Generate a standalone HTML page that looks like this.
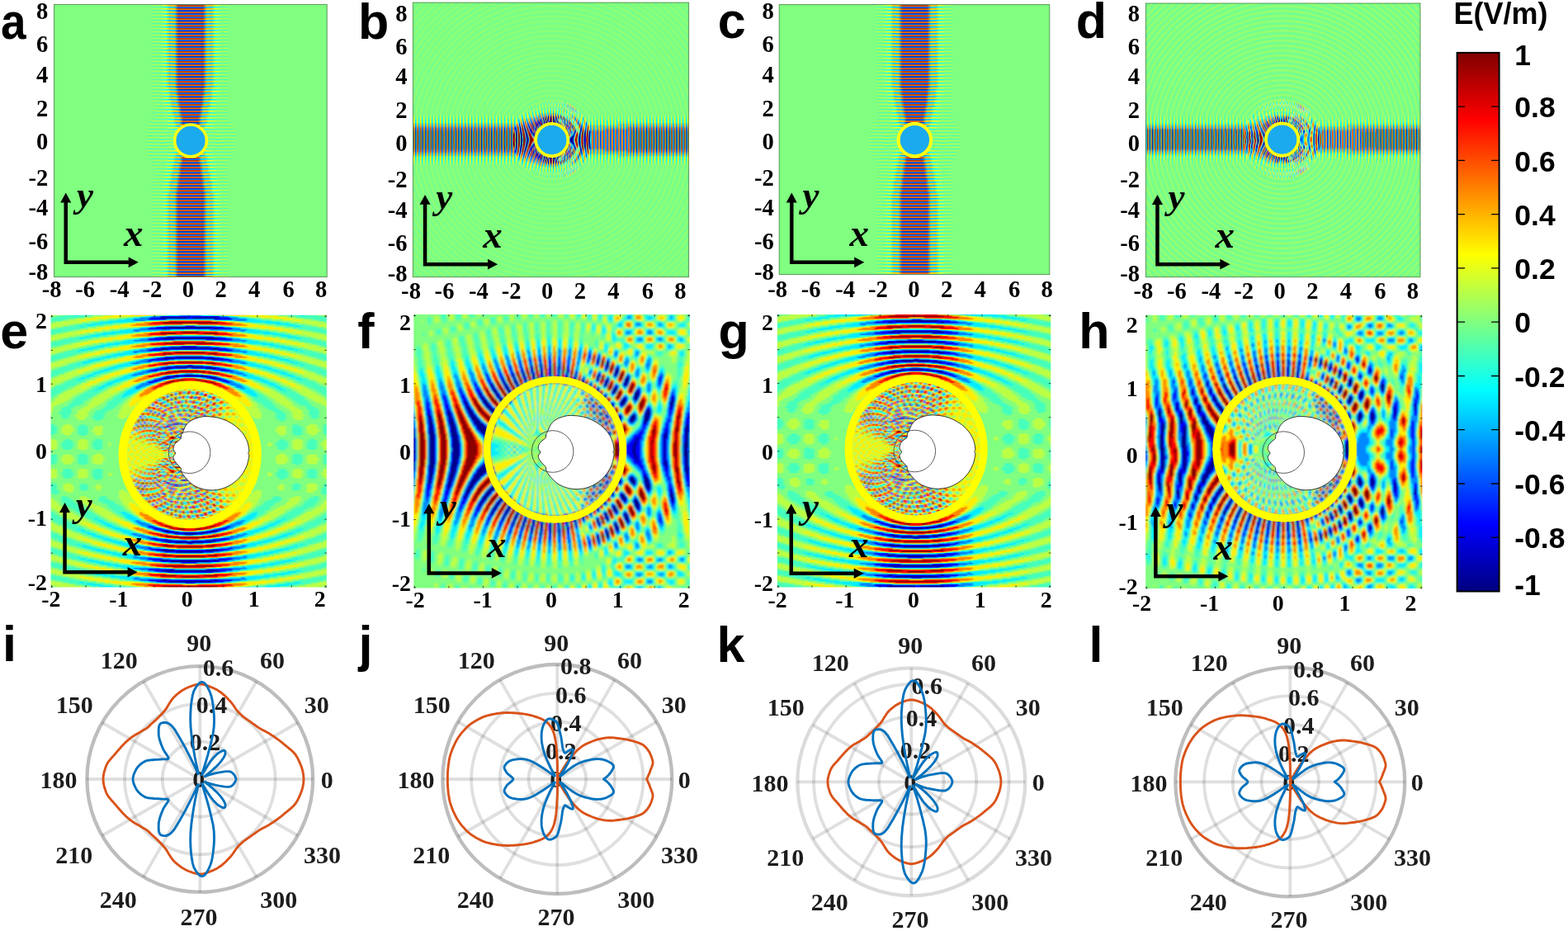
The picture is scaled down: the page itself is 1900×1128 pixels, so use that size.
<!DOCTYPE html>
<html lang="en"><head><meta charset="utf-8"><title>Figure</title>
<style>html,body{margin:0;padding:0;background:#fff}svg{display:block}text{white-space:pre}</style></head><body>
<svg width="1900" height="1128" viewBox="0 0 1900 1128">
<defs><path id="S344x86" d="M-2 0h90v1h-90v1h90v1h-90v1h90v1h-90v1h90v1h-90v1h90v1h-90v1h90v1h-90v1h90v1h-90v1h90v1h-90v1h90v1h-90v1h90v1h-90v1h90v1h-90v1h90v1h-90v1h90v1h-90v1h90v1h-90v1h90v1h-90v1h90v1h-90v1h90v1h-90v1h90v1h-90v1h90v1h-90v1h90v1h-90v1h90v1h-90v1h90v1h-90v1h90v1h-90v1h90v1h-90v1h90v1h-90v1h90v1h-90v1h90v1h-90v1h90v1h-90v1h90v1h-90v1h90v1h-90v1h90v1h-90v1h90v1h-90v1h90v1h-90v1h90v1h-90v1h90v1h-90v1h90v1h-90v1h90v1h-90v1h90v1h-90v1h90v1h-90v1h90v1h-90v1h90v1h-90v1h90v1h-90v1h90v1h-90v1h90v1h-90v1h90v1h-90v1h90v1h-90v1h90v1h-90v1h90v1h-90v1h90v1h-90v1h90v1h-90v1h90v1h-90v1h90v1h-90v1h90v1h-90v1h90v1h-90v1h90v1h-90v1h90v1h-90v1h90v1h-90v1h90v1h-90v1h90v1h-90v1h90v1h-90v1h90v1h-90v1h90v1h-90v1h90v1h-90v1h90v1h-90v1h90v1h-90v1h90v1h-90v1h90v1h-90v1h90v1h-90v1h90v1h-90v1h90v1h-90v1h90v1h-90v1h90v1h-90v1h90v1h-90v1h90v1h-90v1h90v1h-90v1h90v1h-90v1h90v1h-90v1h90v1h-90v1h90v1h-90v1h90v1h-90v1h90v1h-90v1h90v1h-90v1h90v1h-90v1h90v1h-90v1h90v1h-90v1h90v1h-90v1h90v1h-90v1h90v1h-90v1h90v1h-90v1h90v1h-90v1h90v1h-90v1h90v1h-90v1h90v1h-90v1h90v1h-90v1h90v1h-90v1h90v1h-90v1h90v1h-90v1h90v1h-90v1h90v1h-90v1h90v1h-90v1h90v1h-90v1h90v1h-90v1h90v1h-90v1h90v1h-90v1h90v1h-90v1h90v1h-90v1h90v1h-90v1h90v1h-90v1h90v1h-90v1h90v1h-90v1h90v1h-90v1h90v1h-90v1h90v1h-90v1h90v1h-90v1h90v1h-90v1h90v1h-90v1h90v1h-90v1h90v1h-90v1h90v1h-90v1h90v1h-90v1h90v1h-90v1h90v1h-90v1h90v1h-90v1h90v1h-90v1h90v1h-90v1h90v1h-90v1h90v1h-90v1h90v1h-90v1h90v1h-90v1h90v1h-90v1h90v1h-90v1h90v1h-90v1h90v1h-90v1h90v1h-90v1h90v1h-90v1h90v1h-90v1h90v1h-90v1h90v1h-90v1h90v1h-90v1h90v1h-90v1h90v1h-90v1h90v1h-90v1h90v1h-90v1h90v1h-90v1h90v1h-90v1h90v1h-90v1h90v1h-90v1h90v1h-90v1h90v1h-90v1h90v1h-90v1h90v1h-90v1h90v1h-90v1h90v1h-90v1h90v1h-90v1h90v1h-90v1h90v1h-90v1h90v1h-90v1h90v1h-90v1h90v1h-90v1h90v1h-90v1h90v1h-90v1h90v1h-90v1h90v1h-90v1h90v1h-90v1h90v1h-90v1h90v1h-90v1h90v1h-90v1h90v1h-90v1h90v1h-90v1h90v1h-90v1h90v1h-90v1h90v1h-90"/><path id="S344x64" d="M-2 0h68v1h-68v1h68v1h-68v1h68v1h-68v1h68v1h-68v1h68v1h-68v1h68v1h-68v1h68v1h-68v1h68v1h-68v1h68v1h-68v1h68v1h-68v1h68v1h-68v1h68v1h-68v1h68v1h-68v1h68v1h-68v1h68v1h-68v1h68v1h-68v1h68v1h-68v1h68v1h-68v1h68v1h-68v1h68v1h-68v1h68v1h-68v1h68v1h-68v1h68v1h-68v1h68v1h-68v1h68v1h-68v1h68v1h-68v1h68v1h-68v1h68v1h-68v1h68v1h-68v1h68v1h-68v1h68v1h-68v1h68v1h-68v1h68v1h-68v1h68v1h-68v1h68v1h-68v1h68v1h-68v1h68v1h-68v1h68v1h-68v1h68v1h-68v1h68v1h-68v1h68v1h-68v1h68v1h-68v1h68v1h-68v1h68v1h-68v1h68v1h-68v1h68v1h-68v1h68v1h-68v1h68v1h-68v1h68v1h-68v1h68v1h-68v1h68v1h-68v1h68v1h-68v1h68v1h-68v1h68v1h-68v1h68v1h-68v1h68v1h-68v1h68v1h-68v1h68v1h-68v1h68v1h-68v1h68v1h-68v1h68v1h-68v1h68v1h-68v1h68v1h-68v1h68v1h-68v1h68v1h-68v1h68v1h-68v1h68v1h-68v1h68v1h-68v1h68v1h-68v1h68v1h-68v1h68v1h-68v1h68v1h-68v1h68v1h-68v1h68v1h-68v1h68v1h-68v1h68v1h-68v1h68v1h-68v1h68v1h-68v1h68v1h-68v1h68v1h-68v1h68v1h-68v1h68v1h-68v1h68v1h-68v1h68v1h-68v1h68v1h-68v1h68v1h-68v1h68v1h-68v1h68v1h-68v1h68v1h-68v1h68v1h-68v1h68v1h-68v1h68v1h-68v1h68v1h-68v1h68v1h-68v1h68v1h-68v1h68v1h-68v1h68v1h-68v1h68v1h-68v1h68v1h-68v1h68v1h-68v1h68v1h-68v1h68v1h-68v1h68v1h-68v1h68v1h-68v1h68v1h-68v1h68v1h-68v1h68v1h-68v1h68v1h-68v1h68v1h-68v1h68v1h-68v1h68v1h-68v1h68v1h-68v1h68v1h-68v1h68v1h-68v1h68v1h-68v1h68v1h-68v1h68v1h-68v1h68v1h-68v1h68v1h-68v1h68v1h-68v1h68v1h-68v1h68v1h-68v1h68v1h-68v1h68v1h-68v1h68v1h-68v1h68v1h-68v1h68v1h-68v1h68v1h-68v1h68v1h-68v1h68v1h-68v1h68v1h-68v1h68v1h-68v1h68v1h-68v1h68v1h-68v1h68v1h-68v1h68v1h-68v1h68v1h-68v1h68v1h-68v1h68v1h-68v1h68v1h-68v1h68v1h-68v1h68v1h-68v1h68v1h-68v1h68v1h-68v1h68v1h-68v1h68v1h-68v1h68v1h-68v1h68v1h-68v1h68v1h-68v1h68v1h-68v1h68v1h-68v1h68v1h-68v1h68v1h-68v1h68v1h-68v1h68v1h-68v1h68v1h-68v1h68v1h-68v1h68v1h-68v1h68v1h-68v1h68v1h-68v1h68v1h-68v1h68v1h-68v1h68v1h-68v1h68v1h-68v1h68v1h-68v1h68v1h-68v1h68v1h-68v1h68v1h-68v1h68v1h-68v1h68v1h-68v1h68v1h-68v1h68v1h-68"/><path id="S250x137" d="M-2 0h141v1h-141v1h141v1h-141v1h141v1h-141v1h141v1h-141v1h141v1h-141v1h141v1h-141v1h141v1h-141v1h141v1h-141v1h141v1h-141v1h141v1h-141v1h141v1h-141v1h141v1h-141v1h141v1h-141v1h141v1h-141v1h141v1h-141v1h141v1h-141v1h141v1h-141v1h141v1h-141v1h141v1h-141v1h141v1h-141v1h141v1h-141v1h141v1h-141v1h141v1h-141v1h141v1h-141v1h141v1h-141v1h141v1h-141v1h141v1h-141v1h141v1h-141v1h141v1h-141v1h141v1h-141v1h141v1h-141v1h141v1h-141v1h141v1h-141v1h141v1h-141v1h141v1h-141v1h141v1h-141v1h141v1h-141v1h141v1h-141v1h141v1h-141v1h141v1h-141v1h141v1h-141v1h141v1h-141v1h141v1h-141v1h141v1h-141v1h141v1h-141v1h141v1h-141v1h141v1h-141v1h141v1h-141v1h141v1h-141v1h141v1h-141v1h141v1h-141v1h141v1h-141v1h141v1h-141v1h141v1h-141v1h141v1h-141v1h141v1h-141v1h141v1h-141v1h141v1h-141v1h141v1h-141v1h141v1h-141v1h141v1h-141v1h141v1h-141v1h141v1h-141v1h141v1h-141v1h141v1h-141v1h141v1h-141v1h141v1h-141v1h141v1h-141v1h141v1h-141v1h141v1h-141v1h141v1h-141v1h141v1h-141v1h141v1h-141v1h141v1h-141v1h141v1h-141v1h141v1h-141v1h141v1h-141v1h141v1h-141v1h141v1h-141v1h141v1h-141v1h141v1h-141v1h141v1h-141v1h141v1h-141v1h141v1h-141v1h141v1h-141v1h141v1h-141v1h141v1h-141v1h141v1h-141v1h141v1h-141v1h141v1h-141v1h141v1h-141v1h141v1h-141v1h141v1h-141v1h141v1h-141v1h141v1h-141v1h141v1h-141v1h141v1h-141v1h141v1h-141v1h141v1h-141v1h141v1h-141v1h141v1h-141v1h141v1h-141v1h141v1h-141v1h141v1h-141v1h141v1h-141v1h141v1h-141v1h141v1h-141v1h141v1h-141v1h141v1h-141v1h141v1h-141v1h141v1h-141v1h141v1h-141v1h141v1h-141v1h141v1h-141v1h141v1h-141v1h141v1h-141v1h141v1h-141v1h141v1h-141v1h141v1h-141v1h141v1h-141v1h141v1h-141v1h141v1h-141v1h141v1h-141v1h141v1h-141v1h141v1h-141"/><path id="S168x172" d="M-2 0h176v1h-176v1h176v1h-176v1h176v1h-176v1h176v1h-176v1h176v1h-176v1h176v1h-176v1h176v1h-176v1h176v1h-176v1h176v1h-176v1h176v1h-176v1h176v1h-176v1h176v1h-176v1h176v1h-176v1h176v1h-176v1h176v1h-176v1h176v1h-176v1h176v1h-176v1h176v1h-176v1h176v1h-176v1h176v1h-176v1h176v1h-176v1h176v1h-176v1h176v1h-176v1h176v1h-176v1h176v1h-176v1h176v1h-176v1h176v1h-176v1h176v1h-176v1h176v1h-176v1h176v1h-176v1h176v1h-176v1h176v1h-176v1h176v1h-176v1h176v1h-176v1h176v1h-176v1h176v1h-176v1h176v1h-176v1h176v1h-176v1h176v1h-176v1h176v1h-176v1h176v1h-176v1h176v1h-176v1h176v1h-176v1h176v1h-176v1h176v1h-176v1h176v1h-176v1h176v1h-176v1h176v1h-176v1h176v1h-176v1h176v1h-176v1h176v1h-176v1h176v1h-176v1h176v1h-176v1h176v1h-176v1h176v1h-176v1h176v1h-176v1h176v1h-176v1h176v1h-176v1h176v1h-176v1h176v1h-176v1h176v1h-176v1h176v1h-176v1h176v1h-176v1h176v1h-176v1h176v1h-176v1h176v1h-176v1h176v1h-176v1h176v1h-176v1h176v1h-176v1h176v1h-176v1h176v1h-176v1h176v1h-176v1h176v1h-176v1h176v1h-176v1h176v1h-176v1h176v1h-176v1h176v1h-176v1h176v1h-176v1h176v1h-176v1h176v1h-176v1h176v1h-176v1h176v1h-176v1h176v1h-176v1h176v1h-176"/><filter id="bl" x="-2%" y="-2%" width="104%" height="104%"><feGaussianBlur stdDeviation="0.9 0.5"/></filter><filter id="blf" x="-2%" y="-2%" width="104%" height="104%"><feGaussianBlur stdDeviation="1.0"/></filter><filter id="bla" x="-2%" y="-2%" width="104%" height="104%"><feGaussianBlur stdDeviation="1.6 0.7"/></filter><filter id="blb" x="-2%" y="-2%" width="104%" height="104%"><feGaussianBlur stdDeviation="0.55 0.8"/></filter><g id="Fa"><g transform="matrix(2 0 0 1 -86 -171.5)" stroke-width="1.1" fill="none"><use href="#S344x86" stroke="#af5" stroke-dasharray="0 22 46 51 34 233 46 51 34 233 46 51 34 233 46 51 34 233 46 51 34 233 46 51 34 233 46 51 34 233 46 51 34 233 46 51 34 233 46 51 34 233 46 51 34 233 46 51 34 233 46 51 34 233 46 51 34 233 46 51 34 233 46 51 34 233 46 51 34 233 46 51 34 233 46 51 34 233 46 51 34 233 46 51 34 233 46 51 34 233 46 51 34 233 46 51 34 233 46 51 34 233 46 51 34 233 46 51 34 233 46 51 34 233 46 51 34 233 46 51 34 233 46 52 32 234 46 52 32 235 44 53 32 235 44 54 30 236 44 54 30 237 42 55 30 236 44 55 28 236 46 54 28 234 50 52 28 233 52 51 28 232 54 55 18 237 54 45 4 30 4 227 20 14 20 45 4 30 4 227 20 14 20 45 4 30 4 227 20 14 20 45 4 30 4 227 54 57 14 239 54 51 26 234 52 51 28 235 48 53 28 236 46 54 28 237 44 54 30 236 44 54 30 236 44 54 30 236 44 53 32 235 44 53 32 234 46 52 32 234 46 51 34 233 46 51 34 233 46 51 34 233 46 51 34 233 46 51 34 233 46 51 34 233 46 51 34 233 46 51 34 233 46 51 34 233 46 51 34 233 46 51 34 233 46 51 34 233 46 51 34 233 46 51 34 233 46 51 34 233 46 51 34 233 46 51 34 233 46 51 34 233 46 51 34 233 46 51 34 233 46 51 34 233 46 51 34 233 46 51 34 233 46 51 34 233 46 51 34 233 46 51 34 233 46 51 34 233 46 51 34 233 46 51 34 233 46 51 34 999999"/><use href="#S344x86" stroke="#ef2" stroke-dasharray="0 28 34 62 24 244 34 62 24 244 34 62 24 244 34 62 24 244 34 62 24 244 34 62 24 244 34 62 24 244 34 62 24 244 34 62 24 244 34 62 24 244 34 62 24 244 34 62 24 244 34 62 24 244 34 62 24 244 34 62 24 244 34 62 24 244 34 62 24 244 34 62 24 244 34 62 24 244 34 62 24 244 34 62 24 244 34 62 24 244 34 62 24 244 34 62 24 244 34 62 24 244 34 62 24 244 34 62 24 244 34 62 24 244 34 63 22 246 32 64 22 246 32 64 22 246 32 65 20 248 30 66 20 248 30 66 20 249 28 68 18 250 28 68 18 250 28 68 18 250 28 69 16 252 26 70 16 252 26 72 12 258 18 1806 10 348 22 74 12 254 26 71 14 253 26 70 16 251 28 69 16 251 28 68 18 250 28 68 18 249 30 66 20 248 30 66 20 248 30 66 20 247 32 64 22 246 32 64 22 246 32 64 22 245 34 62 24 244 34 62 24 244 34 62 24 244 34 62 24 244 34 62 24 244 34 62 24 244 34 62 24 244 34 62 24 244 34 62 24 244 34 62 24 244 34 62 24 244 34 62 24 244 34 62 24 244 34 62 24 244 34 62 24 244 34 62 24 244 34 62 24 244 34 62 24 244 34 62 24 244 34 62 24 244 34 62 24 244 34 62 24 244 34 62 24 244 34 62 24 244 34 62 24 244 34 62 24 244 34 62 24 244 34 62 24 999999"/><use href="#S344x86" stroke="#f90" stroke-dasharray="0 31 28 68 18 250 28 68 18 250 28 68 18 250 28 68 18 250 28 68 18 250 28 68 18 250 28 68 18 250 28 68 18 250 28 68 18 250 28 68 18 250 28 68 18 250 28 68 18 250 28 68 18 250 28 68 18 250 28 68 18 250 28 68 18 250 28 68 18 250 28 68 18 250 28 68 18 250 28 68 18 250 28 68 18 250 28 68 18 250 28 68 18 250 28 68 18 250 28 68 18 250 28 68 18 250 28 68 18 250 28 69 16 252 26 70 16 252 26 70 16 252 26 70 16 253 24 71 16 253 24 72 14 255 22 73 14 255 22 73 14 255 22 74 12 257 20 75 12 257 20 75 12 258 18 77 10 260 16 350 12 2171 14 348 18 77 10 258 20 75 12 257 20 75 12 257 20 75 12 256 22 73 14 255 22 73 14 254 24 72 14 254 24 72 14 254 24 71 16 252 26 70 16 252 26 70 16 252 26 70 16 251 28 68 18 250 28 68 18 250 28 68 18 250 28 68 18 250 28 68 18 250 28 68 18 250 28 68 18 250 28 68 18 250 28 68 18 250 28 68 18 250 28 68 18 250 28 68 18 250 28 68 18 250 28 68 18 250 28 68 18 250 28 68 18 250 28 68 18 250 28 68 18 250 28 68 18 250 28 68 18 250 28 68 18 250 28 68 18 250 28 68 18 250 28 68 18 250 28 68 18 250 28 68 18 250 28 68 18 999999"/><use href="#S344x86" stroke="#a10" stroke-dasharray="0 36 18 346 18 346 18 346 18 346 18 346 18 346 18 346 18 346 18 346 18 346 18 346 18 346 18 346 18 346 18 346 18 346 18 346 18 346 18 346 18 346 18 346 18 346 18 346 18 346 18 346 18 346 18 346 18 346 18 346 18 347 16 348 16 348 16 349 14 350 14 350 14 351 12 352 12 352 12 354 8 2903 10 353 12 352 12 351 14 350 14 350 14 350 14 349 16 348 16 348 16 347 18 346 18 346 18 346 18 346 18 346 18 346 18 346 18 346 18 346 18 346 18 346 18 346 18 346 18 346 18 346 18 346 18 346 18 346 18 346 18 346 18 346 18 346 18 346 18 346 18 346 18 346 18 346 18 346 18 999999"/><use href="#S344x86" stroke="#5fa" stroke-dasharray="0 204 46 51 34 233 46 51 34 233 46 51 34 233 46 51 34 233 46 51 34 233 46 51 34 233 46 51 34 233 46 51 34 233 46 51 34 233 46 51 34 233 46 51 34 233 46 51 34 233 46 51 34 233 46 51 34 233 46 51 34 233 46 51 34 233 46 51 34 233 46 51 34 233 46 51 34 233 46 51 34 233 46 51 34 233 46 51 34 233 46 51 34 233 46 51 34 233 46 51 34 233 46 51 34 233 46 51 34 233 46 51 34 233 46 51 34 233 46 51 34 233 46 52 32 235 44 53 32 235 44 54 30 236 44 54 30 236 44 54 30 236 44 55 28 236 46 54 28 235 48 53 28 234 50 52 28 233 52 52 26 233 54 58 12 240 21 12 21 45 4 30 4 227 20 14 20 45 4 30 4 227 20 14 20 45 4 30 4 227 54 46 3 30 3 228 54 53 22 236 52 51 28 234 50 52 28 235 48 53 28 236 46 54 28 237 44 54 30 236 44 54 30 236 44 54 30 236 44 53 32 235 44 53 32 234 46 52 32 234 46 51 34 233 46 51 34 233 46 51 34 233 46 51 34 233 46 51 34 233 46 51 34 233 46 51 34 233 46 51 34 233 46 51 34 233 46 51 34 233 46 51 34 233 46 51 34 233 46 51 34 233 46 51 34 233 46 51 34 233 46 51 34 233 46 51 34 233 46 51 34 233 46 51 34 233 46 51 34 233 46 51 34 233 46 51 34 233 46 51 34 233 46 51 34 233 46 51 34 233 46 51 34 233 46 51 34 233 46 51 34 233 46 51 34 233 46 51 34 999999"/><use href="#S344x86" stroke="#2fe" stroke-dasharray="0 210 34 62 24 244 34 62 24 244 34 62 24 244 34 62 24 244 34 62 24 244 34 62 24 244 34 62 24 244 34 62 24 244 34 62 24 244 34 62 24 244 34 62 24 244 34 62 24 244 34 62 24 244 34 62 24 244 34 62 24 244 34 62 24 244 34 62 24 244 34 62 24 244 34 62 24 244 34 62 24 244 34 62 24 244 34 62 24 244 34 62 24 244 34 62 24 244 34 62 24 244 34 62 24 244 34 62 24 244 34 62 24 245 32 64 22 246 32 64 22 246 32 64 22 247 30 66 20 248 30 66 20 248 30 67 18 250 28 68 18 250 28 68 18 250 28 69 16 252 26 70 16 252 26 71 14 255 22 75 10 261 14 1805 16 344 24 72 14 253 26 70 16 252 26 70 16 251 28 68 18 250 28 68 18 250 28 68 18 249 30 66 20 248 30 66 20 248 30 65 22 246 32 64 22 246 32 64 22 246 32 64 22 245 34 62 24 244 34 62 24 244 34 62 24 244 34 62 24 244 34 62 24 244 34 62 24 244 34 62 24 244 34 62 24 244 34 62 24 244 34 62 24 244 34 62 24 244 34 62 24 244 34 62 24 244 34 62 24 244 34 62 24 244 34 62 24 244 34 62 24 244 34 62 24 244 34 62 24 244 34 62 24 244 34 62 24 244 34 62 24 244 34 62 24 244 34 62 24 244 34 62 24 244 34 62 24 244 34 62 24 244 34 62 24 999999"/><use href="#S344x86" stroke="#09f" stroke-dasharray="0 213 28 68 18 250 28 68 18 250 28 68 18 250 28 68 18 250 28 68 18 250 28 68 18 250 28 68 18 250 28 68 18 250 28 68 18 250 28 68 18 250 28 68 18 250 28 68 18 250 28 68 18 250 28 68 18 250 28 68 18 250 28 68 18 250 28 68 18 250 28 68 18 250 28 68 18 250 28 68 18 250 28 68 18 250 28 68 18 250 28 68 18 250 28 68 18 250 28 68 18 250 28 68 18 250 28 68 18 251 26 70 16 252 26 70 16 252 26 70 16 252 26 70 16 253 24 72 14 254 24 72 14 255 22 73 14 255 22 74 12 257 20 75 12 257 20 75 12 257 20 75 12 258 18 77 10 261 14 2172 10 351 16 347 18 77 10 258 20 75 12 257 20 75 12 256 22 74 12 256 22 73 14 255 22 73 14 254 24 72 14 254 24 71 16 252 26 70 16 252 26 70 16 252 26 70 16 252 26 69 18 250 28 68 18 250 28 68 18 250 28 68 18 250 28 68 18 250 28 68 18 250 28 68 18 250 28 68 18 250 28 68 18 250 28 68 18 250 28 68 18 250 28 68 18 250 28 68 18 250 28 68 18 250 28 68 18 250 28 68 18 250 28 68 18 250 28 68 18 250 28 68 18 250 28 68 18 250 28 68 18 250 28 68 18 250 28 68 18 250 28 68 18 250 28 68 18 250 28 68 18 250 28 68 18 250 28 68 18 999999"/><use href="#S344x86" stroke="#01a" stroke-dasharray="0 218 18 346 18 346 18 346 18 346 18 346 18 346 18 346 18 346 18 346 18 346 18 346 18 346 18 346 18 346 18 346 18 346 18 346 18 346 18 346 18 346 18 346 18 346 18 346 18 346 18 346 18 346 18 346 18 346 18 347 16 348 16 348 16 348 16 349 14 350 14 350 14 351 12 352 12 353 10 3265 12 352 12 352 12 351 14 350 14 350 14 349 16 348 16 348 16 348 16 347 18 346 18 346 18 346 18 346 18 346 18 346 18 346 18 346 18 346 18 346 18 346 18 346 18 346 18 346 18 346 18 346 18 346 18 346 18 346 18 346 18 346 18 346 18 346 18 346 18 346 18 346 18 346 18 346 18 999999"/></g></g><g id="Fb"><g transform="matrix(0 2 1 0 -171.5 -64)" stroke-width="1.1" fill="none"><use href="#S344x64" stroke="#bf4" stroke-dasharray="0 19 30 41 26 179 30 41 26 179 30 41 26 179 30 41 26 179 30 41 26 179 30 41 26 179 30 41 26 179 30 41 26 179 30 41 26 179 30 41 26 179 30 41 26 179 30 41 26 179 30 41 26 179 30 41 26 179 30 41 26 179 30 41 26 179 30 41 26 179 30 41 26 179 30 41 26 179 30 41 26 179 30 41 26 179 30 41 26 179 30 41 26 179 30 41 26 179 30 41 26 179 30 41 26 179 30 41 26 179 30 41 26 179 30 41 26 179 30 41 26 179 30 41 26 179 30 41 26 50 12 60 6 51 6 18 6 41 6 14 6 45 9 4 9 49 18 45 2 7 12 7 2 40 3 10 2 10 3 41 6 16 6 44 5 12 5 49 6 6 6 44 3 6 14 6 3 37 5 6 10 6 4 41 4 6 6 6 4 45 4 14 4 40 3 5 4 12 4 5 2 35 4 5 4 8 4 5 4 33 1 4 3 4 4 6 4 4 3 42 4 3 12 3 4 38 2 5 3 3 10 3 3 5 1 35 3 4 3 3 8 3 3 4 4 31 1 4 3 3 3 3 6 3 3 3 3 3 1 36 3 3 3 3 4 3 3 3 3 37 2 4 3 2 2 3 4 3 2 2 3 4 2 1 2 30 4 3 3 2 2 3 2 3 2 2 3 3 4 31 1 3 4 2 2 2 2 8 2 2 2 2 4 32 1 6 3 2 2 2 10 2 2 2 3 36 2 5 2 2 2 12 2 2 2 4 2 2 1 30 4 3 2 2 14 2 2 3 4 31 1 3 4 2 2 16 2 2 4 31 2 6 3 2 1 16 1 2 3 7 1 28 3 4 2 2 16 2 2 4 3 1 1 25 1 4 4 3 2 18 2 3 3 37 3 2 20 2 3 32 2 7 2 22 2 5 1 2 2 27 4 4 2 18 2 4 4 27 1 6 4 2 20 2 4 4 1 34 3 22 3 33 2 1 3 5 22 5 4 1 2 27 6 26 6 27 1 8 28 6 1 25 1 11 22 10 1 25 1 2 7 24 8 1 2 22 1 2 1 5 30 7 2 21 1 43 1 2 1 22 2 1 39 2 1 25 1 2 18 2 18 3 1 22 1 2 1 42 2 28 34 6 1 22 2 1 7 9 2 4 2 9 6 2 1 36 7 2 4 2 7 37 1 5 4 7 3 2 3 7 4 4 1 2 1 27 6 5 1 3 3 2 3 3 1 5 6 27 2 2 1 6 4 2 3 2 2 2 3 2 4 6 1 1 2 24 1 2 1 4 4 3 2 3 2 2 2 3 2 3 4 5 1 27 1 2 5 1 4 3 10 3 4 1 5 4 1 24 2 1 2 9 3 10 3 9 2 2 2 31 3 1 4 3 8 3 4 1 3 4 1 26 1 2 1 1 2 1 1 2 1 1 1 2 3 8 3 2 1 1 1 2 1 1 2 2 1 26 1 2 2 7 3 5 4 5 3 7 2 1 2 31 1 1 2 1 1 1 1 2 4 4 4 2 1 1 1 1 2 1 1 5 1 26 2 2 1 2 1 26 1 2 1 2 1 28 1 2 2 1 1 2 1 1 5 3 4 3 5 1 1 2 1 1 3 1 1 26 1 6 1 1 2 1 1 18 1 1 2 1 1 5 1 26 1 1 1 3 1 7 1 1 12 1 1 7 1 3 1 1 1 27 1 1 3 1 1 2 1 1 2 14 2 1 1 2 1 1 3 1 1 28 1 2 1 3 1 1 2 1 1 2 1 1 8 1 1 2 1 1 2 1 1 3 1 30 1 1 1 6 1 2 1 1 2 1 2 4 2 1 2 1 1 2 1 6 1 1 1 27 1 1 1 1 3 2 1 1 2 1 2 2 1 4 1 2 2 1 2 1 1 2 1 1 1 1 1 1 1 29 1 1 3 1 5 1 1 12 1 1 5 1 3 1 1 30 1 1 1 7 1 18 1 7 1 1 1 29 1 1 1 1 1 1 2 5 2 10 2 5 2 3 1 1 1 31 1 1 4 1 2 1 3 10 3 1 2 1 4 1 1 32 1 1 1 1 1 3 1 2 2 4 4 4 2 2 1 3 1 1 1 1 1 31 1 1 1 5 1 7 6 7 1 5 1 1 1 33 1 3 3 1 2 2 10 2 2 1 3 3 1 34 1 3 3 3 1 2 10 2 1 3 3 37 1 1 1 10 3 4 3 10 1 1 1 35 1 6 4 10 4 6 1 42 5 12 5 45 5 16 5 41 4 7 8 7 4 39 2 7 12 7 2 45 18 49 7 8 7 45 6 14 6 42 4 20 4 51 8 57 16 52 18 46 8 12 8 44 5 12 5 182 28 44 22 182 28 44 22 181 30 42 24 180 30 42 24 180 30 42 24 180 30 42 24 180 30 42 24 180 30 42 24 180 30 42 24 180 30 42 24 180 30 42 24 180 30 42 24 180 30 42 24 180 30 42 24 180 30 42 24 180 30 41 26 179 30 41 26 179 30 41 26 179 30 41 26 179 30 41 26 179 30 41 26 179 30 41 26 179 30 41 26 179 30 41 26 179 30 41 26 179 30 41 26 179 30 41 26 179 30 41 26 179 30 41 26 179 30 41 26 179 30 41 26 999999"/><use href="#S344x64" stroke="#fe0" stroke-dasharray="0 21 26 47 18 185 26 47 18 185 26 47 18 185 26 47 18 185 26 47 18 185 26 47 18 185 26 47 18 185 26 47 18 185 26 47 18 185 26 47 18 185 26 47 18 185 26 47 18 185 26 47 18 185 26 47 18 185 26 47 18 185 26 47 18 185 26 47 18 185 26 47 18 185 26 47 18 185 26 47 18 185 26 47 18 185 26 47 18 185 26 47 18 185 26 47 18 185 26 47 18 185 26 47 18 185 26 47 18 185 26 47 18 185 26 47 18 185 26 47 18 185 26 47 18 185 26 47 18 54 12 61 4 54 4 18 4 46 3 14 3 48 8 6 8 50 16 56 10 50 3 22 3 42 5 16 5 45 5 12 5 49 6 6 6 44 1 8 14 7 2 39 3 6 10 6 3 42 4 6 6 6 4 45 4 14 4 41 1 6 4 12 4 43 3 5 4 8 4 5 2 40 3 4 4 6 4 4 3 43 3 3 5 2 5 3 3 39 1 6 3 3 10 3 3 41 3 4 3 3 8 3 3 4 2 38 3 3 3 3 6 3 3 3 3 41 2 3 3 3 4 3 3 3 2 38 1 5 3 2 2 4 2 4 2 2 3 40 3 3 2 3 2 3 2 3 2 3 2 3 2 38 2 3 2 2 2 8 2 2 2 3 2 40 3 2 2 2 10 2 2 2 3 43 2 2 2 12 2 2 2 40 3 3 2 2 14 2 2 3 3 37 2 3 2 16 2 3 2 40 3 2 1 16 1 2 3 7 1 28 1 6 2 2 16 2 2 5 1 34 3 3 2 18 2 3 3 37 3 2 20 2 3 41 2 22 2 37 1 1 2 4 1 20 1 4 3 35 3 3 20 3 3 40 2 22 2 45 22 7 1 33 4 26 4 38 28 44 22 39 7 24 7 36 28 107 36 2 1 31 4 24 4 106 32 34 5 10 2 4 2 10 5 2 1 36 7 2 4 2 7 43 4 7 2 4 2 7 4 36 5 10 2 2 2 10 4 1 1 38 4 2 2 3 2 3 2 2 4 9 1 33 2 4 2 3 2 2 2 3 2 4 2 39 2 4 2 3 10 3 2 4 2 31 1 13 3 10 3 10 1 2 1 33 2 1 1 1 2 3 8 3 2 1 1 1 2 32 1 7 1 2 1 1 1 2 3 8 3 2 1 1 1 2 1 32 1 2 2 7 3 5 4 5 3 7 1 37 2 1 1 1 1 3 2 6 2 3 1 1 1 1 2 38 1 32 1 31 1 2 2 1 1 2 1 1 5 3 4 3 5 1 1 2 1 1 3 28 1 8 2 1 1 18 1 1 2 34 1 1 1 11 1 1 12 1 1 11 1 29 1 1 1 1 1 1 1 2 1 1 2 14 2 1 1 2 1 1 1 1 1 1 1 35 1 1 2 1 1 2 1 1 8 1 1 2 1 1 2 1 1 34 1 1 1 11 2 1 2 4 2 1 2 11 1 1 1 27 1 1 1 1 1 1 1 4 2 1 2 10 2 1 2 4 1 1 1 1 1 1 1 35 2 1 2 1 1 12 1 1 2 1 2 36 1 1 1 7 1 18 1 7 1 1 1 29 1 1 1 3 2 5 2 10 2 5 2 3 1 1 1 31 1 2 3 1 2 1 3 10 3 1 2 1 3 35 1 10 1 6 2 6 1 10 1 31 1 1 1 13 6 13 1 1 1 37 3 2 1 2 10 2 1 2 3 43 2 3 1 2 10 2 1 3 2 38 1 1 1 10 2 6 2 10 1 1 1 35 1 6 2 14 2 49 4 14 4 47 2 18 2 44 2 9 6 9 3 39 1 8 12 55 16 51 6 8 6 46 5 16 5 44 1 22 1 53 8 57 16 52 18 49 5 12 5 51 1 12 1 189 22 51 14 189 22 51 14 188 24 50 14 188 24 49 16 187 24 49 16 187 24 49 16 187 24 49 16 187 24 49 16 187 24 49 16 187 24 49 16 187 24 49 16 187 24 48 18 186 24 48 18 186 24 48 18 186 24 48 18 186 24 48 18 185 26 47 18 185 26 47 18 185 26 47 18 185 26 47 18 185 26 47 18 185 26 47 18 185 26 47 18 185 26 47 18 185 26 47 18 185 26 47 18 185 26 47 18 185 26 47 18 185 26 47 18 185 26 47 18 185 26 47 18 999999"/><use href="#S344x64" stroke="#f80" stroke-dasharray="0 24 20 256 20 256 20 256 20 256 20 256 20 256 20 256 20 256 20 256 20 256 20 256 20 256 20 256 20 256 20 256 20 256 20 256 20 256 20 256 20 256 20 256 20 256 20 256 20 256 20 256 20 256 20 256 20 256 20 256 20 256 20 256 20 55 8 59 12 62 2 58 1 18 1 49 2 16 2 49 6 8 6 51 16 56 10 121 3 18 3 47 4 12 4 50 6 6 6 53 14 49 1 7 10 7 1 44 3 6 6 6 3 46 3 16 3 49 3 12 3 52 3 10 3 48 2 4 4 6 4 4 2 44 2 4 5 2 5 4 2 46 3 3 10 3 3 48 3 3 8 3 3 45 2 3 3 3 6 3 3 3 2 42 2 3 2 4 4 4 2 3 2 44 2 3 2 4 2 4 2 3 2 47 1 3 2 8 2 3 1 44 2 4 1 2 2 8 2 2 1 4 2 41 2 2 2 2 10 2 2 2 2 44 2 2 1 14 1 2 2 46 2 2 14 2 2 43 2 3 2 16 2 3 2 41 2 2 1 16 1 2 2 44 2 2 16 2 2 41 2 3 2 18 2 3 2 39 2 2 20 2 2 42 2 22 2 45 1 20 1 43 2 3 20 3 2 41 2 22 2 45 22 42 3 26 3 39 4 20 4 44 22 41 4 26 4 38 28 108 32 176 11 1 6 1 11 38 1 11 1 6 1 11 1 42 6 4 2 4 6 44 3 8 1 4 1 8 3 39 2 11 2 2 2 11 2 42 3 2 2 3 2 3 2 2 3 44 2 4 2 4 1 2 1 4 2 4 2 40 1 4 2 3 3 1 2 1 3 3 2 4 1 46 3 10 3 47 2 1 1 1 1 4 8 4 1 1 1 1 2 43 1 4 3 8 3 4 1 49 1 5 4 5 1 47 2 1 1 1 1 3 2 6 2 3 1 1 1 1 2 112 1 1 1 1 2 5 2 5 2 1 1 1 1 44 2 1 1 18 1 1 2 48 1 1 12 1 1 11 1 35 1 2 1 1 2 14 2 1 1 2 1 43 2 1 1 4 8 4 1 1 2 51 1 1 2 4 2 1 1 14 1 29 1 3 1 4 2 1 2 10 2 1 2 4 1 3 1 1 1 35 1 2 2 16 2 2 1 36 1 68 1 12 2 10 2 10 1 1 1 35 1 2 1 2 2 12 2 2 1 2 1 47 1 6 2 6 1 42 1 15 6 15 1 38 2 6 8 6 2 44 2 6 10 6 2 51 2 6 2 55 2 14 2 50 3 14 3 48 2 18 2 55 6 60 12 55 16 52 4 10 4 48 3 18 3 123 6 59 14 53 18 51 2 14 2 258 18 258 18 258 18 258 18 258 18 258 18 258 18 258 18 257 20 256 20 256 20 256 20 256 20 256 20 256 20 256 20 256 20 256 20 256 20 256 20 256 20 256 20 256 20 256 20 256 20 256 20 256 20 256 20 256 20 256 20 256 20 999999"/><use href="#S344x64" stroke="#f00" stroke-dasharray="0 26 16 260 16 260 16 260 16 260 16 260 16 260 16 260 16 260 16 260 16 260 16 260 16 260 16 260 16 260 16 260 16 260 16 260 16 260 16 260 16 260 16 260 16 260 16 260 16 260 16 260 16 260 16 260 16 260 16 260 16 260 16 260 16 57 8 59 12 261 4 10 4 53 14 58 8 193 3 14 3 51 4 8 4 55 12 59 8 54 1 8 4 8 1 48 2 16 2 50 3 12 3 52 3 10 3 55 3 6 3 52 1 5 3 4 3 5 1 48 1 5 8 5 1 50 2 4 6 4 2 52 1 5 4 5 1 49 1 4 1 4 4 4 1 4 1 46 1 3 2 4 2 4 2 3 1 48 1 3 1 10 1 3 1 50 1 3 1 8 1 3 1 47 1 3 2 2 10 2 2 3 1 44 2 2 1 14 1 2 2 46 2 2 14 2 2 44 1 3 1 18 1 3 1 42 1 3 1 16 1 3 1 44 2 2 16 2 2 46 2 18 2 44 2 2 20 2 2 43 1 22 1 46 1 20 1 43 2 3 20 3 2 41 2 22 2 45 22 43 1 28 1 41 2 22 2 110 1 28 1 41 26 111 28 179 10 2 4 2 10 51 1 6 1 54 6 4 2 4 6 44 3 22 3 113 2 3 2 3 2 3 2 3 2 44 1 5 2 4 1 2 1 4 2 5 1 45 2 3 3 1 2 1 3 3 2 52 2 10 2 48 1 4 1 4 8 4 1 4 1 49 2 8 2 55 1 5 4 5 1 47 2 1 1 20 1 1 2 112 1 1 1 1 1 14 1 1 1 1 1 44 1 2 1 18 1 2 1 48 1 1 12 1 1 50 1 1 2 14 2 1 1 46 2 6 8 6 2 51 1 1 2 4 2 1 1 54 1 1 2 10 2 1 1 50 1 18 1 121 1 12 1 48 1 5 2 12 2 5 1 122 4 55 1 7 8 7 1 45 1 6 4 2 4 6 1 185 3 14 3 126 4 62 10 57 6 2 6 267 4 61 12 54 7 4 7 330 12 264 12 264 12 264 12 263 14 262 14 262 14 262 14 262 14 262 14 262 14 261 16 260 16 260 16 260 16 260 16 260 16 260 16 260 16 260 16 260 16 260 16 260 16 260 16 260 16 260 16 260 16 260 16 260 16 260 16 260 16 999999"/><use href="#S344x64" stroke="#800" stroke-dasharray="0 28 12 264 12 264 12 264 12 264 12 264 12 264 12 264 12 264 12 264 12 264 12 264 12 264 12 264 12 264 12 264 12 264 12 264 12 264 12 264 12 264 12 264 12 264 12 264 12 264 12 264 12 264 12 264 12 264 12 264 12 264 12 264 12 59 3 2 3 60 10 263 2 12 2 55 12 59 8 264 3 10 3 55 12 59 8 64 2 129 1 14 1 54 2 10 2 56 2 8 2 58 3 4 3 54 1 5 8 5 1 50 1 5 6 5 1 52 1 5 4 5 1 54 1 5 2 5 1 51 1 3 2 10 2 3 1 48 1 3 1 10 1 3 1 50 1 3 1 8 1 3 1 52 1 2 10 2 1 53 1 14 1 50 2 2 14 2 2 48 1 18 1 46 1 3 1 16 1 3 1 44 2 2 16 2 2 47 1 18 1 50 18 48 1 22 1 46 1 20 1 48 20 46 2 22 2 45 22 114 2 22 2 182 24 320 9 2 4 2 9 114 2 2 2 4 2 4 2 2 2 45 2 22 2 114 2 4 1 3 2 3 1 4 2 50 2 12 2 51 2 3 2 2 2 2 2 3 2 52 1 12 1 48 1 4 1 5 6 5 1 4 1 49 1 10 1 119 1 1 1 20 1 1 1 115 1 18 1 46 1 24 1 50 12 52 1 1 1 16 1 1 1 54 8 59 1 10 1 54 1 1 1 12 1 1 1 50 1 18 1 121 1 12 1 54 2 12 2 129 2 65 6 62 2 4 2 193 2 16 2 192 10 58 3 6 3 334 10 56 4 8 4 3643 12 264 12 264 12 264 12 264 12 264 12 264 12 264 12 264 12 264 12 264 12 264 12 264 12 264 12 264 12 264 12 264 12 264 12 264 12 999999"/><use href="#S344x64" stroke="#4fb" stroke-dasharray="0 157 30 41 26 179 30 41 26 179 30 41 26 179 30 41 26 179 30 41 26 179 30 41 26 179 30 41 26 179 30 41 26 179 30 41 26 179 30 41 26 179 30 41 26 179 30 41 26 179 30 41 26 179 30 41 26 179 30 41 26 179 30 41 26 179 30 41 26 179 30 41 26 179 30 41 26 179 30 41 26 179 30 41 26 179 30 41 26 179 30 41 26 179 30 41 26 179 30 41 26 179 30 41 26 179 30 41 26 179 30 41 26 179 30 41 26 179 30 41 26 179 30 41 26 179 9 12 9 41 9 8 9 47 18 53 14 47 4 9 4 9 4 41 4 18 4 43 7 12 7 46 8 4 8 44 1 6 16 6 1 39 3 7 10 7 3 39 5 8 4 8 5 42 4 16 4 47 4 12 4 42 3 5 6 6 6 5 3 36 4 5 14 5 4 39 4 4 12 4 4 43 4 4 8 4 4 39 3 4 4 5 4 5 4 4 2 35 4 4 3 12 3 4 4 37 4 3 3 10 3 3 4 34 1 6 3 3 3 8 3 3 3 38 2 4 3 3 3 6 3 3 3 4 2 1 1 32 3 4 2 3 3 4 3 3 2 4 4 31 1 4 3 3 2 2 3 4 3 2 2 3 4 2 1 29 1 6 3 3 2 2 3 2 3 2 2 3 3 6 1 29 2 5 2 2 2 2 8 2 2 2 2 4 2 2 1 30 4 3 2 2 2 10 2 2 2 3 4 31 1 3 4 2 2 2 12 2 2 2 4 32 1 6 3 2 2 14 2 2 3 7 1 28 3 4 2 2 16 2 2 4 2 2 1 30 4 3 2 1 16 1 2 3 4 36 3 2 2 16 2 2 3 32 2 7 2 2 18 2 2 8 1 28 4 3 2 20 2 3 4 1 1 25 1 5 4 2 22 2 4 3 1 34 3 2 18 2 3 33 2 1 2 5 2 20 2 6 1 2 2 27 5 3 22 3 5 27 1 7 3 24 3 5 1 36 24 35 1 2 5 28 6 1 2 29 6 22 6 28 2 10 24 8 1 2 1 22 2 1 4 32 3 2 1 25 1 2 39 1 2 22 1 2 1 42 2 65 1 2 1 22 2 1 39 2 1 92 1 2 1 7 9 2 4 2 9 6 1 2 2 26 7 8 2 4 2 8 7 27 2 1 4 5 7 3 2 3 7 5 3 2 1 34 5 1 3 3 2 3 3 1 5 35 1 4 4 4 2 3 2 2 2 3 2 4 4 3 1 2 1 24 2 1 4 4 3 2 3 2 2 2 3 2 3 4 4 2 1 24 2 8 1 4 3 10 3 4 1 8 1 24 1 2 1 3 5 1 2 3 10 3 2 1 5 4 1 29 3 9 3 8 3 9 3 28 2 4 1 2 1 1 1 1 2 4 6 4 2 1 1 1 1 2 1 5 2 25 2 4 2 1 2 4 3 6 3 4 2 1 2 4 1 2 1 28 2 6 1 1 2 4 4 4 2 1 1 6 3 28 1 5 2 1 4 18 4 1 2 4 2 25 1 1 1 5 2 1 1 6 2 4 2 6 1 1 2 5 1 31 3 4 1 1 1 1 14 1 1 1 1 4 3 30 1 3 1 1 7 16 7 1 1 1 1 1 1 27 1 1 1 5 2 4 1 1 10 1 1 4 2 5 1 1 1 29 1 2 1 5 1 1 2 1 1 8 1 1 2 1 1 5 1 3 1 29 1 1 1 1 1 1 2 1 2 1 1 5 4 5 1 1 2 1 2 1 1 1 1 1 1 29 1 1 1 6 1 5 1 2 4 2 1 5 1 6 1 1 1 29 1 1 1 3 1 5 1 1 12 1 1 5 1 3 1 1 1 30 1 1 1 1 2 1 2 1 2 1 2 1 6 1 2 1 2 1 2 1 2 1 1 1 1 31 1 1 1 1 1 2 1 1 3 3 8 3 3 1 1 2 1 1 1 1 1 31 1 1 1 11 10 11 1 1 1 32 1 1 1 2 2 1 1 3 4 4 4 3 1 1 2 4 1 33 1 1 1 1 3 1 2 1 3 8 3 1 2 1 3 1 1 1 1 33 1 1 1 1 1 7 1 10 1 7 1 1 1 1 1 34 1 6 1 18 1 6 1 35 1 4 4 1 2 3 4 3 2 1 4 4 1 35 1 3 3 6 8 6 3 40 4 6 12 6 4 37 2 6 16 7 1 43 6 8 6 47 5 14 5 43 5 18 5 41 2 8 8 8 2 48 14 52 20 48 6 10 6 44 6 16 6 44 2 18 2 53 10 58 12 49 28 44 22 182 28 44 22 181 30 42 24 180 30 42 24 180 30 42 24 180 30 42 24 180 30 42 24 180 30 42 24 180 30 42 24 180 30 42 24 180 30 42 24 180 30 42 24 180 30 42 24 180 30 42 24 180 30 42 24 180 30 42 24 180 30 41 26 179 30 41 26 179 30 41 26 179 30 41 26 179 30 41 26 179 30 41 26 179 30 41 26 179 30 41 26 179 30 41 26 179 30 41 26 179 30 41 26 179 30 41 26 179 30 41 26 179 30 41 26 179 30 41 26 179 30 41 26 999999"/><use href="#S344x64" stroke="#0ef" stroke-dasharray="0 159 26 47 18 185 26 47 18 185 26 47 18 185 26 47 18 185 26 47 18 185 26 47 18 185 26 47 18 185 26 47 18 185 26 47 18 185 26 47 18 185 26 47 18 185 26 47 18 185 26 47 18 185 26 47 18 185 26 47 18 185 26 47 18 185 26 47 18 185 26 47 18 185 26 47 18 185 26 47 18 185 26 47 18 185 26 47 18 185 26 47 18 185 26 47 18 185 26 47 18 185 26 47 18 185 26 47 18 185 26 47 18 185 26 47 18 185 26 47 18 185 26 47 18 185 7 12 7 47 5 8 5 51 18 54 12 50 2 22 2 44 2 20 2 45 6 12 6 47 7 6 7 51 16 46 2 8 10 8 2 40 4 8 4 8 4 43 4 16 4 47 4 12 4 42 1 8 4 8 4 7 1 38 3 5 14 5 3 41 3 5 10 5 3 44 3 5 8 5 3 40 1 6 3 5 4 5 3 43 2 5 3 12 3 5 1 40 2 4 3 10 3 4 2 42 3 3 3 8 3 3 3 38 1 5 3 3 3 6 3 3 3 40 3 4 2 3 3 4 3 3 2 4 2 38 3 3 2 2 3 4 3 2 2 3 3 40 3 3 2 2 3 2 3 2 2 3 3 37 1 5 2 2 2 2 8 2 2 2 2 40 2 4 2 2 2 10 2 2 2 4 1 38 2 3 2 2 12 2 2 3 2 40 3 2 2 14 2 2 3 36 1 6 2 2 1 14 1 2 2 5 1 34 3 3 2 1 16 1 2 3 3 37 3 2 2 16 2 2 3 41 2 2 18 2 2 37 1 1 1 4 2 20 2 4 2 35 3 3 20 3 3 39 3 2 18 2 3 43 2 20 2 40 3 3 22 3 4 36 3 24 3 42 24 35 1 2 4 30 4 34 5 22 5 41 24 107 36 171 38 2 1 103 9 2 4 2 9 39 5 8 2 4 2 8 5 33 1 7 3 1 2 4 2 4 2 1 3 7 1 2 1 34 4 3 2 3 2 3 2 3 4 40 4 4 2 3 2 2 2 3 2 4 4 34 3 5 3 2 3 2 2 2 3 2 3 5 1 1 1 37 1 4 2 12 2 4 1 41 2 1 1 1 2 3 10 3 2 1 1 1 2 5 1 29 2 10 3 8 3 10 1 29 1 8 1 1 1 1 2 4 6 4 2 1 1 1 1 8 1 33 1 1 2 4 3 6 3 4 2 1 1 5 1 31 2 8 2 4 4 4 2 9 2 28 1 6 1 1 4 18 4 1 1 6 1 27 1 5 2 1 1 6 1 6 1 6 1 1 2 5 1 32 1 7 1 1 3 1 6 1 3 1 1 7 2 30 1 5 2 1 4 16 4 1 2 3 1 1 1 27 1 1 1 6 1 4 1 1 10 1 1 4 1 6 1 1 1 32 1 5 1 1 2 1 1 8 1 1 2 1 1 5 1 33 1 1 1 1 1 1 2 1 2 1 1 5 4 5 1 1 2 1 2 1 1 1 1 1 1 29 1 1 1 6 1 5 1 2 4 2 1 5 1 6 1 1 1 41 1 1 2 1 6 1 2 1 1 42 1 3 2 1 1 2 2 1 2 1 6 1 2 1 2 2 1 1 2 3 1 31 1 1 1 1 1 2 1 2 1 4 8 4 1 2 1 2 1 1 1 1 1 45 10 51 2 5 4 4 4 5 2 4 1 33 1 3 2 2 2 1 3 8 3 1 2 2 2 3 1 33 1 11 1 10 1 11 1 41 1 18 1 47 4 7 2 7 4 4 1 40 2 6 8 6 2 51 12 47 1 7 16 7 1 43 6 8 6 48 4 14 4 44 4 20 4 41 2 9 6 9 2 49 12 54 18 49 6 10 6 47 2 18 2 122 10 58 12 52 22 51 14 189 22 51 14 188 24 50 14 188 24 50 14 188 24 49 16 187 24 49 16 187 24 49 16 187 24 49 16 187 24 49 16 187 24 49 16 187 24 49 16 187 24 49 16 187 24 48 18 186 24 48 18 186 24 48 18 186 24 48 18 185 26 47 18 185 26 47 18 185 26 47 18 185 26 47 18 185 26 47 18 185 26 47 18 185 26 47 18 185 26 47 18 185 26 47 18 185 26 47 18 185 26 47 18 185 26 47 18 185 26 47 18 185 26 47 18 185 26 47 18 185 26 47 18 999999"/><use href="#S344x64" stroke="#08f" stroke-dasharray="0 162 20 256 20 256 20 256 20 256 20 256 20 256 20 256 20 256 20 256 20 256 20 256 20 256 20 256 20 256 20 256 20 256 20 256 20 256 20 256 20 256 20 256 20 256 20 256 20 256 20 256 20 256 20 256 20 256 20 256 20 256 20 256 4 12 4 51 3 10 3 52 18 54 12 120 1 22 1 46 4 14 4 49 6 6 6 53 14 57 10 51 2 10 2 10 2 45 3 16 3 48 4 12 4 51 4 8 4 54 6 2 6 49 2 6 10 6 2 45 2 5 8 5 2 48 3 5 4 5 3 50 3 12 3 46 2 4 3 10 3 4 2 42 3 3 3 8 3 3 3 45 2 3 3 6 3 3 2 48 2 3 2 6 2 3 2 45 1 4 2 2 3 4 3 2 2 4 1 42 2 3 2 2 2 4 2 2 2 3 2 44 2 3 1 2 8 2 1 3 2 46 2 2 2 10 2 2 2 43 2 3 2 2 12 2 2 3 2 41 2 2 1 16 1 2 2 44 2 2 1 14 1 2 2 41 1 4 2 1 16 1 2 4 1 38 2 3 1 18 1 3 2 41 2 2 18 2 2 44 2 20 2 41 2 4 20 4 2 39 2 24 2 43 2 20 2 41 1 4 22 4 1 38 3 24 3 42 24 111 4 22 4 42 24 110 32 174 16 2 16 109 8 2 4 2 8 41 4 8 2 4 2 8 4 43 1 3 1 10 1 3 1 46 4 3 1 4 2 4 1 3 4 41 2 5 1 4 2 2 2 4 1 5 2 43 3 2 3 2 2 2 3 2 3 50 2 12 2 46 2 3 2 3 10 3 2 3 2 47 2 10 2 49 1 1 1 1 2 4 6 4 2 1 1 1 1 42 1 2 1 4 3 6 3 4 1 2 1 37 1 9 1 6 2 6 1 39 1 8 4 18 4 116 1 1 3 2 4 2 3 1 1 39 1 8 4 16 4 50 1 1 10 1 1 13 1 38 1 1 2 1 1 8 1 1 2 1 1 46 1 1 2 1 1 6 2 6 1 1 2 1 1 36 1 8 1 5 1 2 4 2 1 5 1 50 1 2 1 2 4 2 1 2 1 46 2 4 2 2 1 1 6 1 1 2 2 4 2 35 1 9 1 5 6 5 1 9 1 45 4 2 4 51 1 6 3 6 3 6 1 38 1 3 2 5 3 8 3 5 2 182 2 18 2 46 2 7 6 7 2 52 10 56 7 2 7 52 4 10 4 50 3 14 3 46 1 24 1 53 6 60 12 55 16 50 5 12 5 192 8 59 12 54 7 4 7 258 18 258 18 258 18 258 18 258 18 258 18 258 18 258 18 257 20 256 20 256 20 256 20 256 20 256 20 256 20 256 20 256 20 256 20 256 20 256 20 256 20 256 20 256 20 256 20 256 20 256 20 256 20 256 20 256 20 256 20 256 20 999999"/><use href="#S344x64" stroke="#00f" stroke-dasharray="0 164 16 260 16 260 16 260 16 260 16 260 16 260 16 260 16 260 16 260 16 260 16 260 16 260 16 260 16 260 16 260 16 260 16 260 16 260 16 260 16 260 16 260 16 260 16 260 16 260 16 260 16 260 16 260 16 260 16 260 16 260 16 260 2 12 2 53 2 12 2 53 16 56 10 192 2 16 2 50 5 8 5 53 14 58 8 123 2 18 2 49 3 12 3 52 4 8 4 55 4 4 4 58 10 53 2 6 6 6 2 48 2 7 2 7 2 50 3 12 3 53 2 10 2 50 1 4 3 8 3 4 1 46 2 3 2 8 2 3 2 48 2 3 2 6 2 3 2 50 2 3 2 4 2 3 2 47 1 4 1 3 2 4 2 3 1 4 1 44 2 3 1 2 8 2 1 3 2 46 2 2 1 12 1 2 2 48 2 2 12 2 2 46 1 3 1 16 1 3 1 44 2 2 1 14 1 2 2 46 2 2 14 2 2 44 1 3 1 18 1 3 1 42 2 2 18 2 2 45 1 20 1 48 20 45 2 24 2 43 2 20 2 47 20 45 2 24 2 43 24 111 4 22 4 43 22 112 30 177 14 2 14 111 7 3 4 3 7 42 3 8 2 4 2 8 3 111 2 20 2 42 2 10 2 2 2 10 2 43 3 3 2 2 2 2 2 3 3 50 2 12 2 46 2 3 2 4 8 4 2 3 2 47 2 10 2 49 1 3 2 4 6 4 2 3 1 42 1 7 2 8 2 7 1 111 1 2 1 18 1 2 1 116 1 1 2 3 4 3 2 1 1 48 1 2 1 16 1 2 1 52 10 56 2 12 2 50 2 1 1 6 2 6 1 1 2 47 1 5 1 2 4 2 1 5 1 53 1 2 4 2 1 55 2 4 6 4 2 51 1 5 6 5 1 56 2 4 2 59 3 6 3 50 1 6 2 8 2 6 1 183 2 18 2 55 6 62 8 58 4 6 4 53 4 10 4 197 2 63 10 57 14 52 2 16 2 194 6 60 12 57 2 8 2 264 12 264 12 264 12 264 12 263 14 262 14 262 14 262 14 262 14 262 14 262 14 261 16 260 16 260 16 260 16 260 16 260 16 260 16 260 16 260 16 260 16 260 16 260 16 260 16 260 16 260 16 260 16 260 16 260 16 260 16 260 16 999999"/><use href="#S344x64" stroke="#008" stroke-dasharray="0 166 12 264 12 264 12 264 12 264 12 264 12 264 12 264 12 264 12 264 12 264 12 264 12 264 12 264 12 264 12 264 12 264 12 264 12 264 12 264 12 264 12 264 12 264 12 264 12 264 12 264 12 264 12 264 12 264 12 264 12 264 12 401 14 58 8 264 3 10 3 55 12 59 8 194 2 14 2 53 2 10 2 56 3 6 3 58 10 61 6 57 1 16 1 52 1 14 1 54 1 12 1 56 1 10 1 57 2 8 2 53 2 3 2 6 2 3 2 50 1 4 1 6 1 4 1 52 1 3 2 4 2 3 1 50 1 3 1 3 6 3 1 3 1 48 1 2 1 12 1 2 1 50 1 2 12 2 1 51 1 16 1 48 1 3 1 14 1 3 1 46 1 20 1 48 1 18 1 47 1 2 18 2 1 46 1 20 1 48 1 18 1 46 1 24 1 44 2 20 2 47 20 45 2 24 2 43 24 112 2 24 2 44 22 113 28 179 3 9 1 2 1 9 3 112 7 3 4 3 7 43 1 9 1 6 1 9 1 112 1 22 1 43 1 11 1 2 1 11 1 45 1 4 2 2 2 2 2 4 1 52 1 12 1 48 1 3 2 4 8 4 2 3 1 48 2 10 2 53 1 6 4 6 1 46 1 26 1 111 1 2 1 18 1 2 1 116 1 1 1 12 1 1 1 48 1 22 1 52 10 122 2 1 1 14 1 1 2 57 2 63 1 2 4 2 1 55 2 5 4 5 2 51 1 5 2 2 2 5 1 57 1 4 1 60 2 8 2 57 1 10 1 190 1 20 1 56 4 63 8 59 2 8 2 55 2 12 2 263 10 58 3 6 3 268 4 61 12 3645 12 264 12 264 12 264 12 264 12 264 12 264 12 264 12 264 12 264 12 264 12 264 12 264 12 264 12 264 12 264 12 264 12 264 12 264 12 999999"/></g></g><g id="Fd"><g transform="matrix(0 2 1 0 -171.5 -64)" stroke-width="1.1" fill="none"><use href="#S344x64" stroke="#bf4" stroke-dasharray="0 20 28 44 22 182 28 44 22 182 28 44 22 182 28 44 22 182 28 44 22 182 28 44 22 182 28 44 22 182 28 44 22 182 28 44 22 182 28 44 22 182 28 44 22 182 28 44 22 182 28 44 22 182 28 44 22 182 28 44 22 182 28 44 22 182 28 44 22 182 28 44 22 182 28 44 22 182 28 44 22 182 28 44 22 182 28 44 22 182 28 44 22 182 28 44 22 182 28 44 22 182 28 44 22 182 28 44 22 182 28 44 22 182 28 44 22 182 28 44 22 182 28 44 22 182 28 44 9 2 11 52 12 56 2 1 10 49 5 18 5 44 2 19 1 47 5 10 2 1 4 48 21 44 1 6 15 5 1 52 8 50 3 21 4 41 6 15 6 45 6 8 8 49 19 42 2 9 13 9 1 37 5 7 8 6 6 39 4 9 2 7 5 43 5 13 5 48 5 9 5 8 1 33 2 1 1 6 5 6 5 5 4 33 1 3 4 5 13 4 4 41 4 4 10 4 4 5 1 38 4 4 8 4 4 38 2 7 3 4 6 4 3 6 2 31 1 2 4 4 3 5 2 5 3 4 3 3 1 28 2 4 4 3 3 10 3 3 4 3 2 28 1 7 3 3 3 8 3 3 3 37 2 6 3 2 3 6 3 2 3 5 2 2 1 30 4 4 3 2 10 2 3 4 2 4 1 27 1 5 3 3 2 14 2 3 3 4 1 27 1 8 3 2 16 2 3 34 1 2 1 6 3 2 14 2 3 5 2 2 1 29 4 4 2 16 2 4 3 1 1 29 1 4 4 3 18 3 4 3 1 27 1 8 3 20 3 9 1 23 1 2 2 6 3 18 3 5 2 2 1 28 5 4 20 4 3 1 1 29 1 5 3 24 3 4 2 35 3 20 3 33 1 2 2 1 1 5 22 5 3 2 2 27 1 1 5 24 5 30 2 6 28 6 1 37 22 35 1 2 2 1 3 28 3 1 1 2 2 29 34 30 2 9 22 9 1 2 1 91 1 2 39 2 2 93 2 18 1 2 1 18 1 2 1 29 14 4 14 30 1 2 2 1 5 10 4 10 7 2 2 93 2 6 9 2 6 2 9 6 1 29 1 1 5 7 2 6 2 7 5 29 1 2 2 1 1 6 1 2 2 3 4 3 2 2 1 6 1 1 1 2 2 33 1 1 2 3 1 4 2 4 1 3 2 1 1 7 1 26 2 4 4 4 2 2 3 2 3 2 2 4 4 3 2 26 1 2 4 3 1 1 2 2 3 2 2 2 3 2 2 1 1 3 2 1 2 2 1 23 1 2 1 4 1 6 3 10 3 6 1 6 1 26 2 5 2 1 1 1 2 2 10 2 2 1 1 1 2 6 1 29 1 1 2 4 1 1 1 16 1 1 1 4 2 1 1 28 1 2 1 3 2 1 1 5 3 6 3 5 1 1 2 3 2 28 1 2 1 4 2 1 1 1 2 4 4 4 2 1 1 1 2 6 2 27 1 1 1 2 2 9 3 4 3 9 2 4 1 26 1 2 1 4 2 1 1 1 5 2 4 2 5 1 1 1 2 3 2 2 1 25 1 1 1 1 1 5 2 1 1 1 1 12 1 1 1 1 2 5 1 1 1 1 1 27 1 1 1 1 3 26 3 1 1 1 1 29 1 1 1 2 4 1 2 1 14 1 2 1 4 2 1 1 1 28 1 1 1 1 1 4 1 1 2 1 2 1 2 4 2 1 2 1 2 1 1 4 1 1 1 1 1 27 1 1 1 1 1 6 1 18 1 6 1 1 1 1 1 34 2 2 1 2 1 2 1 6 1 2 1 2 1 2 2 4 1 30 1 1 1 3 2 1 2 1 4 8 4 1 2 1 2 3 1 1 1 29 1 1 1 1 1 7 2 12 2 7 1 1 1 1 1 31 1 3 1 2 1 7 1 4 1 7 1 2 1 3 1 32 1 6 3 1 2 2 8 2 2 1 3 6 1 31 1 1 1 1 1 2 2 2 2 2 8 2 2 2 2 2 1 1 1 1 1 33 1 1 1 10 2 4 2 10 1 1 1 36 1 3 1 2 4 2 1 4 1 2 4 2 1 5 1 33 1 1 1 5 5 10 5 5 1 1 1 38 2 2 1 16 1 2 2 2 1 39 3 9 4 9 3 50 10 58 12 52 8 1 4 1 8 45 6 14 5 43 5 18 5 111 1 6 12 6 1 46 20 49 8 4 8 50 1 16 1 47 5 16 5 46 4 4 4 4 4 55 8 121 26 46 20 184 26 46 20 184 26 46 20 184 26 46 20 184 26 45 22 183 26 45 22 183 26 45 22 183 26 45 22 183 26 45 22 183 26 45 22 182 28 44 22 182 28 44 22 182 28 44 22 182 28 44 22 182 28 44 22 182 28 44 22 182 28 44 22 182 28 44 22 182 28 44 22 182 28 44 22 182 28 44 22 182 28 44 22 182 28 44 22 182 28 44 22 182 28 44 22 182 28 44 22 182 28 44 22 182 28 44 22 182 28 44 22 182 28 44 22 182 28 44 22 999999"/><use href="#S344x64" stroke="#fe0" stroke-dasharray="0 23 22 50 16 188 22 50 16 188 22 50 16 188 22 50 16 188 22 50 16 188 22 50 16 188 22 50 16 188 22 50 16 188 22 50 16 188 22 50 16 188 22 50 16 188 22 50 16 188 22 50 16 188 22 50 16 188 22 50 16 188 22 50 16 188 22 50 16 188 22 50 16 188 22 50 16 188 22 50 16 188 22 50 16 188 22 50 16 188 22 50 16 188 22 50 16 188 22 50 16 188 22 50 16 188 22 50 16 188 22 50 16 188 22 50 16 188 22 50 16 188 22 50 16 188 22 50 5 3 3 1 4 55 12 59 9 53 2 18 2 116 5 10 1 3 3 49 20 52 14 58 4 1 3 51 1 69 4 15 5 46 6 9 6 50 7 1 10 54 13 9 1 49 8 7 1 44 2 11 1 7 4 45 4 14 4 48 5 10 4 42 1 9 5 7 4 8 1 38 2 6 12 6 2 42 4 4 10 5 3 45 3 4 8 4 3 40 1 7 3 5 4 5 3 51 2 5 2 5 2 47 3 4 2 10 2 4 3 43 2 3 3 8 3 3 2 38 1 7 2 3 2 8 2 3 2 42 2 4 2 3 10 3 2 4 2 32 1 5 3 3 2 14 2 3 3 4 1 36 3 2 16 2 3 37 1 6 3 2 14 2 3 9 1 31 1 5 2 16 2 5 1 32 1 5 3 3 18 3 3 41 2 22 2 33 1 10 3 18 3 9 1 31 2 4 20 4 2 32 1 5 3 24 3 41 3 20 3 33 1 11 22 10 1 31 3 26 3 39 4 20 4 44 22 35 1 2 1 40 1 32 30 43 22 9 1 2 1 91 1 2 1 2 34 1 1 2 1 114 1 2 1 18 1 2 1 30 13 4 13 31 1 2 1 3 3 11 1 2 1 11 3 2 1 2 1 95 1 7 8 2 6 2 8 7 1 32 4 7 2 6 2 7 4 30 1 2 1 9 1 2 2 3 4 3 2 2 1 8 1 2 1 36 2 3 1 4 2 4 1 3 2 37 1 6 2 4 2 2 3 2 3 2 2 4 2 6 1 29 1 1 1 4 1 1 2 2 3 2 2 2 3 2 2 1 1 4 1 2 1 26 1 7 1 6 3 10 3 6 1 6 1 27 1 5 2 1 1 1 2 2 10 2 2 1 1 1 2 6 1 31 2 6 1 16 1 6 2 30 1 7 1 1 1 5 3 6 3 5 1 1 1 34 1 7 2 1 1 1 2 4 4 4 2 1 1 1 2 40 2 9 3 4 3 9 2 4 1 29 1 4 2 1 1 1 5 2 4 2 5 1 1 1 2 33 1 9 2 1 1 16 1 1 2 7 1 1 1 27 1 4 2 26 2 4 1 34 2 1 1 1 2 1 2 1 8 1 2 1 2 1 1 1 2 33 1 1 1 6 1 1 2 1 2 1 1 6 1 1 2 1 2 1 1 6 1 1 1 27 1 1 1 1 1 6 1 18 1 6 1 1 1 1 1 34 2 5 1 12 1 5 2 4 1 30 1 1 1 3 2 1 2 1 3 10 3 1 2 1 2 3 1 1 1 29 1 1 1 9 2 12 2 9 1 1 1 31 1 6 1 20 1 6 1 32 1 6 3 1 2 2 8 2 2 1 3 6 1 31 1 1 1 4 1 3 2 2 8 2 2 3 1 4 1 1 1 33 1 1 1 10 2 4 2 10 1 1 1 43 3 12 3 8 1 33 1 7 4 12 4 7 1 38 1 3 1 16 1 3 1 42 3 10 2 10 3 50 10 58 12 53 7 1 1 2 1 1 7 48 4 14 4 190 12 54 18 50 8 4 8 118 2 16 2 57 4 63 8 124 20 52 14 190 20 52 14 190 20 52 14 190 20 52 14 189 22 51 14 189 22 51 14 189 22 51 14 189 22 51 14 189 22 51 14 189 22 51 14 189 22 50 16 188 22 50 16 188 22 50 16 188 22 50 16 188 22 50 16 188 22 50 16 188 22 50 16 188 22 50 16 188 22 50 16 188 22 50 16 188 22 50 16 188 22 50 16 188 22 50 16 188 22 50 16 188 22 50 16 188 22 50 16 188 22 50 16 188 22 50 16 188 22 50 16 188 22 50 16 188 22 50 16 999999"/><use href="#S344x64" stroke="#f80" stroke-dasharray="0 25 18 258 18 258 18 258 18 258 18 258 18 258 18 258 18 258 18 258 18 258 18 258 18 258 18 258 18 258 18 258 18 258 18 258 18 258 18 258 18 258 18 258 18 258 18 258 18 258 18 258 18 258 18 258 18 258 18 258 18 258 18 258 18 56 1 4 2 60 12 60 4 1 3 193 3 14 2 50 7 1 11 53 13 59 4 2 1 122 1 1 1 68 4 10 2 1 2 52 6 2 7 56 12 60 7 53 1 20 1 1 1 47 2 15 4 49 3 12 3 52 5 7 3 56 5 2 5 51 2 5 10 5 2 46 3 5 6 5 3 49 2 5 4 5 2 52 2 12 2 49 1 4 2 10 2 4 1 45 2 4 2 8 2 4 2 46 2 3 2 8 2 3 2 48 2 3 10 3 2 45 1 4 2 14 2 4 1 42 2 3 16 3 2 45 2 2 14 2 2 48 2 16 2 45 1 4 18 4 1 42 2 22 2 45 2 18 2 48 20 45 2 24 2 43 2 20 2 46 22 43 2 26 2 40 4 20 4 44 22 113 28 178 30 121 1 2 1 53 12 4 12 53 1 2 1 123 4 1 2 3 6 3 2 1 4 41 3 7 2 6 2 7 3 44 1 2 2 3 4 3 2 2 1 48 1 20 1 44 2 4 2 2 3 2 3 2 2 4 2 45 2 2 3 2 2 2 3 2 2 51 2 12 2 48 1 1 1 1 1 4 8 4 1 1 1 1 1 111 1 1 1 5 2 8 2 5 1 1 1 42 2 1 1 1 2 4 4 4 2 1 1 1 2 40 1 10 3 4 3 10 1 4 1 34 2 1 1 1 5 2 4 2 5 1 1 1 2 33 1 10 1 1 1 16 1 1 1 38 1 38 1 37 1 2 1 1 2 1 8 1 2 1 1 2 1 38 1 6 1 1 2 1 1 12 1 1 2 1 1 8 1 27 1 1 1 36 1 1 1 35 1 5 1 12 1 5 1 36 1 9 1 1 2 12 2 1 1 9 1 29 1 1 1 10 1 12 1 10 1 1 1 106 2 2 1 4 2 2 2 4 1 2 2 38 1 11 1 2 2 4 2 2 1 11 1 46 2 4 2 56 2 14 2 51 3 12 3 194 1 1 4 1 1 60 2 1 4 1 2 54 2 3 1 8 1 3 2 48 4 14 4 192 8 58 14 54 3 10 3 264 8 126 16 260 16 260 16 260 16 260 16 260 16 260 16 260 16 259 18 258 18 258 18 258 18 258 18 258 18 258 18 258 18 258 18 258 18 258 18 258 18 258 18 258 18 258 18 258 18 258 18 258 18 258 18 258 18 258 18 258 18 258 18 999999"/><use href="#S344x64" stroke="#f00" stroke-dasharray="0 27 14 262 14 262 14 262 14 262 14 262 14 262 14 262 14 262 14 262 14 262 14 262 14 262 14 262 14 262 14 262 14 262 14 262 14 262 14 262 14 262 14 262 14 262 14 262 14 262 14 262 14 262 14 262 14 262 14 262 14 262 14 262 14 58 1 66 12 60 3 3 2 263 6 2 4 2 2 55 12 60 3 199 1 14 1 54 4 3 3 2 2 57 10 61 4 128 1 16 1 51 3 12 3 53 3 8 2 57 5 3 4 59 9 54 1 6 6 6 1 50 1 6 4 6 1 52 2 12 2 54 2 10 2 51 1 4 1 10 1 4 1 48 1 4 1 8 1 4 1 50 1 3 10 3 1 52 1 14 1 53 2 12 2 50 1 20 1 48 1 18 1 50 18 48 1 22 1 46 1 20 1 48 20 116 2 20 2 47 20 115 2 22 2 45 22 114 26 181 26 181 11 4 11 54 1 2 1 124 3 2 1 3 6 3 1 2 3 43 1 8 2 6 2 8 1 45 1 3 1 10 1 3 1 114 1 5 1 4 1 4 1 4 1 5 1 45 2 2 2 3 2 3 2 2 2 52 1 12 1 49 1 1 1 1 1 4 2 4 2 4 1 1 1 1 1 113 1 5 2 8 2 5 1 45 1 1 1 1 2 4 4 4 2 1 1 1 1 53 1 6 1 54 1 4 1 3 4 3 1 4 1 47 1 1 1 16 1 1 1 115 1 4 2 1 8 1 2 4 1 47 2 1 1 12 1 1 2 115 1 24 1 46 1 1 2 12 2 1 1 186 1 7 1 4 1 7 1 55 1 4 1 63 1 4 1 58 1 14 1 52 2 14 2 196 4 62 2 1 1 2 1 1 2 124 1 16 1 194 8 58 14 334 8 128 12 264 12 264 12 264 12 264 12 264 12 264 12 264 12 264 12 263 14 262 14 262 14 262 14 262 14 262 14 262 14 262 14 262 14 262 14 262 14 262 14 262 14 262 14 262 14 262 14 262 14 262 14 262 14 262 14 262 14 262 14 999999"/><use href="#S344x64" stroke="#800" stroke-dasharray="0 28 12 264 12 264 12 264 12 264 12 264 12 264 12 264 12 264 12 264 12 264 12 264 12 264 12 264 12 264 12 264 12 264 12 264 12 264 12 264 12 264 12 264 12 264 12 264 12 264 12 264 12 264 12 264 12 264 12 264 12 264 12 264 12 129 6 64 1 272 2 4 2 61 2 2 3 65 2 199 1 69 2 6 1 3 1 58 5 2 2 63 3 199 1 69 2 9 1 59 2 4 2 61 8 62 6 57 1 16 1 52 1 14 1 54 1 12 1 56 1 10 1 53 1 4 1 8 1 4 1 50 1 3 10 3 1 52 1 14 1 189 1 18 1 50 18 118 1 20 1 48 20 116 1 22 1 47 20 115 2 22 2 181 2 22 2 181 26 182 7 1 1 6 1 1 7 183 3 2 1 3 6 3 1 2 3 52 2 6 2 194 1 4 1 4 1 4 1 51 2 3 1 3 2 3 1 3 2 52 1 12 1 49 1 1 1 20 1 1 1 184 1 1 2 4 4 4 2 1 1 55 1 6 1 54 1 4 1 10 1 4 1 47 1 1 1 16 1 1 1 120 1 2 8 2 1 52 1 2 1 12 1 2 1 115 1 24 1 49 1 12 1 189 1 20 1 257 1 14 1 263 1 8 1 337 1 4 1 60 1 10 1 335 8 3441 10 266 10 266 10 266 10 266 10 265 12 264 12 264 12 264 12 264 12 264 12 264 12 264 12 264 12 264 12 264 12 264 12 264 12 264 12 999999"/><use href="#S344x64" stroke="#4fb" stroke-dasharray="0 158 28 44 22 182 28 44 22 182 28 44 22 182 28 44 22 182 28 44 22 182 28 44 22 182 28 44 22 182 28 44 22 182 28 44 22 182 28 44 22 182 28 44 22 182 28 44 22 182 28 44 22 182 28 44 22 182 28 44 22 182 28 44 22 182 28 44 22 182 28 44 22 182 28 44 22 182 28 44 22 182 28 44 22 182 28 44 22 182 28 44 22 182 28 44 22 182 28 44 22 182 28 44 22 182 28 44 22 182 28 44 22 182 28 44 22 182 28 44 22 182 28 44 22 125 1 56 8 12 8 44 3 14 5 49 18 51 19 45 3 6 8 8 3 111 3 1 1 16 5 43 10 8 7 46 20 52 14 47 4 7 8 10 1 1 1 39 5 19 6 41 6 14 5 46 6 9 6 41 1 8 8 2 6 8 2 33 2 1 2 6 13 6 5 37 5 5 9 6 4 42 5 5 5 6 4 46 4 14 4 6 1 33 1 1 2 5 4 10 4 6 3 32 1 3 3 4 4 8 4 4 3 4 1 29 1 5 4 3 4 6 4 3 4 4 2 37 3 3 4 4 4 3 3 38 2 6 3 3 10 3 3 5 2 2 1 30 5 4 2 3 8 3 2 4 3 4 1 27 2 4 4 3 2 3 6 3 2 3 4 4 1 36 3 3 2 10 2 3 3 34 1 2 1 6 3 2 14 2 3 5 1 2 2 29 4 4 2 16 2 4 2 2 1 29 1 5 3 3 2 14 2 3 3 4 1 27 1 8 3 2 16 2 3 37 1 6 3 18 3 5 2 2 1 28 5 4 2 16 2 4 3 1 1 29 1 5 3 3 18 3 3 4 2 35 3 20 3 9 1 23 1 2 2 7 22 6 2 2 1 28 6 3 20 3 4 1 1 28 2 5 4 22 4 4 2 36 24 34 1 2 2 1 2 30 2 1 1 2 2 27 1 1 6 22 6 30 2 7 26 7 1 94 1 2 9 22 8 2 2 30 32 31 2 40 1 2 1 31 28 32 1 2 18 4 17 2 2 44 4 45 2 8 10 4 10 8 1 2 1 28 8 2 1 3 1 4 1 3 1 2 8 29 1 2 2 1 3 9 2 6 2 9 3 1 1 2 2 34 4 1 2 2 6 2 2 1 4 10 1 24 2 5 4 3 1 2 3 4 3 2 1 3 4 4 2 29 6 5 1 3 2 4 2 3 1 5 4 1 2 26 1 2 2 7 3 2 2 3 2 3 2 2 3 7 1 2 2 25 2 5 2 4 2 3 2 2 2 3 2 4 2 6 1 27 1 3 2 1 1 1 4 3 10 3 4 1 1 1 2 2 2 26 1 2 3 1 1 7 2 10 2 7 1 1 1 1 2 2 1 23 1 4 1 2 1 1 2 1 1 18 1 1 2 1 1 6 1 27 1 3 1 2 1 1 1 1 3 3 6 3 3 1 1 1 1 2 1 4 1 26 1 1 2 2 1 1 1 4 1 2 4 4 4 2 1 4 1 1 1 1 1 3 1 25 1 3 1 3 1 1 7 3 4 3 7 1 1 3 1 1 1 1 1 26 1 3 1 1 1 2 1 1 1 5 1 6 1 5 1 1 1 2 1 4 1 28 1 1 1 2 2 1 1 2 1 3 2 2 4 2 2 3 1 2 1 1 2 2 1 1 1 27 1 1 1 5 1 1 2 1 16 1 2 1 1 3 1 1 1 1 1 27 1 3 1 5 1 2 1 14 1 2 1 5 1 32 1 1 1 1 3 8 1 2 4 2 1 8 3 3 1 29 1 1 1 2 2 1 2 1 2 1 12 1 2 1 2 1 2 2 1 1 1 31 1 6 1 1 2 1 2 1 6 1 2 1 2 1 1 6 1 32 1 1 1 1 1 2 1 7 8 7 1 2 1 1 1 1 1 31 1 1 1 3 3 1 1 2 12 2 1 1 3 3 1 1 1 31 1 1 1 3 2 1 7 6 7 1 2 3 1 1 1 32 1 1 1 9 2 8 2 9 1 1 1 33 1 1 1 2 1 2 2 16 2 2 1 2 1 1 1 33 1 6 3 1 3 8 3 1 3 6 1 37 1 2 2 4 1 2 4 2 1 4 2 2 1 38 1 1 3 7 10 7 3 1 1 35 1 6 1 2 14 2 1 6 1 44 6 4 6 49 3 2 2 10 2 2 3 3 1 37 1 2 4 18 4 2 1 41 1 22 1 51 12 54 18 49 8 1 4 1 8 46 5 14 5 113 3 20 3 46 1 2 14 2 1 51 16 55 2 8 2 50 9 8 9 46 20 184 26 46 20 184 26 46 20 184 26 46 20 184 26 46 20 184 26 45 22 183 26 45 22 183 26 45 22 183 26 45 22 183 26 45 22 182 28 44 22 182 28 44 22 182 28 44 22 182 28 44 22 182 28 44 22 182 28 44 22 182 28 44 22 182 28 44 22 182 28 44 22 182 28 44 22 182 28 44 22 182 28 44 22 182 28 44 22 182 28 44 22 182 28 44 22 182 28 44 22 182 28 44 22 182 28 44 22 182 28 44 22 182 28 44 22 182 28 44 22 182 28 44 22 999999"/><use href="#S344x64" stroke="#0ef" stroke-dasharray="0 161 22 50 16 188 22 50 16 188 22 50 16 188 22 50 16 188 22 50 16 188 22 50 16 188 22 50 16 188 22 50 16 188 22 50 16 188 22 50 16 188 22 50 16 188 22 50 16 188 22 50 16 188 22 50 16 188 22 50 16 188 22 50 16 188 22 50 16 188 22 50 16 188 22 50 16 188 22 50 16 188 22 50 16 188 22 50 16 188 22 50 16 188 22 50 16 188 22 50 16 188 22 50 16 188 22 50 16 188 22 50 16 188 22 50 16 188 22 50 16 188 22 50 16 188 5 12 5 65 1 52 10 1 7 52 15 57 3 1 4 123 2 19 3 45 8 10 6 47 19 53 13 58 3 1 4 53 4 20 2 44 5 15 4 48 5 9 6 50 8 2 6 54 13 7 1 42 2 6 9 6 3 44 3 7 4 7 3 46 4 14 3 41 1 8 4 11 3 45 2 5 4 8 4 5 2 40 4 4 3 6 3 4 4 43 3 4 3 4 3 4 3 47 2 3 10 3 2 44 1 5 2 3 8 3 2 5 1 40 2 4 2 12 2 4 2 5 1 36 3 3 2 10 2 3 3 37 1 7 2 2 14 2 2 48 2 16 2 38 1 5 3 3 2 14 2 3 3 4 1 36 2 3 16 3 2 44 3 18 3 9 1 31 2 4 2 16 2 4 2 32 1 5 3 3 18 3 3 41 3 20 3 33 1 11 22 10 1 30 4 3 20 3 4 31 1 5 4 22 4 42 24 34 1 2 1 40 1 31 4 24 4 40 26 7 1 94 1 2 1 3 4 24 4 2 1 2 1 33 28 75 1 2 1 33 24 34 1 2 1 2 15 4 15 1 1 2 1 45 4 46 1 8 7 1 2 4 2 1 7 8 1 2 1 29 5 22 5 30 1 2 1 14 1 8 1 13 1 2 1 36 2 2 2 2 6 2 2 2 2 37 1 6 3 3 1 2 2 6 2 2 1 3 3 6 1 31 4 5 1 3 2 4 2 3 1 5 4 29 1 2 1 9 2 2 2 3 2 3 2 2 2 11 1 33 2 4 2 3 2 2 2 3 2 4 2 6 1 27 1 3 1 2 1 2 3 3 10 3 3 2 1 2 1 30 1 14 2 10 2 11 2 2 1 23 1 9 2 1 1 18 1 1 2 36 1 3 1 2 1 1 1 1 3 3 6 3 3 1 1 1 1 2 1 4 1 32 1 1 1 7 4 4 4 7 1 1 1 31 1 7 1 1 7 3 4 3 7 1 1 7 1 26 1 5 1 2 1 1 1 5 1 6 1 5 1 1 1 2 1 4 1 28 1 1 1 3 1 1 1 2 1 18 1 2 1 1 1 3 1 1 1 29 1 5 1 1 2 1 16 1 2 1 1 5 1 1 1 37 1 2 1 14 1 2 1 38 1 5 1 8 1 2 4 2 1 8 1 5 1 29 1 1 1 3 1 1 2 1 2 1 2 1 6 1 2 1 2 1 2 1 1 3 1 1 1 31 1 8 2 1 2 1 6 1 2 1 2 8 1 32 1 15 6 15 1 31 1 1 1 3 2 2 1 2 12 2 1 2 2 5 1 31 1 5 1 3 1 1 4 6 4 1 1 3 1 5 1 32 1 12 1 8 1 46 1 7 2 16 2 7 1 40 3 2 2 8 2 2 3 6 1 49 4 11 1 38 1 2 1 8 10 8 1 2 1 35 1 9 14 9 1 44 6 4 6 49 2 3 1 12 1 3 2 44 4 18 4 120 10 56 16 51 7 6 7 48 4 14 4 189 14 54 16 55 1 10 1 53 6 8 6 52 14 190 20 52 14 190 20 52 14 190 20 52 14 190 20 52 14 189 22 51 14 189 22 51 14 189 22 51 14 189 22 51 14 189 22 51 14 189 22 50 16 188 22 50 16 188 22 50 16 188 22 50 16 188 22 50 16 188 22 50 16 188 22 50 16 188 22 50 16 188 22 50 16 188 22 50 16 188 22 50 16 188 22 50 16 188 22 50 16 188 22 50 16 188 22 50 16 188 22 50 16 188 22 50 16 188 22 50 16 188 22 50 16 188 22 50 16 188 22 50 16 188 22 50 16 999999"/><use href="#S344x64" stroke="#08f" stroke-dasharray="0 163 18 258 18 258 18 258 18 258 18 258 18 258 18 258 18 258 18 258 18 258 18 258 18 258 18 258 18 258 18 258 18 258 18 258 18 258 18 258 18 258 18 258 18 258 18 258 18 258 18 258 18 258 18 258 18 258 18 258 18 258 18 258 3 12 3 120 4 2 3 3 6 52 14 58 2 2 4 194 3 13 4 50 9 2 7 53 13 59 1 3 3 125 1 1 1 16 1 50 4 10 4 53 6 4 5 55 12 59 8 53 3 7 3 8 3 47 3 14 3 51 2 12 2 54 2 10 2 50 1 5 3 6 3 5 1 46 2 4 3 4 3 4 2 48 2 4 3 2 3 4 2 50 2 3 8 3 2 47 1 4 2 12 2 4 1 44 2 3 2 10 2 3 2 46 2 3 12 3 2 48 2 16 2 45 2 3 2 14 2 3 2 42 2 3 16 3 2 45 1 20 1 48 1 18 1 45 2 3 18 3 2 42 2 22 2 45 22 43 1 4 20 4 1 40 3 22 3 43 24 111 3 24 3 41 26 181 26 179 13 4 13 52 4 55 7 1 2 4 2 1 7 42 4 22 4 49 1 8 1 53 2 2 2 2 6 2 2 2 2 44 2 7 2 6 2 7 2 101 1 12 1 3 2 3 2 3 2 3 1 46 1 4 2 3 1 4 1 3 2 4 1 45 1 1 1 3 2 1 4 1 2 3 1 1 1 51 2 10 2 49 2 1 1 18 1 1 2 45 1 1 2 5 4 5 2 1 1 44 1 8 2 6 2 8 1 33 1 7 1 1 4 1 2 3 4 3 2 1 4 1 1 109 1 1 1 24 1 1 1 5 1 29 1 5 1 1 2 1 1 1 12 1 1 1 2 1 1 7 1 37 1 2 1 14 1 2 1 38 1 5 1 8 1 3 2 3 1 8 1 5 1 29 1 5 1 1 2 1 2 1 2 2 4 2 2 1 2 1 2 1 1 5 1 40 2 4 6 4 2 57 6 47 1 5 2 2 1 2 3 1 1 2 1 1 3 2 1 2 2 5 1 41 1 2 3 6 3 2 1 119 1 18 1 7 1 40 3 2 1 10 1 2 3 56 4 63 8 58 14 54 4 8 4 118 2 20 2 122 8 57 16 52 5 8 5 261 12 55 16 122 4 8 4 260 16 260 16 260 16 260 16 260 16 260 16 260 16 259 18 258 18 258 18 258 18 258 18 258 18 258 18 258 18 258 18 258 18 258 18 258 18 258 18 258 18 258 18 258 18 258 18 258 18 258 18 258 18 258 18 258 18 258 18 258 18 999999"/><use href="#S344x64" stroke="#00f" stroke-dasharray="0 165 14 262 14 262 14 262 14 262 14 262 14 262 14 262 14 262 14 262 14 262 14 262 14 262 14 262 14 262 14 262 14 262 14 262 14 262 14 262 14 262 14 262 14 262 14 262 14 262 14 262 14 262 14 262 14 262 14 262 14 262 14 262 1 12 1 124 2 3 2 4 3 57 10 64 2 211 2 55 2 1 2 4 3 1 1 57 9 64 2 145 1 50 1 14 3 53 3 7 5 55 12 59 7 56 1 8 1 60 1 16 1 52 2 12 2 54 2 10 2 56 2 8 2 53 1 4 2 6 2 4 1 49 2 4 3 2 3 4 2 50 2 4 6 4 2 52 2 12 2 49 1 4 1 12 1 4 1 46 2 3 12 3 2 48 2 16 2 50 1 16 1 48 1 3 16 3 1 46 1 20 1 48 1 18 1 50 18 48 1 22 1 46 2 18 2 113 2 24 2 43 24 112 2 24 2 43 24 183 24 182 10 6 10 54 4 56 5 2 2 4 2 2 5 44 3 22 3 50 1 8 1 53 2 2 2 2 6 2 2 2 2 44 2 8 1 6 1 8 2 114 1 3 2 3 2 3 2 3 1 46 1 4 2 3 1 4 1 3 2 4 1 45 1 1 1 3 2 2 2 2 2 3 1 1 1 51 1 12 1 49 2 1 1 18 1 1 2 45 1 2 1 5 4 5 1 2 1 53 2 6 2 52 1 2 1 1 2 3 4 3 2 1 1 2 1 182 1 1 2 1 1 2 10 2 1 1 2 1 1 111 1 26 1 44 1 1 2 1 2 3 2 3 2 1 2 1 1 49 1 16 1 117 1 6 1 8 1 6 1 48 1 2 2 8 2 2 1 188 2 16 2 191 2 8 2 56 2 10 2 331 1 2 8 2 1 53 4 10 4 264 6 60 12 127 1 8 1 265 12 264 12 264 12 264 12 264 12 264 12 264 12 264 12 264 12 263 14 262 14 262 14 262 14 262 14 262 14 262 14 262 14 262 14 262 14 262 14 262 14 262 14 262 14 262 14 262 14 262 14 262 14 262 14 262 14 262 14 262 14 999999"/><use href="#S344x64" stroke="#008" stroke-dasharray="0 166 12 264 12 264 12 264 12 264 12 264 12 264 12 264 12 264 12 264 12 264 12 264 12 264 12 264 12 264 12 264 12 264 12 264 12 264 12 264 12 264 12 264 12 264 12 264 12 264 12 264 12 264 12 264 12 264 12 264 12 264 12 401 1 71 9 334 1 8 3 60 7 344 2 1 1 59 1 1 4 1 1 60 7 126 1 16 1 52 1 14 1 55 1 10 2 57 1 8 1 59 2 6 2 55 1 4 2 4 2 4 1 52 1 4 2 2 2 4 1 53 1 14 1 54 1 12 1 51 1 4 12 4 1 48 1 18 1 50 1 16 1 48 1 3 16 3 1 46 1 20 1 48 1 18 1 50 18 48 1 22 1 46 1 20 1 185 22 184 24 183 24 262 4 60 1 12 1 49 1 24 1 51 1 8 1 53 2 2 1 4 4 4 1 2 2 186 1 3 1 4 2 4 1 3 1 51 2 12 2 52 1 3 2 2 2 2 2 3 1 116 1 24 1 48 1 14 1 56 2 6 2 52 1 2 1 1 1 4 4 4 1 1 1 2 1 185 1 1 1 2 2 6 2 2 1 1 1 189 1 2 1 8 1 2 1 187 1 22 1 51 2 8 2 191 1 18 1 607 8 339 4 62 3 4 3 3716 10 266 10 266 10 266 10 265 12 264 12 264 12 264 12 264 12 264 12 264 12 264 12 264 12 264 12 264 12 264 12 264 12 264 12 264 12 999999"/></g></g><g id="Fe"><g transform="matrix(2.5 0 0 1.4 -171 -174.3)" stroke-width="1.1" fill="none"><use href="#S250x137" stroke="#bf4" stroke-dasharray="0 22 23 51 23 40 19 69 19 31 17 81 17 24 15 92 15 16 14 32 37 32 14 10 13 28 53 28 14 5 10 26 65 26 10 5 6 25 76 24 6 5 2 24 25 35 25 23 3 26 21 54 20 43 17 69 17 36 15 79 16 28 14 35 18 36 14 22 13 28 41 28 13 15 13 25 55 25 12 10 11 24 65 24 11 6 9 22 31 13 31 22 9 5 6 21 22 39 22 21 6 5 3 20 18 55 18 20 3 24 16 68 15 40 14 77 14 34 13 29 27 29 13 28 12 25 43 25 12 22 12 22 55 23 11 16 11 21 64 22 11 11 10 21 23 25 24 20 10 7 9 20 18 43 18 20 9 5 7 18 16 55 16 19 6 5 4 18 14 65 14 18 4 5 1 18 13 31 12 31 12 18 1 21 12 24 33 24 12 34 12 21 45 22 11 29 10 20 55 19 11 24 11 18 26 11 26 19 10 19 10 18 18 33 18 18 10 15 9 18 15 45 15 18 9 10 10 16 14 55 13 17 9 7 9 16 12 63 12 17 8 5 6 16 11 23 25 23 11 16 6 5 4 16 10 20 37 20 11 15 4 5 2 15 10 18 47 17 11 15 2 20 10 17 53 17 10 33 9 16 18 25 17 17 9 29 9 16 14 37 14 16 9 25 9 15 13 45 13 15 9 21 9 15 11 53 12 15 8 17 8 15 11 19 21 19 11 14 9 13 9 14 10 17 31 17 10 15 8 9 8 14 10 16 39 16 9 14 9 6 8 14 9 15 22 1 23 14 10 13 8 5 6 14 8 14 15 23 14 14 9 14 6 5 4 14 9 13 13 31 13 14 8 14 4 5 2 14 8 14 11 39 11 13 9 13 3 5 1 13 9 13 10 20 5 20 10 14 8 13 1 17 9 13 9 15 21 14 10 13 8 29 8 13 9 13 29 13 9 13 8 25 8 13 9 12 35 12 9 13 8 22 8 12 9 12 13 13 13 12 9 12 8 19 8 12 9 11 11 23 10 12 8 13 7 17 8 12 8 12 9 29 10 11 8 13 7 13 8 12 8 11 10 33 9 12 7 13 7 11 8 12 8 11 9 11 15 11 9 11 8 12 8 8 7 12 8 11 9 10 21 10 9 11 7 13 7 6 7 12 8 11 8 10 25 10 8 11 8 12 7 5 6 12 7 11 8 10 29 10 7 12 7 12 6 5 4 13 7 11 8 9 33 9 8 11 8 12 4 5 3 12 8 11 7 10 35 10 7 11 8 12 3 5 2 12 8 11 7 9 39 9 7 12 7 12 2 5 1 12 7 11 8 9 41 9 7 12 7 12 1 17 7 11 8 9 21 2 20 10 7 11 7 28 7 11 7 10 17 2 2 2 3 2 17 10 7 11 7 26 7 11 7 10 15 1 3 1 8 1 2 1 15 10 7 11 8 22 8 11 7 10 15 1 5 2 2 2 5 2 15 10 7 11 7 22 7 11 7 10 19 2 2 2 2 2 2 2 18 10 7 12 7 18 7 12 7 10 13 1 5 1 3 1 3 1 3 2 5 2 13 10 7 11 7 18 7 11 7 10 14 2 1 2 2 2 5 1 5 1 2 2 1 1 14 10 7 12 7 15 6 12 7 10 17 2 4 1 2 2 2 2 5 2 17 11 7 11 7 14 7 11 7 11 12 1 5 2 1 2 2 2 2 2 2 2 2 1 1 1 17 11 7 11 7 12 7 11 7 11 12 1 1 2 4 1 2 2 6 2 2 2 5 2 1 2 12 11 6 12 7 11 6 12 6 12 12 2 1 2 2 1 2 2 5 1 2 2 4 1 2 1 1 2 1 1 13 11 6 12 6 10 6 12 7 11 15 1 1 2 4 1 2 2 2 1 2 2 5 2 1 1 17 11 7 12 6 9 5 13 6 11 21 2 1 1 2 2 2 2 2 1 2 1 4 2 18 11 6 13 6 7 4 14 6 12 11 1 1 1 4 1 1 2 2 1 9 1 3 1 2 1 5 2 2 1 11 12 6 14 4 6 4 15 5 12 12 1 2 2 1 2 5 2 4 1 2 2 1 2 3 2 4 1 1 3 12 12 5 15 4 5 3 15 5 13 11 1 2 1 1 1 1 1 2 1 1 1 2 1 2 2 2 1 2 1 1 2 2 1 2 2 1 2 15 13 5 15 3 5 2 15 5 14 19 1 1 2 5 1 2 2 2 1 2 1 2 1 4 1 1 1 17 13 5 15 2 5 2 14 5 14 12 1 6 1 1 1 2 1 4 1 2 1 3 2 2 1 1 2 23 14 5 14 2 5 2 13 5 15 13 1 2 2 5 1 1 2 2 1 1 2 1 2 1 2 1 1 4 1 1 1 4 1 1 1 1 1 10 15 5 13 2 5 2 12 6 14 11 3 1 1 1 1 4 1 1 1 1 2 1 1 2 1 2 2 3 2 5 2 1 2 1 2 2 1 10 15 6 12 2 5 2 12 5 15 14 1 3 1 1 3 1 1 2 1 1 2 2 1 2 1 2 1 1 2 1 1 4 1 1 1 1 1 1 1 2 1 10 15 5 13 1 5 1 13 5 15 17 1 1 1 4 1 3 1 1 2 1 1 4 1 4 2 2 1 21 15 5 12 2 5 1 13 5 15 5 2 17 2 1 1 2 1 1 1 2 1 2 1 1 1 2 2 2 1 1 1 13 1 5 15 6 12 1 18 6 14 5 3 3 1 1 1 1 2 5 1 3 1 2 1 1 1 2 1 2 1 3 2 8 1 2 1 8 2 5 15 6 32 5 15 4 4 3 1 3 1 2 2 1 2 4 4 1 2 1 1 7 1 1 1 1 1 3 6 1 1 2 4 4 16 5 32 4 16 3 6 1 1 1 1 1 1 1 3 3 2 1 2 2 1 1 1 3 1 2 1 4 2 1 2 1 2 9 6 3 16 4 33 4 24 14 1 1 2 1 1 2 1 4 1 1 1 1 2 1 1 2 1 2 3 7 1 1 26 3 61 12 1 3 1 1 1 1 1 2 1 1 1 2 1 3 2 1 1 17 88 9 1 2 1 2 1 5 1 1 1 1 2 1 1 3 1 2 1 1 1 1 1 1 1 3 1 1 1 1 1 1 1 3 87 1 1 1 1 1 1 1 1 1 1 1 1 1 1 1 1 1 2 1 1 1 1 1 1 3 1 2 1 1 1 2 1 1 2 1 2 2 1 9 55 1 31 15 2 1 2 3 2 3 1 1 1 1 1 1 1 1 1 2 1 3 1 1 1 1 1 1 1 1 1 1 1 1 31 1 21 4 32 1 1 7 1 1 1 2 1 1 1 1 1 1 1 1 1 1 1 1 2 3 1 1 1 19 30 4 19 5 10 4 14 22 2 3 1 1 1 2 1 1 1 2 1 1 1 2 1 5 1 1 1 3 1 1 15 4 11 4 18 6 10 4 15 3 1 1 1 1 1 1 1 1 1 1 2 1 1 2 1 1 1 2 1 3 1 1 1 1 1 4 2 1 2 2 1 11 14 4 10 5 18 6 10 5 13 15 1 1 2 1 2 3 1 3 1 1 1 1 1 2 1 1 1 2 1 2 1 1 1 1 1 1 1 1 1 1 1 2 14 4 10 6 17 6 9 5 13 3 1 1 1 7 1 5 1 1 1 4 1 1 1 1 1 3 1 1 1 21 13 5 10 6 17 6 10 5 12 24 2 3 1 5 1 3 1 3 1 1 1 9 1 1 1 1 13 5 9 6 17 5 11 4 13 1 1 6 4 4 1 3 1 2 1 2 1 2 1 1 1 1 1 4 1 2 1 17 13 4 10 5 19 4 11 4 13 17 1 2 1 1 2 3 1 4 1 1 2 2 1 3 1 2 4 1 3 4 1 1 13 4 11 4 20 2 13 2 14 4 1 1 1 1 1 4 1 2 2 2 1 6 1 1 1 3 1 1 1 23 14 2 13 2 52 26 1 8 2 4 1 1 1 4 1 5 1 4 83 2 1 1 1 3 1 1 1 1 1 2 2 6 2 2 2 1 1 3 1 1 2 21 82 23 1 1 2 3 1 3 2 5 1 1 1 2 2 1 1 1 1 1 1 3 1 3 43 3 12 3 20 7 1 7 2 1 1 3 3 2 1 1 1 2 1 1 1 26 20 3 12 3 5 4 10 5 19 24 1 4 2 1 1 1 1 3 3 2 2 3 1 5 1 4 1 1 19 5 10 4 5 4 10 5 19 1 1 8 1 1 1 1 2 3 3 7 1 3 1 1 1 25 19 5 10 4 5 5 9 5 10 2 7 28 2 4 3 2 2 4 1 6 1 3 1 4 8 1 10 5 10 4 5 4 10 5 10 1 8 14 1 2 1 4 1 4 1 2 1 30 7 2 10 5 9 5 5 5 9 5 10 2 7 27 1 1 1 4 1 2 1 2 3 1 2 1 1 1 1 8 1 2 8 1 10 5 10 4 5 4 10 5 18 3 1 14 1 2 1 3 2 1 1 2 1 30 19 5 10 4 5 4 10 5 19 29 1 3 1 3 1 3 1 3 2 8 1 6 18 5 10 4 5 3 12 3 19 9 1 8 1 4 1 5 1 32 20 3 11 4 42 32 1 2 1 1 1 1 1 1 1 16 1 2 1 1 79 7 1 2 1 12 1 1 1 1 1 35 79 32 1 2 1 5 1 1 1 5 1 13 65 2 12 19 1 2 1 4 1 35 12 2 35 4 11 4 11 35 1 4 1 2 1 19 11 4 11 4 19 4 10 5 11 13 1 5 1 1 1 5 1 2 1 32 10 5 10 5 19 5 9 6 10 35 1 1 1 1 1 12 1 2 1 7 10 6 9 6 17 6 9 6 10 1 1 2 1 16 1 1 1 1 1 1 1 2 1 32 10 6 9 6 17 6 9 6 11 32 1 5 1 4 1 8 1 9 10 6 9 6 17 6 9 5 11 6 1 8 2 3 1 3 1 3 1 3 1 29 11 6 9 5 19 5 10 5 11 30 1 2 1 1 2 3 1 2 1 14 1 3 11 5 10 4 19 4 11 4 12 2 1 8 1 1 1 1 2 1 3 2 1 2 1 4 1 1 1 27 12 4 11 4 50 30 1 2 1 4 1 4 1 2 1 14 81 4 1 3 1 6 1 4 2 2 3 4 2 28 81 25 1 1 1 3 1 7 3 3 2 1 1 1 1 8 1 1 81 1 1 4 1 5 1 3 2 2 3 3 1 1 1 1 2 4 1 24 43 4 11 3 20 26 1 1 1 2 1 1 1 2 3 3 1 1 2 7 1 7 20 3 11 4 5 4 10 5 19 3 1 3 1 1 1 1 1 1 2 2 1 1 1 5 2 3 1 3 2 1 1 23 19 5 10 4 5 4 10 5 20 21 2 1 1 3 1 1 2 2 2 6 2 2 1 1 1 1 1 3 1 1 1 2 20 5 10 4 5 4 10 5 10 1 9 4 1 5 1 4 1 1 1 4 2 8 1 26 8 2 10 5 9 5 5 5 9 5 10 2 8 23 1 1 1 3 1 1 1 6 1 2 2 2 1 4 1 1 1 1 1 4 8 2 10 5 10 4 5 4 10 5 10 1 9 1 1 4 3 1 4 2 1 3 1 2 2 1 1 4 1 3 2 1 1 2 1 17 8 2 10 5 10 4 5 4 10 5 20 17 1 2 1 4 1 1 1 1 1 2 1 2 1 2 1 3 1 4 4 6 1 1 20 5 10 4 5 4 10 4 21 1 1 1 1 9 1 1 1 3 1 3 1 5 1 3 2 24 21 3 11 4 45 21 1 1 1 3 1 1 1 1 1 4 1 1 1 5 1 7 1 1 1 3 84 2 1 1 1 1 1 1 1 1 1 1 1 2 1 2 1 1 1 2 1 1 1 1 1 3 1 3 2 1 2 1 1 15 85 11 1 2 2 1 2 4 1 1 1 1 1 3 1 2 1 1 1 2 1 1 2 1 1 1 1 1 1 1 1 1 1 3 87 1 1 3 1 1 1 5 1 2 1 1 1 2 1 1 1 2 1 1 1 3 2 22 53 3 30 19 1 1 1 3 2 1 1 1 1 1 1 1 1 1 1 1 1 2 1 1 1 7 1 1 32 3 20 4 12 2 16 1 1 1 1 1 1 1 1 1 1 1 1 3 1 2 1 1 1 1 1 1 1 1 1 3 2 3 2 1 2 15 16 2 11 5 19 5 11 3 15 9 1 2 2 1 2 1 1 2 1 1 1 2 1 3 1 1 1 1 1 1 2 1 1 1 1 1 1 1 1 1 1 1 1 1 1 1 1 1 16 2 11 5 19 5 10 4 15 3 1 1 1 1 1 1 1 3 1 1 1 1 1 1 1 2 1 3 1 1 2 1 1 1 1 5 1 2 1 2 1 9 15 3 11 5 19 5 11 3 16 17 1 1 2 3 1 2 1 1 1 2 1 1 1 1 1 3 1 12 17 2 11 5 19 5 11 2 18 1 1 7 3 2 1 2 1 1 2 1 1 1 1 4 1 2 1 1 2 1 1 14 17 2 11 5 20 4 22 3 6 9 2 1 2 1 2 4 1 2 1 3 1 1 1 2 2 1 2 3 3 1 1 1 1 1 1 1 6 3 22 4 22 2 23 4 4 2 1 1 6 3 1 1 1 1 1 7 1 1 2 1 4 4 2 1 2 2 1 3 1 3 4 4 22 3 48 5 2 8 1 2 1 8 2 3 1 2 1 2 1 1 1 2 1 3 1 5 2 1 1 1 1 3 3 4 73 5 1 13 1 1 1 2 2 2 1 1 1 2 1 2 1 1 1 2 1 1 2 17 2 5 73 21 1 2 2 4 1 4 1 1 2 1 1 3 1 4 1 1 1 17 54 3 16 10 1 2 1 1 1 1 1 1 1 4 1 1 2 1 1 2 1 2 1 2 2 1 1 2 1 1 3 1 1 3 1 14 16 3 20 1 14 5 15 10 1 2 2 1 2 1 2 5 2 3 2 2 1 2 1 1 2 1 1 1 1 4 1 1 1 1 3 11 15 4 14 1 5 2 13 5 15 10 1 1 1 1 1 4 1 1 1 4 1 1 2 1 2 1 2 1 1 2 2 1 1 5 2 2 1 13 15 5 13 2 5 3 12 6 14 23 2 1 1 2 2 3 1 2 1 4 1 2 1 1 1 6 1 12 15 5 12 3 5 4 11 6 14 17 1 1 1 4 1 2 1 2 1 2 2 2 1 5 2 1 1 19 15 5 12 4 5 4 12 6 14 15 2 1 2 2 1 2 2 1 1 2 1 2 2 2 1 2 1 1 1 2 1 1 1 1 1 2 1 11 15 5 12 4 5 5 12 5 14 12 3 1 1 4 2 3 2 1 2 2 1 4 2 5 2 1 2 2 1 12 14 5 12 5 5 5 13 5 14 11 1 2 2 5 1 2 1 3 1 9 1 2 2 1 1 4 1 1 1 11 14 5 13 5 5 6 13 6 12 18 2 4 1 2 1 2 2 2 2 2 1 1 2 21 12 6 13 6 6 6 13 6 12 17 1 1 2 5 2 2 1 2 2 2 1 4 2 1 1 15 12 6 13 6 8 6 13 6 11 13 1 1 2 1 1 2 1 4 2 2 1 5 2 2 1 2 2 1 2 12 12 6 13 6 10 6 13 6 11 12 2 1 2 5 2 2 2 6 2 2 1 4 2 1 1 12 11 6 13 6 12 6 12 7 11 17 1 1 1 2 2 2 2 2 2 2 2 1 2 5 1 12 11 6 13 6 14 7 11 7 11 17 2 5 2 2 2 2 1 4 2 17 10 7 12 6 15 7 12 7 10 14 1 1 2 2 1 5 1 5 2 2 2 1 2 14 10 7 11 7 18 7 11 7 10 13 2 5 2 3 1 3 1 3 1 5 1 13 10 7 12 7 18 7 12 7 10 18 2 2 2 2 2 2 2 19 10 7 11 7 22 7 11 7 10 15 2 5 2 2 2 5 1 15 10 7 12 7 22 8 11 7 10 15 1 2 1 8 1 3 1 15 10 7 11 7 26 7 11 7 10 17 2 3 2 2 2 17 10 7 11 7 28 7 11 7 10 20 2 21 9 8 11 7 17 1 12 7 12 7 9 41 9 8 11 7 12 1 5 2 12 7 12 7 9 39 9 7 11 8 12 2 5 3 12 8 11 7 10 35 10 7 11 8 12 3 5 4 12 8 11 8 9 33 9 8 11 7 13 4 5 6 12 7 12 7 10 29 10 8 11 7 12 6 5 7 12 8 11 8 10 25 10 8 11 8 12 7 6 7 13 7 11 9 10 21 10 9 11 8 12 7 8 8 12 8 11 9 11 15 11 9 11 8 12 8 11 7 13 7 12 9 33 10 11 8 12 8 13 7 13 8 11 10 29 9 12 8 12 8 17 7 13 8 12 10 23 11 11 9 12 8 19 8 12 9 12 13 13 13 12 9 12 8 22 8 13 9 12 35 12 9 13 8 25 8 13 9 13 29 13 9 13 8 29 8 13 10 14 21 15 9 13 9 17 1 13 8 14 10 20 5 20 10 13 9 13 1 5 3 13 9 13 11 39 11 14 8 14 2 5 4 14 8 14 13 31 13 13 9 14 4 5 6 14 9 14 14 23 15 14 8 14 6 5 8 13 10 14 23 1 22 15 9 14 8 6 9 14 9 16 39 16 10 14 8 9 8 15 10 17 31 17 10 14 9 13 9 14 11 19 21 19 11 15 8 17 8 15 12 53 11 15 9 21 9 15 13 45 13 15 9 25 9 16 14 37 14 16 9 29 9 17 17 25 18 16 9 33 10 17 53 17 10 20 2 15 11 17 47 18 10 15 2 5 4 15 11 20 37 20 10 16 4 5 6 16 11 23 25 23 11 16 6 5 8 17 12 63 12 16 9 7 9 17 13 55 14 16 10 10 9 18 15 45 15 18 9 15 10 18 18 33 18 18 10 19 10 19 26 11 26 18 11 24 11 19 55 20 10 29 11 22 45 21 12 34 12 24 33 24 12 21 1 18 12 31 12 31 13 18 1 5 4 18 14 65 14 18 4 5 6 19 16 55 16 18 7 5 9 20 18 43 18 20 9 7 10 20 24 25 23 21 10 11 11 22 64 21 11 16 11 23 55 22 12 22 12 25 43 25 12 28 13 29 27 29 13 34 14 77 14 40 15 68 16 24 3 20 18 55 18 20 3 5 6 21 22 39 22 21 6 5 9 22 31 13 31 22 9 6 11 24 65 24 11 10 12 25 55 25 13 15 13 28 41 28 13 22 14 36 18 35 14 28 16 79 15 36 17 69 17 43 20 54 21 26 3 23 25 35 25 24 2 5 6 24 76 25 6 5 10 26 65 26 10 5 14 28 53 28 13 10 14 32 37 32 14 16 15 92 15 24 17 81 17 31 19 69 19 40 23 51 23 999999"/><use href="#S250x137" stroke="#fe0" stroke-dasharray="0 27 9 69 9 51 6 83 6 43 4 94 5 36 2 105 2 71 33 101 49 88 59 79 67 71 17 41 17 62 8 69 8 53 6 81 6 46 4 91 5 38 3 46 8 47 3 70 37 98 50 88 59 79 23 21 22 73 14 45 15 63 7 68 7 57 6 78 5 49 5 87 4 44 3 36 23 36 4 37 2 31 40 32 2 63 51 87 59 80 18 29 18 74 12 47 12 67 8 63 8 60 5 75 5 54 4 83 4 48 4 29 31 29 4 42 3 27 43 27 3 37 2 26 51 26 2 33 1 25 21 17 21 25 1 54 15 35 14 76 10 49 10 70 8 59 8 64 5 71 5 58 5 27 23 27 4 54 4 24 35 24 4 49 3 22 44 23 3 45 2 22 22 7 22 22 3 39 3 21 15 27 15 21 2 37 1 22 11 39 12 21 2 54 9 49 8 74 7 57 7 69 5 23 18 24 5 65 4 21 30 20 5 59 4 19 38 20 3 57 3 18 18 9 18 18 4 51 4 18 12 24 13 18 3 49 3 17 11 33 11 18 2 45 2 18 9 41 9 17 3 41 3 17 8 47 8 18 2 38 1 19 6 17 19 17 6 18 2 35 2 18 6 15 27 15 6 18 2 51 5 15 33 15 5 18 1 49 3 15 12 15 12 15 4 64 3 15 10 23 10 15 3 61 4 14 9 29 9 15 3 58 3 14 8 35 8 14 3 56 2 15 7 13 13 13 7 15 3 52 3 14 7 11 20 12 7 14 3 50 2 15 6 11 25 11 6 15 2 47 3 15 5 11 29 10 6 15 2 45 2 16 5 11 32 10 5 16 2 42 2 16 4 11 35 11 4 16 2 40 2 16 4 11 37 11 4 17 1 38 1 17 3 11 40 12 3 17 1 36 1 17 2 13 20 2 20 12 2 70 2 12 17 2 2 2 3 2 16 13 2 68 1 14 14 1 2 2 1 2 2 4 2 1 15 13 1 66 1 13 15 2 1 1 2 2 2 2 2 2 1 2 14 14 1 79 15 1 2 2 2 2 2 2 2 2 17 92 12 2 1 1 2 2 2 2 2 2 2 2 2 1 2 2 12 90 13 5 2 2 1 2 2 2 2 1 1 1 2 2 1 2 12 89 15 2 3 2 2 2 2 2 5 2 2 1 13 88 11 1 2 1 2 2 1 2 2 2 2 2 2 2 1 2 1 1 2 1 1 1 11 86 11 4 4 2 1 2 2 2 2 2 2 2 5 2 1 2 10 86 5 1 5 2 1 3 1 1 2 2 4 2 2 2 4 1 2 1 1 2 1 1 5 1 5 85 4 3 6 4 2 3 2 2 1 2 2 2 1 1 3 5 7 3 4 84 4 4 4 1 3 1 2 2 1 1 2 2 2 2 1 2 2 2 1 1 1 2 1 1 2 1 3 4 4 83 3 7 1 1 4 1 1 2 1 2 3 2 4 2 2 4 5 10 4 83 3 11 1 2 5 2 4 1 2 2 1 2 1 1 1 2 4 1 1 9 3 83 1 8 2 1 1 3 2 3 2 2 1 2 1 2 2 4 2 5 1 2 2 1 1 6 2 91 7 2 1 2 5 1 2 2 1 2 2 1 2 1 4 1 1 1 6 97 1 1 6 3 2 1 3 2 1 2 1 1 1 2 2 4 2 1 6 1 2 97 1 3 1 2 2 1 2 1 1 2 2 1 1 2 1 2 1 2 1 3 2 1 1 1 4 1 1 103 1 1 4 1 1 1 1 2 1 2 1 2 1 2 1 1 1 2 2 1 2 5 1 101 2 2 1 2 1 5 2 1 1 2 2 1 2 1 2 1 1 2 1 3 2 3 1 1 1 2 1 95 4 1 1 1 1 1 3 2 1 1 1 1 1 2 1 3 2 1 2 1 1 5 2 1 6 1 1 93 8 1 5 4 2 3 2 1 2 1 1 1 2 3 1 1 1 1 9 92 1 1 1 4 3 1 1 1 3 1 1 2 1 1 2 1 1 2 3 2 5 1 2 1 2 2 1 2 2 91 2 2 1 6 1 2 1 1 2 4 1 2 1 2 3 2 1 1 1 3 3 8 1 93 1 1 1 6 2 2 1 2 2 1 1 1 1 3 2 1 4 2 1 2 1 2 2 1 2 2 1 93 2 1 9 1 1 2 1 1 2 3 1 2 1 1 1 2 1 1 1 3 1 3 7 1 1 91 3 1 5 1 1 1 3 1 1 1 1 1 2 1 1 1 2 1 1 1 1 2 1 1 5 1 10 89 5 2 1 2 1 3 1 1 5 1 1 1 1 2 1 1 3 1 2 1 1 1 1 1 1 1 3 1 1 1 1 1 1 1 3 87 1 1 1 1 1 5 1 1 1 1 1 1 1 2 1 1 1 1 1 1 2 2 2 1 1 1 2 1 1 2 1 6 1 2 2 1 2 87 1 3 1 2 2 1 2 2 1 2 1 2 1 1 1 2 3 1 1 1 1 1 1 1 1 1 2 1 3 1 1 1 1 1 1 1 1 3 1 89 1 1 5 1 1 3 2 1 1 1 1 1 1 1 1 1 1 1 1 3 2 1 1 2 1 1 9 1 2 3 1 88 1 2 6 1 2 1 2 1 2 1 1 2 3 1 1 1 2 1 1 1 1 2 1 1 2 1 1 1 1 1 1 1 1 1 3 1 1 87 3 1 1 5 1 1 1 2 1 2 1 1 1 2 1 1 1 1 1 1 1 3 2 1 1 2 1 2 1 3 1 2 6 87 3 2 1 3 1 2 1 2 1 2 1 2 3 1 3 1 1 1 1 1 2 1 1 1 2 1 2 3 1 1 1 3 1 1 2 84 3 3 5 1 1 2 1 2 1 1 1 1 2 1 1 1 1 1 1 2 2 1 1 2 1 1 2 1 2 1 2 6 4 84 2 2 1 2 15 1 1 2 2 2 1 3 1 1 2 2 2 2 1 1 9 1 1 1 1 83 1 1 1 1 3 5 1 1 1 2 1 1 1 1 2 1 2 1 1 2 1 3 2 1 1 2 1 2 1 2 2 1 3 1 2 2 2 83 2 2 6 2 1 3 1 2 1 4 1 1 1 1 4 1 1 2 2 1 3 1 2 8 4 1 1 83 1 1 2 3 1 1 4 2 1 2 2 1 1 2 3 1 1 2 2 3 1 1 6 1 2 2 1 2 3 1 2 85 6 2 2 1 6 1 2 1 4 1 3 3 2 2 4 3 4 1 1 1 1 1 1 2 3 83 2 3 1 1 1 1 1 1 1 1 2 2 1 1 4 2 2 2 1 1 1 1 1 1 1 2 1 2 1 2 6 2 1 2 3 83 5 2 6 2 1 2 2 1 2 1 1 2 3 2 2 2 5 1 1 1 2 2 1 5 3 1 3 81 1 3 1 4 6 2 1 1 3 3 2 1 1 2 1 1 1 1 11 2 1 2 3 2 2 1 2 81 2 2 6 2 6 1 2 2 1 1 4 2 1 1 1 1 3 3 2 2 2 2 1 1 3 2 3 1 1 81 1 1 2 3 1 1 1 1 1 4 3 3 5 1 1 1 3 1 1 2 1 2 1 2 2 1 3 1 2 2 3 2 2 81 7 2 6 2 2 1 8 3 3 3 2 2 3 3 3 3 3 1 2 1 1 81 2 3 1 3 5 1 2 1 4 1 1 1 2 1 2 1 3 1 2 1 6 1 2 2 3 2 6 83 3 2 6 2 6 2 1 5 1 1 1 2 1 1 2 1 2 3 1 4 1 1 1 1 1 2 3 1 2 81 2 1 2 1 1 1 1 3 4 2 2 1 3 7 11 1 7 2 3 2 4 81 9 2 4 1 10 1 1 2 3 1 1 1 1 1 3 2 2 2 1 1 1 3 2 1 2 1 1 1 1 79 1 2 1 1 1 1 2 1 3 3 1 3 2 2 5 1 1 1 2 1 2 2 6 2 12 2 1 80 2 2 4 1 4 1 7 2 6 2 1 1 2 1 1 1 1 1 1 1 4 1 3 2 3 1 2 1 2 1 1 79 1 1 2 1 2 1 2 1 3 2 3 1 3 3 1 1 7 2 6 2 3 2 4 1 4 1 3 79 19 1 4 2 5 3 1 1 3 1 1 6 2 1 2 1 2 1 3 1 2 81 1 2 1 2 1 2 1 2 1 2 3 1 2 1 1 5 11 2 4 1 4 2 3 2 4 81 4 2 3 2 4 1 4 2 11 5 1 1 2 1 3 2 1 2 1 2 1 2 1 2 1 81 2 1 3 1 2 1 2 1 2 6 1 1 3 1 1 3 5 2 4 1 19 79 3 1 4 1 4 2 3 2 6 2 7 1 1 3 3 1 3 2 3 1 2 1 2 1 2 1 1 79 1 1 2 1 2 1 3 2 3 1 4 1 1 1 1 1 1 1 2 1 1 2 6 2 7 1 4 1 4 2 2 80 1 2 12 2 6 2 2 1 2 1 1 1 5 2 2 3 1 3 3 1 2 1 1 1 1 2 1 79 1 1 1 1 2 1 2 3 1 1 1 2 2 2 3 1 1 1 1 1 3 2 1 1 10 1 4 2 9 81 4 2 3 2 7 1 11 7 3 1 2 2 4 3 1 1 1 1 2 1 2 81 2 1 3 2 1 1 1 1 1 4 1 3 2 1 2 1 1 2 1 1 1 5 1 2 6 2 6 2 3 83 6 2 3 2 2 1 6 1 2 1 3 1 2 1 2 1 1 1 4 1 2 1 5 3 1 3 2 81 1 1 2 1 3 3 3 3 3 2 2 3 3 3 8 1 2 2 6 2 7 81 2 2 3 2 2 1 3 1 2 2 1 2 1 2 1 1 3 1 1 1 5 3 3 4 1 1 1 1 1 3 2 1 1 81 1 1 3 2 3 1 1 2 2 2 2 3 3 1 1 1 1 2 4 1 1 2 2 1 6 2 6 2 2 81 2 1 2 2 3 2 1 2 11 1 1 1 1 2 1 1 2 3 3 1 1 2 6 4 1 3 1 81 3 1 3 5 1 2 2 1 1 1 5 2 2 2 3 2 1 1 2 1 2 2 1 2 6 2 5 83 3 2 1 2 6 2 1 2 1 2 1 1 1 1 1 1 1 2 2 2 4 1 1 2 2 1 1 1 1 1 1 1 1 3 2 83 3 2 1 1 1 1 1 1 4 3 4 2 2 3 3 1 4 1 2 1 6 1 2 2 6 85 2 1 3 2 1 2 2 1 6 1 1 3 2 2 1 1 3 2 1 1 2 2 1 2 4 1 1 3 2 1 1 83 1 1 4 8 2 1 3 1 2 2 1 1 4 1 1 1 1 4 1 2 1 3 1 2 6 2 2 83 2 2 2 1 3 1 2 2 1 2 1 2 1 1 2 3 1 2 1 1 2 1 2 1 1 1 1 2 1 1 1 5 3 1 1 1 1 83 1 1 1 1 9 1 1 2 2 2 2 1 1 3 1 2 2 2 1 1 15 2 1 2 2 84 4 6 2 1 2 1 2 1 1 2 1 1 2 2 1 1 1 1 1 1 2 1 1 1 1 2 1 2 1 1 5 3 3 84 2 1 1 3 1 1 1 3 2 1 2 1 1 1 2 1 1 1 1 1 3 1 3 2 1 2 1 2 1 2 1 3 1 2 3 87 6 2 1 3 1 2 1 2 1 1 2 3 1 1 1 1 1 1 1 2 1 1 1 2 1 2 1 1 1 5 1 1 3 87 1 1 3 1 1 1 1 1 1 1 1 1 2 1 1 2 1 1 1 1 2 1 1 1 3 2 1 1 2 1 2 1 2 1 6 2 1 88 1 3 2 1 9 1 1 2 1 1 2 3 1 1 1 1 1 1 1 1 1 1 1 1 2 3 1 1 5 1 1 89 1 3 1 1 1 1 1 1 1 1 3 1 2 1 1 1 1 1 1 1 1 1 3 2 1 1 1 2 1 2 1 2 2 1 2 2 1 3 1 87 2 1 2 2 1 6 1 2 1 1 2 1 1 1 2 2 2 1 1 1 1 1 1 2 1 1 1 1 1 1 1 5 1 1 1 1 1 87 3 1 1 1 1 1 1 1 3 1 1 1 1 1 1 1 2 1 3 1 1 2 1 1 1 1 5 1 1 3 1 2 1 2 5 89 10 1 5 1 1 2 1 1 1 1 2 1 1 1 2 1 1 1 1 1 3 1 1 1 5 1 3 91 1 1 7 3 1 3 1 1 1 2 1 1 1 2 1 3 2 1 1 2 1 1 9 1 2 93 1 2 2 1 2 2 1 2 1 2 4 1 2 3 1 1 1 1 2 2 1 2 2 6 1 1 1 93 1 8 3 3 1 1 1 2 3 2 1 2 1 4 2 1 1 2 1 6 1 2 2 91 2 2 1 2 2 1 2 1 5 2 3 2 1 1 2 1 1 2 1 1 3 1 1 1 3 4 1 1 1 92 9 1 1 1 1 3 2 1 1 1 2 1 2 3 2 4 5 1 8 93 1 1 6 1 2 5 1 1 2 1 2 3 1 2 1 1 1 1 1 2 3 1 1 1 1 1 4 95 1 2 1 1 1 3 2 3 1 2 1 1 2 1 2 1 2 2 1 1 2 5 1 2 1 2 2 101 1 5 2 1 2 2 1 1 1 2 1 2 1 2 1 2 1 1 1 1 4 1 1 103 1 1 4 1 1 1 2 3 1 2 1 2 1 2 1 1 2 2 1 1 2 1 2 2 1 3 1 97 2 1 6 1 2 4 2 2 1 1 1 2 1 2 3 1 2 3 6 1 1 97 6 1 1 1 4 1 2 1 2 2 1 2 2 1 5 2 1 2 7 91 2 6 1 1 2 2 1 5 2 4 2 2 1 2 1 2 2 3 2 3 1 1 2 8 1 83 3 9 1 1 4 2 1 1 1 2 1 2 2 1 4 2 5 2 1 11 3 83 4 10 5 4 2 2 4 2 3 2 1 2 1 1 4 1 1 7 3 83 4 4 3 1 2 1 1 2 1 1 1 2 2 2 1 2 2 2 2 1 1 2 2 1 3 1 4 4 4 84 4 3 7 5 3 1 1 2 2 2 1 2 2 3 2 4 6 3 4 85 5 1 5 1 1 2 1 1 2 1 4 2 2 2 4 2 2 1 1 3 1 2 5 1 5 86 10 2 1 2 5 2 2 2 2 2 2 2 1 2 4 4 11 86 11 1 1 1 2 1 1 2 1 2 2 2 2 2 2 2 1 2 2 1 2 1 11 88 13 1 2 2 5 2 2 2 2 2 3 2 15 89 12 2 1 2 2 1 1 1 2 2 2 2 1 2 2 5 13 90 12 2 2 1 2 2 2 2 2 2 2 2 2 1 1 2 12 92 17 2 2 2 2 2 2 2 2 1 15 79 1 14 14 2 1 2 2 2 2 2 2 1 1 2 15 13 1 66 1 13 15 1 2 4 2 2 1 2 2 1 14 14 1 68 2 13 16 2 3 2 2 2 17 12 2 70 2 12 20 2 20 13 2 17 1 36 1 17 3 12 40 11 3 17 1 38 1 17 4 11 37 11 4 16 2 40 2 16 4 11 35 11 4 16 2 42 2 16 5 10 32 11 5 16 2 45 2 15 6 10 29 11 5 15 3 47 2 15 6 11 25 11 6 15 2 50 3 14 7 12 20 11 7 14 3 52 3 15 7 13 13 13 7 15 2 56 3 14 8 35 8 14 3 58 3 15 9 29 9 14 4 61 3 15 10 23 10 15 3 64 4 15 12 15 12 15 3 49 1 18 5 15 33 15 5 51 2 18 6 15 27 15 6 18 2 35 2 18 6 17 19 17 6 19 1 38 2 18 8 47 8 17 3 41 3 17 9 41 9 18 2 45 2 18 11 33 11 17 3 49 3 18 13 24 12 18 4 51 4 18 18 9 18 18 3 57 3 20 38 19 4 59 5 20 30 21 4 65 5 24 18 23 5 69 7 57 7 74 8 49 9 54 2 21 12 39 11 22 1 37 2 21 15 27 15 21 3 39 3 22 22 7 22 22 2 45 3 23 44 22 3 49 4 24 35 24 4 54 4 27 23 27 5 58 5 71 5 64 8 59 8 70 10 49 10 76 14 35 15 54 1 25 21 17 21 25 1 33 2 26 51 26 2 37 3 27 43 27 3 42 4 29 31 29 4 48 4 83 4 54 5 75 5 60 8 63 8 67 12 47 12 74 18 29 18 80 59 87 51 63 2 32 40 31 2 37 4 36 23 36 3 44 4 87 5 49 5 78 6 57 7 68 7 63 15 45 14 73 22 21 23 79 59 88 50 98 37 70 3 47 8 46 3 38 5 91 4 46 6 81 6 53 8 69 8 62 17 41 17 71 67 79 59 88 49 101 33 71 2 105 2 36 5 94 4 43 6 83 6 51 9 69 9 999999"/><use href="#S250x137" stroke="#f80" stroke-dasharray="0 626 25 109 42 95 51 89 18 19 19 808 31 104 44 95 52 87 14 29 13 675 15 117 35 102 45 93 23 7 23 88 9 37 10 668 26 111 38 99 47 92 15 23 15 87 7 42 7 532 17 118 31 106 41 98 16 15 16 92 10 32 10 89 6 44 5 392 13 122 27 111 35 104 13 15 13 98 10 27 10 93 7 37 7 89 5 44 5 88 2 51 3 105 16 122 25 114 31 108 10 17 10 103 8 25 8 99 7 31 7 96 5 37 5 93 5 15 11 15 5 90 4 13 19 13 4 88 3 13 23 13 3 101 27 113 31 110 33 108 36 104 39 102 5 1 13 3 13 1 5 100 5 2 9 2 2 3 1 3 9 2 5 99 4 4 5 1 2 5 1 5 2 1 5 4 5 97 4 5 3 5 2 2 2 2 2 5 4 5 4 96 4 7 3 5 2 2 2 2 2 5 2 7 4 94 4 11 1 3 1 3 1 3 2 2 2 2 1 9 3 94 3 7 1 5 2 5 1 3 1 5 1 13 2 93 1 8 1 1 1 3 1 1 1 2 2 2 2 2 2 1 1 3 2 1 2 8 1 102 1 2 2 5 2 2 2 2 2 2 1 4 2 1 1 113 1 1 1 3 1 10 2 2 1 2 2 120 2 5 1 3 1 2 1 4 2 4 1 1 1 105 3 4 1 4 2 2 1 2 2 5 1 6 2 1 1 104 2 1 3 1 1 3 1 1 2 2 2 2 1 2 2 2 1 4 1 1 2 1 1 105 1 1 2 4 1 2 1 10 1 5 2 2 1 114 2 1 2 2 1 5 1 2 1 2 1 1 1 2 1 1 1 107 1 6 2 4 1 2 1 2 1 2 2 4 2 113 2 2 1 6 1 1 1 2 2 2 1 2 1 2 2 1 1 1 1 4 4 1 1 97 1 1 1 1 2 1 1 3 2 6 1 4 1 2 2 5 1 1 2 2 1 3 1 104 1 2 2 4 2 4 1 2 1 2 1 3 2 3 2 1 1 1 1 106 3 3 1 2 1 2 1 2 1 2 1 4 2 1 2 120 2 4 1 2 1 5 1 2 1 3 2 5 1 98 4 1 1 5 1 2 1 3 1 2 1 3 2 2 1 1 1 5 2 2 1 2 1 99 1 2 1 2 2 1 2 4 2 3 2 1 1 2 1 2 1 3 1 3 1 1 1 1 2 1 1 93 1 1 1 4 1 1 1 1 1 1 1 1 1 1 1 2 1 1 2 1 1 2 1 1 1 2 1 2 2 1 1 116 1 1 2 4 1 2 1 7 1 1 1 3 1 1 1 102 1 1 1 6 2 2 1 2 1 2 1 1 1 3 2 2 1 1 1 116 1 2 1 7 2 3 1 2 1 1 1 2 1 1 1 3 1 5 1 1 1 1 1 1 1 91 1 1 1 1 1 1 3 3 1 1 1 1 1 1 1 4 1 1 1 2 1 1 1 4 2 1 2 2 1 113 2 1 1 4 1 2 1 8 1 1 1 3 1 1 1 5 1 1 1 1 1 87 1 1 1 9 1 3 1 2 1 1 1 1 1 5 2 1 1 1 2 126 1 1 1 3 1 2 1 1 1 1 1 1 1 1 1 2 1 1 1 3 1 1 1 1 1 93 1 1 1 1 1 1 1 1 1 3 1 2 1 1 1 1 1 1 1 1 1 1 1 3 2 4 1 1 2 2 1 113 1 1 2 1 1 4 1 1 1 4 1 1 1 2 1 1 1 2 1 1 1 1 1 1 1 1 1 1 1 89 1 1 1 7 1 1 1 2 1 2 1 1 1 2 1 1 1 3 1 3 2 1 1 126 1 1 1 3 1 1 1 1 1 2 1 1 1 2 1 1 2 9 1 1 1 85 1 1 1 3 1 1 3 1 1 2 1 2 1 1 1 4 1 1 1 1 1 3 1 6 1 119 1 1 2 1 1 3 1 2 1 3 1 1 2 3 1 4 1 1 5 1 1 3 1 83 1 3 2 6 1 1 1 2 1 1 1 1 2 2 1 1 1 2 1 3 2 1 1 128 1 1 1 1 1 4 1 2 1 2 3 1 2 9 1 1 1 87 1 4 1 1 1 1 2 5 1 7 1 1 1 2 2 3 1 2 1 124 2 3 1 5 1 3 2 1 1 3 1 1 2 1 1 1 1 1 1 88 1 4 1 1 1 6 1 2 1 1 4 2 2 2 1 3 1 134 3 2 2 2 5 7 1 5 1 1 1 89 1 4 4 1 1 2 1 1 2 7 1 2 1 3 1 2 1 128 4 2 1 1 1 2 1 4 2 3 1 2 1 1 1 97 1 8 3 3 5 1 1 1 1 1 1 140 1 1 1 7 1 1 1 3 1 1 1 102 1 4 2 1 2 1 1 1 1 1 2 4 3 138 1 2 1 1 2 1 2 116 1 3 1 2 3 7 1 140 1 1 1 1 1 1 1 3 1 2 2 112 1 3 1 4 3 147 1 2 1 1 1 1 1 1 3 118 2 3 1 152 2 411 2 152 1 3 2 118 3 1 1 1 1 1 1 2 1 147 3 4 1 3 1 112 2 2 1 3 1 1 1 1 1 1 1 140 1 7 3 2 1 3 1 116 2 1 2 1 1 2 1 138 3 4 2 1 1 1 1 1 2 1 2 4 1 102 1 1 1 3 1 1 1 7 1 1 1 140 1 1 1 1 1 1 5 3 3 8 1 97 1 1 1 2 1 3 2 4 1 2 1 1 1 2 4 128 1 2 1 3 1 2 1 7 2 1 1 2 1 1 4 4 1 89 1 1 1 5 1 7 5 2 2 2 3 134 1 3 1 2 2 2 4 1 1 2 1 6 1 1 1 4 1 88 1 1 1 1 1 1 2 1 1 3 1 1 2 3 1 5 1 3 2 124 1 2 1 3 2 2 1 1 1 7 1 5 2 1 1 1 1 4 1 87 1 1 1 9 2 1 3 2 1 2 1 4 1 1 1 1 1 128 1 1 2 3 1 2 1 1 1 2 2 1 1 1 1 2 1 1 1 6 2 3 1 83 1 3 1 1 5 1 1 4 1 3 2 1 1 3 1 2 1 3 1 1 2 1 1 119 1 6 1 3 1 1 1 1 1 4 1 1 1 2 1 2 1 1 3 1 1 3 1 1 1 85 1 1 1 9 2 1 1 2 1 1 1 2 1 1 1 1 1 3 1 1 1 126 1 1 2 3 1 3 1 1 1 2 1 1 1 2 1 2 1 1 1 7 1 1 1 89 1 1 1 1 1 1 1 1 1 1 1 2 1 1 1 2 1 1 1 4 1 1 1 4 1 1 2 1 1 113 1 2 2 1 1 4 2 3 1 1 1 1 1 1 1 1 1 1 1 2 1 3 1 1 1 1 1 1 1 1 1 93 1 1 1 1 1 3 1 1 1 2 1 1 1 1 1 1 1 1 1 2 1 3 1 1 1 126 2 1 1 1 2 5 1 1 1 1 1 2 1 3 1 9 1 1 1 87 1 1 1 1 1 5 1 1 1 3 1 1 1 8 1 2 1 4 1 1 2 113 1 2 2 1 2 4 1 1 1 2 1 1 1 4 1 1 1 1 1 1 1 3 3 1 1 1 1 1 1 91 1 1 1 1 1 1 1 5 1 3 1 1 1 2 1 1 1 2 1 3 2 7 1 2 1 116 1 1 1 2 2 3 1 1 1 2 1 2 1 2 2 6 1 1 1 102 1 1 1 3 1 1 1 7 1 2 1 4 2 1 1 116 1 1 2 2 1 2 1 1 1 2 1 1 2 1 1 2 1 1 1 1 1 1 1 1 1 1 1 4 1 1 1 93 1 1 2 1 1 1 1 3 1 3 1 2 1 2 1 1 2 3 2 4 2 1 2 2 1 2 1 99 1 2 1 2 2 5 1 1 1 2 2 3 1 2 1 3 1 2 1 5 1 1 4 98 1 5 2 3 1 2 1 5 1 2 1 4 2 120 2 1 2 4 1 2 1 2 1 2 1 2 1 3 3 106 1 1 1 1 2 3 2 3 1 2 1 2 1 4 2 4 2 2 1 104 1 3 1 2 2 1 1 5 2 2 1 4 1 6 2 3 1 1 2 1 1 1 1 97 1 1 4 4 1 1 1 1 2 2 1 2 1 2 2 2 1 1 1 6 1 2 2 113 2 4 2 2 1 2 1 2 1 4 2 6 1 107 1 1 1 2 1 1 1 2 1 2 1 5 1 2 2 1 2 114 1 2 2 5 1 10 1 2 1 4 2 1 1 105 1 1 2 1 1 4 1 2 2 2 1 2 2 2 2 1 1 3 1 1 3 1 2 104 1 1 2 6 1 5 2 2 1 2 2 4 1 4 3 105 1 1 1 4 2 4 1 2 1 3 1 5 2 120 2 2 1 2 2 10 1 3 1 1 1 113 1 1 2 4 1 2 2 2 2 2 2 5 2 2 1 102 1 8 2 1 2 3 1 1 2 2 2 2 2 2 1 1 1 3 1 1 1 8 1 93 2 13 1 5 1 3 1 5 2 5 1 7 3 94 3 9 1 2 2 2 2 3 1 3 1 3 1 11 4 94 4 7 2 5 2 2 2 2 2 5 3 7 4 96 4 5 4 5 2 2 2 2 2 5 3 5 4 97 5 4 5 1 2 5 1 5 2 1 5 4 4 99 5 2 9 3 1 3 2 2 9 2 5 100 5 1 13 3 13 1 5 102 39 104 36 108 33 110 31 113 27 101 3 13 23 13 3 88 4 13 19 13 4 90 5 15 11 15 5 93 5 37 5 96 7 31 7 99 8 25 8 103 10 17 10 108 31 114 25 122 16 105 3 51 2 88 5 44 5 89 7 37 7 93 10 27 10 98 13 15 13 104 35 111 27 122 13 392 5 44 6 89 10 32 10 92 16 15 16 98 41 106 31 118 17 532 7 42 7 87 15 23 15 92 47 99 38 111 26 668 10 37 9 88 23 7 23 93 45 102 35 117 15 675 13 29 14 87 52 95 44 104 31 808 19 19 18 89 51 95 42 109 25 999999"/><use href="#S250x137" stroke="#f00" stroke-dasharray="0 764 33 105 41 963 21 113 36 104 17 7 17 959 28 110 38 102 9 23 9 823 16 119 32 106 17 5 17 961 27 111 35 104 9 23 9 820 23 115 31 108 8 21 8 103 4 33 4 542 10 127 22 116 9 11 9 111 6 21 6 107 4 29 4 103 3 35 3 260 8 129 16 124 6 10 5 119 4 16 5 115 4 21 4 112 3 24 4 110 3 27 3 108 2 31 2 106 2 14 1 3 1 14 2 125 1 3 1 128 2 12 1 129 1 3 2 3 1 126 2 5 2 3 1 3 1 5 1 121 1 3 1 7 1 3 2 125 2 15 1 117 1 11 1 3 1 13 1 114 2 5 2 2 2 2 1 3 1 5 1 115 1 5 1 10 1 6 1 122 1 9 1 8 1 114 1 4 1 5 1 2 1 3 1 5 1 6 1 111 1 2 1 6 1 2 2 2 1 2 2 2 1 4 1 1 2 1 1 108 1 4 1 13 1 5 2 118 1 1 1 3 1 5 1 2 1 4 1 2 1 1 1 115 1 4 1 2 1 2 1 2 2 4 2 117 1 6 1 5 1 2 1 5 1 12 1 1 1 97 1 1 1 1 2 1 1 4 1 14 2 5 1 2 1 114 2 5 1 4 1 2 1 2 1 8 1 113 1 3 1 2 1 2 1 2 1 2 1 5 1 124 1 4 1 11 1 3 1 105 1 2 1 1 1 5 1 2 1 3 1 2 1 7 1 121 1 7 2 6 1 2 1 6 1 3 1 1 1 1 1 2 1 93 1 8 1 7 1 2 1 4 1 2 1 7 1 122 1 4 1 2 1 7 1 1 1 3 1 113 1 3 1 5 1 6 1 4 1 128 1 6 1 1 1 2 1 1 1 3 1 5 1 1 1 1 1 93 1 1 1 1 1 1 1 1 1 7 1 1 1 4 1 1 1 4 1 5 1 120 1 1 1 4 1 2 1 8 1 1 1 3 1 1 1 7 1 1 1 87 1 11 1 3 1 2 1 1 1 1 1 5 1 4 1 129 1 6 1 1 1 1 1 1 1 1 1 2 1 7 1 97 1 1 1 1 1 1 1 3 1 2 1 1 1 5 1 1 1 139 1 1 1 9 1 1 1 4 1 1 1 1 1 1 1 1 1 89 1 1 1 9 1 2 1 2 1 1 1 8 1 4 1 128 1 1 1 5 1 1 1 4 1 5 1 11 1 93 1 1 1 9 1 6 1 1 1 3 1 129 1 12 1 11 1 1 1 3 1 103 1 2 1 4 1 2 1 1 1 2 1 3 1 131 1 1 1 6 1 2 1 6 2 106 1 1 1 6 1 9 1 153 1 3 1 2 1 1 1 1 1 95 1 8 1 5 2 4 1 2 1 3 1 145 3 113 1 1 1 5 1 7 1 2 1 141 1 9 1 4 1 113 1 4 4 3 1 1 1 152 1 3 1 109 2 1 2 3 1 2 1 4 1 140 1 2 1 5 1 124 2 7 1 146 1 3 1 2 1 117 1 5 2 150 1 1 1 1 1 2 1 120 1 157 1 411 1 157 1 120 1 2 1 1 1 1 1 150 2 5 1 117 1 2 1 3 1 146 1 7 2 124 1 5 1 2 1 140 1 4 1 2 1 3 2 1 2 109 1 3 1 152 1 1 1 3 4 4 1 113 1 4 1 9 1 141 1 2 1 7 1 5 1 1 1 113 3 145 1 3 1 2 1 4 2 5 1 8 1 95 1 1 1 1 1 2 1 3 1 153 1 9 1 6 1 1 1 106 2 6 1 2 1 6 1 1 1 131 1 3 1 2 1 1 1 2 1 4 1 2 1 103 1 3 1 1 1 11 1 12 1 129 1 3 1 1 1 6 1 9 1 1 1 93 1 11 1 5 1 4 1 1 1 5 1 1 1 128 1 4 1 8 1 1 1 2 1 2 1 9 1 1 1 89 1 1 1 1 1 1 1 1 1 4 1 1 1 9 1 1 1 139 1 1 1 5 1 1 1 2 1 3 1 1 1 1 1 1 1 97 1 7 1 2 1 1 1 1 1 1 1 1 1 6 1 129 1 4 1 5 1 1 1 1 1 2 1 3 1 11 1 87 1 1 1 7 1 1 1 3 1 1 1 8 1 2 1 4 1 1 1 120 1 5 1 4 1 1 1 4 1 1 1 7 1 1 1 1 1 1 1 1 1 93 1 1 1 1 1 5 1 3 1 1 1 2 1 1 1 6 1 128 1 4 1 6 1 5 1 3 1 113 1 3 1 1 1 7 1 2 1 4 1 122 1 7 1 2 1 4 1 2 1 7 1 8 1 93 1 2 1 1 1 1 1 3 1 6 1 2 1 6 2 7 1 121 1 7 1 2 1 3 1 2 1 5 1 1 1 2 1 105 1 3 1 11 1 4 1 124 1 5 1 2 1 2 1 2 1 2 1 3 1 113 1 8 1 2 1 2 1 4 1 5 2 114 1 2 1 5 2 14 1 4 1 1 2 1 1 1 1 97 1 1 1 12 1 5 1 2 1 5 1 6 1 117 2 4 2 2 1 2 1 2 1 4 1 115 1 1 1 2 1 4 1 2 1 5 1 3 1 1 1 118 2 5 1 13 1 4 1 108 1 1 2 1 1 4 1 2 2 2 1 2 2 2 1 6 1 2 1 111 1 6 1 5 1 3 1 2 1 5 1 4 1 114 1 8 1 9 1 122 1 6 1 10 1 5 1 115 1 5 1 3 1 2 2 2 2 5 2 114 1 13 1 3 1 11 1 117 1 15 2 125 2 3 1 7 1 3 1 121 1 5 1 3 1 3 2 5 2 126 1 3 2 3 1 129 1 12 2 128 1 3 1 125 2 14 1 3 1 14 2 106 2 31 2 108 3 27 3 110 4 24 3 112 4 21 4 115 5 16 4 119 5 10 6 124 16 129 8 260 3 35 3 103 4 29 4 107 6 21 6 111 9 11 9 116 22 127 10 542 4 33 4 103 8 21 8 108 31 115 23 820 9 23 9 104 35 111 27 961 17 5 17 106 32 119 16 823 9 23 9 102 38 110 28 959 17 7 17 104 36 113 21 963 41 105 33 999999"/><use href="#S250x137" stroke="#800" stroke-dasharray="0 770 21 118 2 23 2 1109 27 1118 9 124 7 13 8 1110 24 1116 15 121 5 17 5 974 13 122 6 15 5 974 16 121 4 17 4 116 1 26 1 689 4 5 3 128 2 14 2 121 2 19 2 118 1 23 1 553 1 3 1 554 1 7 1 3 1 3 1 5 1 121 1 143 1 15 1 117 1 11 1 3 1 13 1 115 1 17 1 5 1 115 1 5 1 140 1 18 1 119 1 8 1 3 1 5 1 261 1 4 1 13 1 6 1 133 1 125 1 7 1 2 1 140 1 21 1 1 1 261 1 2 1 2 1 129 1 2 1 2 1 133 1 4 1 11 1 279 1 6 1 5 1 4 1 102 1 15 1 133 1 4 1 12 1 268 1 6 1 18 1 1 1 93 1 1 1 13 1 147 1 27 1 101 1 8 1 142 1 6 1 1 1 1 1 1 1 110 1 1 1 1 1 8 1 9 1 158 1 5 1 1 1 101 1 2 1 13 1 141 1 1 1 4 1 132 1 158 1 109 1 7 1 7 1 137 1 6 1 126 1 9 1 269 1 5 2 7 1 3 1 263 1 158 1 133 3 159 1 117 1 573 1 1287 1 573 1 117 1 159 3 133 1 158 1 263 1 3 1 7 2 5 1 269 1 9 1 126 1 6 1 137 1 7 1 7 1 109 1 158 1 132 1 4 1 1 1 141 1 13 1 2 1 101 1 1 1 5 1 158 1 9 1 8 1 1 1 1 1 110 1 1 1 1 1 1 1 6 1 142 1 8 1 101 1 27 1 147 1 13 1 1 1 93 1 1 1 18 1 6 1 268 1 12 1 4 1 133 1 15 1 102 1 4 1 5 1 6 1 279 1 11 1 4 1 133 1 2 1 2 1 129 1 2 1 2 1 261 1 1 1 21 1 140 1 2 1 7 1 125 1 133 1 6 1 13 1 4 1 261 1 5 1 3 1 8 1 119 1 18 1 140 1 5 1 115 1 5 1 17 1 115 1 13 1 3 1 11 1 117 1 15 1 143 1 121 1 5 1 3 1 3 1 7 1 554 1 3 1 553 1 23 1 118 2 19 2 121 2 14 2 128 3 5 4 689 1 26 1 116 4 17 4 121 16 974 5 15 6 122 13 974 5 17 5 121 15 1116 24 1110 8 13 7 124 9 1118 27 1109 2 23 2 118 21 999999"/><use href="#S250x137" stroke="#4fb" stroke-dasharray="0 3 14 31 45 31 14 6 11 28 59 29 10 5 6 27 71 26 7 5 3 25 35 11 36 24 3 28 24 43 24 46 20 61 20 37 17 75 17 30 15 85 16 22 14 33 29 33 14 16 13 28 47 28 13 9 13 25 60 26 12 6 9 25 70 24 9 5 6 22 28 25 27 23 6 5 3 21 21 47 21 22 2 25 17 62 18 41 16 73 16 34 14 83 14 28 13 28 35 28 13 22 12 25 49 25 12 16 12 23 60 23 11 10 11 22 69 22 11 6 9 21 22 33 22 21 9 5 6 20 18 49 18 20 6 5 3 19 16 61 16 19 3 24 14 71 14 18 1 21 13 29 21 29 13 34 12 24 39 24 12 28 12 22 50 22 11 22 11 21 59 21 10 18 11 19 24 19 24 20 10 12 11 18 19 37 19 18 10 8 10 18 16 49 16 18 10 5 7 18 14 59 14 18 7 5 5 17 12 69 12 17 5 5 2 17 12 23 29 23 12 16 3 22 11 20 41 21 11 35 10 19 51 18 11 31 10 18 58 17 11 25 10 17 18 29 18 17 10 21 10 16 15 41 15 17 9 17 9 16 14 49 14 16 9 13 9 16 12 57 12 16 9 9 9 15 11 21 23 21 11 15 9 6 8 15 10 18 35 18 10 15 8 5 6 14 10 17 43 17 10 14 6 5 4 14 10 16 50 15 10 14 4 5 2 14 9 15 17 23 16 16 9 14 2 19 9 15 14 34 13 15 9 31 9 14 12 42 12 15 9 28 8 14 11 49 11 14 9 24 8 14 10 17 20 18 10 14 8 21 8 14 10 15 30 15 9 14 8 17 8 14 9 14 37 14 9 14 8 14 8 13 9 13 17 9 17 13 9 13 8 11 8 13 8 13 13 22 13 13 9 13 8 8 7 13 9 12 12 30 11 12 9 13 7 6 7 13 8 12 10 36 11 12 8 13 7 5 5 13 8 12 10 15 11 15 10 12 8 13 5 5 4 12 8 12 9 13 21 12 9 12 8 13 4 5 2 13 8 12 9 11 27 12 8 12 8 13 2 5 1 12 8 12 8 11 13 6 13 11 9 12 7 13 1 17 8 12 8 10 11 16 10 10 8 12 8 28 7 12 8 10 9 22 10 10 8 12 7 26 7 12 7 11 8 27 8 11 7 12 8 22 8 11 8 10 8 31 8 10 8 11 8 20 7 12 7 11 8 33 8 11 7 12 7 18 7 12 7 10 8 37 8 10 7 12 7 16 7 12 7 10 8 39 8 10 8 11 8 12 7 12 7 11 7 42 8 10 8 11 8 10 7 12 7 11 7 22 2 21 7 11 7 12 7 8 7 12 7 11 7 18 2 3 1 3 2 18 7 11 7 12 7 6 7 12 7 11 7 16 1 32 7 11 7 12 7 5 6 12 7 11 7 16 1 5 2 2 2 5 2 16 7 11 7 12 6 5 5 12 7 11 7 20 2 2 2 3 1 3 1 19 7 11 7 12 5 5 4 12 7 11 7 14 1 5 1 3 1 3 1 3 2 5 2 14 7 11 7 12 4 5 3 12 7 11 7 15 1 2 2 3 1 5 1 5 1 3 1 1 1 15 7 11 7 12 3 5 2 12 7 11 7 18 1 5 1 2 2 2 2 5 2 19 7 11 7 12 2 5 1 12 7 12 6 14 1 6 1 1 2 2 2 2 2 2 1 3 1 1 1 19 7 11 7 12 1 17 7 12 6 14 1 1 2 4 1 3 1 6 1 3 2 5 2 1 2 13 7 12 6 30 6 12 7 17 2 6 1 5 1 2 2 4 1 4 2 1 1 15 6 12 6 28 6 12 7 17 1 1 2 4 1 2 2 2 1 2 2 5 1 2 1 19 7 11 7 27 6 12 6 23 2 4 2 2 1 3 1 2 1 4 2 20 7 11 6 26 6 12 6 14 1 1 1 4 1 1 2 2 1 9 1 3 1 2 1 6 1 2 1 14 6 12 6 25 5 13 5 15 1 2 2 1 2 5 2 4 1 2 2 2 1 3 2 4 1 1 1 1 1 15 5 13 6 23 4 14 6 17 1 1 1 4 1 1 1 2 1 2 2 2 1 2 1 2 1 2 1 2 2 21 6 14 4 22 4 15 5 23 1 1 2 5 1 2 2 2 1 2 1 2 1 4 1 1 1 20 5 15 5 18 5 15 5 23 1 1 1 2 1 12 1 2 1 2 1 27 5 14 5 18 5 14 5 31 1 4 1 2 2 1 2 1 1 4 1 6 1 1 1 17 5 14 5 17 5 12 5 17 3 1 1 1 1 4 1 3 2 1 1 2 1 2 2 4 1 5 1 2 2 2 1 20 4 13 5 17 5 12 5 24 1 2 1 2 1 4 2 2 1 8 1 1 1 4 1 1 1 1 1 4 1 16 6 11 6 15 6 11 5 24 1 1 1 4 1 3 1 4 1 4 1 5 1 2 1 28 5 11 5 17 5 11 5 31 2 1 1 2 1 4 1 2 1 1 1 6 1 1 1 26 5 12 4 17 4 11 6 17 1 1 1 8 1 3 1 2 1 1 1 2 1 2 1 4 1 34 5 12 4 17 4 12 5 25 1 2 1 5 1 2 1 2 1 9 1 3 1 3 4 1 1 1 1 17 6 11 4 18 2 12 5 16 1 1 1 1 1 1 1 1 3 4 1 5 1 1 1 6 1 5 1 1 2 28 5 12 3 34 4 32 2 4 1 4 1 1 1 4 1 6 2 9 1 16 4 50 1 30 1 3 1 1 1 1 1 2 1 1 1 2 1 3 2 1 1 34 2 90 1 4 1 10 1 3 1 3 1 1 1 1 1 1 1 93 1 1 1 1 1 1 1 1 1 3 1 1 1 2 1 1 1 1 1 3 1 2 1 4 1 2 1 62 1 55 1 1 2 3 2 3 1 1 1 1 1 1 1 1 1 2 1 3 1 1 1 1 1 1 1 1 1 1 1 40 1 6 3 12 3 24 1 9 1 1 1 2 1 1 1 1 1 3 1 1 1 6 1 1 1 41 3 12 4 5 4 11 4 43 2 3 1 6 1 4 1 2 1 13 1 21 5 10 4 5 4 10 5 25 1 1 1 1 1 1 1 4 1 1 1 2 1 4 1 3 1 1 1 1 1 44 5 10 4 5 4 10 5 39 1 1 1 4 1 3 1 1 1 1 1 2 1 1 1 2 1 2 1 1 1 1 1 1 1 1 1 25 5 10 4 5 4 10 5 23 1 1 1 7 1 5 1 6 1 1 1 1 1 3 1 1 1 42 5 10 4 5 4 10 5 44 2 9 1 3 1 3 1 11 1 23 5 10 4 5 4 10 5 21 1 6 1 1 2 4 1 3 1 2 1 2 1 2 1 1 1 1 1 45 5 10 4 5 4 10 5 40 1 2 1 3 1 4 1 1 1 3 1 3 1 2 1 1 2 1 1 1 1 4 1 21 5 11 3 6 1 13 3 27 1 6 1 3 1 2 1 6 1 1 1 3 1 1 1 44 3 13 1 71 1 8 2 4 1 1 1 10 1 95 1 1 1 1 1 3 1 6 2 3 1 1 1 135 2 3 1 3 1 8 1 3 1 1 1 1 1 60 2 12 3 29 1 1 1 4 1 3 1 4 1 1 1 39 2 12 3 20 4 11 4 41 2 1 1 5 2 4 1 28 4 11 4 19 5 9 5 22 1 1 1 1 2 4 2 7 1 3 1 1 1 37 5 9 5 19 5 9 6 39 1 5 3 2 2 32 5 9 6 17 6 9 5 29 1 4 1 4 1 2 1 41 6 9 5 19 5 9 6 38 1 1 1 4 1 2 1 2 1 1 1 1 1 2 1 25 5 9 6 17 6 9 5 29 1 2 1 3 2 4 1 42 5 9 5 19 5 10 4 53 1 31 4 11 4 19 4 11 3 30 1 4 1 5 1 44 4 11 3 89 1 1 1 123 1 3 1 155 1 78 2 42 1 59 2 21 4 10 5 58 1 40 5 10 4 5 4 10 5 39 1 59 5 10 4 5 4 10 5 53 1 3 1 41 5 10 4 5 4 10 5 39 1 1 1 57 5 10 4 5 4 10 5 51 1 5 1 4 1 36 5 10 4 5 4 10 5 38 1 60 5 10 4 5 4 10 5 49 1 4 2 3 1 2 1 36 5 10 4 5 3 11 5 32 1 2 1 1 1 1 1 2 1 2 1 4 1 1 1 46 4 11 4 21 1 51 1 2 1 4 1 4 1 38 1 79 2 2 3 5 1 134 1 1 1 3 1 7 2 4 2 1 1 1 1 107 1 4 2 5 1 1 2 80 3 11 4 38 1 1 1 4 1 3 1 4 1 1 1 28 4 11 4 19 4 10 5 21 1 1 1 1 1 3 1 8 1 3 1 3 2 37 4 10 5 19 5 9 5 41 1 1 1 3 2 6 1 3 1 1 1 1 1 21 5 9 5 18 6 9 5 17 1 10 1 1 1 4 2 8 1 38 6 9 5 19 5 9 6 35 1 1 1 3 1 1 1 6 1 2 1 3 1 6 1 19 5 9 6 18 5 9 5 14 1 4 1 1 1 1 2 1 1 2 1 3 1 3 1 1 1 4 1 3 1 2 1 32 6 9 5 19 5 9 5 38 1 1 1 1 1 2 1 2 1 2 1 3 1 4 2 1 1 6 1 14 5 10 4 19 4 11 4 16 1 11 1 3 1 3 1 9 2 37 4 11 4 35 2 36 1 1 1 3 1 1 1 1 1 6 1 5 1 7 1 1 1 17 3 71 1 1 1 1 1 1 1 1 1 2 1 2 1 1 1 2 1 1 1 1 1 3 1 4 1 1 1 126 1 1 1 1 1 3 1 4 1 2 1 1 1 4 1 1 1 1 1 1 1 89 1 13 1 2 1 4 1 6 1 3 2 67 3 13 2 42 1 1 1 6 1 1 1 3 1 1 1 1 1 2 1 1 1 9 1 25 1 13 3 5 4 11 4 23 1 1 1 1 1 1 1 1 1 1 1 3 1 2 1 1 1 1 1 1 1 1 1 3 2 3 2 1 1 38 4 11 4 5 4 11 4 37 1 2 1 4 1 2 1 3 1 1 1 1 1 2 1 1 1 3 1 1 1 1 1 1 1 1 1 25 4 11 4 5 4 11 4 25 1 1 1 1 1 1 1 3 1 3 1 10 1 4 1 43 4 11 4 5 5 10 4 40 1 1 2 3 1 2 1 1 1 2 1 1 1 1 1 3 1 35 4 11 4 5 4 11 4 23 1 9 2 6 1 4 1 1 1 4 1 4 2 39 3 11 5 5 5 50 2 1 1 5 1 6 1 1 1 5 1 4 3 1 1 1 1 1 1 1 1 37 5 5 5 39 1 1 1 1 4 3 1 3 1 9 1 2 1 2 1 5 1 2 1 47 5 6 4 56 1 4 1 2 1 2 1 1 1 2 1 3 1 8 1 1 1 39 4 9 1 49 1 1 1 6 1 1 1 2 1 4 1 2 1 1 2 54 1 63 1 2 1 5 1 4 1 4 1 3 1 4 1 1 1 62 3 16 3 16 1 4 1 1 1 1 1 4 1 1 1 8 1 2 2 4 1 2 1 2 1 24 3 16 3 17 5 13 5 19 1 2 2 2 1 5 1 4 2 2 1 2 1 1 2 3 1 4 1 1 1 1 3 17 4 14 4 17 5 13 5 18 1 1 1 6 1 4 1 1 2 1 2 2 1 4 1 32 5 13 5 17 6 13 6 27 1 2 1 2 1 12 1 2 1 1 1 24 6 12 6 17 6 13 7 20 1 1 1 4 1 2 1 2 1 2 2 2 1 5 2 1 1 23 7 12 6 19 6 14 6 21 2 2 1 2 1 2 1 2 1 2 2 2 1 2 1 1 1 4 1 1 1 18 6 13 6 19 7 14 5 15 1 1 1 1 1 4 2 3 1 2 2 2 1 4 2 5 2 1 2 2 1 15 5 14 6 21 6 14 6 14 1 2 1 6 1 2 1 3 1 9 1 2 2 1 1 4 1 1 1 14 6 14 6 22 6 14 6 20 2 4 1 2 1 3 1 2 2 4 2 23 6 14 6 25 6 13 6 19 1 2 1 5 2 2 1 2 2 2 1 4 2 1 1 17 7 13 6 26 7 12 6 15 1 1 2 4 1 4 2 2 1 5 1 6 2 17 7 12 6 30 6 12 7 13 2 1 2 5 2 3 1 6 1 3 1 4 2 1 1 14 6 12 7 30 7 11 7 19 1 1 1 3 1 2 2 2 2 2 2 1 1 6 1 14 6 12 7 12 1 5 2 12 7 11 7 19 2 5 2 2 2 2 1 5 1 18 7 11 7 12 2 5 3 12 7 11 7 15 1 1 1 3 1 5 1 5 1 3 2 2 1 15 7 11 7 12 3 5 4 12 7 11 7 14 2 5 2 3 1 3 1 3 1 5 1 14 7 11 7 12 4 5 5 12 7 11 7 19 1 3 1 3 2 2 2 20 7 11 7 12 5 5 6 12 7 11 7 16 2 5 2 2 2 5 1 16 7 11 7 12 6 5 7 12 7 11 7 32 1 16 7 11 7 12 7 6 7 12 7 11 7 18 2 3 1 3 2 18 7 11 7 12 7 8 7 12 7 11 7 21 2 22 7 11 7 12 7 10 8 11 8 10 8 42 7 11 7 12 7 12 8 11 8 10 8 39 8 10 7 12 7 16 7 12 7 10 8 37 8 10 7 12 7 18 7 12 7 11 8 33 8 11 7 12 7 20 8 11 8 10 8 31 8 10 8 11 8 22 8 12 7 11 8 27 8 11 7 12 7 26 7 12 8 10 10 22 9 10 8 12 7 28 8 12 8 10 10 16 11 10 8 12 8 17 1 13 7 12 9 11 13 6 13 11 8 12 8 12 1 5 2 13 8 12 8 12 27 11 9 12 8 13 2 5 4 13 8 12 9 12 21 13 9 12 8 12 4 5 5 13 8 12 10 15 11 15 10 12 8 13 5 5 7 13 8 12 11 36 10 12 8 13 7 6 7 13 9 12 11 30 12 12 9 13 7 8 8 13 9 13 13 22 13 13 8 13 8 11 8 13 9 13 17 9 17 13 9 13 8 14 8 14 9 14 37 14 9 14 8 17 8 14 9 15 30 15 10 14 8 21 8 14 10 18 20 17 10 14 8 24 9 14 11 49 11 14 8 28 9 15 12 42 12 14 9 31 9 15 13 34 14 15 9 19 2 14 9 16 16 23 17 15 9 14 2 5 4 14 10 15 50 16 10 14 4 5 6 14 10 17 43 17 10 14 6 5 8 15 10 18 35 18 10 15 8 6 9 15 11 21 23 21 11 15 9 9 9 16 12 57 12 16 9 13 9 16 14 49 14 16 9 17 9 17 15 41 15 16 10 21 10 17 18 29 18 17 10 25 11 17 58 18 10 31 11 18 51 19 10 35 11 21 41 20 11 22 3 16 12 23 29 23 12 17 2 5 5 17 12 69 12 17 5 5 7 18 14 59 14 18 7 5 10 18 16 49 16 18 10 8 10 18 19 37 19 18 11 12 10 20 24 19 24 19 11 18 10 21 59 21 11 22 11 22 50 22 12 28 12 24 39 24 12 34 13 29 21 29 13 21 1 18 14 71 14 24 3 19 16 61 16 19 3 5 6 20 18 49 18 20 6 5 9 21 22 33 22 21 9 6 11 22 69 22 11 10 11 23 60 23 12 16 12 25 49 25 12 22 13 28 35 28 13 28 14 83 14 34 16 73 16 41 18 62 17 25 2 22 21 47 21 21 3 5 6 23 27 25 28 22 6 5 9 24 70 25 9 6 12 26 60 25 13 9 13 28 47 28 13 16 14 33 29 33 14 22 16 85 15 30 17 75 17 37 20 61 20 46 24 43 24 28 3 24 36 11 35 25 3 5 7 26 71 27 6 5 10 29 59 28 11 6 14 31 45 31 14 999999"/><use href="#S250x137" stroke="#0ef" stroke-dasharray="0 51 39 96 53 84 63 75 25 21 25 66 15 51 15 57 7 75 8 47 6 87 5 41 4 97 4 34 1 43 23 42 2 65 43 93 55 83 63 75 20 31 19 68 13 53 13 59 6 74 7 51 6 84 5 44 4 93 4 38 3 35 31 36 2 66 45 92 55 83 29 5 29 76 16 37 16 69 11 55 11 62 6 72 6 54 5 81 5 48 4 37 15 37 4 42 3 31 35 30 4 37 2 28 47 28 2 61 55 84 19 23 20 77 13 41 13 72 9 55 9 65 6 69 6 59 4 77 5 53 4 28 26 29 4 48 4 25 39 25 4 43 3 24 47 24 3 39 2 23 22 11 22 23 3 34 1 23 15 31 15 23 1 55 11 43 11 74 9 53 8 70 6 63 6 64 5 26 19 26 5 59 4 23 32 22 4 54 4 21 41 21 3 50 4 20 20 7 20 20 4 45 3 20 14 25 14 20 2 43 2 20 11 36 11 19 3 38 2 19 9 44 10 19 2 35 1 21 7 51 8 20 1 52 6 20 18 20 6 70 5 18 29 18 5 65 4 18 35 18 4 62 3 17 14 13 14 17 4 58 3 16 12 23 12 16 3 55 3 16 10 31 10 16 3 51 3 16 9 37 9 16 3 48 3 16 7 17 9 17 8 16 2 45 3 16 7 14 19 14 7 16 3 42 2 17 6 13 26 13 6 16 2 39 2 17 5 13 11 9 11 12 6 17 1 37 2 17 4 13 9 17 9 13 4 17 2 34 1 17 4 13 8 23 8 13 4 17 1 50 3 13 8 27 8 13 3 65 3 14 7 31 7 13 3 63 3 13 7 35 7 13 3 60 3 13 7 37 7 13 3 58 2 14 6 41 6 14 2 56 2 14 6 43 6 14 2 54 2 14 6 22 1 23 5 14 2 52 1 15 5 19 2 3 1 3 1 20 5 14 2 50 1 15 5 17 1 33 5 15 1 64 5 17 1 5 1 3 2 5 2 17 5 79 4 21 2 2 2 3 1 3 1 20 4 78 4 15 1 5 1 11 2 5 2 15 4 77 3 16 1 2 2 9 1 5 1 3 1 1 1 17 2 76 2 20 1 5 1 3 1 3 1 5 2 21 1 100 1 5 2 2 2 2 1 5 1 113 1 1 1 5 1 14 2 5 1 2 2 110 2 6 1 5 1 8 1 4 2 111 1 1 2 4 1 2 1 3 1 3 1 5 1 2 1 118 1 5 2 2 1 3 1 2 1 4 2 108 1 1 1 6 1 3 1 9 1 3 1 117 1 3 1 5 1 5 1 2 1 8 1 4 1 1 1 105 1 1 1 4 1 4 1 2 2 2 1 11 1 115 1 2 1 5 1 2 1 6 1 2 1 4 1 1 1 111 1 4 1 12 1 5 1 124 1 8 1 2 1 6 1 6 1 1 1 99 1 1 1 1 1 4 1 3 1 2 1 2 1 2 1 5 1 5 1 2 1 112 1 2 1 5 1 2 1 8 1 1 1 4 1 1 1 1 1 4 1 100 1 1 1 4 1 13 1 5 1 121 1 2 1 2 1 4 1 2 1 1 1 6 1 1 1 102 1 1 1 8 1 3 1 2 1 1 1 2 1 2 1 4 1 133 1 9 1 3 1 5 2 1 1 1 1 91 1 1 1 1 1 4 1 13 1 6 1 5 1 1 1 120 1 4 1 4 1 1 1 4 1 7 1 9 1 101 1 3 1 1 1 6 1 2 1 3 2 128 1 4 1 10 1 3 1 5 1 1 1 95 1 1 1 1 1 1 1 5 1 4 1 1 1 8 1 128 1 5 1 3 1 1 1 1 1 1 1 1 1 2 1 3 1 1 1 3 1 1 1 1 1 89 1 9 1 1 1 2 1 1 1 1 1 3 1 1 1 6 1 1 1 127 2 3 1 11 1 2 1 13 1 91 1 1 1 1 1 4 1 1 1 2 1 10 1 130 1 4 1 3 1 1 1 1 1 2 1 1 1 2 1 2 1 1 1 1 1 1 1 1 1 91 1 1 1 7 1 5 1 8 1 1 1 3 1 1 1 129 1 10 1 19 1 87 1 9 1 4 1 3 1 2 1 2 1 2 1 1 1 133 1 3 1 4 1 1 1 3 1 3 1 2 1 2 1 1 1 1 1 95 1 6 1 3 1 9 1 1 1 3 1 1 1 132 1 8 1 7 1 106 1 1 1 1 1 3 1 6 2 3 1 1 1 135 1 8 1 8 1 3 1 3 1 106 1 10 1 4 1 138 1 2 1 5 2 112 1 1 1 2 1 4 2 7 1 3 1 136 1 5 3 122 1 4 1 4 1 143 1 7 1 2 1 1 1 1 1 121 2 4 1 152 1 117 1 4 1 5 1 153 1 123 1 159 1 122 1 159 1 122 1 159 1 123 1 153 1 5 1 4 1 117 1 152 1 4 2 121 1 1 1 1 1 2 1 7 1 143 1 4 1 4 1 122 3 5 1 136 1 3 1 7 2 4 1 2 1 1 1 112 2 5 1 2 1 138 1 4 1 10 1 106 1 3 1 3 1 8 1 8 1 135 1 1 1 3 2 6 1 3 1 1 1 1 1 106 1 7 1 8 1 132 1 1 1 3 1 1 1 9 1 3 1 6 1 95 1 1 1 1 1 2 1 2 1 3 1 3 1 1 1 4 1 3 1 133 1 1 1 2 1 2 1 2 1 3 1 4 1 9 1 87 1 19 1 10 1 129 1 1 1 3 1 1 1 8 1 5 1 7 1 1 1 91 1 1 1 1 1 1 1 1 1 2 1 2 1 1 1 2 1 1 1 1 1 3 1 4 1 130 1 10 1 2 1 1 1 4 1 1 1 1 1 91 1 13 1 2 1 11 1 3 2 127 1 1 1 6 1 1 1 3 1 1 1 1 1 2 1 1 1 9 1 89 1 1 1 1 1 3 1 1 1 3 1 2 1 1 1 1 1 1 1 1 1 3 1 5 1 128 1 8 1 1 1 4 1 5 1 1 1 1 1 1 1 95 1 1 1 5 1 3 1 10 1 4 1 128 2 3 1 2 1 6 1 1 1 3 1 101 1 9 1 7 1 4 1 1 1 4 1 4 1 120 1 1 1 5 1 6 1 13 1 4 1 1 1 1 1 91 1 1 1 1 2 5 1 3 1 9 1 133 1 4 1 2 1 2 1 1 1 2 1 3 1 8 1 1 1 102 1 1 1 6 1 1 1 2 1 4 1 2 1 2 1 121 1 5 1 13 1 4 1 1 1 100 1 4 1 1 1 1 1 4 1 1 1 8 1 2 1 5 1 2 1 112 1 2 1 5 1 5 1 2 1 2 1 2 1 3 1 4 1 1 1 1 1 99 1 1 1 6 1 6 1 2 1 8 1 124 1 5 1 12 1 4 1 111 1 1 1 4 1 2 1 6 1 2 1 5 1 2 1 115 1 11 1 2 2 2 1 4 1 4 1 1 1 105 1 1 1 4 1 8 1 2 1 5 1 5 1 3 1 117 1 3 1 9 1 3 1 6 1 1 1 108 2 4 1 2 1 3 1 2 2 5 1 118 1 2 1 5 1 3 1 3 1 2 1 4 2 1 1 111 2 4 1 8 1 5 1 6 2 110 2 2 1 5 2 14 1 5 1 1 1 113 1 5 1 2 2 2 2 5 1 100 1 21 2 5 1 3 1 3 1 5 1 20 2 76 2 17 1 1 1 3 1 5 1 9 2 2 1 16 3 77 4 15 2 5 2 11 1 5 1 15 4 78 4 20 1 3 1 3 2 2 2 21 4 79 5 17 2 5 2 3 1 5 1 17 5 64 1 15 5 33 1 17 5 15 1 50 1 15 5 20 1 3 1 3 2 19 5 15 1 52 2 14 5 23 1 22 6 14 2 54 2 14 6 43 6 14 2 56 2 14 6 41 6 14 2 58 3 13 7 37 7 13 3 60 3 13 7 35 7 13 3 63 3 13 7 31 7 14 3 65 3 13 8 27 8 13 3 50 1 17 4 13 8 23 8 13 4 17 1 34 2 17 4 13 9 17 9 13 4 17 2 37 1 17 6 12 11 9 11 13 5 17 2 39 2 16 6 13 26 13 6 17 2 42 3 16 7 14 19 14 7 16 3 45 2 16 8 17 9 17 7 16 3 48 3 16 9 37 9 16 3 51 3 16 10 31 10 16 3 55 3 16 12 23 12 16 3 58 4 17 14 13 14 17 3 62 4 18 35 18 4 65 5 18 29 18 5 70 6 20 18 20 6 52 1 20 8 51 7 21 1 35 2 19 10 44 9 19 2 38 3 19 11 36 11 20 2 43 2 20 14 25 14 20 3 45 4 20 20 7 20 20 4 50 3 21 41 21 4 54 4 22 32 23 4 59 5 26 19 26 5 64 6 63 6 70 8 53 9 74 11 43 11 55 1 23 15 31 15 23 1 34 3 23 22 11 22 23 2 39 3 24 47 24 3 43 4 25 39 25 4 48 4 29 26 28 4 53 5 77 4 59 6 69 6 65 9 55 9 72 13 41 13 77 20 23 19 84 55 61 2 28 47 28 2 37 4 30 35 31 3 42 4 37 15 37 4 48 5 81 5 54 6 72 6 62 11 55 11 69 16 37 16 76 29 5 29 83 55 92 45 66 2 36 31 35 3 38 4 93 4 44 5 84 6 51 7 74 6 59 13 53 13 68 19 31 20 75 63 83 55 93 43 65 2 42 23 43 1 34 4 97 4 41 5 87 6 47 8 75 7 57 15 51 15 66 25 21 25 75 63 84 53 96 39 999999"/><use href="#S250x137" stroke="#08f" stroke-dasharray="0 54 33 102 47 91 54 88 11 33 11 677 11 118 37 99 48 91 55 87 6 43 6 670 25 110 39 98 49 90 18 19 18 88 2 49 3 667 31 106 41 97 49 90 13 29 13 140 1 531 21 114 35 103 43 96 15 19 15 90 9 36 10 87 2 51 2 391 14 121 29 109 37 102 14 15 15 95 10 29 10 91 7 39 7 87 4 49 3 249 14 123 26 112 33 106 12 16 11 101 8 26 9 97 7 33 7 93 5 40 6 90 4 21 4 20 5 86 3 17 17 17 2 102 25 115 9 11 9 111 7 19 8 106 6 24 7 103 6 29 6 100 5 33 5 98 4 37 5 94 5 39 5 92 4 43 4 90 3 46 3 90 2 24 1 24 2 110 1 8 1 270 1 5 1 138 1 4 1 3 1 3 1 121 1 5 1 11 2 6 1 139 1 119 1 5 1 3 1 3 1 5 2 128 2 6 1 119 1 7 1 14 1 122 1 6 1 14 1 5 1 119 1 2 1 3 1 9 1 121 1 6 1 6 1 2 1 5 1 110 1 24 1 127 1 17 1 6 1 107 1 9 1 6 1 11 1 118 1 5 1 9 1 2 1 4 1 113 1 4 1 12 1 5 1 124 1 18 1 8 1 99 1 1 1 6 1 6 1 2 1 2 1 5 1 121 1 11 1 17 1 1 1 107 1 18 1 5 1 124 1 7 1 2 1 1 1 6 1 1 1 113 1 3 1 4 1 2 1 2 1 4 1 143 1 12 1 1 1 91 1 1 1 20 1 6 1 128 1 11 1 4 1 119 1 3 1 1 1 6 1 136 1 15 1 3 1 7 1 95 1 1 1 1 1 1 1 10 1 1 1 8 1 140 1 1 1 1 1 1 1 6 1 7 1 1 1 89 1 9 1 4 1 1 1 7 1 6 1 134 1 11 1 2 1 105 1 1 1 1 1 4 1 4 1 10 1 135 1 3 1 1 1 4 1 1 1 5 1 1 1 3 1 1 1 91 1 9 1 5 1 157 1 122 1 3 1 2 1 2 1 142 1 10 1 3 1 2 1 109 1 13 1 140 1 8 1 116 1 5 1 7 1 5 1 144 1 12 1 110 1 10 1 4 1 141 1 6 1 117 1 4 2 7 1 3 1 136 1 5 2 133 1 143 1 7 1 4 1 123 2 157 1 122 1 1293 1 122 1 157 2 123 1 4 1 7 1 143 1 133 2 5 1 136 1 3 1 7 2 4 1 117 1 6 1 141 1 4 1 10 1 110 1 12 1 144 1 5 1 7 1 5 1 116 1 8 1 140 1 13 1 109 1 2 1 3 1 10 1 142 1 2 1 2 1 3 1 122 1 157 1 5 1 9 1 91 1 1 1 3 1 1 1 5 1 1 1 4 1 1 1 3 1 135 1 10 1 4 1 4 1 1 1 1 1 105 1 2 1 11 1 134 1 6 1 7 1 1 1 4 1 9 1 89 1 1 1 7 1 6 1 1 1 1 1 1 1 140 1 8 1 1 1 10 1 1 1 1 1 1 1 95 1 7 1 3 1 15 1 136 1 6 1 1 1 3 1 119 1 4 1 11 1 128 1 6 1 20 1 1 1 91 1 1 1 12 1 143 1 4 1 2 1 2 1 4 1 3 1 113 1 1 1 6 1 1 1 2 1 7 1 124 1 5 1 18 1 107 1 1 1 17 1 11 1 121 1 5 1 2 1 2 1 6 1 6 1 1 1 99 1 8 1 18 1 124 1 5 1 12 1 4 1 113 1 4 1 2 1 9 1 5 1 118 1 11 1 6 1 9 1 107 1 6 1 17 1 127 1 24 1 110 1 5 1 2 1 6 1 6 1 121 1 9 1 3 1 2 1 119 1 5 1 14 1 6 1 122 1 14 1 7 1 119 1 6 2 128 2 5 1 3 1 3 1 5 1 119 1 139 1 6 2 11 1 5 1 121 1 3 1 3 1 4 1 138 1 5 1 270 1 8 1 110 2 24 1 24 2 90 3 46 3 90 4 43 4 92 5 39 5 94 5 37 4 98 5 33 5 100 6 29 6 103 7 24 6 106 8 19 7 111 9 11 9 115 25 102 2 17 17 17 3 86 5 20 4 21 4 90 6 40 5 93 7 33 7 97 9 26 8 101 11 16 12 106 33 112 26 123 14 249 3 49 4 87 7 39 7 91 10 29 10 95 15 15 14 102 37 109 29 121 14 391 2 51 2 87 10 36 9 90 15 19 15 96 43 103 35 114 21 531 1 140 13 29 13 90 49 97 41 106 31 667 3 49 2 88 18 19 18 90 49 98 39 110 25 670 6 43 6 87 55 91 48 99 37 118 11 677 11 33 11 88 54 91 47 102 33 999999"/><use href="#S250x137" stroke="#00f" stroke-dasharray="0 59 23 112 37 103 41 959 29 108 39 102 9 23 9 829 5 123 33 105 41 962 23 113 35 104 13 15 13 827 8 124 29 109 37 103 7 27 7 820 24 113 33 106 9 21 9 102 2 37 2 546 3 130 22 116 13 2 14 110 7 21 7 105 4 30 5 102 1 39 1 398 14 125 22 117 6 15 6 113 5 21 5 109 4 27 4 106 3 31 3 103 3 35 2 690 1 696 1 5 1 279 1 277 1 7 1 292 1 443 1 107 1 153 1 12 1 267 1 18 1 110 1 177 1 109 1 18 1 266 1 19 1 158 1 121 1 541 1 170 1 8 1 266 1 11 1 275 1 573 1 411 1 4127 1 411 1 573 1 275 1 11 1 266 1 8 1 170 1 541 1 121 1 158 1 19 1 266 1 18 1 109 1 177 1 110 1 18 1 267 1 12 1 153 1 107 1 443 1 292 1 7 1 277 1 279 1 5 1 696 1 690 2 35 3 103 3 31 3 106 4 27 4 109 5 21 5 113 6 15 6 117 22 125 14 398 1 39 1 102 5 30 4 105 7 21 7 110 14 2 13 116 22 130 3 546 2 37 2 102 9 21 9 106 33 113 24 820 7 27 7 103 37 109 29 124 8 827 13 15 13 104 35 113 23 962 41 105 33 123 5 829 9 23 9 102 39 108 29 959 41 103 37 112 23 999999"/><use href="#S250x137" stroke="#008" stroke-dasharray="0 199 27 1250 13 3 12 1112 21 118 2 23 2 1109 27 1113 19 118 4 21 3 974 13 122 6 15 6 974 14 122 4 16 5 836 7 130 4 10 3 121 3 19 3 116 1 25 1 18007 1 25 1 116 3 19 3 121 3 10 4 130 7 836 5 16 4 122 14 974 6 15 6 122 13 974 3 21 4 118 19 1113 27 1109 2 23 2 118 21 1112 12 3 13 1250 27 999999"/></g></g><g id="Ff"><g transform="matrix(2 0 0 2 -174 -165)" stroke-width="1.1" fill="none"><use href="#S168x172" stroke="#bf4" stroke-dasharray="0 33 2 6 3 5 3 5 3 5 2 42 2 5 2 3 4 5 6 8 5 8 5 8 2 10 1 8 5 8 5 8 6 6 3 21 1 6 2 5 2 25 1 6 3 5 3 5 3 59 2 6 3 5 3 6 2 18 1 6 2 5 2 5 3 4 3 5 2 4 2 16 3 12 4 7 2 28 4 7 4 10 5 7 5 5 1 5 2 4 3 4 3 4 3 5 2 5 2 5 3 5 2 18 2 6 3 6 3 41 2 7 3 5 3 19 1 6 2 5 3 5 2 5 2 5 3 4 3 4 3 4 2 4 2 5 5 7 6 8 5 7 5 17 5 7 5 8 6 7 5 5 2 4 2 4 3 4 2 28 1 6 2 5 3 19 1 6 3 6 3 33 3 6 2 19 3 5 3 5 2 48 2 4 2 5 3 10 5 8 5 7 4 12 2 24 3 9 4 5 2 4 3 21 2 5 2 6 1 24 2 6 3 6 1 20 3 7 1 47 3 6 2 25 2 5 2 5 2 5 2 5 2 5 1 9 2 10 5 8 5 7 6 8 4 5 4 8 5 7 6 8 5 8 3 3 2 4 3 4 2 5 2 5 2 5 2 5 3 5 2 18 1 6 3 6 2 61 3 6 2 18 2 5 3 5 2 5 2 5 2 5 2 4 3 4 3 3 3 3 3 8 5 8 6 7 5 8 4 19 2 16 1 7 1 10 2 4 3 4 2 4 2 5 2 5 2 5 2 5 2 5 3 5 2 6 1 19 3 6 2 44 3 7 2 18 3 5 3 5 2 5 2 5 2 5 2 5 2 5 2 4 2 4 3 4 2 3 4 8 5 7 5 9 5 15 6 7 6 7 6 7 4 3 2 4 3 4 2 5 1 5 2 5 2 5 2 5 2 5 2 5 3 5 3 5 2 20 2 7 2 27 2 7 2 20 2 6 2 5 3 5 2 5 2 5 2 5 2 5 2 4 2 11 2 4 3 3 4 7 6 7 6 8 5 15 4 10 4 9 4 8 3 4 3 4 1 12 2 4 3 4 2 5 2 5 2 5 2 5 2 6 2 6 2 6 2 21 2 49 3 6 3 5 2 6 2 5 2 5 2 5 2 5 2 4 3 4 2 17 3 5 1 4 4 7 5 8 5 8 1 8 5 7 6 7 5 7 5 9 3 17 2 4 3 4 3 4 2 4 3 4 3 5 2 5 3 5 3 6 2 6 3 47 1 7 3 6 3 5 3 6 2 5 3 4 3 4 3 4 3 3 3 4 3 4 2 17 3 9 5 7 5 8 5 7 5 5 4 8 4 9 5 7 4 14 3 13 2 4 3 4 3 3 3 4 3 4 3 4 3 5 2 6 2 6 3 6 3 6 3 29 1 7 3 6 3 6 3 6 2 6 3 4 3 4 3 4 3 4 3 3 3 4 3 3 3 4 2 7 2 8 3 6 2 4 1 9 4 7 3 20 6 6 6 7 6 8 4 1 1 5 2 7 2 4 3 3 3 4 3 3 3 4 3 3 3 5 3 4 3 5 3 6 2 7 2 7 3 6 3 19 3 7 3 6 3 6 2 6 3 5 3 5 3 4 3 4 2 4 3 3 3 4 3 3 3 4 2 7 2 4 3 1 3 9 5 7 6 6 6 19 4 7 5 7 3 4 2 5 1 3 3 4 2 2 1 4 3 3 3 4 2 4 3 3 3 3 3 4 3 4 3 5 3 5 3 5 3 6 3 6 3 7 3 12 1 7 2 7 3 6 3 6 3 6 3 5 3 4 3 4 3 4 3 3 3 3 3 4 2 4 3 3 3 3 3 6 3 9 3 5 3 16 3 7 2 8 4 6 5 9 7 6 4 1 2 5 3 6 3 3 3 3 3 4 2 4 3 3 3 3 3 4 3 4 3 4 3 5 3 5 4 6 2 7 3 6 3 7 1 5 1 7 3 7 2 7 3 6 3 5 3 5 3 4 4 3 3 4 3 3 3 3 3 3 3 4 3 3 3 3 3 3 1 2 3 4 8 5 4 2 2 9 5 6 4 7 4 6 5 13 4 5 2 3 3 4 2 2 2 4 2 4 2 4 3 3 3 3 3 3 3 3 3 3 3 4 3 4 4 4 4 5 3 6 3 7 2 7 3 7 1 5 1 7 3 7 3 6 3 6 3 5 4 5 3 4 3 4 3 3 3 3 3 3 3 3 3 3 3 3 3 3 3 3 3 7 4 9 4 16 2 7 3 10 2 7 2 9 2 5 4 9 4 7 3 3 3 3 3 3 3 3 3 3 3 3 2 4 3 3 3 4 3 4 3 5 3 5 4 5 4 6 3 7 3 7 1 5 2 7 3 6 4 5 4 5 4 5 4 4 4 3 4 3 3 4 2 4 2 3 3 3 3 3 3 3 3 3 3 3 3 3 2 2 3 5 2 3 4 5 3 8 2 6 3 11 3 6 2 8 4 5 3 2 3 5 2 2 3 3 3 4 2 3 3 3 3 3 3 3 3 3 2 3 3 3 3 4 3 4 4 4 4 4 4 6 3 6 4 6 3 7 2 5 2 7 3 6 4 6 4 5 4 5 3 5 3 4 3 4 3 3 3 3 3 2 3 3 3 3 3 3 2 4 2 3 3 4 3 8 4 2 3 5 4 16 3 11 3 16 4 5 2 3 4 8 4 3 3 3 2 4 2 4 2 3 3 3 3 2 3 3 3 3 3 3 4 3 4 4 4 5 4 5 4 6 4 6 3 7 2 5 3 6 4 6 4 5 4 6 4 4 4 4 4 4 3 3 3 3 3 3 3 3 2 3 3 2 3 3 2 2 1 7 3 3 3 9 4 10 4 15 4 11 4 15 5 9 4 2 3 4 3 4 2 1 2 4 2 1 2 3 3 3 2 3 2 3 3 3 2 3 3 4 3 4 3 4 4 5 4 5 4 6 4 6 4 6 3 5 3 6 4 6 4 6 4 5 4 5 4 4 4 3 4 3 3 3 2 3 3 3 2 3 2 3 3 3 2 1 2 3 3 6 4 4 3 2 3 10 4 16 4 11 4 9 1 6 4 4 1 5 3 2 4 4 3 2 1 3 3 3 2 1 2 3 3 3 2 3 2 3 3 2 3 3 3 3 3 4 3 5 4 4 4 6 4 5 5 6 4 6 3 5 4 6 4 6 4 5 5 5 4 5 4 4 3 4 3 3 3 3 3 3 2 3 2 3 2 3 2 3 3 6 2 3 3 1 3 4 4 10 2 2 5 6 2 8 4 11 4 7 4 5 5 1 4 9 5 4 1 2 3 3 3 5 3 3 2 3 2 3 2 3 2 3 3 2 3 3 3 4 4 4 4 4 5 5 4 6 4 6 4 6 4 5 4 6 4 6 4 6 4 6 4 5 4 4 3 4 3 3 3 3 2 3 2 3 2 3 2 2 3 3 2 3 1 2 3 3 3 7 4 5 1 4 4 2 3 6 4 6 5 12 4 6 4 6 3 2 5 2 2 5 4 3 1 4 3 3 2 1 2 3 3 2 3 2 2 3 2 3 2 3 2 3 3 3 3 3 4 4 4 5 4 5 5 5 5 6 4 6 4 5 4 6 5 5 5 6 4 6 4 5 4 4 3 4 3 3 2 3 2 3 2 3 2 3 2 2 3 2 3 2 3 6 3 3 3 1 4 5 3 2 5 3 2 5 5 6 4 13 4 6 5 11 4 1 4 5 3 2 3 3 3 6 3 2 3 2 3 2 2 3 2 3 2 3 2 3 2 3 3 3 4 4 4 5 4 5 5 6 4 6 5 5 5 5 5 6 4 6 5 5 5 5 5 5 4 4 3 4 2 3 2 3 2 3 3 2 2 2 3 2 3 2 3 2 2 3 2 1 3 4 3 3 1 5 5 2 3 11 4 7 4 13 4 7 5 11 1 4 4 9 4 4 1 2 2 3 2 2 3 2 1 1 3 2 2 2 2 2 2 2 1 1 1 3 2 3 2 3 4 4 4 4 5 5 5 6 5 6 4 6 5 5 5 6 5 5 5 6 5 5 5 5 4 4 3 3 2 3 2 1 1 2 2 2 2 2 2 2 2 2 2 2 6 2 2 2 3 7 3 4 2 3 5 16 5 6 4 15 4 6 5 4 1 11 5 3 2 5 3 2 1 3 3 2 2 2 1 3 2 2 2 3 1 2 2 2 2 2 2 2 1 6 2 3 2 4 5 4 5 6 5 5 5 6 5 6 4 7 4 6 5 6 5 6 5 5 5 5 4 4 2 3 2 1 2 3 1 2 2 2 2 2 1 2 2 2 2 2 2 3 2 2 2 2 3 2 3 1 3 4 4 1 5 11 3 3 5 6 4 15 5 6 5 2 3 4 2 5 5 1 4 5 1 2 3 2 3 7 2 2 2 2 2 2 2 2 2 1 2 2 2 1 2 2 2 3 1 3 2 3 4 5 5 6 5 6 5 6 5 5 5 7 5 6 5 6 5 6 5 6 5 5 4 2 2 3 2 2 2 2 2 1 2 2 1 2 2 2 1 2 2 2 2 3 2 3 2 2 3 2 2 8 5 2 3 6 2 3 4 2 5 6 5 16 4 6 5 1 5 2 4 6 1 4 5 2 2 3 2 2 3 1 9 2 2 2 2 2 2 1 2 2 1 2 2 1 2 2 2 2 2 3 2 2 4 5 5 5 6 6 5 6 5 6 5 7 5 6 5 6 6 6 5 6 5 5 3 2 2 3 2 2 2 2 2 1 2 2 1 2 1 2 2 1 2 2 2 2 2 2 2 2 2 2 2 2 2 3 3 1 4 12 4 2 5 1 5 6 4 17 5 6 3 3 4 2 5 11 4 1 4 2 2 10 2 2 3 2 2 1 2 2 1 2 1 2 2 1 2 1 2 2 2 2 2 2 3 2 3 4 5 6 6 6 5 7 5 6 5 8 5 5 6 6 5 7 5 7 5 3 3 3 2 3 2 2 1 2 2 1 2 1 2 1 2 1 2 1 2 2 2 2 2 3 2 3 2 2 2 1 2 2 3 3 2 6 1 5 5 2 4 3 3 6 5 17 5 6 3 3 3 3 6 3 3 11 2 2 10 1 5 2 2 2 2 1 2 2 1 2 1 1 2 1 2 1 2 1 2 2 2 2 3 3 3 2 6 6 6 6 6 6 5 6 5 9 5 6 5 6 6 7 6 6 5 2 3 4 2 2 2 2 2 1 2 1 2 1 1 2 1 2 1 2 1 2 1 2 2 2 3 2 1 2 2 2 2 2 1 2 2 10 5 2 6 3 3 4 1 7 5 17 6 6 1 5 1 5 6 1 6 4 1 4 2 13 1 3 2 2 2 2 2 1 2 1 2 1 1 2 1 1 2 1 2 1 2 2 1 3 2 3 4 2 4 6 7 6 6 6 6 6 5 9 5 6 6 6 6 7 6 7 3 2 5 3 2 2 2 2 1 2 1 1 1 2 1 1 2 1 1 2 1 2 1 2 2 2 2 4 2 2 2 2 1 5 2 3 3 3 6 1 6 18 6 11 1 6 5 19 4 3 6 1 4 3 2 1 2 1 3 1 3 1 5 2 2 2 2 1 2 1 2 1 1 2 1 1 1 2 1 1 1 2 1 2 2 2 2 3 3 4 3 6 6 7 7 6 6 6 5 9 6 6 5 7 6 7 7 5 3 5 3 3 2 2 1 2 1 2 1 1 1 2 1 1 1 1 1 2 1 1 2 2 1 2 2 3 2 5 1 3 2 1 3 1 1 3 3 2 6 3 4 19 5 6 1 5 1 6 5 20 3 4 5 3 2 3 1 1 2 7 1 6 2 3 2 2 1 2 1 1 2 1 1 1 1 2 1 1 1 1 1 2 1 1 2 2 2 2 3 4 1 1 3 4 7 8 6 6 6 6 6 10 5 6 6 6 7 8 8 2 6 4 2 3 2 1 2 1 2 1 1 1 1 1 1 1 1 2 1 1 1 1 2 1 2 1 2 3 2 3 6 2 1 6 1 3 2 4 3 6 2 7 2 10 6 6 1 5 1 6 6 7 5 8 1 7 2 4 2 2 1 3 1 2 3 1 2 2 3 3 2 3 1 2 2 1 1 1 2 1 1 1 1 1 1 1 1 1 1 1 1 2 1 2 2 2 3 3 7 2 8 8 6 7 6 6 5 11 5 6 6 7 7 8 7 2 2 1 5 3 3 2 2 1 1 2 1 1 1 1 1 1 1 1 1 1 1 1 1 1 1 2 1 2 1 2 3 3 2 8 2 1 3 5 2 21 6 7 6 6 1 5 1 6 6 7 6 21 2 2 2 1 2 6 2 5 3 3 2 2 1 2 1 1 1 5 1 1 1 1 1 1 1 1 1 1 1 2 2 2 2 3 5 3 1 2 6 8 8 6 6 7 5 11 5 7 6 7 7 9 5 2 1 4 5 3 2 2 1 2 1 1 1 1 1 1 1 1 2 1 1 1 1 1 1 1 2 1 1 2 2 3 3 4 4 1 2 6 3 1 2 3 2 15 7 7 5 6 2 5 2 6 5 7 7 14 4 2 6 2 2 1 3 1 5 5 2 3 2 2 1 1 1 2 1 2 1 1 1 2 1 1 1 1 1 1 1 1 2 1 2 4 4 8 3 10 8 7 6 6 6 11 6 6 6 7 8 10 3 10 3 3 2 2 1 2 1 2 1 1 1 2 1 2 1 1 1 1 1 1 2 1 2 2 3 4 4 5 1 1 3 6 2 2 4 14 6 7 6 6 2 5 2 6 6 7 7 11 6 2 2 3 2 1 2 9 5 4 2 2 2 1 2 1 1 1 1 2 1 2 2 1 2 1 1 1 1 2 2 3 3 7 2 2 3 9 8 8 6 6 6 11 6 6 7 7 8 9 3 1 5 6 3 3 2 1 1 1 1 1 1 2 2 2 2 1 2 2 1 1 2 2 2 3 5 6 3 5 3 2 2 2 7 10 7 7 6 6 2 5 2 6 6 7 7 10 7 2 7 2 6 9 4 3 2 2 1 1 1 1 1 1 1 3 3 2 1 2 1 2 1 3 3 6 6 1 3 8 9 7 7 6 6 11 6 7 6 8 9 7 3 1 8 6 2 2 2 1 1 1 2 3 4 2 1 1 1 1 1 2 2 3 3 7 6 1 3 5 4 2 6 10 8 7 6 6 2 5 2 6 6 8 7 11 5 3 2 3 2 2 1 2 9 6 3 3 2 1 1 1 1 1 2 8 2 1 2 2 2 5 14 7 9 8 6 7 5 13 5 7 6 8 10 6 16 4 2 2 1 1 1 7 1 3 1 1 1 1 2 2 3 5 14 3 2 3 3 2 4 12 7 8 6 6 2 5 2 7 6 7 7 13 3 2 1 2 2 2 1 3 2 3 11 5 3 2 1 1 1 1 2 2 2 2 2 2 1 2 2 4 12 2 3 5 10 9 6 7 5 13 5 7 7 8 11 4 3 6 10 4 1 3 3 2 1 1 3 2 2 1 3 4 9 16 5 2 3 12 8 7 6 7 2 5 2 7 6 7 8 12 3 2 3 22 8 4 1 2 1 2 1 3 1 4 1 1 1 3 7 2 1 8 3 4 11 8 7 7 5 13 6 6 7 8 12 3 2 15 6 2 1 1 2 1 1 2 1 3 1 1 1 3 7 26 4 1 3 12 8 7 6 7 2 5 2 7 6 7 8 12 3 1 4 30 6 2 1 1 2 3 2 2 1 2 2 1 2 2 1 2 2 10 2 2 13 8 7 6 6 13 6 6 7 8 13 2 2 20 4 3 1 2 2 1 1 2 3 35 4 1 3 12 8 7 6 7 2 5 2 7 6 7 9 11 3 1 4 39 2 1 1 5 3 3 1 2 2 2 1 2 1 9 2 2 12 9 7 6 6 13 6 6 7 9 12 2 2 10 2 2 1 2 1 56 4 1 3 11 9 7 6 7 2 5 2 7 6 7 9 11 3 1 4 56 1 2 1 2 2 10 2 2 12 9 7 6 6 13 6 6 7 9 12 2 2 9 1 2 1 2 2 2 1 3 3 5 1 1 2 39 4 1 3 11 9 7 6 7 2 5 2 7 6 7 8 12 3 1 4 35 3 2 1 1 2 2 1 3 4 20 2 2 13 8 7 6 6 13 6 6 7 8 13 2 2 10 2 2 1 2 2 1 2 2 1 2 2 3 2 1 1 2 6 30 4 1 3 12 8 7 6 7 2 5 2 7 6 7 8 12 3 1 4 26 7 3 1 1 1 3 1 2 1 1 2 1 1 2 6 15 2 3 12 8 7 6 6 13 5 7 7 8 11 4 3 8 1 2 7 3 1 1 1 4 1 3 1 2 1 2 1 4 8 22 3 2 3 12 8 7 6 7 2 5 2 7 6 7 8 12 3 2 5 16 9 4 3 1 2 2 3 1 1 2 3 3 1 4 10 6 3 4 11 8 7 7 5 13 5 7 6 9 10 5 3 2 12 4 2 2 1 2 2 2 2 2 2 1 1 1 1 2 3 5 11 3 2 3 1 2 2 2 1 2 3 13 7 7 6 7 2 5 2 6 6 8 7 12 4 2 3 3 2 3 14 5 3 2 2 1 1 1 1 3 1 7 1 1 1 2 2 4 16 6 10 8 6 7 5 13 5 7 6 8 9 7 14 5 2 2 2 1 2 8 2 1 1 1 1 1 2 3 3 6 9 2 1 2 2 3 2 3 5 11 7 8 6 6 2 5 2 6 6 7 8 10 6 2 4 5 3 1 6 7 3 3 2 2 1 1 1 1 1 2 4 3 2 1 1 1 2 2 2 6 8 1 3 7 9 8 6 7 6 11 6 6 7 7 9 8 3 1 6 6 3 3 1 2 1 2 1 2 3 3 1 1 1 1 1 1 1 2 2 3 4 9 6 2 7 2 7 10 7 7 6 6 2 5 2 6 6 7 7 10 7 2 2 2 3 5 3 6 5 3 2 2 2 1 1 2 2 1 2 2 2 2 1 1 1 1 1 1 2 3 3 6 5 1 3 9 8 7 7 6 6 11 6 6 6 8 8 9 3 2 2 7 3 3 2 2 1 1 1 1 2 1 2 2 1 2 1 1 1 1 2 1 2 2 2 4 5 9 2 1 2 3 2 2 6 11 7 7 6 6 2 5 2 6 6 7 6 14 4 2 2 6 3 1 1 5 4 4 3 2 2 1 2 1 1 1 1 1 1 2 1 2 1 1 1 2 1 2 1 2 2 3 3 10 3 10 8 7 6 6 6 11 6 6 6 7 8 10 3 8 4 4 2 1 2 1 1 1 1 1 1 1 1 2 1 1 1 2 1 2 1 1 1 2 2 3 2 5 5 1 3 1 2 2 6 2 4 14 7 7 5 6 2 5 2 6 5 7 7 15 2 3 2 1 3 6 2 1 4 4 3 3 2 2 1 1 2 1 1 1 1 1 1 1 2 1 1 1 1 1 1 1 1 2 1 2 2 3 5 4 1 2 5 9 7 7 6 7 5 11 5 7 6 6 8 8 6 2 1 3 5 3 2 2 2 2 1 1 1 1 1 1 1 1 1 1 1 5 1 1 1 2 1 2 2 3 3 5 2 6 2 1 2 2 2 21 6 7 6 6 1 5 1 6 6 7 6 21 2 5 3 1 2 8 2 3 3 2 1 2 1 2 1 1 1 1 1 1 1 1 1 1 1 1 1 1 1 2 1 1 2 2 3 3 5 1 2 2 7 8 7 7 6 6 5 11 5 6 6 7 6 8 8 2 7 3 3 2 2 2 1 2 1 1 1 1 1 1 1 1 1 1 1 1 2 1 1 1 2 2 1 3 2 3 3 2 2 1 3 2 1 3 1 2 2 4 2 7 1 8 5 7 6 6 1 5 1 6 6 10 2 7 2 6 3 4 2 3 1 6 1 2 6 3 2 3 2 1 2 1 2 1 1 1 1 2 1 1 1 1 1 1 1 1 2 1 2 1 2 3 2 4 6 2 8 8 7 6 6 6 5 10 6 6 6 6 6 8 7 4 3 1 1 4 3 2 2 2 2 1 1 2 1 1 1 1 1 2 1 1 1 1 2 1 1 2 1 2 2 3 2 6 1 7 2 1 1 3 2 3 5 4 3 20 5 6 1 5 1 6 5 19 4 3 6 2 3 3 1 1 3 1 2 3 1 5 2 3 2 2 1 2 2 1 1 2 1 1 1 1 1 2 1 1 1 2 1 2 1 2 2 3 3 5 3 5 7 7 6 7 5 6 6 9 5 6 6 6 7 7 6 6 3 4 3 3 2 2 2 2 1 2 1 1 1 2 1 1 1 2 1 1 2 1 2 1 2 2 2 2 5 1 3 1 3 1 2 1 2 3 4 1 6 3 4 19 5 6 1 11 6 18 6 1 6 3 3 3 2 5 1 2 2 2 2 4 2 2 2 2 1 2 1 2 1 1 2 1 1 2 1 1 1 2 1 2 2 2 2 3 5 2 3 7 6 7 6 6 6 6 5 9 5 6 6 6 6 6 7 6 4 2 4 3 2 3 1 2 2 1 2 1 2 1 1 2 1 1 2 1 2 1 2 2 2 2 2 3 1 13 2 4 1 4 6 1 6 5 1 5 1 6 6 17 5 7 1 4 3 3 6 2 5 10 2 2 1 2 2 2 2 2 1 2 3 2 2 2 1 2 1 2 1 2 1 2 1 1 2 1 2 1 2 2 2 2 2 4 3 2 5 6 6 7 6 6 5 6 5 9 5 6 5 6 6 6 6 6 6 2 3 3 3 2 2 2 2 1 2 1 2 1 2 1 1 2 1 2 2 1 2 2 2 2 5 1 10 2 2 11 3 3 6 3 3 3 3 6 5 17 5 6 3 3 4 2 5 5 1 6 2 3 3 2 2 1 2 2 2 3 2 3 2 2 2 2 2 1 2 1 2 1 2 1 2 1 2 2 1 2 2 3 2 3 3 3 5 7 5 7 5 6 6 5 5 8 5 6 5 7 5 6 6 6 5 4 3 2 3 2 2 2 2 2 2 1 2 1 2 2 1 2 1 2 2 1 2 2 3 2 2 10 2 2 4 1 4 11 5 2 4 3 3 6 5 17 4 6 5 1 5 2 4 12 4 1 3 3 2 2 2 2 2 2 2 2 2 2 2 2 2 1 2 2 1 2 1 2 2 1 2 2 2 2 2 3 2 2 3 5 5 6 5 6 6 6 5 6 5 7 5 6 5 6 5 6 6 5 5 5 4 2 2 3 2 2 2 2 2 1 2 2 1 2 2 1 2 2 2 2 2 2 9 1 3 2 2 3 2 2 5 4 1 6 4 2 5 1 5 6 4 16 5 6 5 2 4 3 2 6 3 2 5 8 2 2 3 2 2 3 2 3 2 2 2 2 1 2 2 2 1 2 2 1 2 2 2 2 2 3 2 2 4 5 5 6 5 6 5 6 5 6 5 7 5 5 5 6 5 6 5 6 5 5 4 3 2 3 1 3 2 2 2 1 2 2 2 1 2 2 2 2 2 2 2 2 2 7 3 2 3 2 1 5 4 1 5 5 2 4 3 2 5 6 5 15 4 6 5 3 3 11 5 1 4 4 3 1 3 2 3 2 2 2 2 3 2 2 2 2 2 2 1 2 2 2 2 2 1 3 2 1 2 3 2 4 4 5 5 5 5 6 5 6 5 6 4 7 4 6 5 6 5 5 5 6 5 4 5 4 2 3 2 6 1 2 2 2 2 2 2 2 1 3 2 2 2 3 1 2 2 2 3 3 1 2 3 5 2 3 5 11 1 4 5 6 4 15 4 6 5 16 5 3 2 4 3 7 3 2 2 2 6 2 2 2 2 2 2 2 2 2 2 2 1 1 2 3 2 3 3 4 4 5 5 5 5 6 5 5 5 6 5 5 5 6 4 6 5 6 5 5 5 4 4 4 4 3 2 3 2 3 1 1 1 2 2 2 2 2 2 2 3 1 1 2 3 2 2 3 2 2 1 4 4 9 4 4 1 11 5 7 4 13 4 7 4 11 3 2 5 5 1 3 3 4 3 1 2 3 2 2 3 2 3 2 3 2 2 2 3 3 2 3 2 3 2 4 3 4 4 5 5 5 5 5 5 6 4 6 5 5 5 5 5 6 4 6 5 5 4 5 4 4 4 3 3 3 2 3 2 3 2 3 2 3 2 2 3 2 3 2 3 6 3 3 3 2 3 5 4 1 4 11 5 6 4 13 4 6 5 5 2 3 5 2 3 5 4 1 3 3 3 6 3 2 3 2 3 2 2 3 2 3 2 3 2 3 2 3 3 4 3 4 4 5 4 6 4 6 5 5 5 6 4 5 4 6 4 6 5 5 5 5 4 5 4 4 4 3 3 3 3 3 2 3 2 3 2 3 2 2 3 2 3 3 2 1 2 3 3 4 1 3 4 5 2 2 5 2 3 6 4 6 4 12 5 6 4 6 3 2 4 4 1 5 4 7 3 3 3 2 1 3 2 3 3 2 2 3 2 3 2 3 2 3 3 3 3 4 3 4 4 5 4 6 4 6 4 6 4 6 4 5 4 6 4 6 4 6 4 5 5 4 4 4 4 4 3 3 3 2 3 3 2 3 2 3 2 3 2 3 3 5 3 3 3 2 1 4 5 9 4 1 5 5 4 7 4 11 4 8 2 6 5 2 2 10 4 4 3 1 3 3 2 6 3 3 2 3 2 3 2 3 2 3 3 3 3 3 3 4 3 4 4 5 4 5 5 5 4 6 4 6 4 5 3 6 4 6 5 5 4 6 4 4 4 5 3 4 3 3 3 3 3 2 3 3 2 3 2 3 3 3 2 1 2 3 3 3 1 2 3 4 4 2 3 5 1 4 4 6 1 9 4 11 4 16 4 10 3 2 3 4 4 6 3 3 2 1 2 3 3 3 2 3 2 3 3 3 2 3 3 3 4 3 4 4 4 5 4 5 4 6 4 6 4 6 3 5 3 6 4 6 4 6 4 5 4 5 4 4 3 4 3 4 3 3 2 3 3 3 2 3 2 3 3 3 2 1 2 4 2 1 2 4 3 4 3 2 4 9 5 15 4 11 4 15 4 10 4 9 3 3 3 7 1 2 2 3 3 2 3 3 2 3 3 3 3 3 3 3 3 4 4 4 4 4 4 6 4 5 4 6 4 6 3 5 2 7 3 6 4 6 4 5 4 5 4 4 4 3 4 3 3 3 3 3 3 2 3 3 3 3 2 4 2 4 2 3 3 3 4 8 4 3 2 5 4 16 3 10 4 16 4 5 3 2 4 8 3 4 3 3 2 4 2 3 3 3 3 3 3 2 3 3 3 3 3 4 3 4 3 5 3 5 4 5 4 6 4 6 3 7 2 5 2 7 3 6 4 6 3 6 4 4 4 4 4 4 3 4 3 3 3 3 2 3 3 3 3 3 3 3 3 3 2 4 3 3 3 2 2 5 3 2 3 5 4 8 2 6 3 11 3 6 2 8 3 5 4 3 2 5 3 2 2 3 3 3 3 3 3 3 3 3 3 3 3 3 2 4 2 4 3 3 4 3 4 4 4 5 4 5 4 5 4 6 3 7 2 5 1 8 2 7 3 6 4 5 4 5 3 5 3 4 3 4 3 3 3 4 2 3 3 3 3 3 3 3 3 3 3 3 3 7 4 9 4 5 2 9 2 7 2 20 2 16 4 9 4 7 3 3 3 3 3 3 3 3 3 3 3 3 3 3 3 3 3 4 3 4 3 5 4 5 3 6 3 6 3 7 2 32 2 7 3 6 3 5 4 4 4 4 3 4 3 3 3 3 3 3 3 3 3 3 3 4 2 4 2 4 2 2 2 4 3 3 2 5 4 13 4 8 3 6 4 8 5 8 2 2 4 5 8 4 3 2 1 3 3 3 3 3 3 4 3 3 3 3 3 3 3 4 3 3 4 4 3 5 3 5 4 5 3 7 2 50 2 6 4 5 3 5 3 4 3 4 3 4 3 3 3 3 3 4 2 4 3 3 3 3 3 6 3 5 2 1 4 6 7 9 4 8 3 18 1 17 3 5 3 9 3 6 3 3 3 3 3 4 2 4 3 3 3 3 3 4 3 4 3 4 3 5 3 6 3 6 2 40 2 17 1 7 3 5 3 5 3 5 3 4 3 4 3 3 3 3 3 4 2 4 3 3 3 4 1 2 2 4 3 3 1 5 2 4 3 8 4 8 5 17 6 6 6 7 5 9 3 1 3 4 2 7 2 4 3 3 3 4 3 3 3 4 2 4 3 4 3 5 3 5 3 6 2 25 3 19 3 7 2 16 2 6 3 5 3 4 3 5 3 3 3 4 3 3 3 4 3 3 3 4 2 7 2 5 1 1 4 8 6 7 6 6 6 20 3 7 4 9 2 4 1 6 3 8 2 7 2 4 3 3 3 4 3 3 3 4 3 4 3 4 3 4 3 6 2 24 3 6 3 19 3 6 3 7 1 16 2 6 2 5 3 4 3 4 3 4 3 3 3 4 3 4 2 13 2 15 4 7 5 9 5 7 4 5 5 6 6 8 5 7 5 9 3 17 2 4 3 4 3 3 3 4 3 4 3 4 3 5 2 23 3 6 3 7 2 19 2 7 3 6 3 6 2 15 1 6 2 5 3 4 3 4 2 4 3 4 3 4 2 17 3 8 6 7 5 8 6 6 5 5 4 8 4 9 5 8 4 9 3 17 2 4 3 4 2 5 2 4 3 5 2 5 2 22 2 6 4 6 2 37 2 6 3 6 3 6 2 21 2 5 2 5 2 5 2 4 3 4 2 17 2 5 3 8 4 9 5 7 4 17 6 7 6 7 6 7 4 4 1 5 1 12 1 5 2 5 2 5 2 5 2 5 1 22 2 6 3 6 3 54 1 7 3 5 3 6 2 27 2 5 2 5 1 18 2 5 1 4 4 7 6 7 6 7 6 15 5 8 6 7 6 7 4 3 2 4 3 53 1 6 3 5 3 6 2 21 1 27 2 7 1 13 1 6 3 5 3 5 2 6 1 40 2 4 3 4 2 5 2 28 3 6 2 11 4 7 5 7 6 7 6 7 4 3 3 3 3 5 1 27 1 6 2 5 2 5 3 6 2 19 3 6 3 26 1 7 3 6 2 19 2 5 3 5 2 6 2 5 2 5 1 6 2 5 2 4 3 3 3 3 4 7 6 7 6 7 5 7 5 5 4 8 5 7 6 8 5 7 3 4 2 4 3 4 2 5 2 5 2 5 2 5 3 5 2 5 3 5 2 11 1 7 3 5 3 43 2 6 3 6 3 18 2 5 2 5 3 4 3 4 3 5 2 5 2 4 3 4 2 15 4 22 3 25 4 8 5 7 5 9 4 8 2 4 3 4 2 5 2 5 3 4 3 4 3 5 2 18 2 5 3 6 3 60 2 6 3 5 3 6 1 17 2 5 3 5 2 5 2 5 2 5 1 9 1 5 4 9 5 7 6 7 5 17 5 7 6 7 6 8 4 5 2 4 2 16 1 6 1 32 2 5 3 6 2 55 2 7 1 20 2 6 2 6 2 6 1 35 2 4 3 3 3 4 4 9 5 8 5 7 4 28 2 7 4 9 4 5 1 5 3 3 3 4 3 4 3 5 2 5 2 5 2 5 3 5 3 5 2 6 2 19 3 6 2 33 1 7 3 6 2 19 2 5 3 5 3 4 3 5 2 5 3 4 3 4 3 4 3 3 4 9 6 7 5 7 5 31 5 7 5 7 6 9 3 4 3 4 2 5 3 4 3 5 2 5 3 5 2 5 2 19 2 6 2 6 3 49 2 6 3 6 3 6 1 18 2 5 3 5 2 5 3 4 3 5 2 5 1 7 3 6 6 9 4 7 4 45 1 6 3 6 2 5 3 4 2 15 2 6 2 5 2 25 1 6 3 5 3 6 3 999999"/><use href="#S168x172" stroke="#fe0" stroke-dasharray="0 122 2 7 5 8 5 9 3 32 2 9 4 10 4 7 2 269 2 64 3 24 1 6 1 6 1 206 1 5 2 11 4 9 4 9 5 8 3 19 4 7 5 9 4 9 4 5 1 5 1 233 1 5 3 11 3 11 2 9 2 52 2 266 4 8 5 8 4 11 1 6 3 10 4 8 5 8 5 21 1 219 1 5 1 5 1 10 4 9 4 8 4 70 1 5 1 5 1 225 1 5 1 5 2 9 4 9 3 11 2 18 4 9 5 7 5 8 4 10 1 243 3 8 5 8 4 9 4 56 2 5 1 243 1 12 2 9 3 10 2 20 3 8 5 8 5 8 4 10 1 25 1 6 1 5 1 158 1 6 1 5 1 6 1 36 4 8 5 8 5 8 4 18 2 11 3 9 3 31 1 5 2 4 2 5 2 5 1 6 1 130 1 6 2 5 2 4 2 5 2 4 2 5 2 14 1 9 1 58 4 8 4 9 3 10 3 8 1 14 2 5 2 4 2 5 2 4 2 5 2 5 2 116 1 6 2 5 2 5 2 4 2 5 2 4 2 5 2 4 2 7 2 9 2 10 3 9 4 8 4 32 2 10 1 17 2 13 2 4 3 4 2 4 2 4 3 4 2 5 2 5 2 5 2 102 1 6 2 6 2 4 3 4 2 4 3 4 2 4 2 4 3 3 3 4 1 8 2 10 2 45 1 9 2 24 3 9 2 8 2 3 3 4 2 4 2 4 2 4 3 3 3 4 2 5 2 6 2 6 1 95 2 6 2 5 2 5 2 4 3 3 3 4 2 4 2 4 2 4 2 4 2 8 2 5 2 3 1 7 2 15 3 9 1 37 3 10 3 8 2 4 2 4 2 4 2 4 2 4 2 4 2 4 3 4 2 4 3 5 2 6 2 7 1 79 2 6 2 6 3 4 3 4 3 4 2 4 2 4 2 3 3 4 2 4 2 3 3 3 3 8 3 10 3 65 4 10 3 7 3 3 3 3 3 3 3 3 3 3 2 4 2 4 2 4 3 4 3 4 3 5 3 6 2 70 2 7 3 6 2 5 3 5 3 4 2 4 2 4 2 4 2 3 3 3 3 3 3 3 3 3 3 4 1 2 3 10 3 59 2 6 3 3 2 5 2 2 3 4 2 4 2 4 2 3 3 3 3 3 2 4 2 3 3 4 2 4 3 4 3 5 3 6 3 6 2 54 1 8 2 7 2 6 3 5 3 4 3 4 3 3 3 3 2 4 2 3 3 3 2 4 2 4 2 3 3 4 3 9 3 3 2 6 2 18 1 13 1 18 3 10 4 9 3 3 3 10 1 4 2 3 3 3 2 4 2 3 3 3 3 4 2 5 3 5 3 5 3 7 2 8 1 35 1 9 2 7 3 6 3 6 3 5 3 4 3 3 3 3 3 3 3 3 2 3 2 4 2 15 3 3 3 9 3 11 3 17 2 13 2 17 3 11 3 3 2 4 3 4 1 3 1 4 1 7 3 3 2 3 2 3 3 3 2 4 2 4 3 4 3 5 3 5 4 6 3 7 2 8 2 16 1 8 2 8 3 6 4 6 3 5 4 4 4 4 2 4 3 3 2 3 3 3 2 3 2 3 3 3 1 3 1 3 3 7 3 4 3 2 3 10 4 17 2 13 2 17 4 11 1 3 4 4 3 6 3 7 1 4 2 3 2 3 2 3 3 2 3 3 3 3 3 4 3 5 3 6 3 6 3 7 3 7 3 8 1 7 2 7 3 7 3 7 3 6 4 5 4 4 3 4 3 4 2 3 3 3 2 3 2 3 2 3 2 3 2 7 2 4 2 2 2 4 4 10 2 3 4 16 3 13 3 9 1 7 3 3 3 10 3 8 3 3 3 6 2 3 2 3 2 3 2 3 2 3 2 4 2 3 3 4 3 5 3 6 3 6 4 6 4 7 3 7 2 7 2 8 3 6 4 6 4 6 4 5 4 4 3 4 3 3 3 3 2 3 2 3 2 3 2 3 2 3 2 6 3 3 3 7 4 10 3 3 3 6 3 8 3 13 3 8 3 6 2 4 3 4 1 5 4 3 1 4 3 3 2 1 2 3 2 3 2 3 2 3 2 3 2 3 2 3 2 4 3 3 4 4 4 5 4 5 4 7 3 7 3 8 2 7 3 7 3 7 4 6 4 6 4 5 4 4 3 4 3 3 2 3 2 3 2 3 2 3 2 3 2 2 3 3 2 6 3 4 2 2 3 5 3 3 3 12 3 8 3 14 2 8 4 11 3 3 3 6 2 2 3 4 2 6 3 2 3 2 2 3 2 3 2 3 2 3 2 3 2 3 3 3 4 4 4 5 4 6 4 6 4 7 3 7 3 7 3 7 4 6 4 7 4 6 4 5 4 4 3 4 2 3 2 3 2 3 2 3 1 3 1 1 1 3 2 2 3 2 2 3 2 2 2 4 3 9 4 3 3 11 4 8 2 15 2 8 4 12 1 4 4 10 3 7 2 3 2 2 3 2 1 2 1 3 1 3 1 3 1 3 1 1 1 3 2 3 2 3 3 5 4 5 4 6 4 6 4 7 4 7 3 7 4 6 4 7 4 6 5 6 4 5 4 4 3 3 2 3 2 1 1 3 1 3 1 2 2 2 2 2 2 3 1 1 3 2 2 3 2 7 3 9 5 16 5 8 1 26 5 17 4 3 2 5 3 2 1 3 2 3 2 2 1 3 2 3 1 3 1 3 1 2 2 2 1 3 1 6 2 3 2 5 3 6 4 6 4 7 4 6 4 7 4 7 4 7 4 6 5 6 5 6 4 5 4 4 2 3 2 2 1 3 1 3 1 2 2 2 1 3 1 2 2 3 1 3 2 2 2 3 2 2 3 1 3 4 4 2 4 12 1 4 4 37 4 4 2 12 3 2 4 8 3 2 2 8 1 3 2 3 1 3 1 2 1 3 1 2 1 3 1 3 1 3 1 3 2 3 4 5 5 6 4 7 4 7 4 7 4 7 4 7 4 7 5 6 5 6 4 6 3 3 2 3 1 3 2 2 1 3 1 2 1 2 2 2 1 2 2 2 2 3 2 3 2 3 2 2 2 8 4 3 3 6 2 4 3 3 4 7 2 19 3 6 4 3 3 3 4 11 5 7 2 2 3 1 3 4 2 3 1 3 1 2 1 3 1 2 1 2 1 3 1 2 2 2 2 3 2 3 3 5 4 7 5 6 5 6 5 6 4 9 4 6 5 7 4 7 5 6 5 5 2 3 2 3 2 3 1 2 1 3 1 2 1 2 1 2 1 3 1 2 2 2 2 2 2 2 1 3 1 3 2 3 2 2 4 12 4 2 4 3 3 7 3 19 3 7 3 3 4 2 5 12 3 2 3 2 2 10 1 4 1 3 1 3 1 2 1 2 1 2 1 2 1 3 1 2 1 3 1 4 2 3 2 4 5 6 6 6 5 7 4 7 4 9 4 7 4 7 5 7 5 7 5 3 2 4 2 3 1 3 1 2 1 3 1 2 1 1 1 2 2 2 1 2 1 3 1 5 1 3 2 2 1 2 2 2 3 3 1 7 1 5 5 3 3 3 3 6 4 19 4 7 1 5 2 3 6 3 3 11 2 2 2 1 3 1 3 1 4 3 2 2 1 3 1 2 1 2 1 2 1 2 1 1 2 2 1 2 2 3 2 4 2 2 5 7 6 6 6 6 5 7 4 9 5 6 5 7 5 7 6 6 5 2 2 5 2 3 1 2 1 3 1 1 1 2 1 2 1 2 1 2 1 2 1 3 1 3 2 2 1 3 1 2 2 2 1 2 2 10 4 3 5 5 1 13 4 19 4 19 5 2 5 5 1 4 2 17 2 3 1 2 2 2 1 2 1 1 1 2 1 2 1 1 1 2 1 3 1 3 2 3 4 2 4 7 5 8 5 7 5 6 5 9 5 7 5 6 6 7 6 7 3 2 1 1 2 4 2 2 2 2 1 2 1 1 1 2 1 4 1 2 1 2 1 2 1 3 1 5 2 2 2 2 1 5 2 3 3 3 6 2 5 18 5 19 5 19 4 3 6 2 3 3 2 1 1 2 3 1 3 1 5 2 2 2 2 2 1 2 1 1 1 2 1 1 1 2 1 1 1 2 1 2 1 3 1 4 2 5 3 6 6 8 5 7 5 7 5 10 4 7 5 7 6 7 7 5 3 5 3 3 2 2 1 2 1 2 1 1 1 2 1 1 1 1 1 2 1 2 1 2 1 2 2 3 2 5 1 3 2 1 3 1 1 3 3 2 6 3 4 19 5 12 1 6 5 20 2 5 5 3 2 3 1 1 2 14 2 3 1 3 1 2 1 2 1 1 1 1 1 4 1 1 1 2 1 2 1 2 1 4 2 6 3 4 7 8 6 7 5 7 4 11 5 6 6 7 6 8 7 3 5 5 2 3 1 3 1 4 1 1 1 1 1 4 1 1 1 4 1 3 1 3 2 3 3 1 2 2 1 10 2 4 3 6 1 21 5 6 1 5 1 6 6 10 2 16 1 5 2 2 1 3 1 2 3 1 2 2 2 4 2 3 1 2 1 2 1 4 1 1 1 1 1 1 1 1 1 1 1 2 1 2 1 3 2 5 6 2 7 9 6 7 6 6 5 11 5 7 5 7 7 9 6 2 2 1 4 5 1 3 1 2 1 2 1 1 1 1 1 1 1 1 1 1 1 1 1 1 1 2 1 2 1 3 1 4 2 8 2 1 3 5 2 22 4 8 5 7 1 5 1 7 5 8 5 21 2 2 2 1 2 7 1 5 2 4 1 3 1 2 1 1 1 7 1 1 1 1 1 1 1 1 1 2 1 3 2 4 3 4 1 2 5 10 6 8 5 7 5 11 5 7 6 7 7 10 4 2 1 5 3 4 2 2 1 2 1 1 1 1 1 1 1 4 1 1 1 1 1 1 1 2 1 3 1 3 2 6 3 1 2 6 3 1 2 21 5 8 5 7 1 5 1 7 5 8 6 15 3 2 2 1 3 3 1 2 2 2 4 5 2 3 2 2 1 1 1 5 1 1 1 2 1 1 1 3 1 1 1 3 1 4 3 9 3 11 7 7 6 7 5 11 5 7 6 8 7 10 3 10 3 4 1 2 1 7 1 2 1 2 1 1 1 1 1 1 1 2 2 3 1 5 3 9 2 6 2 2 4 14 6 8 5 7 1 5 2 6 6 7 6 13 5 2 2 3 2 1 2 10 4 4 2 3 1 4 1 1 1 2 1 3 1 2 1 1 1 1 1 2 2 3 3 11 3 10 7 8 6 6 6 12 5 7 5 8 8 9 3 1 3 9 2 3 1 2 1 1 1 1 1 2 2 3 1 7 1 3 1 5 3 8 1 6 3 3 1 2 6 11 7 7 6 6 2 5 2 6 6 7 7 11 6 2 3 1 2 3 6 9 3 4 2 2 1 1 1 1 1 1 1 3 2 3 1 5 1 3 2 8 5 1 3 8 8 8 6 7 5 13 5 7 6 8 8 8 3 1 7 7 2 3 1 1 1 1 1 5 3 2 1 1 1 1 1 2 1 4 3 8 4 2 3 5 4 2 5 12 6 8 5 7 2 5 2 7 5 8 7 11 5 3 2 3 2 2 1 3 7 7 3 3 1 2 1 1 1 1 2 8 1 3 1 2 2 6 13 7 9 8 6 7 5 13 5 7 6 9 9 6 3 3 9 6 1 2 1 1 1 11 1 1 1 1 1 3 2 8 9 2 1 3 2 3 3 2 4 12 7 8 5 7 2 5 2 7 5 8 7 13 3 2 1 2 1 7 1 7 7 7 2 2 1 3 1 3 1 7 1 2 1 5 8 6 3 6 9 9 6 7 5 13 5 7 6 9 10 5 3 9 6 5 1 3 1 1 1 4 3 6 1 6 6 18 2 1 2 2 3 13 7 8 5 7 2 5 2 7 5 8 8 12 3 2 3 24 5 5 1 2 1 13 1 5 2 1 2 11 3 4 11 9 6 7 5 13 5 7 7 9 11 3 2 16 4 17 1 4 4 28 4 1 3 12 7 8 6 7 2 5 2 7 6 8 7 12 3 1 4 32 3 3 1 13 2 1 2 2 1 14 2 3 11 9 7 7 5 13 5 7 7 9 12 2 2 36 2 36 4 1 3 12 7 8 6 7 2 5 2 7 6 8 7 12 3 1 4 57 1 3 1 12 2 2 12 9 7 7 5 13 5 8 6 9 12 2 2 14 1 59 4 1 3 12 7 8 6 7 2 5 2 7 6 8 7 12 3 1 4 59 1 14 2 2 12 9 6 8 5 13 5 7 7 9 12 2 2 12 1 3 1 57 4 1 3 12 7 8 6 7 2 5 2 7 6 8 7 12 3 1 4 36 2 36 2 2 12 9 7 7 5 13 5 7 7 9 11 3 2 14 1 2 2 1 2 13 1 3 3 32 4 1 3 12 7 8 6 7 2 5 2 7 6 8 7 12 3 1 4 28 4 4 1 17 4 16 2 3 11 9 7 7 5 13 5 7 6 9 11 4 3 11 2 1 2 5 1 13 1 2 1 5 5 24 3 2 3 12 8 8 5 7 2 5 2 7 5 8 7 13 3 2 2 1 2 18 6 6 1 6 3 4 1 1 1 3 1 5 6 9 3 5 10 9 6 7 5 13 5 7 6 9 9 6 3 6 8 5 1 2 1 7 1 3 1 3 1 2 2 7 7 7 1 7 1 2 1 2 3 13 7 8 5 7 2 5 2 7 5 8 7 12 4 2 3 3 2 3 1 2 9 8 2 3 1 1 1 1 1 11 1 1 1 2 1 6 9 3 3 6 9 9 6 7 5 13 5 7 6 8 9 7 13 6 2 2 1 3 1 8 2 1 1 1 1 2 1 3 3 7 7 3 1 2 2 3 2 3 5 11 7 8 5 7 2 5 2 7 5 8 6 12 5 2 4 5 3 2 4 8 3 4 1 2 1 1 1 1 1 2 3 5 1 1 1 1 1 3 2 7 7 1 3 8 8 8 6 7 5 13 5 7 6 8 8 8 3 1 5 8 2 3 1 5 1 3 2 3 1 1 1 1 1 1 1 2 2 4 3 9 6 3 2 1 3 2 6 11 7 7 6 6 2 5 2 6 6 7 7 11 6 2 1 3 3 6 1 8 3 5 1 3 1 7 1 3 2 2 1 1 1 1 1 2 1 3 2 9 3 1 3 9 8 8 5 7 5 12 6 6 6 8 7 10 3 11 3 3 2 2 1 1 1 1 1 2 1 3 1 2 1 1 1 4 1 3 2 4 4 10 2 1 2 3 2 2 5 13 6 7 6 6 2 5 1 7 5 8 6 14 4 2 2 6 2 9 3 5 1 3 2 2 1 1 1 1 1 1 1 2 1 2 1 7 1 2 1 4 3 10 3 10 7 8 6 7 5 11 5 7 6 7 7 11 3 9 3 4 1 3 1 1 1 3 1 1 1 2 1 1 1 5 1 1 1 2 2 3 2 5 4 2 2 2 1 3 3 1 2 2 3 15 6 8 5 7 1 5 1 7 5 8 5 21 2 1 3 6 2 1 3 6 2 3 1 3 1 2 1 1 1 1 1 1 1 4 1 1 1 1 1 1 1 2 1 2 2 4 3 5 1 2 4 10 7 7 6 7 5 11 5 7 5 8 6 10 5 2 1 4 3 4 2 3 1 2 1 1 1 1 1 1 1 1 1 7 1 1 1 2 1 3 1 4 2 5 1 7 2 1 2 2 2 21 5 8 5 7 1 5 1 7 5 8 4 22 2 5 3 1 2 8 2 4 1 3 1 2 1 2 1 1 1 1 1 1 1 1 1 1 1 1 1 1 1 2 1 2 1 3 1 5 4 1 2 2 6 9 7 7 5 7 5 11 5 6 6 7 6 9 7 2 6 5 2 3 1 2 1 2 1 1 1 1 1 1 1 1 1 1 1 4 1 2 1 2 1 3 2 4 2 2 2 1 3 2 1 3 1 2 2 5 1 16 2 10 6 6 1 5 1 6 5 21 1 6 3 4 2 10 1 2 2 1 3 3 2 3 1 3 1 4 1 1 1 4 1 1 1 1 1 4 1 3 1 3 2 5 5 3 7 8 6 7 6 6 5 11 4 7 5 7 6 8 7 4 3 6 2 4 1 2 1 2 1 2 1 1 1 4 1 1 1 1 1 2 1 2 1 3 1 3 2 14 2 1 1 3 2 3 5 5 2 20 5 6 1 12 5 19 4 3 6 2 3 3 1 1 3 1 2 3 1 5 2 3 2 2 1 2 1 2 1 2 1 1 1 1 1 2 1 1 1 2 1 2 1 2 2 3 3 5 3 5 7 7 6 7 5 7 4 10 5 7 5 7 5 8 6 6 3 5 2 4 1 3 1 2 1 2 1 1 1 2 1 1 1 2 1 1 1 2 1 2 2 2 2 2 5 1 3 1 3 2 1 1 2 3 3 2 6 3 4 19 5 19 5 18 5 2 6 3 3 3 2 5 1 2 2 2 2 5 1 3 1 2 1 2 1 2 1 4 1 2 1 1 1 2 1 2 2 2 2 4 2 1 1 2 3 7 6 7 6 6 5 7 5 9 5 6 5 7 5 8 5 7 4 2 4 3 2 3 1 3 1 2 1 1 1 2 1 2 1 1 1 2 1 2 2 2 1 3 2 17 2 4 1 5 5 2 5 19 4 19 4 13 1 5 5 3 4 10 2 2 1 2 2 2 1 3 1 2 2 3 1 3 1 2 1 2 1 2 1 2 1 2 1 1 1 3 1 2 1 3 2 5 2 2 5 6 6 7 5 7 5 6 5 9 4 7 5 6 6 6 6 7 5 2 2 4 2 3 2 2 1 2 2 1 1 2 1 2 1 2 1 2 1 3 1 2 2 3 4 1 3 1 3 1 2 2 2 11 3 3 6 3 2 5 1 7 4 19 4 6 3 3 3 3 5 5 1 7 1 3 3 2 2 2 1 2 2 3 1 5 1 3 1 2 1 2 2 2 1 1 1 2 1 3 1 2 1 3 1 3 2 4 2 3 5 7 5 7 5 7 4 7 4 9 4 7 4 7 5 6 6 6 5 4 2 3 2 4 1 3 1 2 1 3 1 2 1 2 1 2 1 2 1 3 1 3 1 4 1 10 2 2 3 2 3 12 5 2 4 3 3 7 3 19 3 7 3 3 4 2 4 12 4 2 2 3 2 3 1 3 1 2 2 2 2 2 2 2 1 3 1 2 1 2 1 2 1 3 1 2 1 3 2 3 2 3 2 5 5 6 5 7 4 7 5 6 4 9 4 6 5 6 5 6 5 7 4 5 3 3 2 3 2 2 2 2 1 3 1 2 1 2 1 3 1 2 1 3 1 3 2 4 3 1 3 2 2 7 5 11 4 3 3 3 4 6 3 19 2 7 4 3 3 4 2 6 3 3 4 8 2 2 2 3 2 3 2 3 2 2 2 2 1 2 2 2 1 2 1 3 1 2 2 3 1 3 2 3 3 6 4 6 5 6 5 7 4 7 4 7 4 7 4 7 4 7 4 6 5 5 4 3 2 3 1 3 1 3 1 3 1 2 1 3 1 2 1 3 1 3 2 3 1 8 2 2 3 8 4 2 3 12 2 4 4 37 4 4 1 12 4 2 4 4 3 1 3 2 2 3 2 2 2 3 1 3 2 2 1 3 1 2 2 2 1 3 1 3 1 2 2 3 2 4 4 5 4 6 5 6 5 6 4 7 4 7 4 7 4 6 4 7 4 6 4 6 3 5 2 3 2 6 1 3 1 2 2 2 1 3 1 3 1 3 2 3 1 2 2 3 2 3 1 2 3 5 2 3 4 17 5 26 1 8 5 16 5 9 3 7 2 3 2 2 3 1 1 3 2 2 2 2 2 2 1 3 1 3 1 1 2 3 2 3 3 4 4 5 4 6 5 6 4 7 4 6 4 7 3 7 4 7 4 6 4 6 4 5 4 5 3 3 2 3 2 3 1 1 1 3 1 3 1 3 1 3 1 2 1 2 3 2 2 3 2 7 3 10 4 4 1 12 4 8 2 15 2 8 4 11 3 3 4 9 3 4 2 2 2 3 2 2 3 2 2 3 1 1 1 3 1 3 2 3 2 3 2 3 2 4 3 4 4 5 4 6 4 7 4 6 4 7 3 7 3 7 3 7 4 6 4 6 4 5 4 4 4 3 3 3 2 3 2 3 2 3 2 3 2 3 2 2 3 2 3 6 2 4 3 2 2 6 3 3 3 11 4 8 2 14 3 8 3 12 3 3 3 5 3 2 2 4 3 6 2 3 3 2 2 3 2 3 2 3 2 3 2 3 2 3 3 4 3 4 4 5 4 6 4 6 4 7 3 7 3 7 2 8 3 7 3 7 4 5 4 5 4 4 4 3 3 4 2 3 2 3 2 3 2 3 2 3 2 3 2 3 2 1 2 3 3 4 1 3 4 5 1 4 3 4 2 6 3 8 3 13 3 8 3 6 3 3 3 10 4 7 3 3 3 6 2 3 2 3 2 3 2 3 2 3 2 3 3 3 3 4 3 4 4 5 4 6 4 6 4 6 3 8 2 7 2 7 3 7 4 6 4 6 3 6 3 5 3 4 3 3 2 4 2 3 2 3 2 3 2 3 2 3 2 6 3 3 3 8 3 10 3 3 3 7 1 9 3 13 3 16 4 3 2 10 4 4 2 2 2 4 2 7 2 3 2 3 2 3 2 3 2 3 3 3 2 4 3 4 3 4 4 5 4 6 3 7 3 7 3 7 2 7 1 8 3 7 3 7 3 6 3 6 3 5 3 4 3 3 3 3 3 2 3 3 2 3 2 3 2 4 1 7 3 6 3 4 4 3 1 11 4 17 2 13 2 17 4 10 3 2 3 4 3 7 3 3 1 3 1 3 3 3 2 3 2 3 3 3 2 3 3 4 2 4 4 4 4 5 3 6 4 6 3 8 2 8 1 16 2 8 2 7 3 6 4 5 3 5 3 4 3 4 2 4 2 3 3 3 2 3 2 3 3 7 1 4 1 3 1 4 3 4 2 3 3 11 3 17 2 13 2 17 3 11 3 9 3 3 3 15 2 4 2 3 2 3 3 3 3 3 3 3 3 4 3 5 3 6 3 6 3 7 2 9 1 35 1 8 2 7 3 5 3 5 3 5 2 4 3 3 3 3 2 4 2 3 3 3 2 4 1 10 3 3 3 9 4 10 3 18 1 13 1 18 2 6 2 3 3 9 3 4 3 3 2 4 2 4 2 3 3 3 2 4 2 3 3 3 3 4 3 4 3 5 3 6 2 7 2 8 1 54 2 6 3 6 3 5 3 4 3 4 2 4 3 3 2 4 2 3 3 3 3 3 2 4 2 4 2 4 3 2 2 5 2 3 3 6 2 59 3 10 3 2 1 4 3 3 3 3 3 3 3 3 3 3 2 4 2 4 2 4 2 4 3 5 3 5 2 6 3 7 2 70 2 6 3 5 3 4 3 4 3 4 2 4 2 4 2 3 3 3 3 3 3 3 3 3 3 7 3 10 4 65 3 10 3 8 3 3 3 3 2 4 2 4 3 3 2 4 2 4 2 4 3 4 3 4 3 6 2 6 2 79 1 7 2 6 2 5 3 4 2 4 3 4 2 4 2 4 2 4 2 4 2 4 2 4 2 8 3 10 3 48 1 16 2 7 1 3 2 5 2 8 2 4 2 4 2 4 2 4 2 4 3 3 3 4 2 5 2 5 2 6 2 95 1 6 2 6 2 5 2 4 3 3 3 4 2 4 2 4 2 4 3 3 2 8 2 9 3 6 2 73 2 10 2 8 1 4 3 3 3 4 2 4 2 4 3 4 2 4 3 4 2 6 2 6 1 102 2 5 2 5 2 5 2 4 3 4 2 4 2 4 3 4 2 13 2 17 1 44 4 8 4 9 3 10 2 9 2 7 2 4 2 5 2 4 2 5 2 4 2 5 2 5 2 6 1 116 2 5 2 5 2 4 2 5 2 4 2 5 2 14 1 8 3 10 3 9 4 8 3 59 1 9 1 14 2 5 2 4 2 5 2 4 2 5 2 6 1 130 1 6 1 5 2 5 2 4 2 5 1 31 3 10 2 12 2 9 2 6 4 8 5 8 5 8 4 36 1 6 1 5 1 6 1 158 1 5 1 6 1 25 1 10 4 8 5 8 5 8 4 31 3 10 1 12 1 249 2 23 3 30 4 9 4 9 4 8 4 253 4 8 4 9 4 9 4 17 3 10 4 9 4 8 3 243 1 5 2 69 4 8 5 8 4 9 2 5 1 225 1 5 2 4 2 8 5 8 5 8 5 30 4 8 5 8 4 9 2 4 2 5 1 219 1 23 1 65 3 8 4 11 2 252 4 9 5 7 5 9 3 19 3 9 4 8 5 9 4 239 1 5 1 5 3 11 2 91 2 5 2 5 1 206 1 6 2 4 2 5 2 11 4 9 4 8 2 35 2 8 4 9 5 10 1 6 1 5 2 5 2 6 1 224 3 11 4 999999"/><use href="#S168x172" stroke="#f80" stroke-dasharray="0 132 2 11 3 57 2 639 3 58 1 12 3 10 2 613 3 11 1 46 2 10 3 10 3 266 2 359 1 58 3 9 3 10 2 255 2 10 3 10 2 392 3 10 3 9 3 267 3 9 3 10 3 392 2 235 1 5 1 63 2 91 1 5 1 5 1 6 1 5 1 152 1 6 1 5 1 5 1 5 2 5 1 5 1 122 1 8 1 5 2 4 2 4 2 4 2 5 1 5 1 6 1 133 1 5 2 5 1 5 2 4 2 4 2 4 2 4 2 4 2 109 1 15 2 4 2 4 2 4 2 4 2 4 2 4 2 5 2 5 1 120 1 6 1 5 2 5 2 4 2 4 2 4 2 4 2 4 2 4 2 4 2 8 2 11 2 67 2 11 2 8 3 3 3 3 2 4 2 4 2 4 2 4 2 4 2 4 2 5 2 6 1 113 2 5 2 5 2 4 2 4 2 4 2 4 2 3 2 5 1 4 2 4 2 9 2 11 2 68 1 16 2 4 2 4 2 4 1 5 2 3 3 3 2 4 2 4 2 4 2 5 2 5 2 6 1 99 1 6 3 5 2 4 2 4 2 4 2 4 2 3 2 4 2 10 2 4 2 4 2 10 2 65 2 12 2 10 2 4 3 15 2 4 2 3 2 4 2 3 2 4 3 4 2 5 2 6 2 7 1 83 1 7 2 6 2 5 3 4 2 4 2 3 2 4 2 3 2 4 2 15 2 4 3 10 2 11 3 51 3 11 2 10 3 21 2 4 2 3 2 3 3 3 2 4 2 4 3 4 3 5 2 7 2 83 2 7 2 6 2 5 2 4 2 4 2 4 2 3 2 3 2 3 2 13 1 8 2 5 2 4 1 12 3 52 2 16 3 5 2 8 2 7 1 4 2 3 2 3 2 3 2 4 2 3 3 3 3 4 3 5 3 6 2 8 1 67 1 8 2 7 2 5 3 4 3 4 2 3 3 3 2 3 2 3 2 3 2 4 1 7 2 4 1 3 1 5 3 17 2 53 2 5 1 11 3 8 3 3 2 7 2 3 2 3 2 3 2 3 2 3 2 4 2 4 2 4 3 5 3 6 3 7 2 58 1 8 2 7 3 6 3 5 3 4 3 3 3 3 2 3 2 3 2 3 2 3 2 3 2 7 1 4 2 8 4 11 2 4 1 46 1 13 3 11 3 8 2 4 1 3 1 3 2 3 2 3 2 3 2 3 2 3 2 3 2 4 2 5 2 5 3 6 3 7 3 8 1 39 1 9 2 8 2 7 3 6 3 5 3 4 3 3 2 3 2 3 2 3 2 3 2 3 2 3 1 4 2 6 3 4 2 2 3 6 1 4 3 12 2 37 2 13 2 3 3 6 1 3 3 4 2 7 2 3 1 3 2 3 2 3 2 3 2 3 2 3 2 3 2 5 2 5 3 6 3 7 3 8 2 9 1 29 2 8 3 7 3 7 3 6 3 5 3 4 2 3 2 3 2 3 1 10 1 3 2 3 1 3 2 4 1 2 2 4 3 9 4 17 3 37 3 17 4 10 3 7 2 3 2 3 1 3 1 20 1 3 2 3 2 3 3 5 3 6 3 7 3 8 3 8 2 9 1 9 2 8 2 8 3 8 3 7 4 5 4 4 3 3 2 3 2 28 1 3 2 3 2 7 3 9 5 17 3 37 3 18 4 3 2 5 2 8 1 3 2 37 2 3 2 5 3 6 4 6 4 7 3 8 3 8 2 9 2 8 3 8 3 8 3 7 4 6 3 4 2 3 2 37 2 3 1 3 2 3 1 5 3 3 4 17 4 37 4 18 3 3 3 9 2 3 1 43 1 3 2 3 4 6 3 7 4 7 4 8 2 8 3 9 3 8 3 7 4 7 4 7 4 6 3 3 2 43 1 3 1 3 2 8 4 4 1 14 1 4 4 38 3 4 2 4 2 12 4 8 2 3 1 2 3 42 2 3 2 6 4 7 4 8 3 8 3 8 3 9 3 8 3 8 4 7 5 7 4 5 2 3 2 51 2 3 2 2 4 12 3 4 2 4 3 30 1 8 2 5 2 3 4 13 2 3 3 2 2 15 1 36 1 3 2 4 5 7 4 8 4 7 4 8 3 9 4 7 4 8 4 7 5 7 4 4 2 49 1 3 1 2 2 2 3 17 5 4 1 5 1 8 2 21 2 20 4 5 1 12 2 2 2 1 2 2 2 2 2 45 2 3 4 8 4 8 4 8 4 7 4 10 3 8 4 7 5 7 5 8 3 3 2 42 1 11 1 2 1 2 2 11 3 3 5 19 4 19 4 19 5 3 4 10 2 60 2 3 2 8 5 8 5 7 4 8 3 11 4 7 4 8 4 9 5 8 1 3 1 47 1 3 1 3 1 5 2 3 2 4 5 3 4 20 4 19 4 20 4 3 5 3 3 3 2 1 1 2 3 1 2 2 2 51 1 7 6 8 5 8 4 7 4 11 4 7 5 7 5 9 6 6 1 48 1 10 2 1 3 1 1 3 3 3 4 5 2 20 4 21 4 21 1 6 3 4 2 3 1 1 2 63 1 5 6 9 5 8 5 7 4 11 4 8 4 8 5 9 7 4 1 52 1 2 2 2 1 10 2 4 3 28 4 21 4 35 2 2 1 3 1 2 2 2 2 2 1 52 1 3 7 9 6 8 4 8 4 11 5 7 5 8 5 10 6 3 1 59 2 1 3 5 2 22 2 11 4 7 1 5 1 7 4 10 3 22 2 2 2 1 2 67 5 10 6 8 5 7 5 12 4 7 5 8 6 11 4 59 2 2 1 6 2 2 2 21 4 9 5 7 1 5 1 7 5 9 4 16 2 3 2 2 1 4 1 2 2 62 2 12 6 9 5 7 4 13 4 8 5 8 6 12 2 66 2 6 2 3 3 14 5 9 5 7 1 5 1 8 4 9 5 14 3 3 2 3 2 1 2 66 2 11 6 9 5 8 4 13 4 8 5 9 7 10 2 62 1 6 2 4 1 3 4 13 5 9 4 8 1 5 1 8 4 9 5 13 4 3 1 1 1 2 1 4 1 2 1 62 2 10 7 9 5 8 4 13 5 7 5 9 8 9 2 65 2 6 3 3 3 13 6 8 5 8 1 5 2 7 5 8 6 13 3 4 2 3 2 6 1 61 2 9 7 9 6 7 5 13 5 7 6 9 8 8 2 68 2 9 1 15 5 9 5 7 2 5 2 7 5 9 6 14 1 14 1 64 2 7 9 9 6 7 5 13 5 8 5 10 8 7 2 75 1 3 1 14 6 9 5 7 2 5 2 7 5 9 6 14 1 3 2 74 2 6 9 10 5 8 5 13 5 8 5 10 10 5 1 75 3 2 1 14 6 9 5 7 2 5 2 7 5 9 6 14 1 2 3 75 1 5 10 10 5 8 5 13 5 8 5 10 11 4 1 75 3 2 1 14 6 9 5 7 2 5 2 7 5 9 6 14 1 2 3 75 1 4 11 10 5 8 5 13 5 8 5 10 11 4 1 75 3 2 1 14 6 9 5 7 2 5 2 7 5 9 6 14 1 2 3 75 1 4 11 10 5 8 5 13 5 8 5 10 11 4 1 75 3 2 1 14 6 9 5 7 2 5 2 7 5 9 6 14 1 2 3 75 1 4 11 10 5 8 5 13 5 8 5 10 10 5 1 75 3 2 1 14 6 9 5 7 2 5 2 7 5 9 6 14 1 2 3 75 1 5 10 10 5 8 5 13 5 8 5 10 9 6 2 74 2 3 1 14 6 9 5 7 2 5 2 7 5 9 6 14 1 3 1 75 2 7 8 10 5 8 5 13 5 7 6 9 9 7 2 64 1 14 1 14 6 9 5 7 2 5 2 7 5 9 5 15 1 9 2 68 2 8 8 9 6 7 5 13 5 7 6 9 7 9 2 61 1 6 2 3 2 4 3 13 6 8 5 7 2 5 1 8 5 8 6 13 3 3 3 6 2 65 2 9 8 9 5 7 5 13 4 8 5 9 7 10 2 62 1 2 1 4 1 2 1 1 1 3 4 13 5 9 4 8 1 5 1 8 4 9 5 13 4 3 1 4 2 6 1 62 2 10 7 9 5 8 4 13 4 8 5 9 6 11 2 66 2 1 2 3 2 3 3 14 5 9 4 8 1 5 1 7 5 9 5 14 3 3 2 6 2 66 2 12 6 8 5 8 4 13 4 7 5 9 6 12 2 62 2 2 1 4 1 2 2 3 2 16 4 9 5 7 1 5 1 7 5 9 4 21 2 2 2 6 1 2 2 59 4 11 6 8 5 7 4 12 5 7 5 8 6 10 5 67 2 1 2 2 2 22 3 10 4 7 1 5 1 7 4 11 2 22 2 5 3 1 2 59 1 3 6 10 5 8 5 7 5 11 4 8 4 8 6 9 7 3 1 52 1 2 2 2 2 2 1 3 1 2 2 35 4 21 4 28 3 4 2 10 1 2 2 2 1 52 1 4 7 9 5 8 4 8 4 11 4 7 5 8 5 9 6 5 1 63 2 1 1 3 2 4 3 6 1 21 4 21 4 20 2 5 4 3 3 3 1 1 3 1 2 10 1 48 1 6 6 9 5 7 5 7 4 11 4 7 4 8 5 8 6 7 1 51 2 2 2 1 3 2 1 1 2 3 3 3 5 3 4 20 4 19 4 20 4 3 5 4 2 3 2 5 1 3 1 3 1 47 1 3 1 8 5 9 4 8 4 7 4 11 3 8 4 7 5 8 5 8 2 3 2 60 2 10 4 3 5 19 4 19 4 19 5 3 3 11 2 2 1 2 1 11 1 42 2 3 3 8 5 7 5 7 4 8 3 10 4 7 4 8 4 8 4 8 4 3 2 45 2 2 2 2 2 1 2 2 2 12 1 5 4 20 2 21 2 8 1 5 1 4 5 17 3 2 2 2 1 3 1 49 2 4 4 7 5 7 4 8 4 7 4 9 3 8 4 7 4 8 4 7 5 4 2 3 1 36 1 15 2 2 3 3 2 13 4 3 2 5 2 8 1 30 3 4 2 4 3 12 4 2 2 3 2 51 2 3 2 5 4 7 5 7 4 8 3 8 3 9 3 8 3 8 3 8 4 7 4 6 2 3 2 42 3 2 1 3 2 8 4 12 2 4 2 4 3 38 4 4 1 14 1 4 4 8 2 3 1 3 1 43 2 3 3 6 4 7 4 7 4 7 3 8 3 9 3 8 2 8 4 7 4 7 3 6 4 3 2 3 1 43 1 3 2 9 3 3 3 18 4 37 4 17 4 3 3 5 1 3 2 3 1 3 2 37 2 3 2 4 3 6 4 7 3 8 3 8 3 8 2 9 2 8 3 8 3 7 4 6 4 6 3 5 2 3 2 37 2 3 1 8 2 5 2 3 4 18 3 37 3 17 5 9 3 7 2 3 2 3 1 28 2 3 2 3 3 4 4 5 4 7 3 8 3 8 2 8 2 9 1 9 2 8 3 8 3 7 3 6 3 5 3 3 2 3 2 3 1 20 1 3 1 3 2 3 2 7 3 10 4 17 3 37 3 17 4 9 3 4 2 2 1 4 2 3 1 3 2 3 1 10 1 3 2 3 2 3 2 4 3 5 3 6 3 7 3 7 3 8 2 29 1 9 2 8 3 7 3 6 3 5 2 5 2 3 2 3 2 3 2 3 2 3 2 3 2 3 1 3 2 7 2 4 3 3 1 6 3 3 2 13 2 37 2 12 3 4 1 6 3 2 2 4 3 6 2 4 1 3 2 3 2 3 2 3 2 3 2 3 2 3 3 4 3 5 3 6 3 7 2 8 2 9 1 39 1 8 3 7 3 6 3 5 2 5 2 4 2 3 2 3 2 3 2 3 2 3 2 3 2 3 1 3 1 4 2 8 3 11 3 13 1 46 1 4 2 11 4 8 2 4 1 7 2 3 2 3 2 3 2 3 2 3 2 3 3 3 3 4 3 5 3 6 3 7 2 8 1 58 2 7 3 6 3 5 3 4 2 4 2 4 2 3 2 3 2 3 2 3 2 3 2 7 2 3 3 8 3 11 1 5 2 53 2 17 3 5 1 3 1 4 2 7 1 4 2 3 2 3 2 3 2 3 3 3 2 4 3 4 3 5 2 7 2 8 1 67 1 8 2 6 3 5 3 4 3 3 3 3 2 4 2 3 2 3 2 3 2 4 1 7 2 8 2 5 3 16 2 52 3 12 1 4 2 5 2 8 1 13 2 3 2 3 2 3 2 4 2 4 2 4 2 5 2 6 2 7 2 83 2 7 2 5 3 4 3 4 2 4 2 3 3 3 2 3 2 4 2 21 3 10 2 11 3 51 3 11 2 10 3 4 2 15 2 4 2 3 2 4 2 3 2 4 2 4 3 5 2 6 2 7 1 83 1 7 2 6 2 5 2 4 3 4 2 3 2 4 2 3 2 4 2 15 3 4 2 10 2 12 2 65 2 10 2 4 2 4 2 10 2 4 2 3 2 4 2 4 2 4 2 4 2 5 3 6 1 99 1 6 2 5 2 5 2 4 2 4 2 4 2 3 3 3 2 5 1 4 2 4 2 4 2 16 1 68 2 11 2 9 2 4 2 4 1 5 2 3 2 4 2 4 2 4 2 4 2 5 2 5 2 113 1 6 2 5 2 4 2 4 2 4 2 4 2 4 2 4 2 3 3 3 3 8 2 11 2 67 2 11 2 8 2 4 2 4 2 4 2 4 2 4 2 4 2 4 2 5 2 5 1 6 1 120 1 5 2 5 2 4 2 4 2 4 2 4 2 4 2 4 2 15 1 109 2 4 2 4 2 4 2 4 2 4 2 5 1 5 2 5 1 133 1 6 1 5 1 5 2 4 2 4 2 4 2 5 1 8 1 122 1 5 1 5 2 5 1 5 1 5 1 6 1 152 1 5 1 6 1 5 1 5 1 156 1 5 1 629 2 11 3 10 2 267 2 10 3 11 2 391 3 11 2 10 1 256 2 9 4 9 4 392 1 292 3 10 3 10 3 32 2 23 2 614 2 11 3 10 2 46 1 10 3 11 2 614 1 12 2 57 3 11 2 999999"/><use href="#S168x172" stroke="#f00" stroke-dasharray="0 1635 1 3073 1 131 2 4 2 189 1 5 1 5 1 11 1 5 2 4 1 115 1 5 1 5 1 5 1 5 1 5 1 5 1 5 1 5 1 141 1 5 2 4 2 4 1 5 1 5 1 11 1 4 2 115 2 4 1 11 1 5 1 4 2 4 2 4 1 5 2 5 1 129 1 6 1 5 1 4 2 4 2 4 1 5 1 16 2 4 2 103 2 5 1 16 2 4 1 4 2 4 2 4 1 5 1 5 2 123 1 6 1 5 2 4 2 4 1 4 2 3 2 4 1 17 1 4 3 103 3 22 1 4 2 3 2 4 1 4 2 4 2 5 1 6 1 117 2 5 2 4 2 4 2 4 1 4 2 3 2 4 1 22 2 6 1 18 1 53 1 18 2 5 2 8 1 13 2 3 2 3 2 4 1 4 2 3 2 5 2 5 2 6 1 103 2 6 2 5 2 4 2 4 1 4 2 3 2 3 2 3 2 12 2 14 3 91 3 9 1 5 1 7 1 4 2 3 2 3 2 3 2 3 2 4 2 4 2 5 2 6 2 104 2 6 2 5 1 5 1 4 2 3 2 3 2 3 2 3 2 3 2 7 1 4 2 9 2 93 3 8 2 12 2 4 1 3 2 3 2 3 2 3 2 3 2 4 2 5 2 6 2 7 1 89 2 7 2 5 3 4 2 4 2 3 2 3 2 3 2 3 2 3 1 4 1 4 1 7 3 4 1 4 1 87 2 11 2 4 2 7 2 3 1 4 1 3 2 3 2 3 2 3 2 3 2 3 2 5 2 6 2 7 2 80 1 9 2 7 2 5 3 4 2 3 2 3 2 3 1 10 1 3 1 4 1 3 2 13 2 11 3 18 2 37 2 18 4 10 3 7 2 3 2 3 1 24 1 3 2 3 2 4 2 5 3 7 2 8 1 73 1 9 2 7 2 6 2 3 2 3 2 28 1 3 2 3 2 7 3 10 3 18 3 37 3 18 3 11 2 8 1 3 2 37 2 3 2 5 3 6 3 8 2 63 1 9 3 8 2 7 3 5 1 3 2 38 1 3 1 4 1 10 2 3 3 19 2 39 2 19 2 4 3 9 2 3 1 43 1 3 1 5 2 7 3 8 2 9 2 53 2 9 3 8 3 6 3 4 1 47 1 3 2 9 3 25 2 39 2 26 3 8 2 3 1 3 1 43 1 4 2 7 3 8 3 8 2 10 1 33 1 10 2 9 3 8 3 7 1 4 1 51 2 3 1 4 3 13 2 65 3 13 2 3 3 2 2 56 1 6 3 8 4 8 3 9 2 23 1 9 2 9 3 9 3 8 4 5 1 49 1 6 2 2 2 19 3 65 4 18 2 2 1 2 2 2 2 49 1 4 4 8 4 9 2 10 2 9 2 11 2 9 3 9 3 9 4 8 3 4 1 54 1 5 2 11 2 5 4 44 1 21 3 4 4 10 2 60 1 4 2 9 4 9 3 9 2 9 2 13 2 9 2 9 4 9 4 9 1 55 1 10 1 3 2 5 4 4 3 21 2 21 3 21 2 5 4 4 2 3 1 2 1 2 2 2 2 55 1 8 4 10 3 9 3 9 2 13 2 9 3 9 4 9 5 7 1 59 1 3 2 1 1 3 2 4 4 5 1 22 3 21 3 29 3 4 2 3 1 1 2 63 1 6 5 10 4 9 3 9 2 13 3 8 4 9 4 10 5 5 1 52 1 2 1 14 2 36 3 21 4 35 2 9 2 59 1 4 5 11 4 9 4 8 3 13 3 9 3 9 5 11 4 4 1 59 1 2 2 6 2 35 3 23 3 35 2 2 2 2 1 68 3 12 4 10 3 9 3 13 3 9 4 9 5 12 2 60 1 10 2 2 2 22 2 11 3 23 3 11 2 22 2 2 1 7 1 64 1 13 5 9 4 9 3 13 4 8 4 10 5 12 1 67 2 6 2 3 2 16 3 11 3 8 1 5 1 8 3 11 3 16 2 3 2 3 1 3 1 67 1 12 5 10 4 8 4 13 4 8 4 10 6 11 1 70 2 8 3 15 3 10 4 8 1 5 1 8 4 10 4 14 3 8 1 4 1 66 1 11 5 10 4 9 4 13 4 9 4 10 6 10 1 66 2 6 2 4 2 15 4 10 3 9 1 5 1 9 3 10 4 16 1 4 2 3 2 69 1 9 7 10 4 9 3 15 3 9 4 11 6 9 1 69 2 9 1 16 4 10 3 9 1 5 1 9 3 10 5 15 1 80 1 8 7 11 4 9 3 15 3 9 4 11 7 8 1 80 1 15 4 11 3 9 1 5 1 9 3 11 4 15 1 3 1 76 1 7 7 11 5 8 4 15 4 8 5 11 7 7 1 75 3 2 1 15 4 11 3 9 1 5 1 9 4 10 4 15 1 2 3 75 1 6 8 11 5 8 4 15 4 8 5 11 8 6 1 75 3 2 1 15 4 10 4 9 1 5 1 9 4 10 4 15 1 2 3 75 1 6 8 11 5 8 4 15 4 8 5 11 8 6 1 75 3 2 1 15 4 10 4 9 1 5 1 9 4 10 4 15 1 2 3 75 1 6 8 11 5 8 4 15 4 8 5 11 8 6 1 75 3 2 1 15 4 10 4 9 1 5 1 9 4 10 4 15 1 2 3 75 1 6 8 11 5 8 4 15 4 8 5 11 8 6 1 75 3 2 1 15 4 10 4 9 1 5 1 9 3 11 4 15 1 2 3 75 1 7 7 11 5 8 4 15 4 8 5 11 7 7 1 76 1 3 1 15 4 11 3 9 1 5 1 9 3 11 4 15 1 80 1 8 7 11 4 9 3 15 3 9 4 11 7 8 1 80 1 15 5 10 3 9 1 5 1 9 3 10 4 16 1 9 2 69 1 9 6 11 4 9 3 15 3 9 4 10 7 9 1 69 2 3 2 4 1 16 4 10 3 9 1 5 1 9 3 10 4 15 2 4 2 6 2 66 1 10 6 10 4 9 4 13 4 9 4 10 5 11 1 66 1 4 1 8 3 14 4 10 4 8 1 5 1 8 4 10 3 15 3 8 2 70 1 11 6 10 4 8 4 13 4 8 4 10 5 12 1 67 1 3 1 3 2 3 2 16 3 11 3 8 1 5 1 8 3 11 3 16 2 3 2 6 2 67 1 12 5 10 4 8 4 13 3 9 4 9 5 13 1 64 1 7 1 2 2 22 2 11 3 23 3 11 2 22 2 2 2 10 1 60 2 12 5 9 4 9 3 13 3 9 3 10 4 12 3 68 1 2 2 2 2 35 3 23 3 35 2 6 2 2 1 59 1 4 4 11 5 9 3 9 3 13 3 8 4 9 4 11 5 4 1 59 2 9 2 35 4 21 3 36 2 14 1 2 1 52 1 5 5 10 4 9 4 8 3 13 2 9 3 9 4 10 5 6 1 63 2 1 1 3 2 4 3 29 3 21 3 22 1 5 4 4 2 3 1 1 2 3 1 59 1 7 5 9 4 9 3 9 2 13 2 9 3 9 3 10 4 8 1 55 2 2 2 2 1 2 1 3 2 4 4 5 2 21 3 21 2 21 3 4 4 5 2 3 1 10 1 55 1 9 4 9 4 9 2 9 2 13 2 9 2 9 3 9 4 9 2 4 1 60 2 10 4 4 3 21 1 44 4 5 2 11 2 5 1 54 1 4 3 8 4 9 3 9 3 9 2 11 2 9 2 10 2 9 4 8 4 4 1 49 2 2 2 2 1 2 2 18 4 65 3 19 2 2 2 6 1 49 1 5 4 8 3 9 3 9 2 9 1 23 2 9 3 8 4 8 3 6 1 56 2 2 3 3 2 13 3 65 2 13 3 4 1 3 2 51 1 4 1 7 3 8 3 9 2 10 1 33 1 10 2 8 3 8 3 7 2 4 1 43 1 3 1 3 2 8 3 26 2 39 2 25 3 9 2 3 1 47 1 4 3 6 3 8 3 9 2 53 2 9 2 8 3 7 2 5 1 3 1 43 1 3 2 9 3 4 2 19 2 39 2 19 3 3 2 10 1 4 1 3 1 38 2 3 1 5 3 7 2 8 3 9 1 63 2 8 3 6 3 5 2 3 2 37 2 3 1 8 2 11 3 18 3 37 3 18 3 10 3 7 2 3 2 3 1 28 2 3 2 3 2 6 2 7 2 9 1 73 1 8 2 7 3 5 2 4 2 3 2 3 1 24 1 3 2 3 2 7 3 10 4 18 2 37 2 18 3 11 2 13 2 3 1 4 1 3 1 10 1 3 2 3 2 3 2 4 3 5 2 7 2 9 1 80 2 7 2 6 2 5 2 3 2 3 2 3 2 3 2 3 2 3 1 4 1 3 2 7 2 4 2 11 2 87 1 4 1 4 3 7 1 4 1 4 1 3 2 3 2 3 2 3 2 3 2 4 2 4 3 5 2 7 2 89 1 7 2 6 2 5 2 4 2 3 2 3 2 3 2 3 2 3 1 4 2 12 2 8 3 93 2 9 2 4 1 7 2 3 2 3 2 3 2 3 2 3 2 4 1 5 1 5 2 6 2 104 2 6 2 5 2 4 2 4 2 3 2 3 2 3 2 3 2 4 1 7 1 5 1 9 3 91 3 14 2 12 2 3 2 3 2 3 2 4 1 4 2 4 2 5 2 6 2 103 1 6 2 5 2 5 2 3 2 4 1 4 2 3 2 3 2 13 1 8 2 5 2 18 1 53 1 18 1 6 2 22 1 4 2 3 2 4 1 4 2 4 2 4 2 5 2 117 1 6 1 5 2 4 2 4 1 4 2 3 2 4 1 22 3 103 3 4 1 17 1 4 2 3 2 4 1 4 2 4 2 5 1 6 1 123 2 5 1 5 1 4 2 4 2 4 1 4 2 16 1 5 2 103 2 4 2 16 1 5 1 4 2 4 2 4 1 5 1 6 1 129 1 5 2 5 1 4 2 4 2 4 1 5 1 11 1 4 2 115 2 4 1 11 1 5 1 5 1 4 2 4 2 5 1 141 1 5 1 5 1 5 1 5 1 5 1 5 1 5 1 5 1 115 1 4 2 5 1 11 1 5 1 5 1 189 2 4 2 131 1 999999"/><use href="#S168x172" stroke="#800" stroke-dasharray="0 5068 1 121 1 5 1 225 1 5 1 115 2 195 1 10 1 5 1 22 2 109 2 5 1 22 1 5 1 4 1 5 1 155 1 5 1 4 1 5 1 28 2 104 2 22 1 4 1 5 1 4 1 5 1 4 1 145 1 5 1 4 1 4 1 4 2 4 1 22 2 98 2 29 1 4 2 4 1 4 1 4 1 5 1 5 1 133 1 5 2 4 1 4 1 4 1 4 1 5 1 29 2 91 3 9 1 5 1 13 1 4 1 4 1 4 1 4 1 4 1 5 2 5 1 121 1 6 1 5 1 4 2 3 1 4 1 4 1 4 1 18 2 9 2 93 2 9 2 13 1 4 1 4 1 4 1 4 1 3 2 4 1 4 2 5 2 114 1 7 1 6 1 5 1 3 2 3 1 4 1 4 1 4 1 4 1 13 1 111 1 5 1 8 1 4 1 4 1 4 1 4 1 4 1 3 2 3 1 5 1 5 2 6 1 109 2 6 1 5 2 4 1 3 2 3 1 14 1 4 1 3 2 13 2 11 2 79 2 11 2 13 2 3 1 24 1 3 1 4 1 5 2 6 1 102 1 8 2 6 2 4 1 4 1 28 1 3 2 3 1 8 2 11 3 59 1 20 2 11 2 8 1 3 1 38 1 4 1 6 2 8 1 95 2 7 2 6 1 4 1 38 1 3 1 15 1 5 2 87 3 9 2 3 1 47 1 5 2 8 1 97 2 8 2 4 1 47 1 3 2 9 2 95 3 8 2 3 1 47 1 4 2 7 2 89 1 9 3 7 1 4 1 51 2 8 2 82 1 20 1 3 2 56 1 6 3 9 2 80 2 9 3 5 1 56 1 4 1 19 3 66 3 18 1 6 2 2 2 49 1 5 2 10 2 70 1 11 2 10 2 4 1 61 1 18 3 67 3 5 2 11 1 61 1 4 1 10 3 11 1 59 2 11 3 9 1 66 1 10 3 5 2 69 1 6 3 5 2 3 1 6 1 3 1 55 1 9 3 11 1 49 1 11 2 11 3 8 1 63 1 2 1 3 2 5 2 54 1 31 1 6 1 6 1 63 1 7 3 12 2 11 1 37 2 10 3 12 3 6 1 70 1 38 1 23 2 37 1 10 1 59 1 4 4 13 2 11 2 10 1 15 1 10 2 11 3 13 3 4 1 63 1 6 1 37 2 24 1 37 1 6 1 68 2 14 3 10 3 10 1 15 2 10 2 11 3 14 1 71 2 2 1 37 1 25 1 37 1 75 1 14 3 11 2 10 2 15 2 10 2 12 3 13 1 67 1 45 1 25 2 12 1 17 2 80 1 13 3 11 3 10 2 15 2 10 3 11 4 12 1 71 1 8 2 17 1 12 2 25 2 12 2 16 2 80 1 11 4 12 3 10 2 15 2 10 3 12 4 11 1 66 1 7 1 5 1 17 2 12 2 26 1 12 2 17 1 5 1 74 1 10 5 12 3 9 3 15 3 10 3 12 4 10 1 69 2 9 1 17 1 13 1 16 1 10 1 13 1 17 1 80 1 9 5 12 3 10 3 15 3 10 3 12 5 9 1 80 1 17 1 13 1 10 1 5 1 10 1 13 1 17 1 80 1 8 6 12 3 10 3 15 3 10 3 13 5 8 1 80 1 16 2 12 2 10 1 5 1 10 2 13 1 16 1 2 3 75 1 8 5 13 3 10 3 15 3 10 3 13 6 7 1 75 3 2 1 16 1 13 2 10 1 5 1 10 2 13 1 16 1 2 3 75 1 7 6 13 3 10 3 15 3 10 3 13 6 7 1 75 3 2 1 16 1 13 2 10 1 5 1 10 2 13 1 16 1 2 3 75 1 7 6 13 3 10 3 15 3 10 3 13 6 7 1 75 3 2 1 16 1 13 2 10 1 5 1 10 2 13 1 16 1 2 3 75 1 7 6 13 3 10 3 15 3 10 3 13 5 8 1 75 3 2 1 16 1 13 2 10 1 5 1 10 2 12 2 16 1 80 1 8 5 13 3 10 3 15 3 10 3 12 6 8 1 80 1 17 1 13 1 10 1 5 1 10 1 13 1 17 1 80 1 9 5 12 3 10 3 15 3 10 3 12 5 9 1 80 1 17 1 13 1 10 1 16 1 13 1 17 1 9 2 69 1 10 4 12 3 10 3 15 3 9 3 12 5 10 1 74 1 5 1 17 2 12 1 26 2 12 2 17 1 5 1 7 1 66 1 11 4 12 3 10 2 15 2 10 3 12 4 11 1 80 2 16 2 12 2 25 2 12 1 17 2 8 1 71 1 12 4 11 3 10 2 15 2 10 3 11 3 13 1 80 2 17 1 12 2 25 1 45 1 67 1 13 3 12 2 10 2 15 2 10 2 11 3 14 1 75 1 37 1 25 1 37 1 2 2 71 1 14 3 11 2 10 2 15 1 10 3 10 3 14 2 68 1 6 1 37 1 24 2 37 1 6 1 63 1 4 3 13 3 11 2 10 1 15 1 10 2 11 2 13 4 4 1 59 1 10 1 37 2 23 1 38 1 70 1 6 3 12 3 10 2 37 1 11 2 12 3 7 1 63 1 6 1 6 1 31 1 54 2 5 2 3 1 2 1 63 1 8 3 11 2 11 1 49 1 11 3 9 1 55 1 3 1 6 1 3 2 5 3 6 1 69 2 5 3 10 1 66 1 9 3 11 2 59 1 11 3 10 1 4 1 61 1 11 2 5 3 67 3 18 1 61 1 4 2 10 2 11 1 70 2 10 2 5 1 49 2 2 2 6 1 18 3 66 3 19 1 4 1 56 1 5 3 9 2 80 2 9 3 6 1 56 2 3 1 20 1 82 2 8 2 51 1 4 1 7 3 9 1 89 2 7 2 4 1 47 1 3 2 8 3 95 2 9 2 3 1 47 1 4 2 8 2 97 1 8 2 5 1 47 1 3 2 9 3 87 2 5 1 15 1 3 1 38 1 4 1 6 2 7 2 95 1 8 2 6 1 4 1 38 1 3 1 8 2 11 2 20 1 59 3 11 2 8 1 3 2 3 1 28 1 4 1 4 2 6 2 8 1 102 1 6 2 5 1 4 1 3 1 24 1 3 2 13 2 11 2 79 2 11 2 13 2 3 1 4 1 14 1 3 2 3 1 4 2 5 1 6 2 109 1 6 2 5 1 5 1 3 2 3 1 4 1 4 1 4 1 4 1 4 1 8 1 5 1 111 1 13 1 4 1 4 1 4 1 4 1 3 2 3 1 5 1 6 1 7 1 114 2 5 2 4 1 4 2 3 1 4 1 4 1 4 1 4 1 13 2 9 2 93 2 9 2 18 1 4 1 4 1 4 1 3 2 4 1 5 1 6 1 121 1 5 2 5 1 4 1 4 1 4 1 4 1 4 1 13 1 5 1 9 3 91 2 29 1 5 1 4 1 4 1 4 1 4 2 5 1 133 1 5 1 5 1 4 1 4 1 4 2 4 1 29 2 98 2 22 1 4 2 4 1 4 1 4 1 5 1 145 1 4 1 5 1 4 1 5 1 4 1 22 2 104 2 28 1 5 1 4 1 5 1 155 1 5 1 4 1 5 1 22 1 5 2 109 2 22 1 5 1 10 1 195 2 115 1 5 1 225 1 5 1 121 1 999999"/><use href="#S168x172" stroke="#4fb" stroke-dasharray="0 37 3 5 3 5 3 5 3 42 2 4 3 4 2 4 5 7 6 7 6 7 5 17 5 8 5 6 6 9 4 28 2 5 2 6 1 25 3 5 3 5 3 6 2 59 3 5 3 5 3 25 2 5 3 4 3 5 2 5 3 4 2 5 1 8 4 11 4 6 4 37 4 11 4 7 4 8 3 3 3 4 2 4 3 5 2 5 3 4 3 5 2 5 2 19 1 6 3 5 3 6 3 41 3 6 3 6 2 18 2 6 2 5 2 5 3 5 2 5 2 5 3 4 2 4 3 3 3 7 6 6 7 7 5 7 4 7 4 7 5 7 7 6 7 6 3 4 2 4 2 5 2 27 1 6 2 5 3 5 3 18 3 6 3 6 2 25 2 7 2 7 1 12 1 6 3 5 2 49 2 4 2 4 3 5 8 7 5 8 5 7 2 12 3 13 4 9 4 6 3 4 3 4 1 16 1 6 2 5 2 24 1 6 3 5 3 19 2 7 2 25 2 20 3 5 3 6 2 17 2 5 2 5 2 5 2 5 3 4 2 5 1 14 4 6 6 7 6 8 5 15 6 7 6 7 6 6 5 7 1 4 3 4 2 4 3 5 2 5 2 5 2 5 2 6 1 18 2 6 3 61 2 6 3 19 1 6 2 5 2 5 2 5 2 5 2 5 3 4 2 4 3 4 2 5 5 7 6 8 5 7 6 28 2 16 1 11 2 4 3 3 3 4 2 5 2 5 2 5 2 5 2 5 2 5 2 6 2 18 2 6 3 44 3 6 3 19 2 5 3 5 2 5 2 5 2 5 2 5 2 5 2 5 2 4 3 3 3 4 2 5 6 7 5 7 6 8 4 5 4 7 7 7 5 7 6 6 2 3 3 4 2 4 2 5 2 5 2 5 2 5 1 6 2 5 2 5 3 5 3 19 2 6 3 27 1 7 3 20 2 6 2 6 2 5 2 6 2 5 2 4 2 5 2 5 2 5 1 5 2 4 3 3 3 5 6 7 5 7 7 7 4 5 4 7 5 9 5 9 4 5 3 4 2 11 1 5 2 5 2 4 3 4 3 4 2 5 3 5 2 6 2 6 2 30 1 41 3 6 2 6 2 6 2 6 2 5 2 4 3 4 3 4 2 5 2 5 1 11 2 4 4 11 5 7 5 8 4 18 5 7 6 7 6 6 8 17 2 4 3 4 2 4 3 4 3 4 2 5 2 6 2 5 3 5 3 6 3 55 2 6 3 6 3 6 2 5 3 5 2 5 2 5 2 4 3 4 2 4 3 4 2 8 1 9 7 6 6 7 6 7 5 17 4 8 6 7 5 6 3 3 2 9 2 7 2 4 3 4 2 4 3 4 2 4 3 4 3 5 3 5 2 6 2 7 2 6 3 38 2 7 3 6 3 6 2 6 3 5 2 5 3 4 3 4 2 4 3 4 2 4 3 4 2 7 2 4 3 8 3 12 4 7 4 19 4 9 5 7 5 9 5 8 3 4 2 7 2 4 3 4 2 4 3 3 3 4 3 4 3 4 3 5 3 6 2 6 3 6 3 6 3 20 2 7 3 6 3 7 2 6 3 5 3 5 3 4 3 4 3 4 3 3 3 4 2 4 3 3 3 4 2 2 1 4 3 8 5 9 5 7 5 9 4 5 2 11 5 7 5 5 1 5 3 9 2 7 3 3 3 3 3 4 3 3 3 3 3 4 3 4 3 4 3 5 3 5 3 6 2 7 2 7 3 7 2 11 3 6 3 7 2 7 3 5 4 5 3 4 4 4 3 3 3 4 3 3 3 3 3 4 3 3 3 3 3 6 3 4 3 9 4 15 2 7 3 17 4 9 5 9 4 9 3 4 2 2 2 3 3 3 3 4 2 4 3 3 3 3 3 3 3 4 3 4 3 5 3 5 3 6 3 6 3 7 2 7 3 11 3 7 2 7 3 6 3 6 3 5 3 5 3 4 3 4 3 3 3 3 3 3 3 4 2 4 3 3 3 3 2 7 4 9 4 9 5 9 4 17 4 10 3 4 2 5 4 9 3 7 2 4 2 4 2 4 3 3 3 3 3 3 3 3 3 4 3 4 3 4 4 4 4 5 4 6 3 6 3 7 3 12 2 7 3 6 4 5 4 5 4 5 3 4 4 3 4 3 3 3 3 3 3 3 3 3 3 3 3 3 3 3 3 4 1 2 3 4 3 2 4 5 3 16 3 19 3 16 4 5 2 2 4 4 2 2 3 3 3 3 3 3 3 3 3 3 3 3 3 3 2 4 3 3 3 4 3 5 3 5 3 6 3 6 3 7 3 7 2 13 3 6 4 6 3 6 4 5 4 4 4 4 3 4 3 4 2 4 2 4 2 3 3 3 3 3 3 3 3 3 3 3 3 8 4 3 1 5 4 16 3 19 4 15 4 10 4 7 3 4 2 4 2 3 3 3 3 3 3 3 2 3 3 3 3 4 3 3 4 4 4 4 4 5 4 5 4 6 4 6 3 13 3 7 3 6 4 5 4 5 4 5 3 4 4 4 3 3 3 3 3 3 2 3 3 3 3 3 2 4 2 3 3 3 3 4 2 2 4 9 5 15 4 6 1 5 1 6 4 8 2 6 4 3 1 5 4 1 3 4 3 3 3 4 1 4 2 4 2 3 3 3 2 3 3 3 3 3 3 4 3 4 4 4 4 5 4 6 4 6 3 7 3 13 4 6 4 6 4 5 4 5 4 4 4 4 4 3 3 3 3 3 3 3 2 3 3 3 2 3 3 6 2 2 1 4 3 3 4 2 2 5 3 2 4 6 2 8 3 6 2 5 2 6 3 7 4 5 4 2 3 9 4 3 3 7 2 6 3 3 2 3 3 3 2 3 3 3 2 4 3 3 3 4 4 5 4 5 4 5 4 6 4 6 4 13 4 6 4 6 4 6 4 5 4 4 4 4 3 4 3 3 3 3 2 3 2 3 3 2 3 3 3 5 3 3 2 1 3 4 3 9 5 1 4 5 4 7 3 6 2 5 2 6 3 7 4 6 2 3 4 3 1 5 4 3 1 2 3 3 3 6 2 3 3 2 3 3 2 3 2 3 3 3 3 3 4 4 3 5 4 5 4 5 5 5 5 6 4 13 5 6 4 5 5 5 5 4 5 4 4 4 3 3 3 3 3 3 2 3 3 2 3 2 3 3 2 3 1 2 2 3 3 7 4 4 3 2 4 10 5 7 3 6 2 5 3 6 2 7 5 10 4 1 4 5 3 2 2 3 3 3 2 1 2 3 3 2 3 3 2 2 3 2 3 3 2 3 3 4 3 4 4 4 4 5 4 6 4 6 4 6 4 15 4 6 4 6 5 5 4 5 4 5 4 4 3 3 3 3 3 2 3 2 3 2 2 3 2 3 3 2 3 2 1 3 3 3 3 1 3 4 5 1 3 11 4 8 2 6 3 5 3 7 1 8 5 10 2 3 4 5 1 2 4 3 3 5 3 3 2 3 2 3 2 2 3 2 3 2 3 3 2 4 3 4 4 4 4 5 5 5 5 5 5 6 4 15 5 5 5 6 4 6 4 5 4 5 4 3 4 3 3 2 3 2 3 2 3 2 2 3 2 3 2 3 2 3 2 1 3 3 3 8 5 10 2 3 5 6 3 7 3 5 3 7 4 5 5 2 3 11 4 3 1 4 3 4 1 2 2 3 2 3 2 3 2 3 2 2 3 2 3 2 3 2 3 3 3 4 4 4 4 5 5 5 5 6 4 6 5 15 5 6 4 6 5 5 5 5 5 4 4 3 4 2 3 2 3 2 3 3 1 3 1 4 2 3 2 3 2 2 3 6 3 4 3 1 5 5 1 4 4 2 4 6 4 7 3 5 4 6 4 6 4 2 4 3 2 6 4 1 3 4 3 2 1 3 3 2 2 3 2 1 1 3 1 3 1 3 1 3 1 4 3 2 3 2 3 4 3 5 4 5 5 6 5 5 5 6 4 17 4 6 5 6 5 5 5 5 5 4 4 4 2 2 3 2 1 2 1 3 1 2 2 2 2 2 2 2 2 6 2 2 2 3 3 1 2 4 4 2 3 5 4 2 4 2 4 5 5 6 4 5 4 6 5 6 2 3 5 1 4 6 1 3 4 4 1 2 3 3 2 2 2 2 2 2 2 3 1 3 1 2 2 2 1 3 1 3 1 1 3 2 2 4 3 5 4 5 5 6 5 6 5 5 5 17 5 6 5 5 6 5 5 5 5 4 4 3 2 2 1 3 1 3 1 2 2 2 1 3 1 2 2 2 2 3 1 7 2 3 2 7 4 10 5 2 4 3 2 6 5 6 4 5 4 6 5 6 1 5 3 2 5 11 3 2 2 3 2 3 2 2 2 3 2 3 1 3 1 2 2 2 1 2 2 2 1 3 1 3 1 2 2 3 3 4 5 5 5 6 5 6 5 6 5 11 1 5 5 6 5 6 5 6 5 6 4 5 2 3 2 2 1 3 2 2 1 2 2 2 1 2 1 3 1 2 2 3 1 3 3 3 1 3 2 2 3 1 4 5 2 3 5 4 2 11 5 7 4 5 5 6 5 17 5 2 4 5 2 2 3 2 2 3 1 9 2 3 1 2 2 2 1 2 1 3 1 2 1 2 2 2 2 3 1 3 2 4 4 6 5 6 5 6 6 6 5 5 1 5 1 6 5 6 5 6 5 6 6 5 5 3 2 3 2 2 2 2 2 2 1 2 1 2 1 3 1 2 1 2 2 2 2 3 1 3 1 2 2 2 2 2 2 9 5 1 6 17 5 6 5 5 5 6 5 18 5 1 5 9 2 2 2 1 3 1 3 2 2 3 1 3 1 2 2 2 1 2 1 2 1 2 1 2 1 3 1 3 2 3 2 3 4 5 6 6 6 6 5 6 5 6 1 5 1 6 5 6 6 6 5 7 5 6 3 3 2 4 1 3 1 3 1 2 1 2 1 2 1 2 1 2 1 2 2 2 1 3 3 2 2 3 2 2 1 2 2 3 2 3 5 3 4 12 1 4 6 6 5 5 5 6 6 3 3 4 2 6 3 3 6 1 4 2 2 16 2 2 2 2 1 2 1 2 1 2 1 2 1 2 1 2 1 2 2 2 2 3 3 3 2 6 6 6 6 6 6 6 5 6 1 5 1 6 6 6 5 7 5 7 6 5 2 4 2 3 2 2 2 2 1 2 1 2 1 2 1 1 1 2 1 2 1 3 1 3 1 3 1 2 2 2 2 3 1 1 2 2 4 1 5 5 1 7 3 3 3 3 5 6 5 7 5 6 5 3 3 3 4 13 3 3 3 2 5 1 3 1 3 1 3 3 1 3 1 2 1 2 1 2 1 2 1 1 1 2 1 2 1 2 1 3 1 3 2 5 2 4 6 7 6 7 5 6 6 5 2 5 2 6 5 6 6 6 7 7 6 3 2 5 2 3 2 2 1 2 1 2 1 2 1 1 1 2 1 1 1 2 1 2 2 2 2 2 3 3 1 3 1 2 3 1 1 2 3 3 2 14 4 3 3 3 5 6 5 7 5 6 6 2 4 1 6 5 1 12 3 2 1 2 1 7 1 5 2 2 2 2 1 2 1 2 1 2 1 1 1 4 1 2 1 2 1 2 1 3 2 4 4 3 5 8 6 7 6 6 5 6 2 5 2 6 5 7 5 7 7 8 4 3 4 4 2 3 1 3 1 4 1 4 1 1 1 2 1 1 1 2 1 2 2 3 1 3 2 1 2 2 2 2 1 3 1 1 3 11 3 4 6 1 4 2 6 6 5 7 6 6 5 2 3 2 6 4 4 5 2 3 3 4 3 1 3 1 2 1 3 3 1 3 1 2 2 1 1 2 1 1 1 4 1 1 1 1 1 2 1 2 1 3 2 4 3 1 1 3 3 8 7 7 6 6 6 6 2 5 2 6 6 6 6 7 7 9 2 6 3 4 1 3 1 2 1 2 1 1 1 1 1 1 1 4 1 1 1 2 1 2 1 3 1 4 2 6 2 1 3 1 2 1 3 2 3 4 5 3 6 8 5 6 6 7 6 6 6 7 6 2 6 3 4 2 2 1 3 2 1 6 1 5 2 3 1 3 1 2 1 1 1 2 1 1 1 1 1 1 1 1 1 1 1 2 1 1 2 2 2 3 3 7 2 8 7 7 7 6 6 6 2 5 2 6 6 7 6 7 8 7 2 8 3 3 2 2 1 2 1 1 1 1 1 1 1 1 1 1 1 1 1 1 1 2 1 1 1 3 1 3 2 5 6 2 1 3 2 1 2 2 4 2 7 1 7 7 6 6 5 9 5 6 6 8 6 1 8 1 4 2 2 6 2 1 2 2 4 4 2 3 1 2 1 2 1 7 1 1 1 1 1 1 1 1 1 2 1 2 1 3 3 6 2 1 2 6 8 8 6 7 5 6 3 5 3 6 5 7 7 7 9 5 2 1 3 6 2 3 2 2 1 1 1 1 1 1 1 1 1 2 1 1 1 1 1 1 1 2 1 2 1 3 1 4 3 8 3 1 2 3 1 2 3 3 6 2 6 7 6 7 5 9 5 7 6 7 7 2 5 4 2 6 2 2 1 3 1 6 3 4 2 2 1 2 1 7 1 2 1 1 1 1 1 1 1 1 1 2 1 3 2 5 8 4 9 8 7 6 6 6 3 5 3 6 6 6 7 9 9 3 2 2 5 5 2 3 1 7 1 2 1 2 1 1 1 1 1 1 1 2 1 2 2 3 3 7 3 1 1 3 2 1 2 3 2 5 4 2 6 8 6 6 6 9 6 6 6 8 7 10 2 2 3 5 3 1 4 7 2 3 2 2 1 2 1 1 1 2 1 2 1 2 1 2 1 1 1 2 1 2 2 5 5 3 2 3 9 8 7 7 6 6 3 5 3 6 6 7 7 9 8 3 1 6 4 5 2 2 1 1 1 1 1 2 1 3 1 2 1 5 1 2 1 3 3 5 6 3 2 1 2 3 2 2 2 9 8 7 7 6 6 9 6 6 7 8 8 8 2 7 2 9 5 5 2 3 1 2 1 3 1 2 1 4 2 5 1 2 1 4 4 8 1 3 8 9 7 7 6 6 3 5 3 6 6 7 7 10 7 3 1 9 4 4 1 2 1 1 1 2 2 5 2 1 1 1 1 1 2 2 2 5 5 7 1 3 2 1 2 4 2 7 9 8 6 7 6 9 6 7 6 8 10 6 2 3 3 6 1 10 4 5 1 3 1 1 1 1 1 3 7 5 1 4 3 15 6 10 8 7 6 6 3 5 3 7 6 7 7 11 5 16 4 3 1 1 1 1 2 1 3 3 2 1 1 1 1 2 2 4 3 15 3 2 3 3 2 5 10 9 6 7 6 10 5 7 7 8 11 4 2 5 1 2 3 2 1 14 4 3 2 1 1 1 1 6 1 4 1 1 1 3 3 18 5 11 7 7 6 7 3 5 3 7 6 7 7 12 4 20 2 19 1 3 3 14 5 1 1 2 3 5 2 3 12 8 7 7 5 11 5 7 7 8 12 3 2 3 5 2 12 12 2 3 1 1 1 8 2 3 2 15 4 3 3 12 8 7 6 6 4 5 4 6 6 7 8 13 2 2 8 13 2 11 1 1 1 2 2 9 24 4 1 3 11 9 7 7 5 11 5 7 7 9 11 3 1 4 29 7 1 2 1 10 1 6 2 1 2 2 2 1 7 2 2 13 8 7 6 6 4 5 4 6 6 7 8 13 2 2 9 1 2 2 1 2 1 16 1 6 33 4 1 3 11 9 7 7 5 11 6 6 7 9 11 3 1 4 38 14 1 2 2 2 1 2 2 2 8 2 2 13 8 7 6 6 4 5 4 6 6 7 8 13 2 2 7 1 2 2 1 2 2 2 2 1 1 12 39 4 1 3 11 9 7 6 6 11 6 6 7 9 11 3 1 4 39 12 1 1 2 2 2 2 1 2 2 1 7 2 2 13 8 7 6 6 4 5 4 6 6 7 8 13 2 2 8 2 2 2 1 2 2 2 1 14 38 4 1 3 11 9 7 6 6 11 5 7 7 9 11 3 1 4 33 6 1 16 1 2 1 2 2 1 9 2 2 13 8 7 6 6 4 5 4 6 6 7 8 13 2 2 7 1 2 2 2 1 2 6 1 10 1 2 1 7 29 4 1 3 11 9 7 7 5 11 5 7 7 9 11 3 1 4 24 9 2 2 1 1 1 11 2 13 8 2 2 13 8 7 6 6 4 5 4 6 6 7 8 12 3 3 4 15 2 3 2 8 1 1 1 3 2 12 12 2 5 3 2 3 12 8 7 7 5 11 5 7 7 8 12 3 2 5 3 2 1 1 5 14 3 3 1 19 2 20 4 12 7 7 6 7 3 5 3 7 6 7 7 11 5 18 3 3 1 1 1 4 1 6 1 1 1 1 2 3 4 14 1 2 3 2 1 5 2 4 11 8 7 7 5 10 6 7 6 9 10 5 2 3 3 2 3 15 3 4 2 2 1 1 1 1 2 3 3 1 2 1 1 1 1 3 4 16 5 11 7 7 6 7 3 5 3 6 6 7 8 10 6 15 3 4 1 5 7 3 1 1 1 1 1 3 1 5 4 10 1 6 3 3 2 6 10 8 6 7 6 9 6 7 6 8 9 7 2 4 2 1 2 3 1 7 5 5 2 2 2 1 1 1 1 1 2 5 2 2 1 1 1 2 1 4 4 9 1 3 7 10 7 7 6 6 3 5 3 6 6 7 7 9 8 3 1 8 4 4 1 2 1 5 2 4 1 2 1 3 1 2 1 3 2 5 5 9 2 7 2 8 8 8 7 6 6 9 6 6 7 7 8 9 2 2 2 3 2 1 2 3 6 5 3 3 1 2 1 5 1 2 1 3 1 2 1 1 1 1 1 2 2 5 4 6 1 3 8 9 7 7 6 6 3 5 3 6 6 7 7 8 9 3 2 3 5 5 2 2 1 2 1 1 1 2 1 2 1 2 1 2 1 1 1 2 1 2 2 3 2 7 4 1 3 5 3 2 2 10 7 8 6 6 6 9 6 6 6 8 6 2 4 5 2 3 2 1 2 3 1 1 3 7 3 3 2 2 1 2 1 1 1 1 1 1 1 2 1 2 1 7 1 3 2 5 5 2 2 3 9 9 7 6 6 6 3 5 3 6 6 6 7 8 9 4 8 5 2 3 1 2 1 1 1 1 1 1 1 1 1 2 1 7 1 2 1 2 2 4 3 6 1 3 1 2 2 6 2 4 5 2 7 7 6 7 5 9 5 7 6 7 6 2 6 3 3 2 1 3 2 1 3 8 3 4 1 3 1 2 1 2 1 1 1 1 1 1 1 2 1 1 1 1 1 1 1 1 1 2 2 3 2 6 3 1 2 5 9 7 7 7 5 6 3 5 3 6 5 7 6 8 8 6 2 1 2 6 3 3 1 2 1 2 1 1 1 1 1 1 1 1 1 7 1 2 1 2 1 3 2 4 4 2 2 1 2 6 2 2 4 1 8 1 6 8 6 6 5 9 5 6 6 7 7 1 7 2 4 2 2 1 2 3 1 2 6 5 2 3 1 3 1 1 1 2 1 1 1 1 1 1 1 1 1 1 1 1 1 1 1 2 1 2 2 3 3 8 2 7 8 7 6 7 6 6 2 5 2 6 6 6 7 7 7 8 2 7 3 3 2 2 2 1 1 2 1 1 1 1 1 1 1 1 1 1 1 2 1 1 1 2 1 3 1 3 2 5 1 6 1 2 3 1 2 2 4 3 6 2 6 7 6 6 6 7 6 6 5 8 6 3 5 4 3 2 3 1 2 1 3 1 2 6 2 4 1 3 1 2 1 2 1 1 1 4 1 1 1 1 1 1 1 2 1 2 1 3 1 4 3 6 2 9 7 7 6 6 6 6 2 5 2 6 6 6 6 7 7 8 3 3 1 1 3 4 2 3 1 2 1 2 1 1 1 1 1 4 1 1 1 2 1 1 2 2 1 3 1 3 3 1 2 1 3 1 3 4 3 3 2 5 4 4 6 2 3 2 5 6 6 7 5 6 6 2 4 1 6 4 3 11 3 1 1 3 1 2 2 2 2 1 2 3 1 3 2 2 1 2 1 1 1 2 1 1 1 4 1 4 1 3 1 3 2 4 4 3 4 8 7 7 5 7 5 6 2 5 2 6 5 6 6 7 6 8 5 3 4 4 2 3 1 2 1 2 1 2 1 4 1 1 1 2 1 2 1 2 1 2 2 2 2 5 1 7 1 2 1 2 3 12 1 5 6 1 4 2 6 6 5 7 5 6 5 3 3 3 4 14 2 3 3 2 1 1 3 2 1 3 1 3 3 2 2 2 2 2 1 2 1 1 1 2 1 1 1 2 1 2 1 2 1 2 2 3 2 5 2 3 6 7 7 6 6 6 5 6 2 5 2 5 6 6 5 7 6 7 6 4 2 5 2 3 1 3 1 2 1 2 1 2 1 1 1 2 1 2 1 2 1 2 1 3 1 3 3 1 3 1 3 1 5 2 3 3 3 13 4 3 3 3 5 6 5 7 5 6 5 3 3 3 3 7 1 5 5 1 4 2 2 1 1 3 2 2 2 2 1 3 1 3 1 3 1 2 1 2 1 1 1 2 1 2 1 2 1 2 2 2 2 3 2 4 2 5 6 7 5 7 5 6 6 6 1 5 1 6 5 6 6 6 6 6 6 6 2 3 3 3 2 2 2 2 1 2 1 2 1 2 1 2 1 2 1 2 1 2 2 2 2 16 2 2 4 1 6 3 3 6 2 4 3 3 6 6 5 5 5 6 6 4 1 12 4 3 5 3 2 3 2 2 1 2 2 3 2 2 3 3 1 2 2 2 1 2 1 2 1 2 1 2 1 2 1 3 1 3 1 4 2 3 3 6 5 7 5 6 6 6 5 6 1 5 1 6 5 6 5 6 6 6 6 5 4 3 2 3 2 3 1 3 1 2 1 2 1 2 1 2 1 2 2 2 1 3 1 3 2 2 3 1 3 1 2 2 2 9 5 1 5 18 5 6 5 5 5 6 5 17 6 1 5 9 2 2 2 2 2 2 1 3 1 3 2 2 2 2 1 2 1 3 1 2 1 2 1 2 2 2 2 2 2 3 2 3 5 5 6 6 5 6 5 6 5 6 1 5 1 5 5 6 6 6 5 6 5 6 4 4 2 3 1 3 2 2 2 2 1 2 1 3 1 2 1 2 2 2 1 3 2 9 1 3 2 2 3 2 2 5 4 2 5 17 5 6 5 5 4 7 5 11 2 4 5 3 2 5 4 1 3 2 2 3 1 3 3 3 1 3 2 2 1 3 1 2 1 2 2 2 1 2 2 3 1 2 2 3 2 5 4 6 5 6 5 6 5 6 5 5 1 11 5 6 5 6 5 6 5 5 5 4 3 3 2 2 1 3 1 3 1 2 2 2 1 2 2 2 1 3 1 3 2 3 2 2 2 3 2 3 2 2 3 11 5 2 3 5 1 6 5 6 4 5 4 6 5 6 2 3 4 2 5 10 4 7 2 3 2 7 1 3 2 2 2 2 1 3 1 2 2 2 1 3 1 3 1 2 2 3 4 4 5 5 5 5 6 5 5 6 5 17 5 5 5 6 5 6 5 5 4 5 3 4 2 2 3 1 1 3 1 3 1 2 2 2 1 3 1 3 2 2 2 2 2 2 2 3 3 2 1 4 4 3 1 6 4 1 5 3 2 6 5 6 4 5 4 6 5 5 4 2 4 2 4 5 3 2 4 4 2 1 3 3 2 2 2 6 2 2 2 2 2 2 2 2 1 3 1 2 1 2 3 2 2 4 4 4 5 5 5 5 5 6 5 6 4 17 4 6 5 5 5 6 5 5 4 5 3 4 3 2 3 2 3 4 1 3 1 3 1 3 1 3 1 1 2 3 2 2 3 3 1 2 3 4 3 1 4 6 2 3 4 2 4 6 4 6 4 5 3 7 4 6 4 2 4 4 1 5 5 1 3 4 3 6 3 2 2 3 2 3 2 4 1 3 1 3 3 2 3 2 3 2 4 3 4 4 5 5 5 5 5 6 4 6 5 15 5 6 4 6 5 5 5 5 4 4 4 4 3 3 3 2 3 2 3 2 3 2 2 3 2 3 2 3 2 3 2 2 1 4 3 4 1 3 4 11 3 2 5 5 4 7 3 5 3 7 3 6 5 3 2 10 5 8 3 3 3 1 2 3 2 3 2 3 2 3 2 2 3 2 3 2 3 2 3 3 4 3 4 5 4 5 4 6 4 6 5 5 5 15 4 6 5 5 5 5 5 5 4 4 4 4 3 4 2 3 3 2 3 2 3 2 2 3 2 3 2 3 3 5 3 3 4 2 1 5 4 3 2 10 5 8 1 7 3 5 3 6 2 8 4 11 3 1 5 4 3 1 3 3 3 3 1 2 3 2 3 3 2 3 2 2 3 2 3 2 3 3 3 3 3 4 4 5 4 5 4 5 5 6 4 6 4 15 4 6 4 6 4 6 4 5 4 4 4 4 3 4 3 3 2 3 3 2 3 2 2 3 3 2 3 3 2 1 2 3 3 3 2 2 3 5 4 1 4 10 5 7 2 6 3 5 2 6 3 7 5 10 4 2 3 4 4 7 3 3 2 2 1 3 2 3 3 2 3 2 3 3 2 3 3 3 3 3 3 4 4 4 5 4 5 5 5 5 4 6 5 13 4 6 5 5 5 5 4 5 4 5 3 4 4 3 3 3 3 3 2 3 2 3 3 2 3 3 2 6 3 3 3 2 1 3 4 5 1 3 4 3 2 6 4 7 3 6 2 5 2 6 3 7 4 5 4 1 5 9 3 4 3 1 2 3 3 5 3 3 3 2 3 3 2 3 2 3 3 3 3 4 3 4 4 4 4 5 4 6 4 6 4 6 4 13 4 6 4 6 4 5 4 5 4 5 4 4 3 3 3 4 2 3 3 3 2 3 3 3 2 3 3 6 2 7 3 3 4 9 3 2 4 5 4 7 3 6 2 5 2 6 3 8 2 6 4 2 3 5 2 2 4 3 3 4 1 2 2 6 3 3 2 3 3 3 2 3 3 3 3 3 3 3 4 4 4 4 4 5 4 5 4 6 4 6 4 13 4 6 3 6 4 6 4 5 4 4 4 4 3 4 3 3 3 3 3 3 2 3 3 3 2 4 2 4 1 4 3 3 3 4 3 1 4 5 1 3 4 6 2 8 4 6 1 5 1 6 4 15 5 9 4 2 2 4 3 3 3 3 2 4 2 3 3 3 3 3 2 3 3 3 3 3 3 4 4 4 3 5 4 5 4 5 4 6 3 7 3 13 3 6 4 6 4 5 4 5 4 4 4 4 4 3 3 4 3 3 3 3 2 3 3 3 3 3 3 3 2 4 2 4 3 7 4 10 4 15 4 19 4 15 4 5 1 3 4 8 3 3 3 3 3 3 3 3 3 3 3 3 2 4 2 4 2 4 3 4 3 4 4 4 4 5 4 6 3 6 4 6 3 13 2 7 3 7 3 6 3 6 3 5 3 5 3 4 3 3 3 4 2 3 3 3 3 3 3 3 3 3 3 3 3 3 3 2 2 4 4 2 2 5 4 16 3 19 3 16 3 5 4 2 3 4 3 2 1 4 3 3 3 3 3 3 3 3 3 3 3 3 3 3 3 3 4 3 4 4 3 5 4 5 4 5 4 6 3 8 1 22 2 7 3 6 4 5 4 4 4 4 3 4 3 4 3 3 3 3 3 3 3 3 3 4 2 4 2 4 2 7 3 9 4 5 2 4 3 10 4 17 4 9 5 9 4 9 4 7 2 3 3 3 3 4 2 4 3 3 3 3 3 3 3 4 3 4 3 5 3 5 3 6 3 6 3 49 2 7 3 6 3 5 3 5 3 4 3 4 3 3 3 3 3 3 3 4 2 4 3 3 3 3 2 2 2 4 3 9 4 9 5 9 4 44 4 9 3 4 3 6 3 3 3 3 3 4 3 3 3 3 3 4 3 3 3 4 4 4 3 5 4 5 3 26 1 12 2 26 2 6 3 5 3 5 3 4 3 4 3 4 3 3 3 3 3 4 3 3 3 3 3 7 2 9 3 5 1 5 4 9 4 10 3 5 4 8 6 7 5 9 5 8 3 4 1 2 2 4 3 3 3 4 2 4 3 3 3 4 3 4 3 4 3 5 3 5 3 7 1 17 2 7 2 10 3 7 2 25 2 6 3 5 3 4 3 4 3 4 3 3 3 4 2 4 3 4 2 7 2 4 3 8 5 9 5 7 5 9 4 19 4 9 3 11 3 8 3 4 2 7 2 4 3 4 2 4 3 4 2 4 3 4 3 5 2 5 3 6 2 16 2 7 2 7 3 9 3 6 3 7 2 24 2 5 3 5 3 4 3 4 2 4 3 4 2 4 3 4 2 7 2 9 2 3 3 6 5 7 6 8 5 15 6 7 6 7 6 6 7 9 1 8 2 4 3 4 2 4 3 4 2 5 2 5 2 5 3 5 2 15 2 7 3 6 3 7 1 19 3 6 3 6 3 22 2 6 2 5 2 4 3 4 3 4 2 4 3 4 2 18 7 6 6 7 6 7 6 16 4 9 5 7 5 11 4 17 1 5 2 5 2 4 3 4 3 4 2 5 2 6 1 15 2 6 3 6 3 7 1 37 3 6 3 6 2 22 1 6 2 4 3 4 3 4 2 5 2 5 1 11 2 4 3 5 5 10 4 7 4 10 2 6 4 8 6 6 6 7 6 6 2 3 3 17 2 5 2 5 2 4 2 6 1 21 2 6 3 5 3 7 2 54 2 6 3 5 3 6 1 21 1 6 1 5 2 24 3 3 2 6 6 7 6 6 6 8 4 5 4 8 5 7 6 8 5 5 2 4 3 4 1 55 2 5 3 5 3 6 2 21 1 19 1 7 2 20 2 6 3 5 2 6 2 46 3 3 3 4 3 35 3 21 4 7 6 7 6 8 5 4 3 3 3 4 2 33 2 5 2 6 2 5 3 19 2 7 2 35 2 6 3 19 2 6 2 5 3 5 2 5 2 5 2 5 2 5 2 5 2 4 3 4 2 4 6 7 6 7 6 7 5 17 5 7 5 8 6 7 5 5 2 4 3 3 3 4 3 5 2 5 2 5 2 5 2 5 3 5 2 19 2 6 3 6 2 43 3 6 3 6 1 18 3 5 2 5 2 5 2 5 3 4 3 4 3 4 2 4 2 8 3 6 4 12 3 8 1 17 1 8 6 7 5 7 7 6 3 7 2 4 3 4 3 4 3 5 2 5 2 5 2 6 1 18 3 6 3 6 1 61 2 6 3 5 2 18 1 6 2 5 2 5 3 4 3 5 1 14 3 6 7 7 5 7 6 7 4 8 3 7 5 8 5 7 7 6 3 3 3 22 1 6 1 25 2 5 3 5 3 7 1 56 1 20 2 6 3 5 2 6 2 35 1 5 2 4 3 3 3 6 6 8 5 9 4 7 2 28 4 7 5 7 3 3 3 4 3 4 2 4 3 5 2 5 2 6 2 5 2 5 3 5 3 5 2 19 2 7 2 41 2 7 2 7 1 19 2 5 3 5 2 5 3 4 3 5 3 4 3 4 3 3 3 5 7 7 6 7 5 11 2 17 4 9 5 6 7 7 5 7 3 3 3 4 3 4 3 5 3 4 3 5 2 5 3 6 1 18 3 6 3 6 2 49 3 6 3 5 3 25 2 5 3 4 3 5 3 4 3 4 2 14 4 9 6 6 5 53 3 5 3 6 2 5 2 15 1 6 2 5 2 6 1 25 3 5 3 5 3 6 2 999999"/><use href="#S168x172" stroke="#0ef" stroke-dasharray="0 125 4 9 5 8 4 43 4 8 4 10 4 319 1 23 3 29 1 213 2 5 1 5 2 8 4 8 5 9 3 30 4 9 5 8 5 7 3 4 1 239 2 21 2 11 3 62 1 257 3 7 5 9 4 11 1 18 4 9 4 9 5 7 3 14 1 225 1 5 1 8 3 7 5 9 4 10 2 67 1 5 1 225 1 5 2 12 4 8 4 11 1 19 4 8 5 8 5 8 5 11 2 237 1 5 1 6 5 8 5 8 5 9 3 46 1 7 1 249 2 13 3 10 2 10 1 21 4 8 5 7 5 12 2 25 1 5 1 6 1 164 1 6 1 5 2 5 1 25 2 12 5 7 5 8 5 18 2 23 4 39 1 5 2 5 1 5 2 5 1 138 1 6 1 5 2 5 1 5 2 5 1 5 1 26 2 59 4 8 5 10 3 10 2 13 2 5 2 4 2 4 2 5 2 5 1 6 1 6 1 117 1 6 2 5 2 4 2 5 2 4 2 4 2 5 2 13 2 10 3 10 4 9 4 11 1 20 3 10 1 14 1 10 2 8 1 4 2 5 2 4 2 4 2 5 2 4 2 5 2 5 2 7 1 101 2 6 2 5 2 5 2 4 3 4 2 4 2 4 2 4 3 3 3 7 2 4 2 10 3 46 2 25 3 9 3 13 3 3 3 4 2 4 2 4 2 4 3 4 2 4 3 5 2 6 1 7 1 87 1 7 2 5 3 4 3 4 3 3 3 4 2 4 2 4 2 4 2 4 2 4 2 8 2 10 3 12 1 11 3 19 2 25 3 10 3 7 2 4 2 4 2 4 2 4 2 4 2 4 3 3 3 4 2 5 3 5 2 6 2 79 1 7 2 6 3 5 2 5 2 4 3 4 2 4 2 4 2 3 3 4 2 4 2 3 3 8 2 5 2 3 2 6 2 58 3 11 3 8 3 3 3 3 3 3 3 3 3 3 3 3 2 4 2 4 2 4 3 4 3 5 3 5 3 7 1 62 1 8 2 6 3 6 2 5 3 4 3 4 2 4 2 4 2 3 3 3 3 3 3 3 3 3 3 3 3 8 3 10 4 57 4 10 3 8 3 4 2 4 2 4 2 3 3 3 3 3 2 4 2 3 3 4 3 4 3 4 3 6 2 7 2 7 2 53 2 7 3 6 3 5 3 5 3 4 2 4 3 3 3 3 2 3 3 3 2 4 2 4 2 4 2 3 3 9 3 10 3 18 1 22 1 17 3 11 2 2 3 4 3 3 3 9 2 4 2 3 3 3 2 3 3 3 3 3 3 4 3 4 4 5 3 6 3 7 2 8 1 35 2 7 3 7 3 5 4 5 3 4 3 4 3 4 2 3 3 3 2 3 3 3 2 4 2 15 3 4 3 3 1 6 1 4 3 51 2 6 3 3 3 9 4 4 2 7 2 6 3 3 2 3 3 3 2 3 2 4 2 4 2 4 3 5 3 5 3 6 3 7 3 7 2 8 1 16 2 8 2 8 3 6 3 6 3 5 4 4 3 4 3 3 3 3 2 3 2 3 3 3 2 3 2 7 2 4 1 2 2 4 3 10 3 3 2 6 3 18 1 5 1 18 3 11 4 9 3 8 2 3 3 6 2 3 3 2 3 3 2 3 2 3 3 3 3 4 3 4 3 5 4 5 4 6 3 7 3 8 2 15 3 7 3 7 3 7 3 6 3 5 4 4 3 4 2 4 2 3 2 3 2 3 2 3 3 3 2 6 2 4 2 7 4 4 2 3 4 11 3 17 2 5 2 17 4 11 3 2 3 5 3 2 1 4 3 3 2 2 1 3 3 3 2 3 2 3 2 3 2 3 2 3 3 4 3 4 3 5 4 5 4 6 4 7 3 7 3 16 2 8 3 6 4 6 4 6 3 5 4 4 3 3 3 3 2 3 3 2 2 3 2 3 2 3 3 3 2 6 3 3 2 2 3 4 4 3 2 11 4 17 2 5 2 17 4 16 4 5 1 3 2 4 2 6 3 3 2 3 2 3 2 3 2 2 3 2 3 3 2 4 3 4 3 5 4 6 3 7 3 7 3 7 3 17 3 7 3 7 4 6 4 5 4 5 3 5 3 3 3 2 3 2 3 2 2 3 2 3 2 3 2 3 2 6 3 3 3 8 5 15 5 16 3 5 3 17 4 3 2 11 4 8 3 4 1 2 2 3 2 3 2 3 2 3 2 3 2 2 3 2 3 2 3 3 3 4 3 5 4 6 4 6 4 6 4 7 3 17 3 7 4 7 4 6 4 5 4 5 4 4 2 4 2 2 3 2 3 3 1 3 1 4 2 3 2 3 2 2 3 6 3 4 2 3 4 11 3 2 4 17 3 5 3 8 3 6 4 2 4 4 1 6 3 2 3 4 3 6 3 2 2 3 2 1 1 3 1 3 1 3 1 3 1 4 3 2 2 3 3 4 3 5 4 6 4 6 4 7 4 6 4 17 4 7 4 6 4 7 4 5 5 4 4 4 2 3 2 2 1 2 1 3 1 3 1 11 1 6 2 2 2 3 3 1 2 4 4 2 3 5 3 3 4 3 3 6 3 8 3 5 3 8 3 7 2 3 4 2 4 6 1 4 3 8 2 3 2 2 2 2 1 4 1 3 1 3 1 6 1 3 1 3 1 1 2 3 2 4 3 5 4 6 4 6 5 6 4 7 4 17 4 7 4 7 4 6 5 6 4 5 3 3 2 6 1 3 1 3 1 2 1 3 1 7 1 3 1 7 2 3 2 7 4 10 5 2 3 12 4 7 4 5 4 7 4 12 2 3 5 11 3 3 1 3 2 3 2 2 2 3 1 4 1 3 1 6 1 6 1 3 1 3 1 2 2 3 3 4 5 5 5 6 5 6 5 6 4 19 4 6 5 6 5 7 4 6 4 5 2 3 2 2 1 3 1 3 1 6 1 2 1 3 1 7 1 4 2 3 1 3 2 2 3 2 3 5 1 4 5 18 4 7 4 5 4 7 5 17 5 3 3 5 2 2 3 2 2 14 1 3 1 3 1 2 1 9 1 11 1 3 2 4 4 6 5 6 5 7 4 7 4 19 4 7 5 6 5 7 5 5 5 3 2 3 1 4 1 6 1 2 1 9 1 18 2 2 2 2 2 10 4 2 4 18 5 7 4 6 3 7 5 18 4 2 5 9 2 2 2 1 3 1 3 2 2 3 1 3 1 6 1 2 1 2 1 2 1 2 1 3 1 3 1 4 2 3 4 6 5 6 5 7 5 6 5 6 1 5 1 6 5 6 5 7 5 7 5 6 3 3 2 4 1 3 1 3 1 2 1 2 1 2 1 2 1 2 1 6 1 4 2 3 1 3 1 3 1 2 2 3 2 3 5 3 3 19 4 7 4 7 4 7 5 18 2 4 5 2 4 2 2 24 1 8 1 2 1 2 1 2 1 7 1 4 2 3 2 6 5 7 6 6 5 7 5 6 1 5 1 7 4 7 5 7 5 7 6 5 2 4 2 4 1 3 1 2 1 2 1 2 1 7 1 6 1 3 1 7 1 2 2 5 2 2 4 2 4 13 2 5 1 4 5 7 4 7 4 7 5 3 3 3 3 14 3 3 3 2 5 1 3 1 3 1 2 4 1 3 1 2 1 2 1 2 1 4 1 2 1 2 1 2 1 3 1 4 1 5 2 4 6 7 6 7 5 7 4 7 1 5 1 7 5 6 6 7 5 8 6 3 2 6 1 7 1 2 1 2 1 4 1 2 1 4 1 6 1 4 2 3 1 3 1 2 3 1 1 2 3 4 1 14 4 3 3 3 5 6 5 7 5 6 5 3 3 3 4 19 3 2 1 2 1 21 1 2 1 2 1 4 1 4 1 8 1 4 1 5 3 3 5 8 6 7 5 7 5 6 2 5 2 6 5 7 5 8 6 8 4 3 1 1 2 5 1 3 1 8 1 4 1 1 1 4 1 2 1 3 1 3 1 3 1 2 2 2 2 6 1 1 3 11 2 5 5 3 2 4 4 7 5 8 4 7 4 9 5 4 3 7 1 3 3 4 3 1 2 2 2 1 2 4 1 3 1 8 1 1 1 6 1 4 1 2 1 3 1 5 2 2 1 3 3 9 6 7 6 7 5 6 2 5 2 6 5 7 6 8 6 9 2 7 2 4 1 3 1 2 1 4 1 10 1 2 1 2 1 3 1 12 1 3 2 1 2 2 2 2 3 5 4 3 6 8 5 7 4 9 5 6 5 8 6 3 5 3 4 2 2 1 3 2 1 12 1 4 1 3 1 2 1 6 1 1 1 1 1 1 1 1 1 8 1 5 1 8 2 8 7 8 5 7 5 7 2 5 2 7 5 7 6 8 7 7 2 9 1 4 1 3 1 4 1 1 1 1 1 1 1 1 1 1 1 1 1 8 1 4 1 5 2 2 2 6 2 1 2 2 4 2 6 3 6 8 4 7 5 9 5 7 5 8 6 2 6 3 3 3 1 6 2 1 2 2 2 7 1 3 1 5 1 9 1 1 1 1 1 1 1 2 1 2 1 4 1 8 1 1 2 6 8 8 6 7 5 7 2 5 2 7 5 7 6 9 8 5 2 1 2 8 1 9 1 3 1 1 1 4 1 1 1 1 1 2 1 2 1 3 1 5 1 9 3 1 2 6 3 3 6 2 6 8 5 7 5 9 5 7 5 8 6 3 5 4 2 6 2 2 1 11 2 4 1 3 1 2 1 7 1 4 1 5 1 2 1 3 1 7 4 1 2 4 9 8 6 8 5 6 3 5 3 6 6 7 6 9 9 3 2 3 3 6 2 11 1 2 1 4 1 1 1 1 1 2 1 8 1 8 2 2 1 3 2 1 2 3 2 5 3 4 5 8 6 7 5 9 5 7 6 8 6 11 2 2 3 5 3 1 2 9 2 4 1 2 1 4 1 5 1 2 1 2 1 1 1 2 1 3 1 6 2 5 2 3 9 9 6 7 6 6 3 5 3 6 6 7 7 9 8 3 1 7 3 5 1 3 1 3 1 2 1 3 1 2 1 5 1 2 1 4 1 7 3 5 2 1 2 3 2 2 2 10 6 9 5 7 6 9 6 7 5 9 7 9 2 7 2 10 3 7 1 3 1 2 1 3 1 2 1 4 1 9 1 5 2 9 1 3 7 10 7 7 6 6 3 5 3 7 5 8 6 11 6 3 1 10 2 5 1 2 1 1 1 2 1 11 1 5 2 6 2 13 2 1 2 4 2 8 8 8 6 7 5 11 5 7 6 9 8 7 2 4 2 6 1 11 2 6 1 3 1 3 1 8 1 6 1 4 2 16 6 11 6 8 5 7 3 5 3 7 5 8 7 11 5 18 1 4 1 17 1 2 1 5 2 16 3 2 2 4 2 6 9 9 6 7 5 11 5 7 6 9 10 5 2 8 2 19 2 28 1 19 4 12 7 8 5 7 3 5 3 7 6 7 7 13 3 21 1 19 1 4 1 17 2 5 3 5 2 3 11 10 6 7 5 11 5 7 6 10 11 3 2 5 3 2 8 16 2 43 2 14 7 7 6 7 3 5 3 7 6 7 8 13 2 41 1 14 20 4 1 3 11 9 7 7 5 11 5 7 7 9 11 3 1 4 26 35 1 2 1 3 1 2 3 2 2 13 8 7 6 7 3 5 3 7 6 7 8 13 2 2 5 38 21 14 1 3 11 9 6 8 5 11 5 8 6 9 11 3 1 28 12 19 2 2 1 2 2 2 1 2 5 2 2 13 7 8 6 7 3 5 3 7 6 8 7 13 2 2 3 2 1 3 1 2 1 3 1 2 1 58 1 3 10 10 6 8 5 11 5 8 6 10 10 3 1 58 1 2 1 3 1 2 1 3 1 2 3 2 2 13 7 8 6 7 3 5 3 7 6 8 7 13 2 2 5 2 1 2 2 2 1 2 2 19 12 28 1 3 11 9 6 8 5 11 5 8 6 9 11 3 1 14 21 38 5 2 2 13 8 7 6 7 3 5 3 7 6 7 8 13 2 2 3 2 1 3 1 2 1 35 26 4 1 3 11 9 7 7 5 11 5 7 7 9 11 3 1 4 20 14 1 41 2 13 8 7 6 7 3 5 3 7 6 7 7 14 2 43 2 16 8 2 3 5 2 3 11 10 6 7 5 11 5 7 6 10 11 3 2 5 3 5 2 17 1 4 1 19 1 21 3 13 7 7 6 7 3 5 3 7 5 8 7 12 4 19 1 28 2 19 2 8 2 5 10 9 6 7 5 11 5 7 6 9 9 6 2 4 2 2 3 16 2 5 1 2 1 17 1 4 1 18 5 11 7 8 5 7 3 5 3 7 5 8 6 11 6 16 2 4 1 6 1 8 1 3 1 3 1 6 2 11 1 6 2 4 2 7 8 9 6 7 5 11 5 7 6 8 8 8 2 4 2 1 2 13 2 6 2 5 1 11 1 2 1 1 1 2 1 5 2 10 1 3 6 11 6 8 5 7 3 5 3 6 6 7 7 10 7 3 1 9 2 5 1 9 1 4 1 2 1 3 1 2 1 3 1 7 3 10 2 7 2 9 7 9 5 7 6 9 6 7 5 9 6 10 2 2 2 3 2 1 2 5 3 7 1 4 1 2 1 5 1 2 1 3 1 2 1 3 1 3 1 5 3 7 1 3 8 9 7 7 6 6 3 5 3 6 6 7 6 9 9 3 2 5 2 6 1 3 1 2 1 1 1 2 1 2 1 5 1 4 1 2 1 4 2 9 2 1 3 5 3 2 2 11 6 8 6 7 5 9 5 7 6 8 5 4 3 5 2 3 2 1 2 3 1 2 2 8 1 8 1 2 1 1 1 1 1 4 1 2 1 11 2 6 3 3 2 3 9 9 6 7 6 6 3 5 3 6 5 8 6 8 9 4 2 1 4 7 1 3 1 2 1 5 1 4 1 7 1 2 1 3 1 4 2 11 1 2 2 6 2 4 5 3 6 8 5 7 5 9 5 7 5 8 6 2 6 3 3 6 2 1 3 9 1 5 1 3 1 2 1 2 1 1 1 1 1 4 1 1 1 3 1 9 1 8 2 1 2 5 8 9 6 7 5 7 2 5 2 7 5 7 6 8 8 6 2 1 1 8 1 4 1 2 1 2 1 1 1 1 1 1 1 9 1 5 1 3 1 7 2 2 2 1 2 6 1 3 3 3 6 2 6 8 5 7 5 9 5 7 4 8 6 3 6 2 4 2 2 1 2 6 2 2 2 5 1 4 1 8 1 1 1 1 1 1 1 1 1 1 1 1 1 4 1 3 1 4 1 9 2 7 7 8 6 7 5 7 2 5 2 7 5 7 5 8 7 8 2 8 1 5 1 8 1 1 1 1 1 1 1 1 1 6 1 2 1 3 1 4 1 12 1 2 3 1 2 2 4 3 5 3 6 8 5 6 5 9 4 7 5 8 6 3 4 5 3 2 2 2 2 1 2 3 1 12 1 3 1 2 1 2 1 10 1 4 1 2 1 3 1 4 2 7 2 9 6 8 6 7 5 6 2 5 2 6 5 7 6 7 6 9 3 3 1 2 2 5 1 3 1 2 1 4 1 6 1 1 1 8 1 3 1 4 2 1 2 2 2 1 3 4 3 3 1 7 3 4 5 9 4 7 4 8 5 7 4 4 2 3 5 5 2 11 3 1 1 6 2 2 2 2 1 3 1 3 1 3 1 2 1 4 1 1 1 4 1 8 1 3 1 5 2 1 1 3 4 8 6 8 5 7 5 6 2 5 2 6 5 7 5 7 6 8 5 3 3 5 1 4 1 8 1 4 1 4 1 2 1 2 1 21 1 2 1 2 3 19 4 3 3 3 5 6 5 7 5 6 5 3 3 3 4 14 1 4 3 2 1 1 3 2 1 3 1 3 2 4 1 6 1 4 1 2 1 4 1 2 1 2 1 7 1 6 2 3 6 8 5 7 6 6 5 7 1 5 1 7 4 7 5 7 6 7 6 4 2 5 1 4 1 3 1 2 1 2 1 2 1 4 1 2 1 2 1 2 1 3 1 4 2 1 3 1 3 1 5 2 3 3 3 14 3 3 3 3 5 7 4 7 4 7 5 4 1 5 2 13 4 2 4 2 2 5 2 2 1 7 1 3 1 6 1 7 1 2 1 2 1 2 1 3 1 4 2 4 2 5 6 7 5 7 5 7 4 7 1 5 1 6 5 7 5 6 6 7 5 6 2 3 2 4 1 7 1 2 1 2 1 2 1 8 1 24 2 2 4 2 5 4 2 18 5 7 4 7 4 7 4 19 3 3 5 3 2 3 2 2 1 3 1 3 1 3 2 4 1 6 1 2 1 2 1 2 1 2 1 2 1 3 1 3 1 4 2 3 3 6 5 7 5 7 5 6 5 6 1 5 1 6 5 6 5 7 5 6 5 6 4 3 2 4 1 3 1 3 1 2 1 2 1 2 1 2 1 6 1 3 1 3 2 2 3 1 3 1 2 2 2 9 5 2 4 18 5 7 3 6 4 7 5 18 4 2 4 10 2 2 2 2 2 18 1 9 1 2 1 6 1 4 1 3 2 3 5 5 5 7 5 6 5 7 4 19 4 7 4 7 5 6 5 6 4 4 2 3 1 11 1 9 1 2 1 3 1 3 1 14 2 2 3 2 2 5 3 3 5 17 5 7 4 5 4 7 4 18 5 4 1 5 3 2 3 2 2 3 1 3 2 4 1 7 1 3 1 2 1 6 1 3 1 3 1 2 2 3 2 5 4 6 4 7 5 6 5 6 4 19 4 6 5 6 5 6 5 5 5 4 3 3 2 2 1 3 1 3 1 6 1 6 1 3 1 4 1 3 2 2 2 3 2 3 1 3 3 11 5 3 2 12 4 7 4 5 4 7 4 12 3 2 5 10 4 7 2 3 2 7 1 3 1 7 1 3 1 2 1 3 1 3 1 6 2 3 3 5 4 6 5 6 4 7 4 7 4 17 4 7 4 6 5 6 4 6 4 5 3 4 2 3 2 1 1 3 1 3 1 6 1 3 1 3 1 4 1 2 2 2 2 3 2 8 3 4 1 6 4 2 4 3 2 7 3 8 3 5 3 8 3 6 3 3 4 3 3 5 3 2 4 4 2 1 3 3 2 2 2 6 1 11 1 3 1 3 1 2 1 2 2 3 2 4 4 4 5 5 4 7 4 6 4 7 4 17 4 6 4 7 4 6 4 6 4 5 3 4 3 3 2 2 3 4 1 3 1 3 1 3 1 3 1 1 2 3 2 2 3 6 3 4 3 2 3 6 1 4 4 2 4 6 3 8 3 5 3 17 4 2 3 11 4 3 2 4 3 6 3 2 2 3 2 3 2 4 1 3 1 3 3 2 3 2 2 4 2 4 4 5 4 5 4 6 4 7 4 7 3 17 3 7 4 6 4 6 4 6 4 5 3 4 3 3 3 2 3 2 3 2 2 3 2 3 2 3 2 3 2 3 2 2 1 4 3 8 4 11 2 3 4 17 3 5 3 16 5 15 5 8 3 3 3 6 2 3 2 3 2 3 2 3 2 2 3 2 3 2 3 3 3 5 3 5 4 5 4 6 4 7 3 7 3 17 3 7 3 7 3 7 3 6 4 5 3 4 3 4 2 3 3 2 3 2 2 3 2 3 2 3 2 3 3 6 2 4 2 3 1 5 4 16 4 17 2 5 2 17 4 11 2 3 4 4 3 2 2 3 3 6 2 3 3 3 2 3 2 3 2 2 3 3 2 3 3 3 3 4 4 5 3 6 4 6 4 6 3 8 2 16 3 7 3 7 4 6 4 5 4 5 3 4 3 4 3 3 2 3 2 3 2 3 2 3 2 3 3 3 1 2 2 3 3 4 1 2 3 5 3 2 3 11 4 17 2 5 2 17 3 11 4 3 2 4 4 7 2 4 2 6 2 3 3 3 2 3 2 3 2 3 2 4 2 4 3 4 4 5 3 6 3 7 3 7 3 7 3 15 2 8 3 7 3 6 4 5 4 5 3 4 3 4 3 3 3 3 2 3 2 3 3 2 3 3 2 6 3 3 2 8 3 9 4 11 3 18 1 5 1 18 3 6 2 3 3 10 3 4 2 2 1 4 2 7 2 3 2 3 3 3 2 3 2 3 3 3 3 4 3 4 4 5 3 6 3 6 3 8 2 8 2 16 1 8 2 7 3 7 3 6 3 5 3 5 3 4 2 4 2 4 2 3 2 3 3 3 2 3 3 6 2 7 2 4 4 9 3 3 3 6 2 51 3 4 1 6 1 3 3 4 3 15 2 4 2 3 3 3 2 3 3 3 2 4 3 4 3 4 3 5 4 5 3 7 3 7 2 35 1 8 2 7 3 6 3 5 4 4 3 4 3 3 3 3 3 3 2 3 3 3 2 4 2 9 3 3 3 4 3 2 2 11 3 17 1 22 2 17 3 10 3 9 3 3 2 4 2 4 2 4 2 3 3 3 2 3 3 3 3 4 2 4 3 5 3 5 3 6 3 7 2 53 2 7 2 7 2 6 3 4 3 4 3 4 3 3 2 4 2 3 3 3 3 3 2 4 2 4 2 4 3 8 3 10 4 17 1 39 4 10 3 8 3 3 3 3 3 3 3 3 3 3 3 3 2 4 2 4 2 4 3 4 3 5 2 6 3 6 2 8 1 62 1 7 3 5 3 5 3 4 3 4 2 4 2 4 2 3 3 3 3 3 3 3 3 3 3 3 3 8 3 11 3 58 2 6 2 3 2 5 2 8 3 3 2 4 2 4 3 3 2 4 2 4 2 4 3 4 2 5 2 5 3 6 2 7 1 79 2 6 2 5 3 5 2 4 3 3 3 4 2 4 2 4 2 4 2 4 2 4 2 7 3 10 3 47 1 12 1 12 3 10 2 8 2 4 2 4 2 4 2 4 2 4 2 4 3 3 3 4 3 4 3 5 2 7 1 87 1 7 1 6 2 5 3 4 2 4 3 4 2 4 2 4 2 4 3 3 3 13 3 9 3 12 1 60 3 10 2 4 2 7 3 3 3 4 2 4 2 4 2 4 3 4 2 5 2 5 2 6 2 101 1 7 2 5 2 5 2 4 2 5 2 4 2 4 2 5 2 4 1 8 2 10 1 26 2 32 4 9 4 10 3 10 2 13 2 5 2 4 2 4 2 5 2 4 2 5 2 6 1 117 1 6 1 6 1 5 2 5 2 4 2 4 2 5 2 13 2 10 3 10 4 9 4 59 2 26 1 5 1 5 2 5 1 5 2 5 1 6 1 138 1 5 2 5 1 5 2 5 1 40 2 24 3 17 4 9 5 7 5 12 1 26 1 5 2 5 1 6 1 157 1 6 1 6 1 5 1 25 2 12 5 7 5 9 4 18 1 14 1 9 3 13 2 283 1 20 3 10 4 8 5 8 5 250 1 12 5 8 5 8 5 8 4 6 2 10 3 9 4 9 4 13 1 237 1 68 3 7 5 9 4 10 3 6 1 5 1 225 1 5 1 6 4 9 5 8 5 7 4 19 3 8 5 9 4 9 3 12 2 5 1 206 1 6 1 5 1 92 3 38 1 6 1 222 2 7 5 8 5 8 4 31 3 9 5 8 5 7 3 238 1 5 2 22 1 12 2 68 1 6 1 5 2 206 1 6 1 5 2 5 1 10 2 9 5 8 3 44 5 7 5 9 3 9 1 5 1 6 1 6 2 6 1 215 3 11 3 8 3 999999"/><use href="#S168x172" stroke="#08f" stroke-dasharray="0 126 2 12 2 83 2 614 2 24 1 33 1 12 1 11 2 626 3 11 1 46 2 11 3 9 1 629 1 58 3 10 3 265 3 10 3 393 1 11 3 9 3 279 3 10 2 11 1 382 1 244 1 72 1 89 1 5 1 6 1 5 1 5 1 152 1 6 1 5 1 5 2 4 2 5 1 5 1 102 2 11 2 14 2 4 2 4 2 4 2 5 1 5 1 5 2 5 1 133 1 6 1 5 1 5 2 4 2 4 2 4 2 4 2 4 1 9 2 11 2 74 1 11 2 8 2 4 2 4 2 4 2 4 2 4 2 4 2 5 1 5 2 6 1 119 2 5 2 5 2 4 2 4 2 4 2 4 2 4 2 4 2 4 2 89 1 13 1 10 1 4 3 3 2 4 2 4 2 4 2 4 2 4 2 4 2 5 2 5 2 6 1 105 2 6 2 5 2 4 2 4 2 4 2 4 2 3 2 5 1 4 2 4 2 4 2 10 2 11 2 59 2 11 3 9 2 4 2 4 2 4 2 4 2 3 2 4 2 4 2 4 2 4 2 5 2 6 2 98 1 7 2 5 2 5 2 4 2 4 2 4 2 4 2 3 2 4 2 10 2 4 2 9 2 11 3 59 3 11 1 4 2 4 3 4 1 11 1 4 2 3 2 4 2 3 3 3 2 5 2 4 3 5 2 7 1 91 2 6 2 6 2 4 3 4 2 4 2 3 2 3 3 3 2 4 1 16 3 4 2 16 2 61 1 5 1 11 3 4 2 16 1 4 2 3 3 3 2 3 2 4 2 4 2 5 2 5 2 7 2 7 1 75 1 8 2 6 2 5 3 4 2 4 2 4 2 3 2 3 2 4 2 3 2 7 2 7 2 4 3 10 2 59 1 13 2 10 3 8 2 4 1 7 2 3 2 4 2 3 2 3 2 3 3 3 3 4 2 5 3 6 2 7 2 66 1 8 3 6 3 6 2 5 3 4 2 4 2 3 2 3 2 3 2 3 2 4 2 7 1 4 2 7 3 6 1 4 2 12 3 43 3 12 2 3 3 5 3 7 3 11 2 4 2 3 2 3 2 3 2 3 2 4 2 4 3 4 3 6 2 7 2 8 2 57 2 8 2 7 3 5 3 5 2 4 3 3 2 3 2 3 2 3 2 3 2 3 2 4 1 7 2 4 2 3 1 6 3 16 4 44 3 16 4 9 2 4 2 7 2 3 2 3 2 3 2 3 2 3 2 2 3 3 2 4 3 4 3 6 3 6 3 7 2 9 1 39 1 9 2 7 3 7 3 5 3 5 2 4 2 4 2 2 2 3 2 3 2 3 2 3 2 3 2 7 2 3 3 9 3 17 3 19 1 5 2 18 3 17 4 8 3 7 2 3 2 3 2 3 2 3 2 3 2 3 2 2 2 3 2 4 3 4 3 6 3 6 3 7 3 8 2 29 1 9 2 8 3 7 3 7 3 5 3 5 2 4 2 3 2 2 2 13 2 3 2 3 2 3 2 6 3 5 1 3 4 11 2 4 3 18 2 5 2 19 2 4 2 12 3 2 3 4 3 7 2 2 2 3 2 22 2 3 2 3 3 4 3 5 4 6 3 8 3 7 3 8 2 19 2 8 3 8 3 7 4 6 3 5 4 4 2 3 2 32 2 2 2 3 2 3 1 4 4 3 1 7 2 4 2 5 1 19 2 6 2 9 2 13 2 4 3 11 3 8 2 3 2 2 2 32 2 3 2 4 3 5 4 6 4 7 3 8 3 8 2 19 3 8 3 7 4 7 4 6 4 5 3 3 2 41 2 3 2 7 4 11 3 4 2 13 2 9 2 7 2 9 3 18 4 11 3 7 2 3 1 3 2 37 2 3 3 5 3 7 4 7 3 8 3 8 3 19 3 8 3 8 4 7 4 6 4 5 2 3 2 37 1 4 1 3 2 3 2 2 2 12 4 18 3 9 2 7 2 9 3 18 5 3 2 10 3 2 2 51 2 4 4 6 5 7 4 7 4 7 4 20 3 7 4 8 4 7 4 7 4 3 2 47 2 2 2 2 2 10 3 3 4 18 4 9 2 7 2 9 4 18 4 3 4 9 2 2 2 1 3 1 3 43 2 3 3 7 4 8 4 8 3 8 3 21 3 8 4 7 5 7 5 6 3 3 2 44 1 3 1 6 2 8 5 4 2 19 4 9 1 9 2 8 4 20 1 5 4 3 2 3 2 56 1 3 2 6 5 8 4 8 4 7 4 13 1 7 4 7 4 8 5 8 5 5 2 50 1 2 2 5 2 3 2 3 4 26 4 8 2 9 2 8 4 11 2 14 3 3 2 3 2 1 2 1 3 1 2 3 1 46 2 5 5 8 4 8 4 8 4 7 1 5 1 7 4 8 4 8 5 8 6 3 2 54 1 3 2 1 1 3 1 20 3 10 4 8 3 9 3 8 4 9 4 20 1 65 2 3 5 8 6 8 4 8 4 7 1 5 1 8 4 7 5 8 5 9 4 3 1 51 2 2 1 7 1 2 1 19 5 9 4 8 3 9 4 7 4 9 5 5 2 12 1 6 2 1 2 2 1 3 1 48 1 3 3 9 6 8 5 7 4 8 1 5 2 7 4 8 5 8 6 9 2 63 2 1 2 2 1 3 3 5 4 4 5 9 3 8 4 9 4 8 3 10 5 3 5 4 3 3 1 1 3 66 2 9 6 8 5 8 4 7 2 5 2 7 4 8 5 9 6 8 2 55 2 2 1 7 2 1 1 3 3 4 5 3 5 9 4 8 4 9 4 8 4 9 5 3 6 3 3 3 1 6 2 1 2 59 2 7 6 9 6 7 5 7 2 5 2 7 5 8 5 9 7 6 2 62 3 1 2 6 2 4 5 4 4 10 4 7 5 10 4 8 4 9 4 5 3 5 2 6 2 66 2 5 7 10 5 8 5 7 2 5 2 8 4 8 6 9 9 3 2 59 1 6 2 2 1 3 2 12 5 9 4 8 4 11 4 8 4 10 4 12 2 2 2 7 1 62 2 3 8 10 6 8 4 8 2 5 3 7 5 8 5 11 7 3 1 63 1 2 2 3 2 2 2 11 5 9 5 8 4 11 4 8 5 10 5 10 2 7 2 66 1 3 7 11 5 8 5 7 3 5 3 7 5 8 6 11 6 3 1 69 2 4 2 9 6 10 5 8 4 11 4 8 5 10 7 8 2 4 2 73 5 12 6 8 5 7 3 5 3 7 5 8 6 13 4 69 1 4 1 4 2 7 7 10 5 8 5 11 5 8 5 10 8 6 2 9 1 69 3 13 7 8 5 7 3 5 3 7 5 9 6 14 2 72 1 6 2 5 9 10 5 8 5 11 5 8 5 10 10 4 2 6 1 72 2 14 6 9 5 7 3 5 3 7 5 9 6 14 2 80 1 3 10 11 5 8 5 11 5 8 5 11 10 3 1 80 2 14 6 9 5 7 3 5 3 7 5 9 6 14 2 80 1 3 10 11 5 8 5 11 5 8 5 11 10 3 1 63 1 16 2 14 6 9 5 7 3 5 3 7 5 9 6 14 2 80 1 3 10 11 5 8 5 11 5 8 5 11 10 3 1 80 2 14 6 9 5 7 3 5 3 7 5 9 6 14 2 16 1 63 1 3 10 11 5 8 5 11 5 8 5 11 10 3 1 80 2 14 6 9 5 7 3 5 3 7 5 9 6 14 2 80 1 3 10 11 5 8 5 11 5 8 5 11 10 3 1 80 2 14 6 9 5 7 3 5 3 7 5 9 6 14 2 72 1 6 2 4 10 10 5 8 5 11 5 8 5 10 9 5 2 6 1 72 2 14 6 9 5 7 3 5 3 7 5 8 7 13 3 69 1 9 2 6 8 10 5 8 5 11 5 8 5 10 7 7 2 4 1 4 1 69 4 13 6 8 5 7 3 5 3 7 5 8 6 12 5 73 2 4 2 8 7 10 5 8 4 11 4 8 5 10 6 9 2 4 2 69 1 3 6 11 6 8 5 7 3 5 3 7 5 8 5 11 7 3 1 66 2 7 2 10 5 10 5 8 4 11 4 8 5 9 5 11 2 2 2 3 2 2 1 63 1 3 7 11 5 8 5 7 3 5 2 8 4 8 6 10 8 3 2 62 1 7 2 2 2 12 4 10 4 8 4 11 4 8 4 9 5 12 2 3 1 2 2 6 1 59 2 3 9 9 6 8 4 8 2 5 2 7 5 8 5 10 7 5 2 66 2 6 2 5 3 5 4 9 4 8 4 10 5 7 4 10 4 4 5 4 2 6 2 1 3 62 2 6 7 9 5 8 5 7 2 5 2 7 5 7 6 9 6 7 2 59 2 1 2 6 1 3 3 3 6 3 5 9 4 8 4 9 4 8 4 9 5 3 5 4 3 3 1 1 2 7 1 2 2 55 2 8 6 9 5 8 4 7 2 5 2 7 4 8 5 8 6 9 2 66 3 1 1 3 3 4 5 3 5 10 3 8 4 9 4 8 3 9 5 4 4 5 3 3 1 2 2 1 2 63 2 9 6 8 5 8 4 7 2 5 1 8 4 7 5 8 6 9 3 3 1 48 1 3 1 2 2 1 2 6 1 12 2 5 5 9 4 7 4 9 3 8 4 9 5 19 1 2 1 7 1 2 2 51 1 3 4 9 5 8 5 7 4 8 1 5 1 7 4 8 4 8 6 8 5 3 2 65 1 20 4 9 4 8 3 9 3 8 4 10 3 20 1 3 1 1 2 3 1 54 2 3 6 8 5 8 4 8 4 7 1 5 1 7 4 8 4 8 4 8 5 5 2 46 1 3 2 1 3 1 2 1 2 3 2 3 3 14 2 11 4 8 2 9 2 8 4 26 4 3 2 3 2 5 2 2 1 50 2 5 5 8 5 8 4 7 4 7 1 13 4 7 4 8 4 8 5 6 2 3 1 56 2 3 2 3 4 5 1 20 4 8 2 9 1 9 4 19 2 4 5 8 2 6 1 3 1 44 2 3 3 6 5 7 5 7 4 8 3 21 3 8 3 8 4 8 4 7 3 3 2 43 3 1 3 1 2 2 2 9 4 3 4 18 4 9 2 7 2 9 4 18 4 3 3 10 2 2 2 2 2 47 2 3 4 7 4 7 4 8 4 7 3 20 4 7 4 7 4 7 5 6 4 4 2 51 2 2 3 10 2 3 5 18 3 9 2 7 2 9 3 18 4 12 2 2 2 3 2 3 1 4 1 37 2 3 2 5 4 6 4 7 4 8 3 8 3 19 3 8 3 8 3 7 4 7 3 5 3 3 2 37 2 3 1 3 2 7 3 11 4 18 3 9 2 7 2 9 2 13 2 4 3 11 4 7 2 3 2 41 2 3 3 5 4 6 4 7 4 7 3 8 3 19 2 8 3 8 3 7 4 6 4 5 3 4 2 3 2 32 2 2 2 3 2 8 3 11 3 4 2 13 2 9 2 6 2 19 1 5 2 4 2 7 1 3 4 4 1 3 2 3 2 2 2 32 2 3 2 4 4 5 3 6 4 7 3 8 3 8 2 19 2 8 3 7 3 8 3 6 4 5 3 4 3 3 2 3 2 22 2 3 2 2 2 7 3 4 3 2 3 12 2 4 2 19 2 5 2 18 3 4 2 11 4 3 1 5 3 6 2 3 2 3 2 3 2 13 2 2 2 3 2 4 2 5 3 5 3 7 3 7 3 8 2 9 1 29 2 8 3 7 3 6 3 6 3 4 3 4 2 3 2 2 2 3 2 3 2 3 2 3 2 3 2 3 2 7 3 8 4 17 3 18 2 5 1 19 3 17 3 9 3 3 2 7 2 3 2 3 2 3 2 3 2 3 2 2 2 4 2 4 2 5 3 5 3 7 3 7 2 9 1 39 1 9 2 7 3 6 3 6 3 4 3 4 2 3 3 2 2 3 2 3 2 3 2 3 2 3 2 7 2 4 2 9 4 16 3 44 4 16 3 6 1 3 2 4 2 7 1 4 2 3 2 3 2 3 2 3 2 3 2 3 3 4 2 5 3 5 3 7 2 8 2 57 2 8 2 7 2 6 3 4 3 4 2 4 2 3 2 3 2 3 2 3 2 4 2 11 3 7 3 5 3 3 2 12 3 43 3 12 2 4 1 6 3 7 2 4 1 7 2 4 2 3 2 3 2 3 2 3 2 4 2 4 3 5 2 6 3 6 3 8 1 66 2 7 2 6 3 5 2 4 3 3 3 3 2 3 2 3 2 4 2 3 2 7 1 4 2 8 3 10 2 13 1 59 2 10 3 4 2 7 2 7 2 3 2 4 2 3 2 3 2 4 2 4 2 4 3 5 2 6 2 8 1 75 1 7 2 7 2 5 2 5 2 4 2 4 2 3 2 3 3 3 2 4 1 16 2 4 3 11 1 5 1 61 2 16 2 4 3 16 1 4 2 3 3 3 2 3 2 4 2 4 3 4 2 6 2 6 2 91 1 7 2 5 3 4 2 5 2 3 3 3 2 4 2 3 2 4 1 11 1 4 3 4 2 4 1 11 3 59 3 11 2 9 2 4 2 10 2 4 2 3 2 4 2 4 2 4 2 4 2 5 2 5 2 7 1 98 2 6 2 5 2 4 2 4 2 4 2 4 2 3 2 4 2 4 2 4 2 4 2 9 3 11 2 59 2 11 2 10 2 4 2 4 2 4 1 5 2 3 2 4 2 4 2 4 2 4 2 5 2 6 2 105 1 6 2 5 2 5 2 4 2 4 2 4 2 4 2 4 2 4 2 3 3 4 1 10 1 13 1 89 2 4 2 4 2 4 2 4 2 4 2 4 2 4 2 5 2 5 2 119 1 6 2 5 1 5 2 4 2 4 2 4 2 4 2 4 2 4 2 8 2 11 1 74 2 11 2 9 1 4 2 4 2 4 2 4 2 4 2 5 1 5 1 6 1 133 1 5 2 5 1 5 1 5 2 4 2 4 2 4 2 14 2 11 2 102 1 5 1 5 2 4 2 5 1 5 1 6 1 152 1 5 1 5 1 6 1 5 1 89 1 72 1 244 1 381 2 11 2 10 3 279 3 9 3 11 2 380 2 10 2 11 3 265 3 10 3 10 2 686 4 10 3 44 1 12 2 639 3 57 3 640 1 11 1 47 2 9 2 999999"/><use href="#S168x172" stroke="#00f" stroke-dasharray="0 4712 1 126 1 4 2 189 1 5 1 5 1 5 1 11 2 4 1 121 1 5 1 11 1 5 1 5 1 5 1 5 1 141 1 5 2 4 2 4 2 4 1 5 1 11 1 4 2 5 1 109 2 4 2 16 1 5 1 4 2 4 1 5 1 6 1 135 2 5 1 5 1 4 2 4 1 5 1 16 2 4 2 109 2 22 2 4 1 4 2 4 1 5 1 5 1 6 1 123 2 5 1 5 2 4 1 4 2 4 1 4 2 21 2 5 2 97 2 5 2 21 2 4 1 4 2 3 2 4 2 4 2 5 2 6 1 110 1 6 1 5 2 4 2 4 2 3 2 4 1 4 2 27 3 97 3 14 1 7 2 4 1 4 1 4 2 3 2 4 1 5 1 5 2 6 1 103 1 7 2 5 2 5 2 4 2 3 2 3 2 4 1 4 1 4 1 13 2 8 2 72 1 19 1 6 2 8 2 13 1 4 2 3 2 3 1 4 2 3 2 4 2 4 2 6 2 6 2 96 1 7 2 5 2 5 2 3 2 4 1 4 1 3 2 3 2 3 2 4 1 7 2 16 2 18 2 45 2 18 3 9 2 4 2 7 1 4 2 3 2 3 2 3 1 4 1 4 1 4 2 4 2 6 2 6 2 97 2 7 2 5 2 4 2 4 1 4 1 4 1 3 2 3 2 3 2 3 2 7 1 4 3 9 3 18 2 46 1 18 3 10 2 12 2 3 2 3 2 3 2 3 1 4 1 4 1 4 1 4 3 5 2 6 2 8 1 81 2 7 3 6 2 5 2 4 1 4 1 4 1 13 2 3 2 3 2 3 1 8 2 9 3 19 1 67 2 4 2 5 1 8 1 3 2 3 2 23 1 4 1 3 2 5 3 6 2 8 2 72 1 9 2 7 3 6 2 5 2 3 1 33 2 3 1 4 1 9 2 85 2 12 3 8 2 3 1 3 2 33 1 3 2 4 3 5 3 7 3 9 1 63 2 8 3 7 3 6 3 3 2 42 1 3 2 8 2 12 3 51 1 19 4 11 3 7 2 3 1 42 2 3 2 6 3 7 3 9 2 53 1 10 2 8 3 8 3 5 2 3 2 42 1 3 2 3 1 4 1 12 4 19 1 30 3 19 3 5 1 11 2 2 2 51 2 5 3 7 3 8 3 9 2 43 2 9 3 8 4 7 3 4 2 51 1 3 2 10 3 3 4 19 3 29 3 20 2 4 4 9 2 3 1 2 1 3 1 44 2 3 3 7 4 8 3 9 3 9 1 23 1 10 2 9 3 9 3 8 2 3 2 55 2 9 4 4 1 21 3 30 3 26 4 3 2 3 2 56 1 3 2 7 4 8 4 9 2 9 2 23 2 9 3 9 3 9 4 6 2 54 1 5 2 3 2 3 3 27 3 31 3 28 1 4 2 3 1 2 2 2 2 2 1 50 2 5 4 9 4 9 3 9 2 23 2 9 3 10 3 10 4 4 2 58 2 1 1 3 1 21 2 11 3 31 3 11 3 20 1 65 2 3 4 10 4 9 3 9 3 14 1 8 3 9 3 10 4 10 3 3 1 55 1 10 1 20 3 11 2 22 2 9 2 11 4 19 1 6 1 2 2 55 1 3 2 11 4 9 4 9 3 8 1 5 1 8 3 9 4 10 4 10 2 63 2 2 1 2 1 4 1 7 2 5 4 11 2 9 2 11 2 10 1 11 4 5 3 5 3 3 1 1 2 67 2 9 5 10 3 9 3 9 1 5 1 9 3 9 4 10 5 8 2 59 1 7 1 2 1 3 3 4 4 5 4 11 1 9 3 11 3 9 2 11 3 5 4 5 2 10 1 63 2 7 6 10 4 9 3 9 1 5 2 8 3 9 4 11 5 7 2 63 1 10 2 5 3 5 4 11 2 9 3 11 3 10 2 11 3 6 1 6 2 6 2 66 2 5 7 10 5 9 3 8 2 5 2 8 4 9 4 11 7 4 2 67 1 2 1 3 2 13 3 11 2 10 3 11 3 10 2 12 2 13 2 3 1 7 1 62 2 3 7 12 4 9 4 8 2 5 2 8 4 9 5 11 7 3 1 71 1 3 2 13 2 11 3 9 4 11 4 9 3 12 2 12 2 7 2 66 1 3 6 12 5 9 4 8 2 5 2 8 4 9 5 13 5 3 1 70 1 4 2 11 3 12 3 9 4 12 3 9 4 11 4 10 2 4 2 73 4 14 4 10 4 8 2 5 2 9 4 9 5 14 3 69 1 4 1 4 2 8 5 12 4 9 3 13 3 9 4 12 6 7 2 9 1 69 2 15 5 9 4 9 2 5 3 8 4 9 5 15 2 79 2 7 6 12 4 9 3 13 3 10 3 13 6 6 2 79 2 15 5 9 4 8 3 5 3 8 4 9 5 15 2 80 1 5 7 13 3 10 3 13 3 10 3 13 8 4 1 80 2 14 6 9 4 8 3 5 3 8 4 9 6 14 2 80 1 3 9 13 3 10 3 13 3 10 3 13 9 3 1 80 2 14 6 9 4 8 3 5 3 8 4 10 5 14 2 80 1 3 9 13 3 10 3 13 3 10 3 13 9 3 1 80 2 14 5 10 4 8 3 5 3 8 4 9 6 14 2 80 1 3 9 13 3 10 3 13 3 10 3 13 9 3 1 80 2 14 6 9 4 8 3 5 3 8 4 9 6 14 2 80 1 4 8 13 3 10 3 13 3 10 3 13 7 5 1 80 2 15 5 9 4 8 3 5 3 8 4 9 5 15 2 79 2 6 6 13 3 10 3 13 3 9 4 12 6 7 2 79 2 15 5 9 4 8 3 5 2 9 4 9 5 15 2 69 1 9 2 7 6 12 4 9 3 13 3 9 4 12 5 8 2 4 1 4 1 69 3 14 5 9 4 9 2 5 2 8 4 10 4 14 4 73 2 4 2 10 4 11 4 9 3 12 4 9 3 12 3 11 2 4 1 70 1 3 5 13 5 9 4 8 2 5 2 8 4 9 5 12 6 3 1 66 2 7 2 12 2 12 3 9 4 11 4 9 3 11 2 13 2 3 1 71 1 3 7 11 5 9 4 8 2 5 2 8 4 9 4 12 7 3 2 62 1 7 1 3 2 13 2 12 2 10 3 11 3 10 2 11 3 13 2 3 1 2 1 67 2 4 7 11 4 9 4 8 2 5 2 8 3 9 5 10 7 5 2 66 2 6 2 6 1 6 3 11 2 10 3 11 3 9 2 11 4 5 3 5 2 10 1 63 2 7 5 11 4 9 3 8 2 5 1 9 3 9 4 10 6 7 2 63 1 10 2 5 4 5 3 11 2 9 3 11 3 9 1 11 4 5 4 4 3 3 1 2 1 7 1 59 2 8 5 10 4 9 3 9 1 5 1 9 3 9 3 10 5 9 2 67 2 1 1 3 3 5 3 5 4 11 1 10 2 11 2 9 2 11 4 5 2 7 1 4 1 2 1 2 2 63 2 10 4 10 4 9 3 8 1 5 1 8 3 9 4 9 4 11 2 3 1 55 2 2 1 6 1 19 4 11 2 9 2 22 2 11 3 20 1 10 1 55 1 3 3 10 4 10 3 9 3 8 1 14 3 9 3 9 4 10 4 3 2 65 1 20 3 11 3 31 3 11 2 21 1 3 1 1 2 58 2 4 4 10 3 10 3 9 2 23 2 9 3 9 4 9 4 5 2 50 1 2 2 2 2 2 1 3 2 4 1 28 3 31 3 27 3 3 2 3 2 5 1 54 2 6 4 9 3 9 3 9 2 23 2 9 2 9 4 8 4 7 2 3 1 56 2 3 2 3 4 26 3 30 3 21 1 4 4 9 2 55 2 3 2 8 3 9 3 9 2 10 1 23 1 9 3 9 3 8 4 7 3 3 2 44 1 3 1 2 1 3 2 9 4 4 2 20 3 29 3 19 4 3 3 10 2 3 1 51 2 4 3 7 4 8 3 9 2 43 2 9 3 8 3 7 3 5 2 51 2 2 2 11 1 5 3 19 3 30 1 19 4 12 1 4 1 3 2 3 1 42 2 3 2 5 3 8 3 8 2 10 1 53 2 9 3 7 3 6 2 3 2 42 1 3 2 7 3 11 4 19 1 51 3 12 2 8 2 3 1 42 2 3 3 6 3 7 3 8 2 63 1 9 3 7 3 5 3 4 2 3 1 33 2 3 1 3 2 8 3 12 2 85 2 9 1 4 1 3 2 33 1 3 2 5 2 6 3 7 2 9 1 72 2 8 2 6 3 5 2 3 1 4 1 23 2 3 2 3 1 8 1 5 2 4 2 67 1 19 3 9 2 8 1 3 2 3 2 3 2 13 1 4 1 4 1 4 2 5 2 6 3 7 2 81 1 8 2 6 2 5 3 4 1 4 1 4 1 4 1 3 2 3 2 3 2 3 2 12 2 10 3 18 1 46 2 18 3 9 3 4 1 7 2 3 2 3 2 3 2 3 1 4 1 4 1 4 2 4 2 5 2 7 2 97 2 6 2 6 2 4 2 4 1 4 1 4 1 3 2 3 2 3 2 4 1 7 2 4 2 9 3 18 2 45 2 18 2 16 2 7 1 4 2 3 2 3 2 3 1 4 1 4 2 3 2 5 2 5 2 7 1 96 2 6 2 6 2 4 2 4 2 3 2 4 1 3 2 3 2 4 1 13 2 8 2 6 1 19 1 72 2 8 2 13 1 4 1 4 1 4 2 3 2 3 2 4 2 5 2 5 2 7 1 103 1 6 2 5 1 5 1 4 2 3 2 4 1 4 1 4 2 7 1 14 3 97 3 27 2 4 1 4 2 3 2 4 2 4 2 5 1 6 1 110 1 6 2 5 2 4 2 4 2 3 2 4 1 4 2 21 2 5 2 97 2 5 2 21 2 4 1 4 2 4 1 4 2 5 1 5 2 123 1 6 1 5 1 5 1 4 2 4 1 4 2 22 2 109 2 4 2 16 1 5 1 4 2 4 1 5 1 5 2 135 1 6 1 5 1 4 2 4 1 5 1 16 2 4 2 109 1 5 2 4 1 11 1 5 1 4 2 4 2 4 2 5 1 141 1 5 1 5 1 5 1 5 1 11 1 5 1 121 1 4 2 11 1 5 1 5 1 5 1 189 2 4 1 126 1 999999"/><use href="#S168x172" stroke="#008" stroke-dasharray="0 5071 1 121 1 231 1 115 2 4 2 195 1 10 1 28 2 109 2 28 1 10 1 5 1 149 1 5 1 5 1 4 1 28 1 104 2 5 1 23 1 4 1 4 1 5 1 4 1 145 1 5 1 4 1 5 1 4 1 4 1 29 2 98 2 28 1 4 1 4 1 4 2 4 1 5 1 133 1 5 2 4 1 5 1 4 1 4 1 4 1 4 1 13 1 9 2 100 1 9 1 13 1 4 1 4 1 4 1 4 1 4 2 4 1 6 1 128 1 5 1 5 1 4 1 4 1 4 1 4 1 4 1 12 2 16 2 85 2 10 2 4 2 7 1 4 2 3 1 4 1 4 1 4 1 4 1 4 2 5 1 6 1 115 1 6 2 5 1 4 1 4 1 4 1 4 1 4 1 3 2 3 2 13 1 10 3 86 2 10 2 13 1 3 2 3 1 4 1 4 1 4 1 4 1 4 1 5 1 6 1 109 1 7 2 5 2 4 1 4 1 4 1 14 1 3 2 3 2 3 1 8 2 10 2 88 1 11 1 8 1 3 2 3 1 24 1 4 1 4 1 6 1 7 2 102 1 7 2 5 1 4 1 33 1 4 1 14 2 99 3 8 2 3 1 38 1 4 1 4 2 7 2 104 2 6 2 4 1 43 1 3 1 9 2 12 2 73 2 12 2 9 1 3 1 43 1 4 1 7 2 8 1 87 2 8 2 6 1 4 1 47 1 22 3 73 3 17 2 3 1 52 1 5 2 9 1 89 2 9 2 4 1 52 1 3 2 11 1 5 2 21 1 31 1 21 2 5 2 10 2 6 1 49 1 3 3 8 2 80 1 10 3 8 2 3 1 56 2 9 3 27 2 31 2 27 3 9 2 56 1 3 2 7 3 10 2 70 1 11 2 7 2 61 1 3 2 4 2 28 2 32 1 35 1 3 1 2 1 3 1 3 1 50 2 6 3 10 2 71 3 10 3 5 2 58 1 6 1 35 1 47 1 21 1 65 2 3 4 11 2 11 1 49 1 11 3 11 3 3 1 66 1 20 3 59 3 20 1 6 1 2 2 55 1 3 2 11 3 11 2 37 1 11 2 11 3 11 2 63 2 2 1 2 1 12 1 7 3 60 3 5 3 6 2 3 1 2 1 67 2 10 3 12 2 10 2 25 2 11 2 11 4 9 2 74 2 6 3 5 3 61 3 6 3 5 2 10 1 63 2 8 4 12 2 11 1 10 1 5 1 10 2 10 3 12 4 7 2 63 1 10 2 6 2 6 2 38 1 25 1 14 2 6 2 66 2 6 5 12 3 10 2 10 1 5 1 10 2 10 3 13 5 5 2 74 2 40 1 13 2 39 2 3 1 70 2 4 5 13 3 11 2 10 1 5 1 10 2 11 3 13 6 3 1 75 2 39 2 13 2 39 1 8 2 66 1 3 5 14 3 11 2 9 2 5 2 9 3 10 3 15 4 3 1 76 1 27 1 11 2 13 2 11 1 27 1 5 1 74 3 15 4 10 3 9 2 5 2 9 3 10 4 17 1 80 1 26 2 11 2 13 2 11 2 26 1 80 1 17 3 11 3 9 2 5 2 9 3 11 3 17 1 80 1 9 2 15 1 12 2 13 2 12 1 16 1 9 1 80 1 16 4 11 3 9 2 5 2 9 3 11 4 16 1 80 1 8 2 16 1 12 2 13 3 11 1 16 2 8 1 80 1 16 4 11 3 9 2 5 2 9 3 11 4 16 1 80 1 7 2 17 1 11 3 13 3 11 1 17 2 7 1 80 1 16 4 11 3 9 2 5 2 9 3 11 4 16 1 80 1 7 2 17 1 11 2 15 2 11 1 17 2 7 1 80 1 16 4 11 3 9 2 5 2 9 3 11 4 16 1 80 1 7 2 17 1 11 3 13 3 11 1 17 2 7 1 80 1 16 4 11 3 9 2 5 2 9 3 11 4 16 1 80 1 8 2 16 1 11 3 13 2 12 1 16 2 8 1 80 1 16 4 11 3 9 2 5 2 9 3 11 4 16 1 80 1 9 1 16 1 12 2 13 2 12 1 15 2 9 1 80 1 17 3 11 3 9 2 5 2 9 3 11 3 17 1 80 1 26 2 11 2 13 2 11 2 26 1 80 1 17 4 10 3 9 2 5 2 9 3 10 4 15 3 74 1 5 1 27 1 11 2 13 2 11 1 27 1 76 1 3 4 15 3 10 3 9 2 5 2 9 2 11 3 14 5 3 1 66 2 8 1 39 2 13 2 39 2 75 1 3 6 13 3 11 2 10 1 5 1 10 2 11 3 13 5 4 2 70 1 3 2 39 2 13 1 40 2 74 2 5 5 13 3 10 2 10 1 5 1 10 2 10 3 12 5 6 2 66 2 6 2 14 1 25 1 38 2 6 2 6 2 10 1 63 2 7 4 12 3 10 2 10 1 5 1 10 1 11 2 12 4 8 2 63 1 10 2 5 3 6 3 61 3 5 3 6 2 74 2 9 4 11 2 11 2 25 2 10 2 12 3 10 2 67 1 2 1 3 2 6 3 5 3 60 3 7 1 12 1 2 1 2 2 63 2 11 3 11 2 11 1 37 2 11 3 11 2 3 1 55 2 2 1 6 1 20 3 59 3 20 1 66 1 3 3 11 3 11 1 49 1 11 2 11 4 3 2 65 1 21 1 47 1 35 1 6 1 58 2 5 3 10 3 71 2 10 3 6 2 50 1 3 1 3 1 2 1 3 1 35 1 32 2 28 2 4 2 3 1 61 2 7 2 11 1 70 2 10 3 7 2 3 1 56 2 9 3 27 2 31 2 27 3 9 2 56 1 3 2 8 3 10 1 80 2 8 3 3 1 49 1 6 2 10 2 5 2 21 1 31 1 21 2 5 1 11 2 3 1 52 1 4 2 9 2 89 1 9 2 5 1 52 1 3 2 17 3 73 3 22 1 47 1 4 1 6 2 8 2 87 1 8 2 7 1 4 1 43 1 3 1 9 2 12 2 73 2 12 2 9 1 3 1 43 1 4 2 6 2 104 2 7 2 4 1 4 1 38 1 3 2 8 3 99 2 14 1 4 1 33 1 4 1 5 2 7 1 102 2 7 1 6 1 4 1 4 1 24 1 3 2 3 1 8 1 11 1 88 2 10 2 8 1 3 2 3 2 3 1 14 1 4 1 4 1 4 2 5 2 7 1 109 1 6 1 5 1 4 1 4 1 4 1 4 1 4 1 3 2 3 1 13 2 10 2 86 3 10 1 13 2 3 2 3 1 4 1 4 1 4 1 4 1 4 1 5 2 6 1 115 1 6 1 5 2 4 1 4 1 4 1 4 1 4 1 3 2 4 1 7 2 4 2 10 2 85 2 16 2 12 1 4 1 4 1 4 1 4 1 4 1 5 1 5 1 128 1 6 1 4 2 4 1 4 1 4 1 4 1 4 1 13 1 9 1 100 2 9 1 13 1 4 1 4 1 4 1 4 1 5 1 4 2 5 1 133 1 5 1 4 2 4 1 4 1 4 1 28 2 98 2 29 1 4 1 4 1 5 1 4 1 5 1 145 1 4 1 5 1 4 1 4 1 23 1 5 2 104 1 28 1 4 1 5 1 5 1 149 1 5 1 10 1 28 2 109 2 28 1 10 1 195 2 4 2 115 1 231 1 121 1 999999"/></g></g><g id="Fh"><g transform="matrix(2 0 0 2 -174 -165)" stroke-width="1.1" fill="none"><use href="#S168x172" stroke="#bf4" stroke-dasharray="0 19 3 6 3 5 4 5 3 19 2 6 3 5 3 4 4 4 4 4 3 5 1 5 3 8 5 7 7 7 5 8 2 9 3 7 5 7 7 7 5 8 3 4 3 4 3 4 4 4 4 4 3 5 3 5 3 6 2 11 2 6 4 5 3 6 3 30 2 7 3 6 3 6 3 11 2 5 3 6 3 5 3 5 3 4 4 4 4 4 3 4 3 4 3 9 4 7 1 5 3 6 4 7 2 12 2 14 4 7 6 7 4 4 2 4 3 4 3 5 3 5 2 6 2 6 2 5 3 5 4 5 3 19 3 6 3 7 2 21 2 7 3 6 2 12 2 6 3 6 2 7 1 37 3 4 3 4 2 4 4 7 6 7 5 10 5 13 6 9 5 7 6 7 4 11 1 10 1 6 3 4 3 5 3 19 1 6 3 5 3 7 1 13 2 7 2 21 2 21 3 6 3 6 2 18 3 5 3 5 3 4 3 5 3 5 1 15 4 6 5 10 4 11 4 12 2 21 4 6 4 16 2 4 3 4 3 5 3 4 3 5 3 5 3 5 3 18 3 6 3 7 1 50 3 6 3 6 2 11 3 5 3 5 3 5 3 4 4 4 3 5 3 4 3 4 3 3 3 6 6 7 5 7 6 7 4 6 4 8 6 7 5 7 6 6 3 3 3 4 3 4 3 5 3 4 3 5 3 5 3 5 3 5 3 6 1 12 3 6 4 39 2 7 3 20 3 5 3 5 3 5 3 5 3 5 3 4 3 5 3 4 3 4 2 4 3 6 5 8 5 7 6 8 4 14 2 7 2 8 1 11 4 5 2 5 2 4 3 4 3 5 3 5 2 5 3 5 3 4 4 4 4 5 3 6 3 12 2 6 3 31 2 21 3 6 3 5 4 5 3 5 2 5 3 5 2 5 3 5 2 5 2 5 1 7 3 2 3 6 5 7 6 6 5 18 5 7 6 7 5 7 6 8 1 5 2 5 2 5 3 4 3 5 3 5 2 5 3 5 4 5 3 5 4 6 3 59 4 5 4 5 4 5 3 5 3 5 3 4 3 5 3 4 3 5 2 5 2 4 3 7 6 7 5 7 6 7 5 18 3 10 4 8 4 9 3 8 3 4 3 4 3 4 3 4 3 5 3 4 3 5 3 5 3 5 4 5 4 5 4 6 3 41 4 6 3 6 3 5 4 5 3 5 3 5 3 4 3 5 3 4 3 4 3 4 3 4 3 13 4 10 5 7 5 8 4 5 5 7 6 6 6 8 5 7 3 3 3 4 3 4 3 4 3 4 3 5 3 4 3 5 3 5 3 5 3 6 3 6 3 6 4 5 3 15 2 7 4 6 4 5 3 6 3 6 3 5 3 5 3 5 3 4 4 4 3 4 3 4 3 4 3 4 3 3 3 7 6 7 6 6 6 7 5 8 3 7 5 6 5 9 4 8 3 3 4 3 3 4 3 4 3 4 3 4 4 4 3 4 4 4 3 6 3 5 4 5 4 5 4 6 4 6 3 5 3 6 4 6 4 5 4 6 3 5 4 5 3 5 3 4 3 4 4 4 3 4 3 4 3 4 3 3 3 4 3 15 3 6 2 15 4 15 5 8 7 7 4 8 2 4 3 4 3 4 2 4 3 4 3 4 3 4 3 5 3 4 3 5 3 5 4 5 3 6 3 6 4 6 4 5 4 5 4 6 4 5 4 6 3 6 3 5 4 5 3 5 3 4 4 4 3 4 3 4 3 4 3 11 2 4 3 3 4 7 5 7 6 8 5 15 5 8 4 9 4 8 3 4 3 8 2 7 3 4 3 4 3 4 3 4 4 4 3 4 4 5 3 5 4 6 3 6 3 6 4 6 4 5 4 6 3 7 3 6 3 6 4 5 4 4 4 4 4 4 3 4 3 4 3 4 3 3 4 3 2 2 2 4 2 2 3 4 3 15 4 15 4 15 1 7 4 7 5 14 3 5 1 2 3 4 2 1 3 3 4 3 4 3 3 4 3 4 3 4 4 4 4 4 4 5 4 5 4 6 3 7 3 7 3 5 3 7 3 7 3 6 4 5 4 5 4 5 3 4 4 4 3 4 3 4 3 3 4 3 3 4 3 7 3 7 4 5 1 7 6 6 5 24 2 6 5 6 3 2 2 4 2 5 4 2 2 3 3 7 3 4 3 4 3 3 3 4 3 4 3 4 3 5 3 5 3 6 3 6 4 6 3 7 3 6 4 5 4 6 4 5 4 6 4 6 4 5 4 4 4 4 3 4 3 4 3 4 3 3 3 4 3 4 3 3 2 2 2 4 3 1 4 4 4 2 3 4 1 6 3 8 2 16 3 8 4 10 2 3 4 5 2 2 3 4 1 2 3 4 3 3 3 4 3 3 3 4 3 3 4 3 4 4 4 4 4 5 4 5 5 5 4 6 4 6 4 5 4 6 4 6 4 6 4 5 4 5 4 5 3 4 4 4 3 3 3 4 3 3 3 4 3 3 3 4 3 7 3 9 4 15 5 6 3 17 4 6 4 15 4 9 4 2 1 4 3 3 3 3 3 4 3 3 3 4 3 3 3 4 3 5 3 5 4 4 4 6 4 6 4 6 4 6 4 5 4 6 4 6 4 6 5 5 4 5 4 4 4 4 3 4 3 3 3 4 3 3 3 3 4 3 3 3 3 4 2 1 4 4 2 2 5 15 4 6 4 17 4 6 4 9 1 5 5 1 3 5 2 1 4 3 3 3 3 4 3 3 3 3 3 3 3 4 3 4 3 4 4 4 4 5 4 5 5 6 4 6 4 6 4 5 4 6 5 5 5 6 4 5 5 4 4 5 3 4 4 3 3 4 3 3 3 3 3 3 3 4 2 4 3 3 3 8 4 2 3 5 3 3 1 4 4 6 4 17 4 6 4 3 2 2 4 5 3 2 4 8 3 4 2 10 3 3 3 3 3 3 3 4 3 3 3 4 4 4 4 5 4 6 4 6 4 6 4 6 5 6 4 6 4 6 5 5 5 5 4 5 4 4 4 4 3 4 3 3 3 3 3 3 3 3 3 6 3 2 1 4 3 4 2 2 4 3 2 5 4 2 2 3 4 5 5 11 1 6 4 6 3 3 2 2 4 10 4 1 4 3 4 6 3 6 3 3 3 3 3 3 3 3 3 4 3 4 3 5 4 4 5 5 4 6 5 5 5 6 4 7 5 5 5 6 4 6 4 6 4 5 4 4 4 3 4 3 3 3 3 3 3 3 2 4 2 4 1 2 3 3 2 1 3 4 4 2 2 10 5 3 1 4 2 6 4 6 1 5 1 6 4 6 2 8 5 4 1 5 1 4 3 4 1 2 3 4 2 1 3 3 3 3 2 3 3 3 3 3 3 3 3 4 4 4 4 5 4 5 5 5 5 6 4 6 5 8 4 6 5 5 5 5 5 5 5 4 4 5 3 4 3 4 2 3 3 3 3 3 2 3 3 3 3 1 2 3 3 7 4 10 2 3 5 15 5 6 1 5 1 6 5 16 4 2 4 9 4 2 2 3 3 6 3 3 3 3 2 3 3 3 3 2 3 3 4 3 4 4 4 5 5 5 4 6 4 6 5 5 5 9 5 6 4 6 5 5 5 5 4 5 4 5 3 4 3 3 3 2 3 3 3 3 2 3 3 3 2 4 1 2 3 3 3 1 3 5 2 3 4 2 4 16 5 6 1 5 1 6 5 9 2 5 4 2 4 2 3 5 2 2 3 4 2 1 3 3 2 3 3 3 2 3 3 3 3 2 3 3 3 3 4 4 4 5 5 5 5 5 5 6 4 6 5 9 5 6 5 5 5 5 5 6 4 5 4 4 4 3 3 3 3 2 4 3 1 3 3 3 3 3 2 3 3 2 1 3 4 8 5 1 4 3 2 6 2 9 5 5 2 5 2 6 4 8 3 6 1 4 4 1 5 9 3 7 2 3 2 3 2 1 2 2 3 2 2 2 2 2 5 3 3 3 3 4 4 5 5 5 5 6 5 5 5 6 5 9 5 6 5 6 5 5 5 5 5 5 4 4 3 3 3 3 1 2 2 2 2 2 2 2 2 2 3 2 2 2 2 3 2 3 2 2 3 4 2 2 5 3 2 11 4 7 5 6 2 5 2 6 5 6 5 11 1 4 5 1 3 5 2 1 3 3 2 3 1 3 3 2 2 2 2 2 2 2 2 2 2 2 2 2 3 3 2 4 4 5 5 6 5 5 5 6 5 6 5 9 5 6 5 6 5 6 5 5 5 5 4 4 2 3 3 2 2 2 2 14 1 3 2 3 3 2 2 3 3 2 1 4 4 1 4 17 5 6 5 6 2 5 2 6 5 3 1 2 5 5 1 11 3 2 4 8 2 3 2 4 2 3 2 4 2 2 2 2 1 3 1 4 2 2 2 4 2 3 4 5 5 6 5 6 5 6 5 6 5 9 5 6 5 6 5 6 6 5 5 5 4 3 2 4 2 4 2 2 1 3 1 2 2 2 1 3 1 6 2 2 4 3 2 3 2 2 4 3 2 6 1 5 2 3 6 2 1 3 5 6 2 5 2 6 5 2 1 4 5 2 4 3 2 11 4 1 3 3 2 2 1 1 3 2 2 2 1 3 2 2 2 2 1 2 2 2 1 2 2 2 1 1 2 2 4 3 3 5 5 6 5 6 6 6 5 6 5 9 5 6 5 6 6 6 6 6 5 4 3 5 2 5 1 2 2 2 1 2 1 3 1 2 1 3 1 3 2 2 3 2 2 2 1 1 2 3 3 1 3 11 4 2 4 2 5 6 5 6 3 5 3 6 4 7 5 2 4 2 4 5 1 5 2 3 2 3 2 14 2 2 2 4 1 2 1 2 1 4 2 2 1 3 1 1 2 5 3 4 5 6 5 7 6 6 5 6 5 9 5 6 6 6 6 6 6 6 5 3 3 1 2 5 2 2 1 4 2 1 2 1 2 1 2 2 1 5 1 3 1 6 2 2 3 3 2 10 2 3 6 1 4 2 5 7 4 6 3 5 3 6 4 7 5 2 4 1 6 2 4 9 2 3 11 2 2 4 2 2 2 1 2 2 1 2 1 2 1 2 1 4 2 5 6 3 5 6 6 6 6 6 6 6 5 10 5 6 5 6 6 7 6 6 4 3 2 2 2 1 2 3 1 1 1 2 1 2 1 2 1 2 1 2 1 2 1 2 2 2 2 1 2 2 2 2 2 2 2 4 2 3 2 3 5 2 5 2 4 2 4 8 3 7 3 5 3 7 3 8 3 3 3 3 5 2 5 2 3 3 2 12 1 3 1 3 2 2 1 2 2 1 1 5 1 2 1 2 1 2 1 5 1 7 1 3 3 7 6 6 6 7 5 6 5 11 5 6 6 6 6 7 6 7 2 3 2 6 2 1 1 2 2 1 1 6 1 2 1 2 1 3 2 2 2 2 2 3 1 2 3 2 1 4 2 3 3 1 6 2 4 4 3 3 3 9 2 6 4 5 4 6 2 1 2 6 3 3 2 5 4 3 5 1 3 3 1 1 2 1 3 1 3 1 2 4 2 2 2 4 1 2 1 1 2 1 1 2 1 1 1 3 2 2 2 5 1 2 3 2 2 6 7 6 7 6 5 6 6 11 6 6 6 6 6 7 7 5 2 2 3 2 2 2 1 2 2 3 1 2 1 1 1 2 1 1 1 2 1 1 2 2 1 4 2 3 1 2 1 2 1 3 2 1 3 4 2 3 4 4 3 5 1 4 3 6 5 6 4 5 4 6 5 7 1 12 2 5 3 3 2 4 2 13 2 3 1 1 2 2 1 2 1 2 1 1 1 4 1 1 1 2 1 2 3 2 2 1 2 2 2 3 2 5 7 7 6 6 6 6 5 13 5 7 5 7 6 7 7 4 2 10 3 3 2 1 1 2 1 13 1 2 2 5 3 2 2 1 2 2 1 6 1 2 2 4 1 7 1 19 6 6 4 5 4 6 6 32 2 1 1 3 1 2 3 1 2 1 2 3 2 2 1 3 1 4 1 1 1 2 1 1 1 1 1 1 1 5 1 2 1 1 2 6 1 4 2 3 7 8 6 6 6 6 6 13 6 6 6 6 7 7 7 3 3 2 3 1 2 5 1 2 1 3 1 1 1 1 1 1 1 1 1 1 1 1 2 1 1 1 1 3 1 7 2 6 2 1 3 4 2 32 6 6 4 5 4 6 6 11 1 7 2 6 2 3 2 1 2 1 2 7 1 2 4 1 2 3 1 4 2 1 1 1 1 1 1 1 1 1 1 1 1 1 1 1 1 3 2 2 1 1 3 1 3 1 4 3 6 8 6 7 6 6 5 15 5 6 6 7 6 9 5 3 3 3 1 3 2 1 2 3 2 1 1 1 1 1 1 4 1 1 1 1 1 2 1 2 1 5 2 3 2 3 2 1 2 6 5 3 3 5 2 6 3 9 7 6 4 5 4 6 7 8 4 7 2 4 3 3 5 2 2 2 2 1 2 9 2 1 2 2 1 2 1 1 1 2 1 1 1 5 1 1 1 1 1 4 1 11 3 3 5 8 7 7 5 7 5 15 5 7 6 6 7 9 4 4 1 4 2 6 1 1 2 1 1 2 1 1 1 2 1 1 1 2 1 1 1 3 1 2 2 7 2 2 3 3 1 1 3 6 1 3 4 3 2 6 6 7 6 6 5 5 5 6 6 7 7 10 4 3 1 3 2 1 2 5 5 2 3 2 2 2 2 3 1 5 1 2 1 2 1 1 1 2 1 1 1 5 2 1 3 3 1 5 3 9 7 7 6 7 5 14 6 6 7 7 7 9 3 4 8 2 2 1 2 1 1 1 1 1 1 2 1 3 1 2 1 1 1 1 1 1 1 2 1 2 3 1 2 5 3 1 3 2 1 2 3 2 1 3 4 10 8 6 6 6 5 5 5 7 4 7 9 9 4 3 6 2 5 15 3 4 1 1 1 1 1 7 1 2 1 1 1 3 2 1 1 3 8 4 3 9 7 7 7 6 6 13 6 6 6 8 8 8 3 3 5 10 1 1 1 8 4 3 1 1 1 2 2 6 2 5 1 8 2 5 3 3 3 10 9 7 4 7 5 5 5 7 5 7 8 10 3 2 3 3 2 2 1 7 5 2 4 2 1 3 1 3 1 2 2 6 1 1 1 1 1 4 2 3 1 3 11 8 8 8 6 6 6 13 6 6 6 8 9 7 11 2 3 2 3 1 1 4 1 9 2 1 1 1 1 2 2 2 4 3 4 3 5 3 2 3 3 2 2 11 8 7 5 7 5 5 5 6 6 8 7 10 3 2 5 6 6 4 2 10 2 4 1 1 6 5 1 2 2 1 2 2 17 7 9 8 6 6 6 13 6 6 6 8 9 7 16 7 1 1 1 1 2 9 1 1 2 6 1 13 6 6 4 3 3 11 6 7 7 6 5 5 5 6 7 9 3 12 3 5 2 7 5 6 4 2 5 1 2 2 1 1 1 2 1 6 2 4 2 7 13 6 9 9 6 6 6 13 6 6 7 8 9 6 13 3 2 2 3 1 1 9 2 4 2 3 2 4 5 7 5 7 1 5 3 12 2 9 8 6 5 5 5 6 8 9 2 12 3 5 1 7 5 7 5 11 1 3 1 9 1 6 3 3 13 6 9 8 7 6 6 13 6 7 6 8 9 6 13 3 3 4 1 16 5 6 5 7 5 7 1 5 3 12 3 9 7 6 5 5 5 6 7 8 6 10 3 5 1 7 5 7 4 7 5 15 3 3 4 2 13 6 9 8 6 7 6 14 5 7 6 8 9 6 13 2 4 3 3 5 2 8 5 7 4 8 4 7 1 5 2 10 8 8 5 7 5 5 5 7 5 8 8 10 2 5 1 7 4 8 4 7 5 8 2 5 3 3 4 2 13 6 9 7 7 6 6 15 6 6 7 7 9 6 13 2 4 3 3 15 5 7 4 7 5 7 1 5 3 10 6 8 7 6 5 5 5 6 7 9 3 12 3 5 1 7 5 7 5 6 5 16 1 4 3 3 13 6 9 7 7 6 6 15 6 6 7 7 9 6 13 3 3 6 1 9 1 3 1 11 5 7 5 7 1 5 3 12 2 9 8 6 5 5 5 6 8 9 2 12 3 5 1 7 5 7 5 4 2 3 2 4 2 9 1 1 3 2 2 3 13 6 9 7 6 7 6 15 6 7 6 7 9 6 13 7 2 4 2 6 1 2 1 1 1 2 2 1 5 2 4 6 5 7 2 5 3 12 3 9 7 6 5 5 5 6 7 7 6 11 3 3 4 6 6 13 1 6 2 1 1 9 2 1 1 1 1 7 16 7 8 7 7 6 6 15 6 6 7 7 8 7 17 2 2 1 2 2 1 5 6 1 1 4 2 10 2 4 6 6 5 2 3 10 7 8 6 6 5 5 5 7 5 7 8 11 2 2 3 3 2 3 5 3 4 3 4 2 2 2 1 1 1 1 2 9 1 4 1 1 3 2 3 2 11 7 8 8 6 6 6 15 5 7 6 7 8 8 11 3 1 3 2 4 1 1 1 1 1 6 2 2 1 3 1 3 1 2 4 2 5 7 1 2 2 3 3 2 3 10 8 7 5 7 5 5 5 7 4 7 9 10 3 3 3 5 2 8 1 5 2 6 2 2 1 1 1 3 4 8 1 1 1 10 5 3 3 8 8 7 6 7 5 14 6 6 6 8 7 9 3 4 8 3 1 1 2 3 1 1 1 2 1 7 1 1 1 1 1 4 3 15 5 2 6 3 4 9 9 7 4 7 5 5 5 6 6 6 8 10 4 3 1 2 3 2 1 2 3 1 3 5 2 1 3 2 1 2 1 1 1 1 1 1 1 2 1 3 1 2 1 1 1 1 1 1 2 1 2 2 8 4 3 9 8 7 6 6 6 13 5 7 6 7 8 9 3 5 1 3 3 1 2 5 1 1 1 2 1 1 1 2 1 2 1 5 1 3 2 2 2 2 3 2 5 5 2 1 2 3 1 3 4 10 7 7 6 6 5 5 5 6 6 7 6 6 2 3 4 3 1 6 3 1 1 3 3 2 2 7 2 2 1 3 1 1 1 2 1 1 1 2 1 1 1 2 1 1 2 1 1 6 2 4 1 4 4 9 7 8 6 6 5 13 5 6 6 7 8 8 5 3 3 11 1 4 1 1 1 1 1 5 1 1 1 2 1 1 1 2 1 2 2 1 2 9 2 1 2 2 2 2 5 3 3 4 2 7 4 8 7 6 4 5 4 6 7 9 3 6 2 5 3 3 5 6 2 1 2 3 2 3 2 5 1 2 1 2 1 1 1 1 1 4 1 1 1 1 1 1 2 3 2 1 2 3 1 3 3 3 5 9 7 7 6 6 6 11 6 6 6 7 7 8 6 3 4 1 3 1 3 1 1 2 2 3 1 1 1 1 1 1 1 1 1 1 1 1 1 1 1 1 2 4 1 3 2 1 4 2 1 7 2 1 2 1 2 3 2 6 2 7 1 11 6 6 4 5 4 6 6 32 2 4 3 1 2 6 2 7 1 3 1 1 1 1 2 1 1 1 1 1 1 1 1 1 1 1 1 3 1 2 1 5 2 1 3 2 3 3 7 8 6 7 6 6 6 11 6 6 6 6 7 8 7 3 2 4 1 6 2 1 1 2 1 5 1 1 1 1 1 1 1 2 1 1 1 4 1 3 1 2 2 3 2 1 2 1 3 2 1 3 1 1 2 32 6 6 4 5 4 6 6 19 1 7 1 4 2 2 1 6 1 2 2 1 2 2 3 5 2 2 1 13 1 2 1 1 2 3 3 10 2 4 7 7 7 6 6 6 6 11 6 6 5 7 6 7 7 5 2 3 2 2 2 1 2 2 3 2 1 2 1 1 1 4 1 1 1 2 1 2 1 2 2 1 1 3 2 13 2 4 2 3 3 5 2 12 1 7 5 6 4 5 4 6 5 6 3 4 1 5 3 4 4 3 2 4 3 1 2 3 1 2 1 2 1 3 2 4 1 2 2 1 1 2 1 1 1 2 1 1 1 2 1 3 2 2 1 2 2 2 3 2 2 5 7 7 6 7 5 6 6 11 6 6 5 7 6 6 7 6 2 2 3 2 1 5 2 2 2 3 1 1 1 2 1 1 2 1 1 2 1 4 2 2 2 4 2 1 3 1 3 1 2 1 1 3 3 1 5 3 4 5 2 3 3 6 2 1 2 6 4 5 4 6 2 9 3 3 3 4 4 2 6 1 3 3 2 4 1 2 3 2 1 3 2 2 2 2 2 3 1 2 1 2 1 6 1 1 2 2 1 1 2 6 2 3 2 7 6 7 5 7 5 6 6 12 5 6 5 6 6 6 6 7 3 3 1 7 1 5 1 2 1 2 1 2 1 5 1 1 2 2 1 2 2 3 1 3 1 12 2 3 3 2 5 2 5 3 3 3 3 8 3 7 3 5 3 7 3 8 4 2 4 2 5 2 5 3 2 3 2 4 2 2 2 2 2 2 2 1 2 2 2 2 1 2 1 2 1 2 1 2 1 2 1 2 1 1 1 3 2 1 2 2 2 3 4 6 6 6 6 6 5 6 5 13 5 6 5 6 5 6 6 6 5 3 6 5 2 4 1 2 1 2 1 2 1 2 2 1 2 2 2 4 2 2 11 3 2 9 4 2 6 1 4 2 5 7 4 6 3 5 3 6 4 7 5 2 4 1 6 3 2 10 2 3 3 2 2 6 1 3 1 5 1 2 2 1 2 1 2 1 2 4 1 2 2 5 2 1 3 3 5 6 6 6 5 6 6 5 6 11 5 6 6 6 5 6 5 6 5 4 3 5 2 1 1 3 1 2 2 4 1 2 1 2 1 4 2 2 2 14 2 3 2 3 2 5 1 5 4 2 4 2 5 7 4 6 3 5 3 6 5 6 5 2 4 2 4 11 3 1 3 3 2 1 1 2 2 2 3 2 2 3 1 3 1 2 1 3 1 2 1 2 2 2 1 5 2 5 3 4 5 6 6 6 5 6 5 6 5 11 5 6 5 6 5 6 5 6 5 5 3 3 4 2 2 1 1 2 2 2 1 2 2 2 1 2 2 2 2 3 1 2 2 2 3 1 1 2 2 3 3 1 4 11 2 3 4 2 5 4 1 2 5 6 2 5 2 6 5 3 1 2 6 3 2 5 1 6 2 3 4 2 2 3 2 3 4 2 2 6 1 3 1 2 2 2 1 3 1 2 2 4 2 4 2 3 4 5 5 5 6 5 6 5 5 6 5 10 5 6 5 6 5 6 5 6 5 5 4 3 2 4 2 2 2 4 1 3 1 2 2 2 2 4 2 3 2 4 2 3 2 8 4 2 3 11 1 5 5 2 1 3 5 6 2 5 2 6 5 6 5 17 4 1 4 4 1 2 3 3 2 2 3 3 2 3 1 14 2 2 2 2 3 3 2 4 4 5 5 5 5 6 5 6 5 6 5 9 5 5 6 5 6 5 5 6 5 5 4 4 2 3 3 2 2 2 2 2 2 2 2 2 2 2 2 2 3 3 1 3 2 3 3 1 2 5 3 1 5 4 1 11 5 6 5 6 2 5 2 6 5 7 4 11 2 3 5 2 2 4 3 2 2 3 2 3 2 2 2 2 3 2 2 2 2 2 2 2 2 2 1 3 3 3 3 4 4 5 5 5 5 6 5 6 5 6 4 8 5 6 5 6 5 6 5 5 5 5 4 4 3 3 3 3 5 2 2 2 2 2 3 2 2 1 2 3 2 3 2 7 3 9 5 1 4 4 1 6 3 8 4 6 2 5 2 5 5 9 2 6 2 3 4 1 5 8 4 3 1 2 3 3 2 3 3 3 3 3 1 3 4 2 3 3 3 3 4 4 4 5 4 6 5 6 5 6 4 6 5 7 5 5 5 6 5 6 5 5 5 5 4 4 4 3 3 3 3 2 3 3 3 3 2 3 3 3 2 3 3 1 2 4 3 2 2 5 3 2 4 2 4 5 2 9 5 6 1 5 1 6 5 16 4 2 4 3 2 5 3 1 3 3 3 2 1 4 2 3 3 3 2 3 3 3 3 2 3 3 3 4 3 5 4 5 4 5 5 6 5 6 5 5 5 7 5 5 5 6 5 5 5 5 5 5 4 4 4 3 4 3 3 2 3 3 3 3 2 3 3 3 3 6 3 3 2 2 4 9 4 2 4 16 5 6 1 5 1 6 5 15 5 3 2 10 4 7 3 3 2 1 3 3 3 3 2 3 3 3 3 3 2 4 3 4 3 5 4 4 5 5 5 6 4 6 5 6 4 7 4 6 5 5 5 6 5 5 4 5 4 4 4 4 3 3 3 3 3 3 3 3 2 3 3 3 3 1 2 4 3 2 1 4 3 4 1 5 1 4 5 8 2 6 4 6 1 5 1 6 4 6 2 4 1 3 5 10 2 2 4 4 3 1 2 3 3 2 1 4 2 4 2 3 3 3 3 3 3 3 4 3 4 4 4 5 4 6 4 6 5 5 5 6 4 7 4 6 5 5 5 6 4 5 5 4 4 5 3 4 3 4 3 3 3 3 3 3 3 3 3 6 3 6 4 3 4 1 4 10 4 2 2 3 3 6 4 6 1 11 5 5 4 3 2 2 4 5 2 3 4 2 2 4 3 4 1 2 3 6 3 3 3 3 3 3 3 3 3 4 3 4 4 4 4 5 4 5 5 5 5 5 5 6 4 7 4 6 5 5 5 5 4 6 4 5 4 4 4 4 3 3 3 4 3 3 3 3 3 3 3 10 2 4 3 8 4 2 3 5 4 2 2 3 4 6 4 17 4 6 4 4 1 3 3 5 3 2 4 8 3 3 3 4 2 4 3 3 3 3 3 3 3 4 3 3 4 4 3 5 4 4 5 5 4 5 5 5 5 6 4 7 4 6 4 6 4 6 4 5 4 5 4 4 4 4 3 4 3 4 3 3 3 3 3 3 3 4 3 3 3 3 4 1 2 5 3 1 5 5 1 9 4 6 4 17 4 6 4 15 5 2 2 4 4 1 2 4 3 3 3 3 4 3 3 3 3 4 3 3 3 4 3 4 4 4 4 5 4 5 4 6 4 6 4 6 4 7 4 6 4 6 4 5 4 6 4 4 4 5 3 5 3 4 3 3 3 4 3 3 3 4 3 3 3 3 3 4 1 2 4 9 4 15 4 6 4 17 3 6 5 15 4 9 3 7 3 4 3 3 3 4 3 3 3 4 3 3 3 4 4 4 3 5 4 5 4 5 4 5 4 6 4 6 4 7 3 7 4 5 5 5 4 5 4 5 4 4 4 4 4 3 4 3 3 4 3 3 3 4 3 3 3 4 3 2 1 4 3 2 2 5 4 3 2 10 4 7 4 16 2 8 3 6 2 3 3 2 4 4 4 1 3 4 2 2 2 3 3 4 3 4 3 3 3 4 3 4 3 4 3 4 4 4 4 5 4 5 4 6 4 6 4 6 3 7 3 6 4 6 4 6 3 6 3 6 3 5 3 5 3 4 3 4 3 4 3 3 3 4 3 4 3 7 3 3 2 2 4 5 2 4 2 1 4 6 5 6 2 24 5 6 6 7 1 5 4 7 3 7 3 4 3 3 4 3 3 4 3 4 3 4 4 4 3 5 4 5 4 5 4 6 3 7 3 8 2 5 2 8 3 7 3 6 4 5 4 5 4 4 4 4 4 4 3 4 3 4 3 3 4 3 4 3 3 1 2 4 3 2 1 5 3 14 5 7 5 41 4 15 3 4 3 2 2 4 2 2 2 3 4 3 3 4 3 4 3 4 3 4 4 4 4 4 4 5 4 6 3 6 3 7 3 8 2 5 3 8 1 7 2 8 3 6 4 5 3 5 4 4 3 4 4 4 3 4 3 4 3 4 3 7 2 8 3 4 3 8 4 8 4 9 5 15 6 7 6 7 5 7 4 3 3 4 2 11 3 4 3 4 3 4 3 4 4 4 3 5 3 5 4 5 3 6 3 8 2 8 2 6 3 5 2 7 3 7 2 9 2 6 3 5 4 5 3 5 3 4 3 5 3 4 3 4 3 4 3 4 2 4 3 4 3 4 2 8 5 7 6 7 6 15 4 10 4 9 3 10 1 4 3 4 3 3 3 4 3 4 3 4 3 4 4 4 3 4 3 5 3 5 4 5 3 17 2 7 4 6 2 5 2 6 4 6 3 7 2 8 3 5 3 6 3 4 4 4 3 4 4 4 3 4 3 4 3 4 3 3 4 3 3 8 5 8 4 8 4 7 3 8 6 6 6 6 6 7 5 8 3 3 3 4 3 4 3 4 3 4 3 4 4 4 3 4 4 5 3 5 3 15 3 7 3 6 4 6 2 5 2 6 4 6 3 7 3 6 2 7 2 6 3 5 3 5 3 4 3 5 3 4 3 4 3 4 3 4 3 3 3 8 5 7 6 6 6 6 5 9 3 7 4 7 5 9 4 14 3 4 3 4 3 4 3 4 3 5 3 4 3 5 3 5 3 6 2 6 3 6 4 5 4 6 4 6 2 5 2 6 4 6 4 5 4 6 3 6 2 6 3 5 3 5 3 4 3 5 3 4 3 4 4 3 3 4 3 7 4 9 4 7 4 13 3 15 5 9 5 7 5 8 5 8 1 5 2 5 2 5 3 4 3 5 3 4 3 5 3 14 1 7 4 5 4 5 4 6 4 22 2 7 4 5 4 5 3 6 2 15 3 5 2 5 3 5 3 4 3 5 2 5 2 8 1 5 5 8 5 7 5 8 6 16 5 8 6 6 5 7 6 14 2 13 1 6 2 5 2 6 2 6 2 6 2 6 3 6 3 5 4 6 3 42 1 7 4 5 3 6 3 5 3 14 2 29 1 26 4 5 3 7 2 28 3 9 5 7 6 8 6 5 3 18 1 7 1 14 2 5 2 6 2 6 3 5 4 5 3 6 3 46 2 20 3 5 4 5 3 5 3 6 2 5 3 5 2 6 2 6 1 6 1 5 3 3 3 6 5 8 6 6 6 8 4 5 3 9 6 7 5 8 5 6 3 3 3 4 3 4 3 5 2 6 2 5 3 5 3 5 3 5 3 5 4 5 3 11 2 7 3 31 3 6 3 19 3 6 3 5 3 5 3 5 3 5 2 5 3 5 3 4 3 4 3 4 3 5 4 9 4 7 2 6 2 21 4 6 5 10 5 10 4 4 3 4 3 4 3 4 4 4 3 5 3 5 3 5 3 5 3 6 2 11 3 6 3 7 2 40 3 6 3 6 2 11 3 5 3 5 3 5 3 4 4 4 4 4 3 4 3 4 3 5 6 7 6 8 5 7 5 17 5 7 5 9 5 7 5 6 3 4 3 4 3 4 4 4 4 4 3 5 3 5 3 19 3 5 4 5 3 57 4 5 4 5 3 18 3 5 3 5 3 4 4 4 3 5 2 14 4 6 5 11 4 26 2 7 4 9 5 6 3 4 3 5 3 5 1 10 1 6 2 6 2 6 2 18 2 6 3 6 3 6 2 44 1 8 1 21 3 6 3 5 3 6 2 37 3 4 3 4 3 7 7 7 5 8 5 7 3 9 3 7 5 8 5 7 7 7 3 4 3 4 3 4 3 6 2 6 2 6 2 5 4 5 3 5 3 6 2 13 1 7 3 37 3 6 3 20 2 6 3 5 4 4 4 4 4 4 4 4 4 4 3 4 3 4 3 8 5 7 6 9 4 8 1 20 3 6 3 6 3 18 3 4 3 4 3 4 4 4 4 4 4 4 4 5 3 5 3 19 3 6 3 6 3 999999"/><use href="#S168x172" stroke="#fe0" stroke-dasharray="0 29 1 7 2 52 2 6 2 6 1 23 5 8 4 10 3 30 4 12 2 8 4 10 1 6 1 5 2 6 2 6 2 6 1 54 1 59 1 61 2 6 2 6 1 5 2 5 2 37 2 39 3 8 3 9 3 12 2 5 1 222 1 11 4 7 5 8 4 44 4 9 5 7 4 170 1 36 1 6 2 6 2 6 1 23 2 8 3 12 2 52 2 34 1 5 2 6 2 6 2 6 1 7 1 37 1 99 2 6 1 7 1 6 2 6 2 5 2 6 1 21 5 7 5 8 4 31 4 8 5 8 5 7 1 5 1 6 1 6 2 5 2 6 2 6 1 7 1 6 2 121 2 6 1 7 2 6 1 14 1 6 2 6 1 12 1 7 4 9 4 73 1 20 1 6 1 30 1 14 2 7 2 87 1 7 2 7 2 7 1 44 1 27 4 9 4 8 4 19 4 8 4 8 5 8 4 30 1 6 2 6 1 14 1 16 1 7 2 79 2 7 2 23 1 6 2 5 2 6 1 6 2 22 3 9 5 7 5 8 4 44 3 22 1 5 2 5 2 6 1 14 1 6 2 22 2 7 2 7 1 63 1 7 2 7 2 7 1 7 1 6 2 6 1 6 2 6 1 6 2 5 2 5 1 16 1 12 3 8 4 18 4 9 4 8 4 9 4 9 1 5 2 4 2 6 1 5 3 5 2 5 2 6 1 6 2 7 1 16 1 7 2 8 1 36 1 8 2 7 2 32 2 6 2 5 2 5 2 5 3 5 2 5 2 4 2 4 3 8 4 9 4 8 4 9 3 19 4 8 3 10 3 9 3 4 2 5 1 5 3 4 3 5 2 5 2 5 3 5 2 6 1 7 1 18 1 7 2 8 2 25 2 8 2 17 1 7 2 6 3 5 2 5 3 5 2 5 2 5 2 5 3 5 1 5 2 4 3 42 2 16 4 10 4 9 3 9 2 4 3 4 2 12 2 5 2 5 2 5 2 5 2 5 3 5 3 6 2 7 2 16 2 8 1 17 2 8 2 17 1 7 2 7 2 6 3 5 3 5 2 5 3 4 3 4 3 4 2 18 3 4 3 8 3 9 4 9 5 15 4 34 3 4 3 18 2 4 3 4 3 4 3 4 3 5 3 5 2 6 2 17 1 17 2 8 2 7 1 9 1 18 1 8 2 7 2 6 3 5 2 5 3 4 3 4 2 5 2 5 2 19 1 5 3 16 2 55 3 15 3 9 2 8 2 4 2 5 2 4 3 4 3 4 3 4 3 5 3 6 3 5 3 17 1 9 1 9 1 27 1 9 1 7 3 6 2 6 3 5 3 4 3 4 3 4 3 4 2 4 3 4 3 7 2 9 3 15 3 47 1 7 2 9 2 5 3 9 2 8 2 4 3 4 3 3 3 4 3 4 3 4 3 5 3 5 3 6 3 6 3 8 2 45 2 8 3 6 3 6 3 6 3 4 3 4 3 4 3 4 3 4 2 4 3 4 2 5 1 2 2 4 2 3 2 6 3 16 2 38 3 16 4 9 3 8 2 4 2 4 3 4 3 3 3 4 3 4 3 4 3 4 3 5 4 5 3 7 3 7 2 8 1 18 2 8 2 8 2 7 3 7 3 5 4 5 3 5 3 4 2 4 3 4 3 3 3 4 3 3 3 4 2 8 3 9 4 16 3 37 4 15 4 9 3 8 3 3 3 3 3 4 3 3 3 4 3 3 3 4 3 5 3 5 3 6 3 6 3 7 3 8 2 8 2 7 2 8 2 8 3 7 3 6 3 6 4 4 4 4 3 4 3 4 2 4 3 3 3 4 2 4 3 3 3 4 2 2 2 10 4 15 4 37 4 16 3 3 2 5 1 3 2 4 3 4 2 4 3 3 3 3 3 4 2 4 3 4 3 4 3 5 4 5 3 7 3 7 3 8 2 8 2 7 2 8 3 7 3 7 3 7 3 6 3 5 3 4 4 3 3 4 2 4 3 3 3 3 3 4 2 4 3 3 3 8 4 2 3 6 1 9 3 8 1 20 2 8 3 8 3 5 2 3 4 8 3 4 2 10 3 3 3 3 3 3 3 4 2 4 3 5 3 5 3 5 4 6 4 6 4 6 3 8 2 9 2 8 3 7 3 7 3 6 4 5 4 5 3 4 3 4 3 3 3 3 3 3 3 3 3 7 1 8 3 4 1 3 4 10 4 8 2 31 1 7 2 8 4 11 3 2 3 4 2 7 3 7 2 4 2 3 3 3 3 3 3 4 3 4 3 5 3 6 4 5 4 7 3 7 3 7 3 9 3 7 3 7 4 6 4 6 4 5 4 4 3 5 3 3 3 3 3 3 3 3 2 4 2 7 2 4 2 2 2 4 3 3 2 10 5 16 3 21 3 17 4 15 3 8 2 4 2 2 1 4 3 3 2 3 3 3 3 3 3 3 3 4 4 4 4 5 4 6 4 6 4 6 4 7 3 9 4 6 4 7 4 6 4 5 4 6 3 5 3 4 3 4 2 4 2 3 3 3 2 3 3 3 3 2 1 3 3 7 4 10 2 3 4 17 3 7 1 13 3 17 4 2 3 10 4 2 1 4 3 6 3 3 3 3 2 3 3 3 2 4 2 4 2 4 4 4 4 5 4 6 4 6 4 6 4 7 4 10 3 7 4 6 4 6 4 6 4 5 4 5 3 4 3 3 2 4 2 3 3 3 2 3 3 3 2 7 3 3 3 1 3 5 2 3 4 2 4 16 4 21 4 16 3 3 4 2 3 5 2 2 3 4 2 1 3 3 2 3 3 3 2 3 3 3 2 4 2 3 3 4 3 4 4 5 4 6 4 7 3 7 4 7 3 11 3 7 4 7 4 6 4 6 4 5 4 5 3 3 3 3 2 4 2 4 1 3 1 1 1 3 3 3 2 3 3 6 4 8 4 2 4 3 2 6 2 9 4 13 1 7 4 8 3 11 3 3 4 9 3 7 2 3 2 3 2 1 2 3 1 3 2 2 2 2 1 2 2 3 3 3 3 4 4 6 4 6 4 6 4 7 4 7 3 11 4 6 5 6 4 6 5 6 4 5 4 4 3 3 3 6 2 2 2 2 2 2 2 2 2 3 2 2 2 3 2 3 2 2 3 4 1 4 4 3 2 12 3 8 4 7 1 5 2 6 4 8 4 16 5 2 2 5 2 1 3 3 2 3 1 3 2 3 2 3 1 3 1 2 2 2 2 2 2 2 3 3 2 4 4 5 5 6 4 7 4 6 5 6 4 10 5 6 5 6 5 6 4 7 4 5 4 4 2 3 2 3 2 2 2 14 1 3 2 3 3 2 2 3 2 8 4 1 4 17 5 7 4 6 2 5 2 6 4 8 4 17 3 2 4 8 2 3 2 4 2 3 1 9 1 3 1 8 2 2 2 4 2 3 4 5 5 6 5 6 5 6 5 6 5 9 5 6 5 6 5 7 5 6 4 6 3 3 2 4 2 8 1 3 1 2 1 3 1 3 1 6 2 3 1 1 1 3 2 3 2 2 4 4 1 12 2 4 4 8 4 6 2 5 2 7 3 8 5 3 2 4 2 11 4 1 3 3 2 2 1 1 3 2 2 6 2 2 2 2 1 2 1 3 1 2 1 6 1 2 2 1 1 3 3 5 5 6 5 7 5 6 5 6 5 9 5 6 5 7 5 7 4 7 4 5 3 5 2 5 1 3 1 2 1 9 1 3 1 3 1 4 1 3 2 4 2 3 3 1 3 11 4 2 4 2 5 7 4 7 2 5 2 7 4 7 5 2 4 2 4 12 1 3 2 3 1 15 2 23 1 5 2 5 3 4 5 6 5 7 5 7 5 6 5 10 4 6 5 7 5 7 5 7 5 3 3 1 2 5 2 2 1 4 1 2 2 1 2 1 2 2 1 5 1 10 2 2 2 4 2 10 2 4 4 2 4 3 4 7 4 6 3 5 3 7 2 9 3 3 4 2 5 3 3 9 2 4 7 1 2 2 2 5 1 2 2 2 1 2 1 2 1 2 1 2 1 4 2 5 2 1 3 3 4 7 5 7 6 6 5 7 4 11 4 7 5 7 5 7 6 6 4 3 2 2 2 2 1 8 1 2 1 2 1 2 1 2 1 2 1 2 2 2 1 3 1 2 2 3 1 2 2 4 2 3 2 3 5 2 5 3 3 3 3 9 2 7 3 5 3 7 2 9 3 3 3 3 5 2 5 2 3 3 2 20 2 2 1 2 1 11 1 2 1 2 1 5 1 7 1 3 3 7 5 7 6 7 5 6 5 11 5 7 4 7 6 7 6 7 2 3 2 6 1 2 1 2 1 2 1 6 1 2 1 10 1 3 1 4 1 3 2 2 1 4 2 3 3 2 5 2 4 5 2 3 3 9 2 7 3 5 3 8 1 10 1 5 1 5 3 4 4 2 3 3 1 1 1 2 3 1 3 1 2 4 2 3 1 4 1 2 1 4 1 2 1 1 1 4 1 2 1 6 1 2 3 2 2 6 6 8 5 7 5 7 5 12 5 6 5 7 6 7 6 6 2 3 2 2 2 5 1 4 1 2 1 1 1 2 1 1 1 2 1 5 1 4 2 9 1 3 2 1 3 4 2 3 4 4 2 20 2 1 1 8 3 5 4 7 4 20 1 6 2 4 2 4 2 13 2 9 1 2 1 4 1 4 1 1 1 2 1 4 1 2 2 1 1 8 2 5 6 8 5 7 6 6 5 13 5 7 5 7 6 7 7 4 2 11 2 4 1 1 1 16 1 3 1 5 3 2 1 2 2 2 1 9 2 33 4 7 4 5 4 7 5 32 2 1 1 3 1 2 3 1 2 2 1 7 1 3 1 6 1 2 1 1 1 1 1 1 1 5 1 2 1 1 2 12 1 3 7 8 6 7 5 7 4 15 4 7 6 7 5 9 6 3 3 2 2 3 1 5 1 6 1 1 1 1 1 1 1 1 1 1 1 2 1 7 1 7 2 6 2 1 3 4 2 32 5 7 4 5 4 7 5 27 1 4 2 1 2 1 2 10 3 2 1 4 1 4 1 2 1 1 1 1 1 1 1 1 1 1 1 1 1 1 1 4 1 4 3 1 3 2 3 3 6 8 6 7 6 6 5 15 5 7 5 7 6 9 5 3 3 7 2 1 1 7 1 1 1 1 1 6 1 1 1 2 1 2 1 5 2 8 2 2 1 6 5 3 2 6 1 20 5 7 4 5 4 7 5 10 2 8 1 5 3 3 1 1 3 3 1 2 2 2 1 9 2 5 1 2 1 14 1 1 1 4 1 11 3 3 4 10 6 7 5 7 5 15 5 7 5 8 6 10 3 19 2 1 1 4 1 2 1 4 1 5 1 2 2 7 1 4 2 6 2 6 1 3 3 12 5 9 5 7 4 5 4 7 5 8 6 11 4 7 2 1 2 6 3 3 3 6 2 9 1 2 1 2 1 6 1 5 1 2 3 9 3 10 6 8 5 7 5 15 5 7 5 8 7 9 3 5 2 2 3 2 2 1 1 2 1 3 1 2 1 3 1 2 1 1 1 1 1 7 2 3 1 5 3 2 1 6 3 6 4 10 7 8 4 7 5 5 5 7 4 8 7 11 3 3 2 1 2 3 2 18 2 5 1 1 1 1 1 10 1 1 1 3 2 6 2 1 4 4 3 9 7 8 5 7 5 14 6 7 5 8 7 9 3 4 4 10 1 11 2 9 1 7 1 15 2 5 3 3 3 10 8 8 4 7 5 5 5 7 4 8 8 10 3 3 2 3 2 11 3 3 4 6 1 6 2 10 1 5 1 7 5 3 3 8 8 8 5 7 6 13 6 6 6 8 8 8 11 3 2 2 2 2 1 4 1 9 2 6 2 2 3 4 4 4 2 5 2 3 3 2 2 11 7 8 5 7 5 5 5 7 5 8 6 12 2 2 5 6 5 18 1 4 1 2 1 9 1 2 2 2 1 3 3 1 12 7 8 9 6 7 5 13 5 7 6 9 8 7 13 1 2 9 1 12 1 1 1 22 5 6 4 3 2 13 3 10 5 8 4 5 4 7 7 10 2 13 2 5 1 8 4 8 2 4 3 3 1 2 1 12 1 5 1 7 13 7 8 9 6 7 5 13 6 6 6 9 8 7 13 7 2 2 1 15 2 9 5 7 4 8 1 5 3 13 1 10 7 7 4 5 4 7 7 10 1 13 3 14 3 8 5 32 3 3 13 6 9 8 6 7 6 13 6 7 6 8 9 6 13 3 3 22 3 8 4 8 3 14 2 13 2 10 6 8 4 5 5 7 5 10 3 13 2 15 1 10 2 9 4 15 2 4 3 3 13 6 9 8 6 7 5 15 5 7 6 9 8 6 13 3 2 5 2 17 1 38 2 11 6 9 5 7 5 5 5 7 5 9 6 11 2 38 1 17 2 5 2 3 13 6 8 9 6 7 5 15 5 7 6 9 8 6 13 3 3 4 2 15 4 9 2 10 1 15 2 13 3 10 5 7 5 5 4 8 6 10 2 13 2 14 3 8 4 8 3 22 3 3 13 6 8 8 6 7 6 15 6 7 6 8 8 6 13 3 3 32 5 8 3 14 3 13 1 10 7 7 4 5 4 7 7 10 1 13 3 5 1 8 4 7 5 9 2 15 1 2 2 7 13 7 7 8 6 7 6 15 6 7 6 7 8 7 13 7 1 5 1 12 1 2 1 3 3 4 2 8 4 8 1 5 2 13 2 10 7 7 4 5 4 8 5 10 3 13 2 3 4 6 5 22 1 1 1 12 1 9 2 1 13 7 8 7 6 7 6 15 6 7 5 8 8 7 12 1 3 3 1 2 2 2 1 9 1 2 1 4 1 18 5 6 5 2 2 12 6 8 5 7 5 5 5 7 5 8 7 11 2 2 3 3 2 5 2 4 4 4 3 2 2 6 2 9 1 4 1 2 2 2 2 3 11 8 7 8 6 7 5 15 5 7 6 8 7 8 3 3 5 7 1 5 1 10 2 6 1 6 4 3 3 11 2 3 2 3 3 10 8 8 4 7 5 5 5 7 4 8 8 10 3 3 3 5 2 15 1 7 1 9 2 11 1 10 4 4 3 9 7 7 6 7 5 15 5 7 5 8 7 9 3 4 4 1 2 6 2 3 1 1 1 10 1 1 1 1 1 5 2 18 2 3 2 1 2 3 3 11 7 8 4 7 5 5 5 7 4 8 7 10 4 6 3 6 1 2 3 5 1 3 2 7 1 1 1 1 1 2 1 3 1 2 1 3 1 2 1 1 2 2 3 2 2 5 3 9 7 8 6 7 5 13 5 7 5 8 7 10 3 9 3 2 1 5 1 6 1 2 1 2 1 9 2 6 3 3 3 6 2 1 2 7 4 11 6 8 5 7 4 5 4 7 5 9 5 12 3 3 1 6 2 6 2 4 1 7 2 2 1 5 1 4 1 2 1 4 1 1 2 19 3 10 7 8 5 7 5 13 5 6 6 8 6 10 4 3 3 11 1 4 1 1 1 14 1 2 1 5 2 9 1 2 2 2 1 3 3 1 1 3 3 5 1 8 2 10 5 7 4 5 4 7 5 20 1 6 2 3 5 6 1 2 2 8 2 5 1 2 1 2 1 1 1 6 1 1 1 1 1 7 1 1 2 7 3 3 5 9 7 7 6 7 4 13 4 7 6 7 7 8 6 3 3 2 3 1 3 4 1 4 1 1 1 1 1 1 1 1 1 1 1 1 1 1 1 2 1 4 1 4 1 2 3 10 2 1 2 1 2 4 1 27 5 7 4 5 4 7 5 32 2 4 3 1 2 6 2 7 1 7 1 2 1 1 1 1 1 1 1 1 1 1 1 6 1 5 1 3 2 2 3 3 6 9 6 8 5 7 5 11 5 7 5 8 6 8 7 3 1 12 2 1 1 2 1 5 1 1 1 1 1 1 1 2 1 6 1 3 1 7 1 2 2 1 3 2 1 3 1 1 2 32 5 7 4 5 4 7 4 33 2 9 1 2 2 2 1 2 3 5 1 3 1 16 1 1 1 4 2 11 2 4 7 8 5 8 5 7 5 12 4 7 5 7 6 8 6 5 2 8 1 1 2 2 1 4 1 2 1 1 1 4 1 4 1 2 1 9 2 13 2 4 2 4 2 6 1 20 4 7 4 5 3 8 1 1 2 20 2 4 4 3 2 4 3 1 2 3 1 9 2 4 1 5 1 2 1 1 1 2 1 1 1 2 1 4 1 5 2 2 2 3 2 6 6 7 6 7 5 6 5 13 5 6 5 7 5 8 6 6 2 2 3 2 1 6 1 2 1 4 1 1 1 2 1 4 1 2 1 4 1 3 2 4 2 1 3 1 3 2 1 1 1 3 3 2 4 4 3 5 1 5 1 10 1 8 3 5 3 7 2 9 3 3 2 5 4 2 5 2 3 3 2 4 1 2 2 3 1 4 1 3 1 10 1 2 1 6 1 2 1 2 1 2 1 6 2 3 2 7 6 7 5 7 5 6 5 13 5 6 5 7 5 7 5 7 3 3 1 7 1 5 1 2 1 2 1 11 1 2 1 2 2 20 2 3 3 2 5 2 5 3 3 3 3 9 2 7 3 5 3 7 2 9 3 3 3 3 5 2 5 3 2 3 2 4 2 2 1 3 2 2 1 3 1 2 2 2 1 2 1 2 1 2 1 2 1 2 1 8 1 2 2 2 2 3 4 6 6 7 4 7 5 6 5 13 4 7 5 6 5 7 5 7 4 3 3 1 2 5 2 4 1 2 1 2 1 2 1 2 1 2 2 2 1 5 2 2 2 1 7 4 2 9 3 3 5 2 4 3 3 9 2 7 3 5 3 6 4 7 4 3 4 2 4 4 2 10 2 4 2 2 2 10 1 5 1 2 2 1 2 1 2 2 1 4 1 2 2 5 2 1 3 3 5 7 5 6 5 6 5 7 4 13 4 6 5 7 4 7 5 6 5 4 3 5 2 5 1 23 2 15 1 3 2 3 1 12 4 2 4 2 5 7 4 7 2 5 2 7 4 7 5 2 4 2 4 11 3 1 3 3 2 4 2 3 1 4 1 3 1 3 1 9 1 2 1 3 1 5 2 5 3 5 4 7 4 7 5 6 5 6 4 12 5 6 5 6 5 6 5 6 5 5 3 3 1 1 2 2 1 6 1 2 1 3 1 2 1 2 2 2 2 6 2 2 3 1 1 2 2 3 3 1 4 11 2 4 2 3 5 8 3 7 2 5 2 6 4 8 4 4 2 12 1 4 4 2 2 3 2 3 1 1 1 3 2 6 1 3 1 3 1 2 1 3 1 8 2 4 2 3 3 6 4 6 5 7 4 7 4 7 4 11 4 7 4 7 4 6 5 6 5 5 4 3 2 4 2 2 2 8 1 3 1 9 1 3 2 4 2 3 2 8 4 2 3 17 4 8 4 6 2 5 2 6 4 7 5 17 4 1 4 8 2 3 2 2 3 3 2 3 1 14 2 2 2 3 2 3 2 4 4 5 4 7 4 6 5 6 5 6 5 9 4 7 4 7 4 7 4 6 5 5 4 4 2 3 3 2 2 2 2 2 2 2 1 3 1 3 2 3 2 3 1 3 2 3 3 1 2 5 2 2 5 16 4 8 4 6 2 5 1 7 4 8 3 12 2 3 4 4 1 4 3 2 2 3 2 3 2 2 2 3 2 2 2 2 2 2 2 2 2 6 3 3 3 4 4 5 4 6 5 6 5 6 5 6 4 9 4 6 4 7 4 7 4 6 4 6 4 4 3 3 3 3 2 2 1 2 2 2 2 3 1 3 2 1 2 3 2 3 2 7 3 9 4 3 3 11 3 8 4 7 1 13 4 9 2 6 2 3 4 2 4 8 4 6 3 3 2 3 3 3 1 1 1 3 1 4 2 4 2 3 3 3 3 5 4 5 4 6 4 7 4 7 4 6 4 8 4 7 4 7 4 6 5 6 4 5 4 4 3 4 3 3 2 4 2 3 3 3 2 3 3 3 2 3 3 1 2 4 3 2 2 5 3 2 4 3 3 16 4 21 4 16 4 2 4 3 2 5 3 1 3 3 3 7 2 3 3 3 2 3 3 3 2 4 2 3 3 4 3 5 4 5 4 6 4 7 4 6 4 7 4 7 4 7 4 6 4 7 4 6 4 5 4 4 4 4 2 4 2 4 2 3 3 3 2 3 3 3 3 6 3 4 1 2 4 10 3 2 4 17 3 13 1 7 3 17 4 3 2 10 4 7 3 3 1 2 3 3 3 3 2 3 3 3 2 4 2 4 3 4 3 5 3 6 4 5 5 6 4 7 3 7 4 7 3 8 3 7 4 6 4 6 4 5 4 4 4 4 3 3 3 3 3 3 3 3 2 3 3 4 1 2 2 4 2 8 3 15 4 17 3 21 3 16 5 10 2 3 3 4 2 2 2 4 2 7 2 4 2 3 3 3 3 3 3 3 3 5 3 4 4 5 4 6 4 7 3 7 3 7 4 8 3 7 3 7 3 7 4 5 4 6 3 5 3 4 3 4 3 3 3 3 3 3 2 4 2 7 3 7 2 4 3 2 3 11 4 8 2 7 1 31 2 8 4 10 4 3 1 4 3 8 1 7 3 3 3 3 3 3 3 3 3 4 3 4 3 5 4 5 4 6 3 7 3 7 3 7 3 9 3 7 3 7 3 6 4 6 4 5 3 5 3 5 3 4 2 4 3 3 3 3 3 3 3 10 2 4 3 8 4 3 2 5 3 8 3 8 2 20 1 8 3 9 1 6 3 2 4 8 3 3 3 4 2 4 3 3 3 3 3 4 2 4 3 3 4 4 3 5 3 6 3 7 3 6 3 7 3 7 3 9 2 8 3 7 3 6 3 7 3 5 4 5 3 4 3 4 3 4 2 4 3 3 3 3 3 4 2 4 3 4 2 3 1 5 2 3 3 16 4 7 1 29 4 15 4 10 2 2 2 4 3 3 3 4 2 4 3 3 3 4 2 4 3 4 3 4 4 4 4 6 3 6 3 7 3 7 2 9 1 9 1 9 2 8 2 7 3 6 3 6 3 5 3 5 3 4 3 3 3 4 3 3 3 4 3 3 3 3 3 8 3 9 4 15 4 37 3 16 4 9 3 8 2 4 3 3 3 4 3 3 3 4 3 4 2 4 3 5 3 5 4 5 3 7 2 7 2 8 2 9 1 9 1 9 2 8 2 6 3 7 3 5 4 5 3 4 3 4 3 4 3 4 3 3 3 4 3 4 2 4 2 8 3 9 4 16 3 9 1 27 3 16 3 6 2 3 2 4 2 2 1 5 2 4 3 4 2 4 3 4 3 4 3 4 3 4 3 6 3 6 3 6 3 8 1 47 1 8 3 6 3 6 3 5 3 5 3 4 3 4 3 4 3 3 3 4 3 4 2 8 2 9 3 5 2 9 2 7 1 47 3 15 3 9 2 7 3 4 3 4 2 4 3 4 3 4 3 4 3 5 3 6 2 6 3 6 2 9 1 47 1 17 3 5 3 6 3 5 3 4 3 4 3 4 3 4 2 5 2 4 2 8 2 9 3 15 3 55 2 16 3 5 1 19 2 5 2 5 2 4 3 4 3 5 2 5 3 6 2 7 2 8 2 64 1 8 1 8 2 6 2 5 3 5 3 4 3 4 3 4 3 4 2 18 3 4 3 9 1 24 3 17 4 9 4 9 3 8 3 4 3 18 2 4 3 4 3 4 3 5 2 5 3 5 3 6 2 7 2 81 2 7 2 6 3 5 3 5 2 5 2 5 2 5 2 5 2 12 2 4 3 4 2 9 3 9 4 9 4 17 1 43 3 4 2 5 1 5 3 5 2 5 2 5 2 5 3 5 2 5 3 6 2 7 1 53 2 36 2 6 2 6 2 5 3 5 2 5 2 5 3 4 3 5 1 5 2 4 3 9 3 10 2 10 3 20 3 8 4 8 5 8 4 8 3 4 2 4 2 5 2 5 3 5 2 5 2 5 2 6 2 52 2 23 2 8 1 35 1 7 2 6 1 6 2 5 2 5 3 5 1 6 2 4 2 5 1 9 4 8 5 8 4 8 3 20 4 9 2 11 2 16 2 4 2 5 2 6 1 6 2 6 1 6 2 6 1 7 1 34 3 7 1 33 3 49 2 6 1 7 1 6 1 6 2 5 2 5 1 9 2 11 2 44 3 11 4 7 5 9 3 22 2 5 2 6 2 5 2 6 1 41 2 7 2 43 2 7 2 7 1 40 1 6 2 6 1 30 3 9 5 7 5 9 4 18 2 11 4 8 4 97 2 7 2 61 2 6 3 6 2 82 2 60 2 9 4 10 4 82 2 6 3 78 1 7 2 7 1 66 2 6 5 8 5 8 4 11 1 21 2 8 5 8 5 6 2 5 1 6 1 45 1 7 2 6 2 95 1 7 2 7 1 7 1 30 1 6 2 4 2 5 2 7 1 54 2 8 3 13 2 12 2 5 3 4 2 5 3 5 2 6 2 6 2 5 3 6 2 6 1 120 2 6 2 6 2 6 2 6 2 5 3 5 2 4 2 7 4 8 5 9 5 8 3 20 1 9 5 9 5 7 4 14 2 5 2 6 2 6 2 6 2 6 1 115 1 37 1 6 2 6 2 6 1 23 3 7 3 91 1 69 1 8 1 94 1 62 1 5 3 10 3 8 5 9 3 30 4 9 5 8 4 9 3 4 3 4 2 6 1 40 1 119 1 7 2 6 2 6 2 6 2 6 2 6 2 5 2 4 3 9 4 23 2 76 2 5 2 6 2 6 2 6 2 6 2 999999"/><use href="#S168x172" stroke="#f80" stroke-dasharray="0 132 3 83 2 615 2 9 3 10 2 47 1 11 3 9 2 616 1 10 3 57 4 9 3 265 2 11 2 346 2 46 2 9 4 9 4 278 3 10 2 392 4 8 3 11 2 23 1 190 1 7 1 6 1 19 2 16 2 11 3 8 4 69 1 5 2 12 1 28 1 147 1 42 1 5 1 62 2 43 1 26 1 6 2 5 1 14 1 133 1 13 2 5 2 5 2 26 1 6 1 35 3 55 1 6 1 19 2 5 2 5 2 5 2 5 2 6 1 126 1 13 2 6 1 6 1 6 1 5 2 25 2 92 3 25 2 5 2 5 2 5 1 6 2 5 2 6 2 6 2 93 1 16 1 6 2 6 1 5 3 4 2 5 2 5 2 5 1 8 2 9 3 92 2 9 2 8 1 5 2 5 2 5 2 4 3 4 2 6 2 118 2 6 2 6 1 6 2 5 2 4 2 5 2 4 3 4 2 9 1 5 1 4 1 7 1 77 2 11 2 8 1 5 2 4 3 4 2 5 2 4 2 5 2 5 2 6 2 6 2 7 1 86 2 7 2 6 2 6 2 5 2 5 2 4 2 5 2 4 2 5 2 4 2 8 3 9 3 18 1 58 3 10 2 8 2 4 2 5 2 4 3 4 2 4 2 5 2 5 2 5 2 7 2 7 2 67 1 9 1 8 1 8 2 6 2 5 3 4 3 4 2 4 2 4 3 4 2 4 2 4 3 4 1 3 2 10 3 17 2 39 2 17 3 4 1 9 2 4 3 4 2 4 2 4 3 4 2 4 2 4 3 4 2 5 3 6 2 7 1 8 2 69 1 9 2 6 3 5 3 5 2 5 2 4 2 4 2 4 3 4 2 10 2 4 3 9 2 4 2 17 2 39 2 10 1 12 3 8 3 4 1 12 2 4 2 4 2 4 2 4 2 5 2 5 3 5 3 6 3 8 1 50 1 9 2 8 2 7 2 7 2 6 3 4 3 4 2 4 2 4 2 4 2 4 2 17 3 8 3 12 2 10 1 50 3 11 2 3 2 5 2 8 1 8 2 4 2 4 2 3 3 3 3 4 2 5 3 5 3 6 3 7 2 8 2 9 1 9 1 11 1 9 1 9 2 8 2 8 2 6 3 5 3 5 2 4 3 3 3 3 2 4 2 4 2 8 1 4 1 3 2 4 3 16 3 42 1 18 4 15 3 8 2 4 1 8 2 4 2 4 2 3 2 4 2 4 3 4 3 6 3 5 3 8 2 8 2 9 1 42 2 7 3 7 3 6 3 5 3 4 3 4 2 4 2 3 2 4 2 3 3 4 1 8 2 8 3 15 4 17 3 21 3 17 4 3 2 10 3 8 3 7 2 3 3 3 2 4 2 3 2 4 2 4 2 5 2 6 2 7 3 6 3 7 3 8 2 23 2 8 2 8 3 7 3 7 3 6 3 5 3 4 3 3 2 4 2 3 2 4 2 3 3 3 2 7 2 4 2 3 2 11 2 4 3 17 3 21 3 18 2 3 4 3 2 9 3 4 2 2 1 4 2 3 3 3 2 4 2 3 2 4 2 3 3 4 3 5 3 6 3 7 3 7 3 8 2 8 2 12 3 8 2 8 3 7 3 7 4 6 3 5 3 4 2 3 2 4 2 10 1 3 3 3 2 3 2 8 2 10 3 3 2 23 4 21 4 9 1 13 2 3 4 9 3 7 2 3 2 3 2 6 1 3 1 3 1 6 2 3 2 4 3 5 3 6 3 7 4 6 4 8 2 8 3 11 3 8 3 8 3 7 4 6 4 6 3 5 2 4 2 7 1 2 2 2 2 2 2 3 1 7 2 3 2 4 1 2 3 9 4 17 2 9 3 23 3 8 3 18 3 3 2 5 1 3 2 3 2 3 1 4 1 3 2 14 2 2 2 2 2 4 2 5 3 6 3 7 4 7 3 8 3 9 2 11 3 8 3 8 3 8 3 7 4 6 3 4 2 8 2 22 2 8 2 3 2 8 3 3 3 17 4 8 3 8 1 5 1 8 2 9 4 17 3 3 3 8 2 3 1 37 2 4 2 4 3 6 4 7 3 8 3 8 3 8 3 11 3 8 3 8 3 8 4 7 4 6 3 3 2 4 2 19 1 10 1 4 1 5 2 7 4 23 4 9 2 8 1 5 1 8 2 9 4 5 1 18 3 2 2 3 2 4 3 25 1 13 1 1 1 3 3 6 3 7 4 8 4 8 3 8 3 11 3 8 3 8 4 8 4 7 4 5 3 5 2 26 1 3 1 8 1 5 2 3 2 3 2 12 2 4 2 4 4 10 1 8 1 5 1 20 3 4 2 3 4 16 2 3 1 40 1 12 3 4 4 8 4 7 5 8 3 8 3 11 3 8 4 8 4 8 4 7 5 3 3 1 1 25 1 19 1 3 1 5 2 10 1 5 4 3 3 3 3 20 1 5 2 19 3 3 3 3 5 3 3 9 2 4 2 2 2 2 1 10 1 2 1 3 1 2 1 2 1 2 1 14 2 1 3 3 4 7 5 8 4 8 4 8 3 11 4 7 5 7 4 9 4 8 3 3 2 15 1 2 1 2 1 2 1 2 1 2 1 2 2 10 1 7 1 4 2 9 4 2 5 3 3 4 2 18 3 5 3 18 2 5 1 5 4 2 5 3 2 3 2 20 1 3 1 17 1 2 1 5 1 7 1 3 2 8 5 8 5 7 4 8 4 11 5 7 4 8 5 8 4 8 2 17 1 23 1 12 1 3 1 5 1 3 3 2 4 4 3 31 3 5 3 32 2 4 4 3 2 5 1 2 3 1 2 8 2 16 1 12 1 9 2 3 2 7 5 8 5 8 4 7 4 13 4 8 4 8 4 9 5 6 2 3 2 9 1 29 1 13 2 1 3 4 2 3 3 6 1 32 3 5 3 10 1 28 2 4 2 4 2 24 1 25 1 11 2 5 6 9 4 8 4 8 3 15 4 7 5 7 5 9 5 5 2 11 1 35 1 6 2 2 1 9 2 33 2 10 3 5 3 9 3 33 2 1 1 3 1 2 3 1 2 2 1 23 1 1 1 26 1 4 6 8 5 8 5 7 4 15 4 8 4 8 5 9 5 4 1 15 1 8 1 1 1 1 1 1 1 1 1 10 1 8 1 6 2 1 3 4 2 33 3 9 3 5 3 8 5 32 2 1 2 1 2 10 2 16 1 9 1 1 1 12 1 3 1 3 2 5 4 10 5 8 4 8 4 15 4 8 4 9 5 10 3 5 2 7 1 10 1 1 1 13 1 2 1 26 2 2 1 3 2 27 5 7 4 5 4 8 4 26 3 3 1 2 1 4 1 2 1 20 1 17 1 1 1 4 1 18 3 10 5 8 5 7 5 15 5 7 5 8 5 11 2 23 1 18 1 2 2 13 1 6 2 10 3 14 2 10 4 8 4 5 4 8 3 10 5 12 3 7 2 1 2 6 2 5 1 8 1 9 1 5 1 6 1 9 1 11 2 10 6 8 5 7 5 15 5 7 5 9 5 10 2 10 2 3 1 31 2 14 1 6 2 7 3 12 5 11 2 8 4 5 4 8 2 10 7 11 3 4 1 2 1 4 1 19 1 20 1 5 1 11 2 6 2 9 6 9 5 7 5 15 4 8 5 9 6 9 2 6 2 58 2 6 2 3 2 12 6 21 4 5 4 21 6 12 2 3 2 3 2 12 1 5 2 7 1 6 1 11 1 14 3 5 2 9 6 9 5 8 4 15 4 8 5 9 7 8 2 6 2 8 2 30 1 20 2 3 3 2 2 12 6 9 1 11 4 5 4 8 4 11 3 13 2 2 1 1 3 6 2 1 1 24 1 2 1 20 2 3 3 2 2 2 2 8 7 9 5 8 5 13 5 8 5 9 7 8 2 1 3 2 4 26 1 1 1 22 4 7 4 3 2 13 2 11 5 8 3 7 3 8 5 26 2 14 3 16 1 7 1 27 5 1 3 1 2 7 8 9 5 8 5 13 5 8 5 9 8 7 2 1 9 28 2 10 3 9 3 14 2 26 5 8 3 7 3 8 5 26 2 15 1 10 3 34 1 5 9 1 2 7 7 10 5 8 4 15 5 7 5 10 7 7 2 1 9 4 2 24 2 9 1 27 2 26 5 8 3 7 3 9 4 11 2 13 2 38 2 23 2 4 9 1 2 7 7 9 6 7 5 15 5 7 6 9 7 7 12 4 2 63 2 13 3 11 2 10 3 7 3 10 2 11 3 13 2 63 2 4 12 7 7 9 5 8 5 15 5 8 5 9 7 7 2 1 9 4 2 23 2 38 2 13 2 11 4 9 3 7 3 8 5 26 2 27 1 9 2 24 2 4 9 1 2 7 7 9 5 8 4 17 4 8 5 9 7 7 2 1 9 5 1 34 3 10 1 15 2 26 5 8 3 7 3 8 5 26 2 14 3 9 3 10 2 28 9 1 2 7 7 9 5 8 4 17 4 8 5 9 7 7 2 1 3 1 5 27 1 7 1 16 3 14 2 26 5 8 3 7 3 8 5 11 2 13 2 3 4 7 4 22 1 1 1 26 4 2 3 1 2 8 6 9 5 8 4 17 4 8 5 8 7 8 2 2 2 2 3 3 2 20 1 2 1 24 1 1 2 6 3 1 1 2 2 13 3 11 4 8 4 5 4 11 1 9 6 12 2 2 3 3 2 20 1 30 2 8 2 6 2 8 7 8 5 8 5 15 5 7 6 8 6 9 2 5 3 14 1 11 1 6 1 7 2 5 1 12 2 3 2 3 2 12 6 21 4 5 4 21 6 12 2 3 2 6 2 58 2 6 2 9 6 9 5 7 5 15 4 8 5 9 6 9 2 6 2 11 1 5 1 20 1 19 1 4 1 2 1 4 3 11 7 10 2 8 4 5 4 8 2 11 5 12 3 7 2 6 1 14 2 31 1 3 2 10 2 10 6 9 4 8 4 15 4 8 4 9 6 10 2 11 1 9 1 6 1 5 1 9 1 8 1 5 2 6 2 1 2 7 3 12 5 10 3 8 4 5 4 8 4 10 2 14 3 10 2 6 1 13 2 2 1 18 1 23 2 11 5 9 5 8 4 13 4 8 5 8 6 10 3 18 1 4 1 1 1 17 1 20 1 2 1 4 1 2 1 3 3 26 4 8 4 5 4 7 5 27 2 3 1 2 2 26 1 2 1 13 1 1 1 10 1 7 2 5 3 11 5 9 4 8 4 13 4 7 5 8 6 10 4 5 2 3 1 3 1 12 1 1 1 9 1 16 2 10 2 1 2 1 2 32 5 8 3 5 3 9 3 33 2 4 3 1 2 6 1 8 1 10 1 1 1 1 1 1 1 1 1 8 1 15 1 4 5 9 6 8 5 7 4 13 4 7 5 8 5 9 6 4 1 26 1 1 1 23 1 2 2 1 3 2 1 3 1 1 2 33 3 9 3 5 3 10 2 33 2 9 1 2 2 6 1 35 1 11 2 5 5 9 5 8 5 7 4 13 4 7 5 8 4 9 6 5 2 11 1 25 1 24 2 4 2 4 2 28 1 10 3 5 3 32 1 6 3 3 2 4 3 1 2 13 1 29 1 9 2 3 2 6 5 9 4 9 3 8 4 13 4 8 3 8 5 8 5 7 2 3 2 9 1 12 1 16 2 8 2 1 3 2 1 5 2 3 4 4 2 32 3 5 3 31 3 4 4 2 3 3 1 5 1 3 1 12 1 23 1 17 2 8 4 8 5 8 3 8 4 13 4 8 3 8 4 8 5 8 2 3 1 7 1 5 1 2 1 17 1 3 1 20 2 3 2 3 5 2 4 5 1 5 2 18 3 5 3 18 2 4 3 3 5 2 4 9 2 4 1 7 1 10 2 2 1 2 1 2 1 2 1 2 1 2 1 15 2 3 3 8 4 8 4 8 3 8 4 13 4 8 3 8 3 8 5 7 4 3 3 1 2 14 1 2 1 2 1 2 1 3 1 2 1 10 1 2 2 2 2 4 2 9 3 3 5 3 3 3 3 19 2 5 1 20 3 3 3 3 4 5 1 10 2 5 1 3 1 19 1 25 1 1 3 3 5 7 4 8 3 8 4 8 3 13 3 8 4 8 3 7 4 8 4 4 3 12 1 40 1 3 2 16 4 3 2 4 3 20 1 5 1 8 1 10 4 4 2 4 2 12 2 3 2 3 2 5 1 8 1 3 1 26 2 5 3 5 4 7 4 7 4 8 3 8 3 13 3 8 3 7 4 8 4 7 3 6 3 3 1 1 1 13 1 25 3 4 2 3 2 2 3 18 1 5 4 9 2 8 1 5 1 8 2 9 4 23 4 7 2 5 1 4 1 10 1 19 2 4 2 3 3 6 4 7 4 7 4 7 3 8 3 12 4 7 3 8 3 8 3 7 4 6 3 4 2 4 2 37 1 3 2 8 3 3 3 17 4 9 2 8 1 5 1 8 3 8 4 17 3 3 3 8 2 3 2 8 2 22 2 8 2 4 3 6 4 7 3 8 3 8 3 9 2 11 2 8 4 8 3 7 4 7 3 6 3 5 2 4 2 2 2 2 2 14 2 3 1 4 1 3 2 3 2 3 1 5 2 3 3 18 3 8 3 23 3 9 2 17 4 9 3 2 1 4 2 3 2 7 1 3 2 2 2 2 2 2 1 7 2 4 2 5 3 6 4 6 4 8 3 8 3 8 2 11 2 8 2 8 3 8 4 7 3 6 3 5 3 4 2 3 2 6 1 3 1 3 1 6 2 3 2 3 2 7 3 9 4 3 2 13 1 9 4 21 4 23 2 3 3 10 2 8 2 3 2 3 3 3 1 10 2 4 2 3 2 4 3 5 3 6 4 7 3 8 3 8 2 8 2 11 2 8 2 8 3 8 3 7 3 6 3 5 3 4 3 3 2 4 2 3 2 4 2 3 3 3 2 4 1 2 2 4 3 9 2 3 4 3 2 18 3 21 3 17 3 4 2 11 2 3 2 4 2 7 2 3 3 3 2 4 2 3 2 4 2 3 3 4 3 5 3 6 3 7 3 8 3 8 2 42 2 8 3 6 3 7 2 6 2 5 2 4 2 4 2 3 2 4 2 3 3 3 2 7 3 8 3 10 2 3 4 17 3 21 3 17 4 15 3 8 2 8 1 4 3 3 2 4 2 3 2 4 2 4 3 4 3 5 3 6 3 7 3 9 1 10 1 9 1 9 1 9 2 8 2 9 2 8 3 5 3 6 3 4 3 4 2 4 2 3 2 4 2 4 2 8 1 4 2 8 3 15 4 18 1 42 3 16 3 4 2 3 1 4 1 8 2 4 2 4 2 3 3 3 3 4 2 5 3 5 3 6 2 8 2 8 3 8 2 8 2 10 1 9 1 9 2 8 2 7 3 6 3 5 3 5 2 4 3 3 3 3 2 4 2 4 2 8 1 8 2 5 2 3 2 11 3 50 1 10 2 12 3 8 3 17 2 4 2 4 2 4 2 4 2 4 3 4 3 6 2 7 2 7 2 8 2 9 1 9 1 32 1 16 3 6 3 5 3 5 2 5 2 4 2 4 2 4 2 4 2 12 1 4 3 8 3 12 1 10 2 39 2 17 2 4 2 9 3 4 2 10 2 4 3 4 2 4 2 4 2 5 2 5 3 5 3 6 2 9 1 69 2 8 1 7 2 6 3 5 2 4 3 4 2 4 2 4 3 4 2 4 2 4 3 4 2 9 1 4 3 17 2 39 2 17 3 10 2 3 1 4 3 4 2 4 2 4 3 4 2 4 2 4 3 4 3 5 2 6 2 8 1 7 2 77 2 7 2 7 2 5 2 5 2 5 2 4 2 4 3 4 2 5 2 4 2 8 2 10 3 18 1 39 1 18 3 9 3 8 2 4 2 5 2 4 2 5 2 4 2 5 2 5 2 6 2 6 2 7 2 86 1 7 2 6 2 6 2 5 2 5 2 4 2 5 2 4 3 4 2 5 1 8 2 11 2 18 1 58 1 7 1 4 1 5 1 9 2 4 3 4 2 5 2 4 2 5 2 6 1 6 2 6 2 118 2 6 2 4 3 4 2 5 2 5 2 5 1 8 2 9 2 92 3 9 2 8 1 5 2 5 2 5 2 4 3 5 1 6 2 6 1 16 1 93 2 6 2 6 2 5 2 6 1 5 2 5 2 5 2 25 3 16 1 75 2 25 2 5 1 6 1 6 1 6 2 13 1 126 1 6 2 5 2 5 2 5 2 5 2 19 1 6 1 69 1 23 1 6 1 26 2 5 2 5 2 13 1 133 1 14 1 5 2 6 1 26 1 107 1 5 1 42 1 147 1 28 1 12 2 5 1 69 4 9 3 9 3 16 2 19 1 6 1 7 1 190 1 23 2 10 3 9 4 33 1 48 1 310 2 9 3 11 1 266 4 9 2 58 3 359 2 264 4 10 3 57 3 10 3 368 1 256 3 12 2 44 1 12 3 9 1 604 1 24 1 71 1 12 1 243 1 999999"/><use href="#S168x172" stroke="#f00" stroke-dasharray="0 1622 1 713 2 280 1 1852 1 197 1 13 1 5 2 5 2 33 1 93 1 27 1 5 2 5 1 6 1 6 1 149 2 5 1 19 1 5 2 119 1 15 2 5 1 12 1 13 1 13 1 121 1 6 2 12 2 4 2 5 1 12 2 4 2 9 1 11 1 78 2 11 2 8 2 5 1 5 2 4 2 5 2 4 2 5 1 6 2 143 1 5 2 5 1 5 1 5 2 5 1 5 2 20 3 77 2 16 1 4 2 12 1 5 1 5 2 4 2 5 1 6 1 6 2 6 1 106 2 7 1 6 2 5 2 4 2 4 2 5 1 5 1 12 1 5 2 9 1 90 2 9 3 17 1 5 2 4 2 4 2 4 2 5 2 6 1 16 1 89 1 17 1 6 1 5 2 4 2 4 2 4 2 5 1 17 2 10 2 76 1 13 1 4 1 5 2 17 2 4 2 4 2 4 1 5 2 4 2 5 2 6 2 90 2 17 2 6 2 5 2 5 1 5 1 4 2 4 2 4 2 23 3 16 2 63 2 16 3 8 2 13 2 4 2 4 1 4 2 4 2 5 2 5 2 6 2 7 2 91 2 8 1 7 2 5 2 4 2 4 2 4 1 4 2 4 1 14 2 8 3 16 3 62 2 17 2 8 3 7 2 4 1 4 2 4 1 4 2 4 2 4 2 5 2 6 2 8 1 74 1 9 1 17 2 6 2 5 2 4 2 4 2 4 1 4 2 4 1 4 2 7 2 5 1 3 2 11 2 4 2 69 2 16 2 13 2 4 1 4 2 4 1 4 2 4 2 4 1 5 2 6 3 6 2 8 2 9 1 65 1 9 2 7 2 6 2 5 1 4 2 4 2 10 1 4 1 4 2 3 2 8 2 10 2 4 2 50 1 29 4 9 3 7 2 3 2 4 1 21 2 4 1 4 2 6 2 8 2 87 1 8 2 7 2 6 2 4 1 32 2 3 2 7 2 10 3 30 1 24 2 10 1 19 3 4 1 9 2 3 2 37 1 4 2 5 3 6 3 8 2 8 2 57 2 8 3 8 2 7 3 4 2 42 2 3 2 9 2 3 3 18 2 10 2 23 2 10 2 19 1 4 3 8 2 3 1 43 2 4 2 7 3 9 2 8 3 8 2 35 2 8 2 10 2 8 3 7 2 4 2 47 2 8 3 23 3 47 3 24 2 3 2 3 2 4 2 42 1 4 1 7 3 8 2 11 2 8 2 25 1 8 2 10 1 11 3 8 3 6 1 54 1 3 2 3 1 13 1 11 3 47 3 4 2 4 2 17 2 58 1 6 3 8 3 9 2 11 2 8 2 13 2 8 2 11 2 9 3 9 3 5 1 52 1 5 2 16 3 4 2 5 2 47 2 5 1 5 3 4 2 10 2 4 2 2 2 48 1 4 3 9 3 10 2 11 1 9 2 13 2 10 2 9 2 11 3 8 3 4 1 53 1 4 2 9 3 4 3 5 1 34 1 32 3 4 3 4 2 3 2 63 2 9 3 11 2 9 2 10 2 13 2 10 2 9 4 9 4 8 2 54 1 13 2 3 4 4 3 32 2 5 2 33 1 5 4 3 2 5 1 2 2 2 2 54 2 7 5 8 3 10 3 11 1 15 2 8 3 10 3 9 4 7 2 58 1 3 2 4 2 4 2 40 2 5 2 46 2 4 2 62 2 6 4 10 3 10 3 8 2 17 2 9 3 9 3 10 5 5 2 68 2 46 2 5 2 11 1 34 2 8 2 59 1 4 5 11 3 8 4 9 2 17 2 10 3 8 5 10 4 4 1 59 1 2 2 5 2 33 3 10 2 5 2 10 3 33 1 2 2 2 1 68 4 10 4 9 3 10 2 17 2 10 3 10 3 11 3 71 2 2 1 33 3 10 2 5 1 11 3 28 2 6 1 7 1 64 2 12 3 10 3 10 2 17 2 10 3 10 3 12 2 67 2 10 2 29 2 9 1 1 1 5 4 9 1 12 1 15 3 7 1 3 1 67 2 12 3 10 3 9 4 15 4 9 3 10 4 11 2 70 2 7 2 14 4 21 3 7 3 21 5 13 2 7 1 4 1 66 2 10 5 10 3 9 4 15 4 8 4 10 5 10 2 66 1 7 2 3 2 13 5 21 3 7 3 22 4 13 2 3 2 3 2 69 2 9 6 10 4 8 4 15 4 8 3 11 6 9 2 69 2 8 2 13 2 24 3 7 3 39 2 79 2 9 6 10 4 8 4 15 4 8 4 11 5 9 2 73 1 1 1 3 2 27 2 10 2 9 1 10 3 27 2 69 3 7 2 8 5 12 4 8 4 15 4 8 4 12 5 8 2 6 4 69 2 26 4 10 1 9 1 10 4 26 2 69 5 3 1 1 2 8 5 11 5 8 4 15 4 8 5 11 5 8 2 1 1 3 5 69 2 27 2 11 1 8 3 10 2 27 2 69 5 3 1 1 2 8 5 11 4 9 4 16 3 9 4 11 5 8 2 1 1 3 5 69 2 14 1 24 3 7 3 24 1 14 2 69 5 3 1 1 2 8 5 10 5 8 4 17 4 8 5 10 5 8 2 1 1 3 5 69 2 27 2 10 3 8 1 11 2 27 2 69 5 3 1 1 2 8 5 10 5 8 3 19 3 9 4 10 5 8 2 1 1 3 5 69 2 26 4 10 1 9 1 10 4 26 2 69 4 6 2 8 5 10 4 9 3 19 3 9 4 10 5 8 2 7 3 69 2 27 3 10 1 9 2 10 2 27 2 3 1 1 1 73 2 9 4 10 5 8 3 18 4 8 5 9 5 9 2 79 2 39 3 7 3 24 2 13 2 8 2 69 2 9 5 10 4 8 4 17 4 8 4 9 6 9 2 69 2 3 2 3 2 13 4 22 3 7 3 21 5 13 2 3 2 7 1 66 2 10 5 10 3 9 4 15 4 9 3 10 5 10 2 66 1 4 1 7 2 13 5 21 3 7 3 21 4 14 2 7 2 70 2 11 4 11 3 9 3 15 3 9 3 11 3 12 2 67 1 3 1 7 3 15 1 12 1 9 4 5 1 1 1 9 2 29 2 10 2 67 2 12 3 11 3 9 3 15 3 9 3 11 3 12 2 64 1 7 1 6 2 28 3 11 1 5 2 10 3 33 1 2 2 71 3 11 5 9 4 8 3 15 3 8 4 9 5 10 4 68 1 2 2 2 1 33 3 10 2 5 2 10 3 33 2 5 2 2 1 59 1 4 4 11 4 9 4 8 3 15 3 8 3 10 3 11 5 4 1 59 2 8 2 34 1 11 2 5 2 46 2 68 2 5 5 10 3 11 2 8 3 16 2 8 2 11 3 10 4 6 2 62 2 4 2 46 2 5 2 40 2 4 2 4 2 3 1 58 2 7 4 9 3 10 3 8 2 17 2 8 3 10 3 8 5 7 2 54 2 2 2 2 1 5 2 3 4 5 1 33 2 5 2 32 3 4 4 3 2 13 1 54 2 8 4 9 3 9 3 26 1 11 2 8 3 10 3 9 2 63 2 3 2 4 3 4 3 32 1 34 1 5 3 4 3 9 2 4 1 53 1 4 3 8 3 10 3 8 2 11 1 15 1 11 2 8 3 9 3 9 3 4 1 48 2 2 2 4 2 10 2 4 3 5 1 5 2 47 2 5 2 4 3 16 2 5 1 52 1 5 3 9 3 8 3 8 2 10 2 15 2 20 3 8 3 8 3 6 1 58 2 17 2 4 2 4 3 47 3 11 1 13 1 3 2 3 1 54 1 6 3 8 3 9 1 11 2 8 2 15 2 8 2 9 1 11 2 8 3 7 1 4 1 42 2 4 2 3 2 3 2 24 3 47 3 23 3 8 2 47 2 4 2 7 3 8 2 9 2 9 2 35 2 8 3 8 2 9 3 7 2 4 2 43 1 3 2 8 3 4 1 19 2 10 2 23 2 10 2 18 3 3 2 9 2 3 2 42 2 4 3 7 2 8 3 8 2 57 1 9 2 8 3 6 3 5 2 4 1 37 2 3 2 9 1 4 3 19 1 10 2 24 1 30 3 10 2 7 2 3 2 32 1 4 2 6 2 7 2 8 1 56 1 9 1 10 1 9 2 8 2 6 2 4 1 4 2 21 1 4 2 3 2 7 3 9 4 29 1 50 2 4 2 10 2 8 2 3 2 4 1 4 1 10 2 4 2 4 1 5 2 6 2 7 2 9 1 10 1 9 1 43 1 10 1 9 2 6 3 6 2 5 1 4 2 4 2 4 1 4 2 4 1 4 2 13 2 16 2 69 2 4 2 11 2 3 1 5 2 7 2 4 1 4 2 4 1 4 2 4 2 4 2 5 2 6 2 17 1 84 1 8 2 6 2 5 2 4 2 4 2 4 1 4 2 4 1 4 2 7 3 8 2 17 2 62 3 16 3 8 2 14 1 4 2 4 1 4 2 4 2 4 2 5 2 7 1 8 2 91 2 7 2 6 2 5 2 5 2 4 2 4 1 4 2 4 2 13 2 8 3 16 2 63 2 16 3 23 2 4 2 4 2 4 1 5 1 5 2 5 2 6 2 17 2 90 2 6 2 5 2 4 2 5 1 4 2 4 2 4 2 17 2 5 1 4 1 13 1 76 2 10 2 17 1 5 2 4 2 4 2 4 2 5 1 6 1 17 1 89 1 16 1 6 2 5 2 4 2 4 2 4 2 5 1 17 3 9 2 90 1 9 2 5 1 12 1 5 1 5 2 4 2 4 2 5 2 6 1 7 2 106 1 6 2 6 1 6 1 5 2 4 2 5 1 5 1 12 2 4 1 16 2 77 3 20 2 5 1 5 2 5 1 5 1 5 2 5 1 143 2 6 1 5 2 4 2 5 2 4 2 5 1 5 2 8 2 11 2 78 1 11 1 9 2 4 2 12 1 5 2 4 2 12 2 6 1 121 1 13 1 13 1 12 1 5 2 15 1 119 2 5 1 19 1 5 2 149 1 6 1 6 1 5 2 5 1 27 1 93 1 33 2 5 2 5 1 13 1 197 1 2133 2 999999"/><use href="#S168x172" stroke="#800" stroke-dasharray="0 5200 2 196 1 18 1 108 1 21 2 18 1 5 1 6 1 157 1 37 2 21 1 102 1 37 1 137 1 20 1 5 1 5 1 18 1 5 1 113 1 24 1 5 1 5 1 12 1 146 1 5 1 5 1 5 1 23 2 113 1 24 1 5 1 5 1 5 1 6 1 6 1 117 1 7 1 7 1 5 1 5 1 5 1 5 1 30 1 82 2 16 3 24 1 5 1 4 1 5 1 5 1 5 1 134 1 6 1 5 2 4 1 5 1 4 1 5 1 14 2 8 2 17 2 63 2 17 2 9 1 14 1 5 1 4 1 5 1 4 1 5 2 5 2 120 1 7 1 6 1 5 1 4 1 5 1 4 1 5 1 4 2 8 1 117 2 13 2 4 1 5 1 4 1 5 1 4 1 5 1 6 1 7 1 104 2 8 1 7 1 5 1 5 1 4 1 16 1 4 2 4 1 8 2 10 2 87 2 10 2 8 2 3 2 4 1 21 1 5 1 5 1 7 1 115 2 6 2 4 1 37 2 8 1 10 3 87 3 14 1 4 2 37 1 4 1 7 1 8 1 9 1 79 1 9 2 8 1 6 1 43 1 3 2 9 2 4 1 94 3 8 2 47 1 5 2 8 2 9 1 10 1 79 2 8 1 5 1 47 2 8 2 25 1 48 2 25 2 8 2 5 1 47 1 8 1 92 2 9 2 7 1 58 2 30 2 48 1 12 1 17 2 58 1 6 2 10 2 71 1 10 1 10 2 6 1 58 2 17 2 11 1 61 3 5 1 10 2 4 2 2 2 48 1 5 2 22 2 59 2 12 1 10 1 5 1 58 2 9 3 4 3 73 3 4 3 5 1 69 1 9 3 12 1 49 1 23 2 9 1 69 2 4 3 5 1 41 1 40 2 4 2 9 1 3 1 55 1 8 3 10 1 12 1 39 1 11 2 11 2 8 1 63 1 5 2 46 1 7 1 46 2 5 1 63 1 7 2 12 2 11 1 28 2 21 2 12 3 6 1 69 2 46 1 54 2 9 1 59 1 5 3 13 1 22 2 17 2 11 1 25 3 4 1 63 1 6 1 34 1 31 1 41 1 68 3 12 1 12 1 11 2 17 2 11 2 11 2 12 2 71 2 37 1 31 1 30 1 79 1 13 2 12 2 11 1 17 1 11 2 11 3 13 1 67 1 11 2 91 2 79 1 13 3 11 2 11 1 17 1 11 2 11 3 13 1 71 1 7 2 50 1 40 1 80 1 14 2 11 2 11 1 17 1 11 2 12 1 2 1 11 1 74 1 5 1 40 1 9 1 40 1 5 1 74 1 11 2 1 1 12 2 11 2 15 2 11 2 14 2 11 1 70 1 50 1 9 1 40 1 80 1 11 2 14 2 11 2 15 1 12 1 15 2 11 1 80 1 40 1 50 1 80 1 10 3 15 1 12 1 15 1 12 1 15 3 10 1 80 1 27 1 35 1 27 1 71 2 7 1 10 3 15 1 31 1 9 1 15 3 10 1 6 3 71 1 50 1 112 3 6 1 10 3 15 1 9 1 20 2 12 1 12 3 10 1 6 3 112 1 9 1 112 3 6 1 10 3 12 2 11 2 20 1 11 2 12 3 10 1 6 3 112 1 50 1 71 3 6 1 10 3 12 1 12 1 21 2 11 1 12 3 10 1 7 2 71 1 27 1 35 1 27 1 80 1 10 3 12 1 11 2 21 2 11 1 12 3 10 1 80 1 50 1 40 1 80 1 11 2 12 1 11 2 21 1 12 1 12 2 11 1 80 1 40 1 9 1 50 1 70 1 11 2 14 1 10 1 31 2 14 2 11 1 74 1 5 1 40 1 9 1 40 1 5 1 74 1 11 1 2 1 12 2 11 1 17 1 11 2 11 2 14 1 80 1 40 1 50 2 7 1 71 1 13 3 11 2 11 2 15 2 11 2 11 3 13 1 79 2 91 2 11 1 67 1 13 3 11 2 11 2 15 2 11 2 11 3 13 1 79 1 30 1 31 1 37 2 71 2 13 1 13 1 11 2 15 2 25 1 12 3 68 1 41 1 31 1 34 1 6 1 63 1 4 3 14 2 22 1 17 1 9 1 12 2 13 3 5 1 59 1 9 2 54 1 46 2 69 1 6 3 12 2 12 1 9 1 27 2 11 2 12 2 7 1 63 1 5 2 46 1 7 1 46 2 5 1 63 1 8 2 11 2 11 1 39 1 12 1 10 3 8 1 55 1 3 1 9 2 4 2 40 1 41 1 5 3 4 2 69 1 9 2 23 1 39 1 22 3 9 1 69 1 5 3 4 3 73 3 4 3 9 2 58 1 5 1 10 1 12 1 10 1 50 1 22 2 5 1 48 2 2 2 4 2 10 1 5 3 61 1 11 2 17 2 58 1 6 2 10 1 10 1 61 1 9 2 10 2 6 1 58 2 17 1 12 1 48 2 30 2 58 1 7 2 9 2 92 1 8 1 47 1 5 2 8 2 25 2 48 1 25 2 8 2 47 1 5 1 8 2 79 1 10 1 9 2 8 2 5 1 47 2 8 3 94 1 4 2 9 2 3 1 43 1 6 1 8 2 9 1 79 1 9 1 8 1 7 1 4 1 37 2 4 1 14 3 87 3 10 1 8 2 37 1 4 2 6 2 115 1 7 1 5 1 5 1 21 1 4 2 3 2 8 2 10 2 87 2 10 2 8 1 4 2 4 1 16 1 4 1 5 1 5 1 7 1 8 2 104 1 7 1 6 1 5 1 4 1 5 1 4 1 5 1 4 2 13 2 117 1 8 2 4 1 5 1 4 1 5 1 4 1 5 1 6 1 7 1 120 2 5 2 5 1 4 1 5 1 4 1 5 1 14 1 9 2 17 2 63 2 17 2 8 2 14 1 5 1 4 1 5 1 4 2 5 1 6 1 134 1 5 1 5 1 5 1 4 1 5 1 24 3 16 2 82 1 30 1 5 1 5 1 5 1 5 1 7 1 7 1 117 1 6 1 6 1 5 1 5 1 5 1 24 1 113 2 23 1 5 1 5 1 5 1 146 1 12 1 5 1 5 1 24 1 113 1 5 1 18 1 5 1 5 1 20 1 137 1 37 1 102 1 21 2 37 1 157 1 6 1 5 1 18 2 21 1 108 1 18 1 196 2 999999"/><use href="#S168x172" stroke="#4fb" stroke-dasharray="0 23 4 5 3 6 3 6 2 19 2 6 3 5 3 4 4 4 3 5 2 13 5 7 5 9 5 7 5 17 5 6 6 9 5 7 6 5 2 5 2 5 3 4 4 4 4 4 3 5 3 6 2 19 3 6 3 5 4 6 2 30 3 6 4 5 3 19 3 5 4 5 3 5 3 5 3 4 4 4 3 5 2 4 3 5 3 10 4 12 4 6 4 12 1 14 4 6 5 8 5 5 3 4 3 4 3 4 3 5 2 6 2 6 2 5 3 5 3 6 3 5 3 11 2 7 3 6 3 29 3 6 3 12 2 6 3 5 4 5 2 38 2 5 2 4 3 4 2 6 5 8 5 7 5 10 3 5 3 9 6 7 5 8 5 6 2 4 2 16 3 5 2 5 3 5 3 18 2 6 3 6 3 20 3 7 1 12 2 8 1 13 2 6 3 6 3 18 3 5 3 5 3 4 4 4 3 5 2 15 2 6 5 8 5 8 4 11 2 13 2 11 3 7 4 18 1 5 2 4 3 5 3 4 4 4 3 5 3 5 3 5 2 12 1 6 4 6 3 49 1 7 4 6 3 11 1 6 3 5 3 5 3 5 3 4 4 4 3 5 3 4 2 5 1 5 4 8 5 7 5 8 5 17 5 8 5 7 6 7 4 5 1 5 3 4 2 5 3 4 4 4 3 5 3 5 3 5 3 5 3 11 2 6 4 6 3 39 3 6 3 12 2 6 3 5 3 5 3 5 3 5 3 4 3 5 3 4 3 4 3 4 2 5 4 7 6 7 5 9 5 14 3 6 3 7 2 12 2 6 3 4 3 4 3 4 3 4 3 5 2 5 3 5 3 4 4 4 4 5 3 5 4 12 1 7 3 7 2 21 2 8 2 12 3 5 4 5 4 4 4 4 4 5 2 5 3 5 2 5 3 4 3 4 2 5 3 11 4 7 6 7 5 6 5 6 5 7 6 7 6 6 5 9 3 5 3 4 2 5 3 5 3 4 3 5 2 6 2 5 3 5 4 5 3 6 3 60 3 6 3 6 3 5 4 5 3 5 3 4 3 5 3 4 3 5 3 4 3 4 3 6 3 8 5 6 6 7 6 7 5 8 1 9 2 11 5 6 4 9 2 2 1 4 3 4 3 4 3 5 3 4 3 4 4 4 3 5 3 5 3 6 3 5 4 6 3 42 3 6 4 5 4 5 3 6 3 5 3 5 3 5 3 4 3 4 3 5 3 4 3 4 2 4 2 8 2 7 2 1 4 7 5 7 5 17 6 6 6 6 7 6 6 4 3 4 3 3 3 4 3 5 3 4 3 4 3 5 3 5 3 5 3 5 4 5 4 5 4 6 3 7 2 15 3 6 4 5 4 6 3 6 3 5 3 5 4 4 3 5 3 4 3 4 3 4 4 4 3 3 3 4 3 4 6 6 7 6 6 6 6 18 5 6 5 7 6 7 6 4 3 4 3 4 2 4 4 4 3 4 3 4 3 4 4 4 4 4 4 5 3 6 3 6 3 6 4 6 4 14 3 6 4 6 3 6 3 6 3 5 4 5 3 4 4 4 3 4 3 4 3 4 3 5 2 4 3 4 3 4 2 4 2 10 4 13 4 6 4 5 4 7 6 9 5 7 5 4 2 4 3 4 3 4 2 5 3 4 3 4 3 4 3 4 4 4 3 5 3 5 4 6 3 6 3 6 4 5 4 15 4 5 4 6 3 6 4 5 4 5 3 5 3 5 3 4 3 4 3 4 3 4 3 4 3 11 3 3 3 4 5 7 5 9 6 7 4 5 4 7 5 11 4 7 4 5 3 4 2 2 2 7 3 4 3 4 3 4 3 4 3 4 3 4 4 5 3 5 4 5 3 7 3 6 3 6 4 15 3 7 3 6 4 6 3 5 4 5 4 4 4 4 3 4 3 4 3 4 3 4 3 4 3 7 3 7 3 5 3 2 3 11 3 8 2 6 4 7 1 6 2 8 5 9 4 2 3 5 3 7 3 7 3 4 3 4 3 4 3 4 3 4 3 4 4 4 4 4 4 6 3 6 3 7 3 7 3 15 3 7 3 7 3 6 4 5 4 5 3 5 3 4 4 3 4 3 3 4 3 4 3 4 3 3 2 2 2 4 2 2 3 5 3 3 3 9 5 8 2 6 1 8 3 16 4 10 1 4 4 4 2 2 3 4 2 1 3 3 3 4 3 4 3 4 3 3 4 3 4 4 3 5 3 5 4 5 4 6 4 6 3 6 4 15 4 6 4 5 4 6 4 5 4 5 4 4 4 4 3 4 3 3 3 4 3 4 3 3 3 4 3 7 3 8 4 15 4 7 1 8 3 6 4 7 2 7 4 4 1 10 4 3 1 4 4 6 3 4 3 3 3 4 3 4 3 3 3 4 3 4 4 4 4 4 4 6 4 5 5 5 4 6 4 15 4 6 4 6 4 6 4 5 4 5 3 5 3 4 3 4 3 3 4 3 3 3 4 3 3 3 3 4 2 1 3 4 3 2 4 5 2 3 2 3 4 5 4 6 5 6 4 6 4 5 4 2 3 2 4 5 3 1 4 4 1 2 3 4 3 3 3 4 3 3 3 3 3 4 3 4 3 4 3 4 4 5 4 5 4 6 4 6 4 6 4 15 4 6 4 6 4 6 4 5 4 5 4 4 4 3 4 3 3 4 3 3 3 3 3 4 3 3 3 3 3 8 4 2 2 5 4 2 3 3 2 6 4 6 4 7 4 6 4 6 1 4 2 3 4 10 3 3 1 4 3 3 3 3 3 4 3 3 3 3 3 4 3 3 3 4 4 4 4 4 4 5 5 5 5 6 4 6 4 15 5 5 5 5 5 6 4 5 4 5 3 5 3 4 3 3 4 3 3 3 3 3 3 3 3 4 3 3 3 4 2 1 4 9 5 15 5 6 4 7 4 6 5 15 5 3 1 5 3 1 4 3 3 4 2 4 3 3 3 3 3 3 3 3 3 4 3 4 3 4 4 5 4 5 4 6 4 6 4 6 5 16 4 6 4 6 5 5 5 5 4 4 4 4 4 3 3 4 3 3 3 3 3 3 3 3 3 1 2 7 2 4 3 3 1 5 3 2 5 15 5 6 4 7 5 5 5 16 4 1 4 9 3 4 2 1 3 3 2 1 3 3 3 3 3 3 3 3 3 3 3 4 4 4 3 5 4 5 5 5 4 6 5 6 4 17 5 6 4 6 4 6 4 5 4 5 4 4 3 4 3 3 3 3 3 3 3 3 2 4 2 7 3 6 4 4 1 4 4 1 4 5 2 9 4 6 5 8 4 6 4 8 3 5 3 2 5 2 2 4 4 2 1 4 3 6 3 3 3 3 2 3 3 3 3 3 3 3 4 4 4 4 4 6 4 5 5 5 5 6 4 6 1 5 1 6 5 5 5 5 5 5 5 5 4 5 4 4 3 3 3 4 2 3 3 3 2 3 3 3 3 6 3 3 3 1 3 4 4 1 4 4 1 6 3 3 1 3 5 6 4 9 4 6 5 3 1 2 4 11 3 2 4 4 2 2 3 3 3 1 2 3 3 3 3 3 2 3 3 3 2 3 3 4 3 4 4 4 5 5 4 6 4 6 4 6 5 6 1 5 1 6 5 6 4 6 5 5 5 5 4 5 3 4 4 3 3 3 2 3 3 3 2 3 3 3 3 3 2 2 1 4 3 8 4 3 2 10 5 2 2 3 4 6 4 9 5 5 4 3 2 2 5 16 4 2 2 3 4 6 3 2 3 3 3 3 2 3 3 3 2 3 3 3 3 4 4 5 4 5 5 5 5 5 5 6 5 5 2 5 2 6 4 6 5 5 5 6 4 6 4 4 4 4 3 3 3 3 2 5 1 3 1 4 3 3 3 2 3 3 2 1 3 4 3 1 4 10 2 4 5 3 1 3 3 6 5 9 5 6 3 8 5 2 3 4 1 5 4 1 4 3 3 1 2 3 3 2 3 2 1 3 1 3 1 3 2 2 2 5 3 3 3 3 4 5 4 5 5 5 5 6 5 6 4 6 2 5 2 6 5 5 5 6 5 5 5 5 5 4 4 3 3 3 3 1 2 2 2 2 2 2 2 2 2 3 2 2 2 2 3 2 3 7 4 2 2 6 2 3 4 1 5 8 3 6 5 10 4 7 2 8 5 1 5 2 3 5 1 4 3 7 3 2 3 2 2 3 2 2 2 3 1 2 2 2 2 2 2 2 2 3 3 2 4 5 4 5 5 6 5 6 5 5 5 6 2 5 2 5 6 5 5 6 5 6 5 5 5 4 4 2 3 3 2 2 2 2 1 11 1 3 2 2 2 4 2 2 3 3 2 1 4 10 4 1 5 2 4 8 2 6 5 11 5 6 1 10 3 2 5 1 5 4 1 5 3 1 3 2 3 2 4 2 2 5 2 2 2 2 2 2 1 2 1 2 1 2 2 3 3 2 3 4 5 5 5 6 5 6 6 5 6 5 2 5 2 5 6 6 5 6 5 6 5 6 4 4 3 2 1 1 2 2 2 1 1 2 2 2 1 2 2 2 2 1 2 3 1 2 1 3 2 4 3 2 3 2 2 4 3 3 5 2 3 4 2 6 2 9 5 11 5 9 2 6 2 4 2 4 5 1 4 8 3 2 2 5 2 6 2 2 2 2 2 1 2 2 2 1 2 2 2 4 2 4 3 3 5 5 6 5 6 6 5 6 6 5 2 5 2 6 5 6 5 6 6 6 5 6 4 3 4 3 2 1 1 2 2 2 2 1 2 2 1 2 2 2 1 2 3 2 2 3 1 3 2 1 1 2 3 3 1 3 5 1 5 4 2 12 3 8 5 11 5 8 4 17 4 2 5 2 3 2 3 3 7 3 3 2 2 2 1 5 1 2 1 4 1 2 2 1 2 5 2 1 2 3 3 6 6 6 5 7 5 6 5 6 2 5 2 6 5 6 5 7 6 6 6 5 3 3 1 2 2 2 1 2 2 2 1 1 1 2 1 2 1 2 1 2 1 3 1 4 3 2 1 1 2 3 1 4 3 2 3 1 5 3 3 18 4 7 6 11 6 6 5 18 2 4 4 2 3 2 2 12 2 2 2 1 1 3 1 2 1 2 1 2 1 2 1 2 1 4 2 2 2 1 1 7 3 5 5 7 6 6 6 6 5 6 2 5 2 6 5 6 6 7 6 6 6 4 3 2 2 5 2 4 2 2 1 2 1 1 2 1 1 2 2 2 1 2 2 5 2 2 2 2 2 3 3 2 3 2 3 13 1 5 1 5 5 6 5 13 5 6 6 4 1 5 2 13 1 3 3 3 3 1 3 1 3 1 3 2 1 3 2 2 1 2 1 10 1 2 2 2 1 1 1 3 1 2 3 1 3 3 6 7 6 7 5 6 6 6 2 5 3 5 6 6 6 6 7 6 6 3 3 2 2 1 3 4 2 2 1 3 1 2 1 1 2 1 1 2 1 4 1 3 2 3 1 3 1 3 1 2 3 3 3 10 2 5 3 3 2 4 6 6 5 13 5 6 6 3 3 3 4 4 2 6 1 3 3 1 1 2 1 16 2 4 2 1 2 1 1 2 1 1 2 1 1 2 1 3 1 3 1 1 2 7 2 3 5 7 6 7 6 6 5 6 3 5 3 6 6 6 6 6 7 7 4 3 1 8 2 1 2 2 1 1 1 1 2 1 1 1 2 1 1 1 2 1 1 2 1 2 2 1 1 3 1 2 1 2 2 2 2 2 1 3 4 2 3 4 4 3 5 2 3 3 6 5 6 13 6 6 5 3 3 2 6 2 5 3 3 2 3 3 3 1 6 1 2 2 2 5 2 1 2 1 2 1 1 1 1 2 1 1 1 1 2 1 1 4 2 5 2 2 3 3 3 8 6 7 6 6 6 6 3 5 4 6 5 7 5 7 7 8 2 3 3 1 4 1 1 3 1 1 1 2 1 1 2 1 1 11 1 2 1 2 2 6 2 2 1 2 2 1 3 1 2 1 2 2 4 2 5 2 6 2 3 2 6 6 6 13 6 6 6 2 3 2 6 2 6 1 4 2 1 1 3 2 1 6 1 3 2 6 2 2 1 3 1 4 1 1 1 1 1 1 1 3 1 1 2 4 2 1 3 2 2 4 2 8 7 6 6 6 6 6 4 5 4 6 6 6 6 7 7 7 2 9 1 2 2 1 2 1 2 3 1 1 1 1 1 1 1 1 1 1 1 1 1 2 1 3 2 3 2 1 2 4 1 2 2 2 1 3 2 4 4 1 6 2 6 2 10 7 6 13 6 7 9 3 6 2 5 3 3 2 1 6 2 1 2 2 2 7 3 4 1 2 1 1 1 1 1 1 1 1 1 1 1 1 1 1 1 3 1 2 2 1 1 13 2 6 8 7 6 6 6 6 4 5 4 6 6 7 6 7 7 6 2 5 2 2 1 6 2 3 1 1 1 1 1 1 1 4 1 1 1 2 1 1 1 5 2 3 1 3 3 2 1 2 3 1 2 5 3 3 4 3 6 4 8 7 5 15 5 7 7 6 5 3 4 3 3 5 2 2 1 3 1 2 4 1 4 5 2 1 2 1 1 4 1 1 1 2 1 2 1 1 1 2 1 4 1 2 2 2 3 4 2 5 8 7 6 7 6 6 4 5 4 6 6 7 6 7 9 4 3 3 3 2 2 2 2 4 1 1 1 2 1 1 2 1 1 2 1 1 1 3 1 1 2 2 2 1 3 9 1 2 1 3 2 1 2 2 3 4 2 4 5 7 6 7 5 15 6 6 6 8 5 3 1 5 3 1 3 5 3 1 1 11 1 2 2 2 1 3 1 3 1 1 2 1 2 1 1 1 1 2 1 2 1 1 2 7 1 3 4 3 9 8 6 7 6 6 4 5 4 6 6 7 6 8 9 3 4 15 1 3 1 1 2 2 1 2 2 1 1 1 1 1 1 4 2 7 3 8 2 1 2 3 2 1 3 5 8 9 6 6 6 15 6 6 6 9 8 5 3 6 2 5 4 2 5 1 3 5 1 2 1 1 1 1 1 7 2 1 1 1 1 1 1 2 1 2 2 9 3 3 8 9 6 7 6 6 4 5 4 6 6 7 7 8 8 3 1 11 3 1 2 3 2 2 1 1 2 4 1 3 1 2 1 2 1 2 3 2 4 3 6 3 2 1 2 3 3 4 8 10 6 6 5 17 5 6 6 10 8 4 2 4 2 3 1 1 3 1 3 12 1 1 3 1 2 2 2 3 5 3 1 1 4 2 2 3 2 11 7 9 7 7 6 6 4 5 4 6 6 7 7 9 7 23 1 4 6 1 2 2 1 3 2 8 2 13 3 2 2 4 2 3 9 9 7 6 5 16 6 7 6 9 9 3 2 8 3 7 2 4 4 2 3 5 1 1 1 7 4 1 2 2 1 3 1 17 7 9 7 7 6 6 4 5 4 6 6 7 7 10 6 17 3 1 2 3 1 10 1 1 1 2 1 1 3 3 4 3 5 6 6 4 3 3 10 7 7 7 6 15 6 8 6 6 11 3 5 2 6 6 5 15 2 1 1 4 1 1 1 1 1 3 1 2 1 2 3 17 6 10 7 7 6 6 4 5 4 6 6 7 7 10 6 14 1 18 1 5 1 3 1 4 2 7 5 6 6 2 5 3 11 4 8 8 6 15 6 8 8 4 11 3 5 2 5 7 5 6 6 2 3 3 1 2 1 1 3 4 2 2 1 5 2 13 5 10 8 7 6 6 4 5 4 6 6 7 8 10 5 13 2 4 3 5 2 5 1 1 1 8 6 6 5 7 5 2 5 3 10 6 7 8 6 15 6 8 6 8 9 3 5 2 5 7 5 6 5 7 3 7 1 6 3 4 2 13 5 10 8 7 6 6 4 5 4 7 6 7 7 10 5 13 2 4 3 4 2 6 5 7 4 8 4 7 5 2 5 3 8 9 7 7 5 17 5 7 7 9 8 3 5 2 5 7 4 8 4 7 5 6 2 4 3 4 2 13 5 10 7 7 6 6 5 5 5 6 6 7 7 10 5 13 2 4 3 6 1 7 3 7 5 6 5 7 5 2 5 3 9 8 6 8 6 15 6 8 7 6 10 3 5 2 5 7 5 6 6 8 1 1 1 5 2 5 3 4 2 13 5 10 7 7 6 6 5 5 5 6 6 7 7 10 5 13 2 5 1 2 2 4 3 1 1 2 1 3 3 2 6 6 5 7 5 2 5 3 11 4 8 8 6 15 6 8 8 4 11 3 5 2 6 6 5 7 2 4 1 3 1 5 1 18 1 14 6 9 7 7 6 6 5 5 5 6 6 7 7 9 6 17 3 2 1 2 1 3 1 1 1 1 1 4 1 1 2 15 5 6 6 2 5 3 11 6 6 8 6 15 6 7 7 7 10 3 3 4 6 6 5 3 4 3 3 1 1 2 1 1 1 10 1 3 2 1 3 17 6 9 7 7 6 6 5 5 5 6 6 7 7 8 7 17 1 3 1 2 2 1 4 7 1 1 1 5 3 2 4 4 2 7 3 8 2 3 9 9 6 7 6 16 5 6 7 9 9 3 2 4 2 2 3 13 2 8 2 3 1 2 2 1 6 4 1 23 7 9 6 7 6 6 5 5 5 6 6 6 7 9 7 11 2 3 2 2 4 1 1 3 5 3 2 2 2 1 3 1 1 12 3 1 3 1 1 3 2 4 2 4 8 10 6 6 5 17 5 6 6 10 8 4 3 3 2 1 2 3 6 3 4 2 3 2 1 2 1 2 1 3 1 4 2 1 1 2 2 3 2 1 3 11 1 3 8 8 7 7 6 6 4 5 4 6 6 7 6 9 8 3 3 9 2 2 1 2 1 1 1 1 1 1 2 7 1 1 1 1 1 2 1 5 3 1 5 2 4 5 2 6 3 5 8 9 6 6 6 15 6 6 6 9 8 5 3 1 2 3 2 1 2 8 3 7 2 4 1 1 1 1 1 1 2 2 1 2 2 1 1 3 1 15 4 3 9 8 7 6 6 6 4 5 4 6 5 7 7 8 9 3 4 3 1 7 2 1 1 2 1 2 1 1 1 1 2 1 2 1 1 3 1 3 1 2 2 2 1 11 1 1 3 5 3 1 3 5 1 3 5 8 6 6 6 15 5 7 6 7 5 4 2 4 3 2 2 1 2 3 1 2 1 9 3 1 2 2 2 1 1 3 1 1 1 2 1 1 2 1 1 2 1 1 1 4 2 2 2 2 3 3 3 4 9 8 6 7 6 6 3 5 3 6 6 7 6 8 8 5 2 4 3 2 2 2 1 4 1 2 1 1 1 2 1 2 1 1 1 4 1 1 2 1 2 5 4 1 4 2 1 3 1 2 2 5 3 3 4 3 5 6 7 7 5 15 5 7 8 4 6 3 4 3 3 5 2 1 3 2 1 2 3 3 1 3 2 5 1 1 1 2 1 1 1 4 1 1 1 1 1 1 1 3 2 6 1 2 2 5 2 6 7 8 7 6 6 6 3 5 3 6 6 6 6 8 8 6 2 13 1 1 2 2 1 3 1 1 1 1 1 1 1 1 1 1 1 1 1 1 1 2 1 4 3 7 2 2 2 1 2 6 1 2 3 3 5 2 6 3 9 7 6 13 6 7 10 2 6 2 6 1 4 4 2 3 1 2 2 2 1 4 2 1 2 3 2 3 1 2 1 1 1 1 1 1 1 1 1 1 1 1 1 3 2 1 2 1 2 2 1 9 2 7 7 8 6 6 6 6 3 5 3 6 5 7 6 7 7 8 2 4 2 2 3 1 2 4 2 1 1 3 1 1 1 1 1 1 1 4 1 3 1 2 2 6 2 3 1 6 1 2 3 1 1 2 4 1 6 2 6 2 3 2 6 6 6 13 6 6 6 2 3 2 6 2 5 2 4 2 2 1 2 1 3 1 2 2 1 2 2 6 2 2 1 2 1 11 1 1 2 1 1 2 1 1 1 3 1 1 4 1 3 3 2 8 7 7 6 7 5 6 3 5 3 6 5 7 6 7 6 8 3 3 3 2 2 5 2 4 1 1 2 1 1 1 1 2 1 1 1 1 2 1 2 1 2 5 2 2 2 1 6 1 3 3 3 2 3 3 5 2 6 2 3 3 5 6 6 13 6 5 6 3 3 2 5 3 4 4 3 2 4 3 1 2 2 2 2 2 1 2 1 3 1 1 2 2 1 2 1 1 2 1 1 1 2 1 1 1 2 1 1 1 1 2 2 1 2 8 1 3 4 7 7 6 6 7 5 6 3 5 3 6 5 7 5 7 6 7 5 3 2 7 2 1 1 3 1 3 1 2 1 1 2 1 1 2 1 1 2 1 2 4 2 16 1 2 1 1 3 3 1 6 2 4 4 3 3 3 6 6 5 13 5 6 6 4 2 3 3 5 2 10 3 3 3 2 1 3 1 3 1 3 2 3 1 4 1 2 1 1 2 1 1 2 1 3 1 2 2 4 3 1 2 2 3 3 6 6 6 7 5 7 5 6 3 5 3 6 5 7 5 6 6 7 6 3 3 1 3 2 1 3 1 1 1 2 2 2 1 10 1 2 1 2 2 3 1 2 3 1 3 1 3 1 3 3 3 3 1 13 2 5 1 4 6 6 5 13 5 6 5 5 1 5 1 13 3 2 3 2 3 3 2 2 2 2 2 5 2 2 1 2 2 2 1 1 2 1 1 2 1 2 2 4 2 5 2 2 3 4 6 6 6 6 5 7 5 6 3 5 3 6 5 6 6 6 5 7 5 5 3 7 1 1 2 2 2 4 1 2 1 2 1 2 1 2 1 2 1 3 1 1 2 2 2 12 2 2 3 2 4 4 2 18 5 6 6 11 6 7 4 18 3 3 5 1 3 2 3 4 1 3 2 1 1 2 3 4 1 3 1 2 1 2 1 2 1 2 1 1 1 2 2 2 1 2 2 2 1 3 3 5 6 6 6 6 5 6 5 6 3 5 3 6 5 6 5 6 5 6 6 6 3 3 2 1 2 5 2 1 2 2 1 4 1 2 1 5 1 2 2 2 3 3 7 3 3 2 3 2 5 2 4 17 4 8 5 11 5 8 3 12 2 4 5 1 5 3 1 3 3 2 1 1 2 3 1 3 2 2 3 2 1 2 2 2 1 2 2 1 2 2 2 2 1 1 2 3 4 3 4 6 5 6 5 6 5 6 5 6 3 5 2 6 5 6 6 5 6 5 6 5 5 3 3 4 2 4 2 2 2 1 2 2 2 1 2 2 2 2 2 6 2 5 2 2 3 8 4 1 5 4 2 4 2 6 2 9 5 11 5 9 2 6 2 4 3 2 5 3 3 4 2 2 3 2 3 4 2 3 1 2 1 3 2 1 2 2 2 2 1 2 2 2 1 1 2 2 2 1 1 2 3 4 4 6 5 6 5 6 5 6 5 6 2 5 2 6 5 6 5 6 5 6 5 5 5 4 3 2 3 3 2 2 1 2 1 2 1 2 2 2 2 2 2 5 2 2 4 2 3 2 3 1 3 5 1 4 5 1 5 2 3 10 1 6 5 11 5 6 2 8 4 2 5 1 4 10 4 1 2 3 3 2 2 4 2 2 2 3 1 11 1 2 2 2 2 3 3 2 4 4 5 5 5 6 5 6 5 6 5 5 2 5 1 6 5 6 5 6 5 6 5 5 4 5 4 2 3 3 2 2 2 2 2 2 2 2 1 3 2 2 2 3 2 2 3 2 3 7 3 4 1 5 3 2 5 1 5 8 2 7 4 10 5 6 3 8 5 1 4 3 2 6 2 2 4 7 3 2 3 2 2 2 2 3 2 2 2 2 2 2 2 2 2 1 3 3 3 3 4 4 5 5 5 5 6 5 6 5 5 6 1 5 1 6 4 6 5 6 5 6 5 5 4 5 4 3 3 3 3 5 2 2 2 3 1 3 1 3 1 2 3 2 3 3 2 1 3 3 4 1 4 5 1 4 3 2 5 8 3 6 5 9 5 6 3 3 1 3 5 4 2 10 4 1 3 4 3 1 2 3 3 2 3 3 3 4 1 3 1 5 2 3 3 3 3 4 4 4 4 6 4 6 5 6 5 6 5 5 1 11 5 6 5 6 5 5 5 5 4 5 4 4 3 3 3 3 2 3 3 3 2 3 3 3 3 2 3 6 4 3 2 2 4 16 5 2 2 3 4 5 5 9 4 6 4 3 2 2 5 10 2 3 4 8 3 4 1 2 2 3 3 3 3 3 2 3 3 3 2 3 3 3 4 4 3 5 4 5 5 6 5 6 4 6 5 17 5 5 5 6 5 6 4 5 5 4 4 4 3 4 3 3 2 3 3 3 2 3 3 3 3 3 2 1 3 3 3 2 2 4 4 2 3 11 4 2 1 3 5 6 4 9 4 6 5 3 1 3 3 6 1 4 4 1 4 4 3 1 3 3 3 6 3 3 3 3 2 3 3 3 2 4 3 3 3 4 4 5 4 5 5 5 5 6 5 5 5 17 5 5 5 6 4 6 4 6 4 4 4 4 4 3 3 3 3 3 3 3 2 3 3 3 3 6 3 4 1 2 4 4 2 2 5 2 3 5 3 8 4 6 4 8 5 6 4 9 2 5 4 1 4 4 1 4 4 6 3 7 2 4 2 3 3 3 3 3 3 3 3 4 3 4 4 5 4 5 4 6 4 6 5 6 4 17 4 6 5 6 4 5 5 5 4 5 3 4 4 4 3 3 3 3 3 3 3 3 3 3 3 1 2 3 3 1 2 4 3 9 4 1 4 16 5 5 5 7 4 6 5 15 5 2 3 5 1 3 3 4 2 7 2 1 3 3 3 3 3 3 3 3 3 4 3 3 4 4 4 4 4 5 5 5 5 5 5 6 4 17 5 5 5 5 5 5 4 5 4 5 4 4 3 4 3 4 3 3 3 3 3 3 3 3 3 4 2 4 3 3 4 1 3 5 1 3 5 15 5 6 4 7 4 6 5 15 5 9 4 1 2 4 3 3 3 4 3 3 3 3 3 3 3 3 4 3 3 4 3 5 3 5 4 5 4 6 4 5 5 6 4 17 4 6 5 5 4 5 5 5 4 4 4 4 4 4 3 3 3 4 3 3 3 3 3 4 3 3 3 3 3 4 1 3 3 10 4 3 2 4 1 6 4 6 4 7 4 6 4 6 2 3 3 2 4 5 2 2 4 8 3 3 3 3 3 4 3 3 3 3 3 4 3 3 4 3 4 4 4 5 4 5 4 5 4 6 4 6 4 17 4 6 4 6 4 5 4 5 4 5 4 4 3 4 3 4 3 4 3 3 3 3 3 4 3 3 3 4 3 2 1 4 4 1 3 5 4 2 3 2 4 5 4 6 4 6 5 6 4 5 4 3 2 3 2 5 4 2 3 4 3 1 2 4 3 3 3 3 4 3 3 3 4 3 3 4 3 4 3 5 3 5 4 5 4 5 4 6 4 6 4 17 3 7 4 5 4 5 4 6 4 4 4 4 4 4 3 4 3 3 3 4 3 4 3 3 3 4 3 6 4 4 1 3 4 10 1 4 4 6 3 7 4 6 3 7 2 7 4 15 4 8 3 7 3 4 3 3 3 4 3 4 3 3 3 4 3 4 4 4 4 5 4 5 4 5 4 6 4 6 3 16 4 6 4 6 4 5 4 5 4 5 3 5 3 4 4 3 4 3 3 4 3 4 3 4 3 3 3 1 2 4 3 2 2 4 4 4 1 10 4 17 1 15 3 8 5 9 3 3 3 5 3 2 2 4 2 2 2 3 3 4 3 4 3 4 3 3 4 3 4 4 3 5 3 5 4 5 4 6 3 7 3 8 2 15 2 8 3 6 4 6 3 6 4 4 4 4 4 4 3 4 3 4 3 4 3 4 3 4 3 7 3 7 3 5 3 2 4 9 5 8 3 33 3 11 3 2 3 5 3 7 3 7 3 4 3 4 3 4 3 4 3 4 3 4 4 4 4 5 4 5 4 5 4 6 3 8 2 15 2 17 3 6 4 5 4 5 3 5 4 4 3 4 3 4 3 4 3 4 3 4 3 7 2 2 2 4 3 5 4 7 4 10 5 8 4 5 4 8 6 7 6 7 5 4 3 3 3 11 3 4 3 4 3 4 3 4 3 4 3 5 3 5 3 5 4 5 4 6 3 9 1 7 3 13 3 7 2 8 3 6 3 6 4 5 3 5 3 4 4 4 3 4 3 4 3 4 3 5 2 4 3 4 3 3 3 4 5 7 6 7 7 7 4 5 4 7 5 11 4 10 2 4 2 4 3 4 3 4 2 5 3 4 3 4 3 4 3 4 4 4 3 5 4 5 3 6 3 7 1 8 3 7 4 11 4 6 4 6 1 9 3 6 3 5 4 4 4 4 4 4 3 4 3 4 3 4 4 4 2 4 3 4 3 4 6 6 6 7 6 6 5 18 6 6 6 7 6 6 6 4 3 4 3 3 3 4 4 4 3 4 3 4 3 5 3 4 4 5 3 5 3 6 2 8 3 6 4 6 4 11 4 6 4 6 3 16 3 5 3 5 3 5 3 5 3 4 3 4 3 5 3 4 3 3 3 4 3 4 6 6 6 7 6 6 6 18 5 6 5 8 6 6 3 3 1 4 2 4 2 4 3 4 3 5 3 4 3 4 3 5 3 5 3 5 2 16 3 6 3 6 4 6 3 13 3 6 4 5 4 6 3 6 2 7 1 7 3 5 3 4 4 4 3 4 3 5 3 4 3 4 3 7 3 6 6 6 5 13 3 7 3 5 4 7 7 7 6 6 6 6 3 8 2 4 3 4 3 5 3 4 3 4 4 4 3 5 3 6 2 6 3 6 3 6 4 5 4 7 2 22 4 5 4 6 3 6 3 6 2 7 1 6 2 6 2 5 3 4 3 5 3 5 2 4 2 3 1 4 2 7 6 6 6 7 6 8 4 6 4 7 6 7 6 6 5 8 2 4 2 8 2 13 2 5 3 6 1 6 2 14 2 6 4 5 4 5 4 6 2 42 3 5 4 5 4 5 3 6 2 6 2 6 1 29 1 9 1 9 3 6 3 6 2 7 2 29 5 8 6 7 7 6 4 26 1 14 1 6 3 6 1 6 3 5 3 5 4 5 4 6 1 14 1 23 2 21 2 6 3 6 3 5 3 5 3 6 2 5 2 6 2 6 2 12 2 5 1 5 4 7 6 7 6 8 5 15 4 10 5 7 6 7 4 4 3 4 2 5 2 5 3 5 2 6 2 5 3 5 3 5 3 5 4 5 3 19 3 7 2 32 3 6 2 12 2 5 4 5 3 5 3 5 3 5 3 5 2 5 3 5 3 4 2 4 3 4 4 8 5 7 3 7 1 7 1 12 2 8 5 7 6 8 4 9 4 3 3 4 3 5 3 4 4 4 3 5 3 5 3 5 3 6 3 18 4 5 4 40 2 6 4 5 3 11 2 6 3 5 3 5 3 5 3 4 4 4 4 4 3 4 3 3 4 8 5 7 7 7 5 8 4 5 3 9 5 7 7 7 5 8 3 4 3 4 3 4 4 4 4 4 3 5 3 5 3 6 2 11 2 6 3 6 3 57 3 6 3 6 3 18 3 5 3 5 3 4 4 4 3 5 3 4 2 8 2 6 5 7 6 8 4 25 3 10 4 7 4 5 2 5 4 4 2 16 2 6 2 6 2 6 1 12 1 6 3 5 4 5 3 52 2 21 3 5 4 5 3 5 3 6 1 31 2 5 2 4 3 5 4 10 5 7 6 7 5 17 5 7 6 7 6 8 5 5 3 3 3 4 4 4 3 6 2 6 2 5 3 6 3 5 3 6 3 20 2 7 2 29 2 6 3 7 3 19 3 5 3 5 4 4 4 4 4 4 4 4 4 4 3 4 2 5 4 9 5 10 5 6 4 20 1 7 3 6 4 6 2 11 2 4 3 4 3 4 4 4 4 4 4 4 4 4 4 5 3 6 1 12 2 6 4 6 3 7 1 999999"/><use href="#S168x172" stroke="#0ef" stroke-dasharray="0 33 2 7 1 45 1 6 2 6 2 21 4 7 5 10 4 9 1 21 2 8 3 12 4 8 3 14 2 5 2 6 2 6 2 53 1 129 2 6 2 5 2 5 2 36 1 49 3 10 3 7 1 5 2 5 2 6 1 221 1 13 5 8 5 8 2 34 3 8 5 8 5 83 1 124 1 7 1 6 2 6 2 30 4 76 2 32 2 5 2 6 2 6 2 6 1 7 1 137 2 6 1 6 2 6 2 6 2 5 2 5 1 12 3 9 5 7 4 11 2 19 2 10 5 7 5 8 4 11 2 5 2 5 2 6 2 6 2 6 1 7 1 6 2 113 1 7 2 6 1 7 1 7 1 14 1 6 2 5 1 12 4 8 5 7 4 70 2 19 2 36 2 6 2 7 1 97 1 7 2 14 2 63 4 7 5 8 4 20 2 8 5 8 5 7 5 39 2 6 1 30 2 7 2 79 2 6 2 7 2 7 1 14 2 6 1 6 2 5 2 6 1 6 1 18 5 7 5 8 4 9 1 36 2 7 3 20 1 6 2 5 2 6 1 6 1 6 2 6 1 7 1 16 1 7 2 62 2 7 2 31 3 5 2 6 1 6 2 6 1 5 2 5 2 38 3 9 1 21 4 7 5 8 5 8 2 8 1 5 2 5 1 6 2 5 2 5 3 5 2 5 2 41 2 44 2 7 2 8 1 8 1 7 2 6 2 6 1 6 3 4 3 5 2 5 2 6 1 5 2 4 2 6 4 8 5 8 4 8 4 20 3 8 4 24 2 5 2 4 2 5 2 5 2 5 2 5 3 4 3 5 2 6 2 7 1 16 1 8 1 8 2 35 2 8 2 7 1 24 2 6 2 5 3 5 2 5 2 5 2 5 2 5 1 5 3 4 1 18 1 27 1 6 4 7 5 11 3 10 2 6 1 5 2 12 1 5 2 5 3 4 3 4 3 5 2 5 2 6 2 7 1 18 1 8 2 7 2 17 2 17 1 17 2 6 3 5 3 5 2 5 3 4 3 4 3 4 3 18 2 4 3 5 3 9 3 11 5 7 4 5 4 9 2 13 2 10 2 5 3 18 1 5 3 4 3 4 3 4 3 4 3 5 3 5 3 6 2 7 1 27 2 17 1 9 1 17 3 6 2 7 2 6 2 5 3 4 3 5 2 4 3 4 3 4 3 7 2 8 3 6 1 65 3 11 2 4 1 6 3 8 2 7 3 4 3 4 3 4 3 4 2 5 3 5 2 5 3 6 3 6 3 17 1 9 1 27 1 9 2 6 3 7 2 6 3 5 3 4 3 5 2 4 3 4 3 4 3 4 2 8 2 4 2 3 2 5 2 5 1 11 3 45 4 15 4 8 3 8 2 4 2 4 3 4 3 4 3 3 3 5 2 5 3 5 3 5 3 6 3 7 3 55 2 8 3 6 3 5 3 5 3 5 3 4 3 4 2 4 3 4 3 3 3 4 2 8 3 8 4 15 3 27 2 18 3 15 4 9 2 8 2 4 3 4 2 4 3 4 2 4 3 4 3 5 2 5 3 6 3 6 3 7 3 7 1 9 1 18 2 8 2 8 2 7 3 6 4 5 3 5 3 4 3 4 3 4 2 4 3 4 2 4 3 4 2 4 2 2 2 5 2 2 4 5 1 10 2 29 1 17 2 9 2 6 2 3 3 4 1 3 2 4 3 3 3 4 3 3 3 4 2 4 3 4 3 4 3 5 3 5 3 7 3 6 3 8 2 8 2 17 2 8 2 8 3 7 3 6 3 5 4 4 3 5 3 3 3 4 2 4 3 3 3 4 3 3 3 3 3 8 3 10 4 16 2 9 2 9 2 8 3 16 4 10 3 8 3 3 3 4 2 4 3 3 3 3 3 4 3 3 3 4 4 4 3 6 3 6 3 7 3 8 2 8 2 17 3 7 3 7 3 7 3 6 4 5 3 5 3 4 3 4 2 4 3 3 3 3 3 4 2 4 2 4 3 4 2 2 3 10 4 16 3 8 2 9 2 8 3 16 5 10 1 3 3 3 3 11 1 4 3 3 3 3 3 3 3 4 3 4 3 4 4 5 3 6 4 6 4 6 4 7 2 19 3 7 3 7 3 6 4 6 3 5 4 4 4 3 3 4 3 3 3 3 3 3 3 3 2 11 2 4 3 10 1 3 4 16 4 8 2 9 1 9 4 16 4 2 3 9 3 4 1 3 2 7 2 4 2 3 3 3 3 3 3 3 3 4 3 5 3 5 4 5 4 6 4 7 3 7 3 19 3 7 3 7 4 6 4 5 4 5 4 4 3 4 3 3 3 3 3 3 2 4 2 4 2 7 3 7 3 9 3 3 3 16 4 7 1 12 2 7 4 9 2 6 1 4 3 3 2 5 3 2 1 4 2 7 2 4 2 4 2 3 3 3 3 3 3 4 3 4 3 5 4 6 4 6 4 6 4 6 4 19 4 7 4 6 4 5 4 6 4 5 3 5 3 4 2 4 2 3 3 3 2 3 3 3 3 6 3 4 2 2 2 4 4 2 3 11 3 8 4 7 2 11 2 7 4 8 3 11 3 2 4 8 3 3 3 1 2 3 3 3 3 3 2 3 3 3 2 3 3 4 3 4 4 5 4 5 4 6 4 6 4 7 3 7 1 5 1 7 4 6 4 6 4 6 4 6 4 5 3 4 3 4 3 3 2 3 3 3 2 3 3 3 3 3 2 7 3 8 4 3 1 11 5 7 3 8 2 11 3 7 2 8 5 16 4 7 3 7 3 2 3 3 3 3 2 3 3 3 2 3 3 3 3 4 4 5 4 5 4 7 3 7 4 6 4 7 1 5 1 7 4 6 5 6 4 6 4 6 4 5 3 4 3 3 3 3 2 9 1 4 3 3 3 2 3 3 1 2 3 4 2 2 4 11 1 4 4 9 2 6 4 11 4 17 4 3 3 10 4 1 3 4 2 2 2 3 3 3 2 6 1 3 1 3 1 3 1 6 3 3 2 4 4 5 4 5 5 6 4 6 5 6 4 7 1 5 1 7 4 7 4 6 5 6 4 6 4 5 3 4 2 3 3 2 1 2 2 2 2 2 2 3 1 3 1 3 1 3 3 2 3 7 4 2 2 6 1 4 3 3 4 17 4 12 3 17 4 2 4 3 3 10 3 7 3 2 3 7 2 3 1 3 1 3 1 2 2 2 2 7 2 4 3 5 4 6 4 6 4 7 4 7 4 7 1 5 1 7 4 7 4 7 4 6 5 6 4 5 2 4 2 3 2 2 2 18 1 4 1 4 2 2 3 3 2 1 4 10 4 2 4 2 4 17 4 11 4 18 2 4 3 2 5 4 1 5 2 2 3 2 3 2 1 1 1 4 1 9 2 2 1 3 1 8 2 4 1 4 2 5 4 6 4 7 4 7 4 7 4 7 1 5 1 7 4 7 4 7 5 6 5 6 4 4 2 5 2 8 2 2 1 2 2 2 1 3 1 6 1 3 2 5 2 2 3 3 1 5 2 3 5 2 3 4 2 17 5 11 5 9 2 12 2 4 4 2 4 8 3 2 2 13 2 2 2 2 2 2 1 2 1 2 2 2 1 5 2 5 2 3 5 5 5 7 5 7 4 7 4 7 1 5 1 7 4 7 5 7 5 6 5 6 4 3 2 1 1 6 1 3 1 2 1 3 1 2 1 2 1 3 1 3 1 3 2 7 2 4 3 8 4 2 4 18 2 9 5 11 5 8 3 19 3 2 5 2 2 3 3 3 3 1 3 4 2 2 2 19 1 2 2 5 2 1 2 3 3 6 5 7 5 7 5 7 4 7 1 5 2 6 4 7 5 7 5 7 5 6 3 3 1 2 2 5 2 7 1 2 1 2 1 2 1 9 2 2 1 2 1 3 1 4 3 2 3 2 4 4 2 18 4 8 4 13 4 8 4 19 1 4 4 2 3 3 1 12 1 3 1 6 1 2 1 2 1 2 1 2 1 2 1 5 1 2 2 9 3 5 5 7 5 8 5 6 5 6 2 5 2 6 5 7 5 7 5 7 6 4 3 2 1 6 2 8 1 2 1 11 1 2 1 6 2 3 1 2 2 8 3 3 2 25 4 8 4 13 5 6 5 11 2 17 3 3 3 1 3 1 3 2 2 2 1 3 1 3 1 13 1 2 1 5 1 3 1 2 2 2 3 4 5 7 6 7 5 7 5 6 2 5 2 7 5 6 5 8 5 8 5 3 3 2 2 2 2 4 2 2 1 6 1 4 1 7 1 3 1 4 1 3 1 3 1 2 3 3 3 17 3 4 1 4 5 7 5 13 5 7 5 4 2 3 4 4 2 10 3 1 1 2 1 17 1 7 2 1 1 2 1 1 1 2 1 6 1 5 2 7 2 3 5 7 6 7 5 7 5 6 3 5 3 6 5 7 5 8 5 8 4 3 1 11 1 7 2 1 1 1 2 1 1 1 1 2 1 2 1 2 1 6 1 5 2 2 2 6 3 4 1 5 3 4 4 3 3 3 5 7 5 13 5 7 5 3 3 3 4 3 4 4 3 3 1 4 3 1 3 1 2 5 2 5 2 1 2 1 1 2 1 1 1 2 1 1 1 1 2 1 1 4 1 6 2 3 2 3 3 8 6 7 6 6 5 7 3 5 3 7 5 7 5 7 6 9 2 4 2 2 2 8 1 2 1 2 1 13 1 2 1 2 2 6 1 6 1 3 2 1 2 1 1 3 3 3 5 2 6 2 3 3 5 7 4 15 4 8 4 3 3 2 6 2 5 2 4 4 3 2 1 10 2 6 2 2 1 8 1 1 1 1 1 5 1 2 1 4 2 2 2 2 2 4 2 8 6 8 5 7 5 6 4 5 4 6 6 7 5 7 7 7 2 13 1 5 1 5 1 1 1 1 1 1 1 1 1 1 1 2 1 4 1 3 2 2 1 4 1 2 2 6 2 4 3 3 5 2 6 3 2 2 5 8 4 15 5 7 5 2 2 3 6 3 4 3 3 2 1 6 2 1 2 2 1 8 2 5 1 2 1 1 1 7 1 1 1 1 1 6 2 15 2 7 6 8 5 7 6 6 4 5 4 7 5 7 5 8 7 6 2 5 1 3 1 6 1 4 1 1 1 1 1 13 1 5 1 4 1 4 2 5 3 1 2 5 3 3 4 3 5 7 6 7 5 15 5 7 6 7 5 4 2 4 3 5 2 2 1 7 2 3 3 5 1 10 1 1 1 5 1 1 1 7 1 2 2 2 2 5 2 5 8 7 6 7 5 7 4 5 4 7 5 7 6 8 8 4 2 4 3 3 1 2 2 4 1 4 1 1 2 1 1 2 1 1 1 6 1 5 3 9 1 2 1 3 2 1 2 2 3 10 4 8 6 7 5 15 5 7 5 9 4 10 3 1 3 5 3 16 2 10 1 1 1 2 2 1 1 4 1 2 1 1 1 8 1 4 3 4 8 8 6 7 5 7 4 5 4 7 5 7 6 9 8 3 1 1 1 16 1 3 1 2 1 2 1 2 2 1 1 1 1 1 1 4 1 8 3 8 1 2 2 3 2 1 3 9 4 10 5 7 4 17 5 6 5 11 6 6 3 6 2 5 3 3 4 3 1 6 1 2 1 1 1 10 1 1 1 1 1 7 2 9 1 1 1 3 8 9 6 7 6 6 4 5 4 6 6 7 6 10 7 3 1 11 3 1 2 4 1 14 1 2 1 5 2 4 2 5 5 3 2 1 2 3 3 5 7 11 5 6 5 17 5 6 5 11 8 4 2 4 2 6 1 3 1 16 1 2 1 8 4 4 1 1 1 2 1 3 1 16 7 10 6 7 6 6 4 5 3 7 6 7 6 10 7 23 1 5 3 3 2 2 1 3 2 23 3 2 2 4 2 4 8 10 5 7 5 17 5 8 5 9 9 3 2 8 2 14 4 3 2 7 1 10 1 5 1 21 6 10 7 8 5 7 3 5 3 7 5 8 7 10 6 17 2 2 2 3 1 10 1 1 1 4 3 4 2 4 4 8 1 1 3 4 3 3 9 9 5 9 4 17 4 9 6 8 9 3 4 3 3 9 5 16 1 8 1 8 1 3 2 17 6 10 7 8 5 7 3 5 4 6 6 7 7 11 5 14 1 18 1 23 5 7 4 4 4 3 10 7 6 9 5 15 5 9 6 7 10 3 4 4 3 8 5 7 4 3 3 25 1 14 5 11 7 7 6 6 4 5 4 7 5 8 6 11 5 14 1 4 3 14 1 9 4 8 3 9 3 3 5 3 9 8 6 8 5 17 5 8 6 9 8 3 5 4 1 10 2 9 4 8 1 15 3 4 1 14 5 10 7 8 5 7 4 5 4 7 5 8 7 10 5 14 1 4 3 54 5 3 7 11 5 8 5 17 5 8 5 11 7 3 5 54 3 4 1 14 5 10 7 7 6 7 4 5 5 6 6 7 7 10 5 14 1 4 3 15 1 8 4 9 2 10 1 4 5 3 8 9 6 8 5 17 5 8 6 8 9 3 5 3 3 9 3 8 4 9 1 14 3 4 1 14 5 10 6 8 6 6 5 5 5 7 5 8 6 10 5 14 1 25 3 3 4 7 5 8 3 4 4 3 10 7 6 9 5 15 5 9 6 7 10 3 4 4 4 7 5 23 1 18 1 14 5 10 6 8 5 7 5 5 5 7 5 8 6 9 6 17 2 3 1 8 1 8 1 16 5 9 3 3 4 3 9 8 6 9 4 17 4 9 5 9 9 3 3 4 3 1 1 8 4 4 2 4 3 4 1 1 1 10 1 3 2 2 2 17 6 9 7 7 5 7 5 5 5 6 6 7 6 10 6 21 1 5 1 10 1 7 2 3 4 14 2 8 2 3 9 9 5 8 5 17 5 7 5 10 8 4 2 4 2 2 3 23 2 3 1 2 2 3 3 5 1 23 7 9 6 7 6 6 5 5 4 7 5 8 6 9 7 16 1 3 1 2 1 1 1 4 4 8 1 2 1 16 1 3 1 6 2 4 2 4 8 11 5 6 5 17 5 6 5 11 7 5 3 3 2 1 2 3 5 5 2 4 2 5 1 2 1 14 1 4 2 1 3 11 1 3 7 10 6 7 5 7 4 5 4 6 6 7 6 9 8 3 1 1 1 9 2 7 1 1 1 1 1 10 1 1 1 2 1 6 1 3 4 3 3 5 2 6 3 6 6 11 5 6 5 17 4 7 5 10 4 9 3 1 2 3 2 2 1 8 3 8 1 4 1 1 1 1 1 1 2 2 1 2 1 2 1 3 1 16 1 1 1 3 8 9 6 8 5 7 3 5 3 7 5 7 7 8 8 4 3 4 1 8 1 1 1 2 1 4 1 1 2 2 1 1 1 10 2 16 3 5 3 1 3 10 4 9 5 7 5 15 5 7 6 8 4 10 3 2 2 1 2 3 1 2 1 9 3 5 1 6 1 1 1 2 1 1 2 1 1 4 1 4 2 2 1 3 3 4 2 4 8 9 6 7 5 7 3 5 3 6 6 7 6 8 8 5 2 5 2 2 2 2 1 7 1 1 1 5 1 1 1 10 1 5 3 3 2 7 1 2 2 5 3 4 2 4 5 7 6 7 5 15 5 7 6 7 5 3 4 3 3 5 2 1 3 5 2 4 1 4 1 5 1 13 1 1 1 1 1 4 1 6 1 3 1 5 2 6 7 9 5 7 6 6 3 5 3 6 5 7 6 9 6 7 2 15 2 6 1 1 1 1 1 7 1 1 1 2 1 5 2 8 1 2 2 1 2 6 1 2 3 3 4 3 6 3 2 2 5 7 5 15 4 8 5 2 2 3 6 2 5 3 3 4 2 6 2 2 1 4 1 2 2 3 1 4 1 2 1 1 1 1 1 1 1 1 1 1 1 5 1 5 1 13 2 7 7 8 6 7 5 6 3 5 3 6 5 7 6 8 6 8 2 4 2 2 2 2 2 4 1 2 1 5 1 1 1 1 1 8 1 2 2 6 2 10 1 2 3 4 4 2 5 2 6 2 3 3 4 8 4 15 4 7 5 3 3 2 6 2 5 3 3 3 1 1 2 1 2 3 1 6 1 6 2 2 1 2 1 13 1 2 1 2 1 8 2 2 2 4 2 9 6 7 6 7 5 6 3 5 3 6 5 7 5 8 6 8 3 3 2 3 2 6 1 4 1 1 2 1 1 1 1 2 1 1 1 2 1 1 2 1 2 5 2 5 2 1 3 1 3 4 1 3 3 4 4 3 4 3 3 3 5 7 5 13 5 7 5 3 3 3 4 4 3 5 1 4 3 6 2 2 2 5 1 6 1 2 1 2 1 2 1 1 1 1 2 1 1 1 2 7 1 11 1 3 4 8 5 8 5 7 5 6 3 5 3 6 5 7 5 7 6 7 5 3 2 7 2 5 1 6 1 2 1 1 1 2 1 1 2 7 1 17 1 2 1 1 3 10 2 4 4 3 2 4 5 7 5 13 5 7 5 4 1 4 3 17 3 3 3 2 1 3 1 3 1 4 1 3 1 7 1 4 1 6 1 2 2 4 2 2 2 2 3 3 5 8 5 7 5 7 5 6 3 5 3 6 5 7 5 6 6 7 5 4 3 2 2 2 1 3 1 5 1 2 1 13 1 3 1 3 1 2 2 2 3 1 3 1 3 3 3 17 2 11 5 6 5 13 4 8 4 25 2 3 3 8 2 2 1 3 2 6 1 2 1 11 1 2 1 8 2 6 1 2 3 4 6 7 5 6 5 7 5 6 3 5 3 6 5 7 4 7 5 7 5 5 3 9 2 2 1 5 1 2 1 2 1 2 1 2 1 2 1 6 1 3 1 12 1 3 3 2 4 4 1 19 4 8 4 13 4 8 4 18 2 4 4 2 3 2 3 4 1 3 1 2 1 2 2 9 1 2 1 2 1 2 1 7 2 5 2 2 1 3 3 6 5 7 4 7 5 6 5 6 3 5 2 7 5 6 5 6 5 7 5 6 3 3 2 1 2 5 2 2 1 19 2 2 2 4 3 1 3 3 3 3 2 2 5 2 3 19 3 8 5 11 5 9 2 18 4 2 4 8 3 4 2 7 2 3 1 3 1 3 1 2 1 2 1 3 1 2 1 3 1 6 1 1 2 3 4 6 5 6 5 6 5 7 4 7 2 5 2 7 4 7 4 7 4 7 5 5 5 3 2 5 2 5 1 2 2 2 1 2 1 2 2 2 2 2 2 13 2 2 3 8 4 2 4 4 2 12 2 9 5 11 5 17 2 4 3 2 5 3 2 5 1 3 3 2 2 5 2 3 1 6 1 3 1 2 2 2 1 2 2 8 2 5 2 4 4 6 5 6 5 6 5 6 5 6 2 5 2 6 4 7 4 7 4 7 4 6 4 5 2 4 1 4 2 8 1 3 1 2 2 9 1 4 1 1 1 2 3 2 3 2 2 5 1 4 5 2 3 4 2 18 4 11 4 17 4 2 4 2 4 10 4 1 2 3 3 2 2 4 1 4 1 18 2 2 2 3 2 4 2 5 4 6 5 6 4 7 4 7 4 7 1 5 1 6 5 6 5 6 5 6 4 6 4 5 3 4 2 7 2 2 2 2 1 3 1 3 1 3 2 7 3 2 3 7 3 10 3 3 4 2 4 17 3 12 4 17 4 3 3 4 1 6 2 2 4 7 3 2 3 3 1 3 1 3 1 3 2 2 2 2 2 2 1 2 3 3 2 4 3 5 4 6 4 7 4 7 4 7 4 6 1 12 4 7 4 6 5 6 5 5 4 5 4 4 2 3 3 6 1 3 1 3 1 3 1 6 2 3 3 3 2 2 2 4 3 1 4 10 3 3 4 17 4 11 4 6 2 9 4 4 1 11 4 2 2 4 3 2 1 3 3 2 3 3 3 4 1 9 2 3 3 3 3 4 3 5 4 6 4 6 5 7 4 6 4 19 4 6 4 7 4 7 4 5 4 5 4 4 3 3 3 3 2 3 3 3 2 3 3 3 3 2 3 7 3 7 4 16 5 8 2 7 3 11 2 8 3 7 5 11 1 3 4 8 3 7 2 3 3 3 3 3 2 3 3 3 2 3 3 4 3 4 3 5 4 6 4 6 4 7 4 6 5 17 4 7 4 6 5 6 4 5 4 5 4 4 3 4 3 3 2 3 3 3 2 3 3 3 3 3 2 1 3 3 3 8 4 2 3 11 3 8 4 7 2 11 2 7 4 8 3 11 3 2 4 4 2 2 2 4 3 6 3 3 3 3 2 3 3 3 2 4 2 4 3 5 3 5 4 6 4 6 4 6 4 7 4 17 4 7 3 7 4 6 4 6 4 5 3 4 3 4 3 3 3 3 3 3 2 4 2 4 2 7 2 4 1 2 3 5 2 3 3 4 1 6 2 9 4 7 2 12 1 7 4 16 3 3 3 9 3 7 3 7 2 4 2 4 2 3 3 3 3 3 3 4 3 4 4 5 4 5 4 6 4 7 3 7 3 19 3 7 3 7 4 6 4 5 4 5 3 5 3 4 3 3 3 3 3 3 3 3 2 4 2 7 2 3 1 4 3 9 3 2 4 16 4 9 1 9 2 8 4 16 4 3 1 10 3 4 2 11 2 3 3 3 3 3 3 3 3 4 3 3 4 4 4 5 3 6 4 6 3 7 3 7 3 19 3 7 3 7 3 6 4 6 3 5 4 4 3 4 3 4 3 3 3 3 3 3 3 4 1 11 3 3 3 3 1 10 5 16 3 8 2 9 2 8 3 16 4 10 3 2 2 4 3 4 2 4 2 4 3 3 3 3 3 4 2 4 3 4 3 5 3 5 4 6 3 6 4 6 3 7 3 19 3 7 3 6 3 7 3 6 3 6 3 4 4 4 3 3 3 4 3 3 3 3 3 4 2 4 3 3 3 8 3 10 4 16 3 8 2 9 2 9 2 16 4 10 3 8 3 3 3 3 3 4 3 3 3 4 2 4 3 3 3 5 3 4 4 5 3 6 3 7 3 7 2 8 2 19 2 8 2 7 3 6 3 7 3 5 3 5 3 4 3 4 3 4 2 4 3 3 3 4 3 3 3 4 2 3 1 4 3 3 2 6 2 9 2 17 2 8 2 18 2 10 1 5 4 2 2 5 2 2 2 4 2 4 3 4 2 4 3 4 2 4 3 4 3 4 3 5 3 5 4 6 3 6 2 8 2 8 2 19 2 8 2 7 2 7 3 6 3 6 3 5 2 5 3 4 3 4 2 4 3 4 2 4 3 4 2 8 2 9 4 15 3 18 2 27 3 15 4 8 3 8 2 4 3 3 3 4 3 4 2 4 3 4 3 5 3 5 3 5 3 6 3 7 3 55 3 7 3 6 3 5 3 5 3 5 2 5 3 3 3 4 3 4 3 4 2 4 2 8 3 8 4 15 4 45 3 11 1 5 2 5 2 3 2 4 2 8 2 4 3 4 3 4 3 4 2 5 3 4 3 5 3 6 2 7 3 6 2 9 1 47 1 7 3 6 3 6 3 5 2 5 3 5 2 4 3 4 3 4 3 4 3 7 2 8 3 6 1 4 2 11 3 65 1 6 3 8 2 7 3 4 3 4 3 4 2 5 3 4 3 5 2 6 2 7 2 6 3 74 1 7 2 6 3 5 3 5 3 4 3 4 3 4 3 4 3 5 1 18 3 5 2 10 2 12 2 11 2 6 4 8 5 9 4 9 3 5 3 4 2 18 3 4 3 4 3 4 3 5 2 5 3 5 3 6 2 92 1 7 2 6 2 5 2 5 3 4 3 4 3 5 2 5 1 12 2 5 1 6 2 10 4 9 5 8 4 6 1 45 2 4 3 5 1 5 2 5 2 5 2 5 2 5 3 5 2 6 2 6 1 61 2 45 2 6 2 6 2 5 3 4 3 5 2 5 2 5 2 5 2 4 2 5 2 12 2 11 2 9 3 20 4 8 4 8 5 8 4 6 2 4 2 5 1 6 2 5 2 5 3 4 3 6 1 6 2 6 2 35 1 9 1 15 1 8 2 8 1 42 2 5 2 5 3 5 2 5 2 6 1 5 2 5 1 8 2 8 5 8 4 8 4 20 3 8 3 38 2 4 3 5 1 6 2 6 1 6 2 5 3 41 1 8 2 33 2 7 3 41 1 6 2 6 1 6 1 6 2 5 3 5 1 31 1 33 3 9 4 10 4 7 5 8 2 15 1 6 2 5 2 6 2 5 2 40 1 8 2 7 2 42 2 7 2 48 1 6 2 29 2 8 5 7 5 8 5 9 2 20 1 11 4 7 4 88 1 8 2 7 2 60 2 7 2 91 1 61 4 9 5 7 4 73 1 7 2 7 2 78 2 6 2 7 1 65 4 7 5 9 4 10 3 31 4 8 4 8 4 5 1 5 2 44 1 7 1 7 2 7 1 95 2 6 2 7 2 6 1 22 1 6 2 5 2 5 2 5 2 63 3 23 2 11 2 5 2 5 2 5 2 6 2 6 2 6 2 6 1 7 2 89 1 30 1 7 1 6 2 6 2 6 2 6 2 5 2 5 2 5 2 9 5 8 5 8 5 30 3 9 5 8 5 9 1 6 2 5 2 5 2 6 2 6 2 6 2 6 1 29 1 77 1 45 1 6 2 6 2 31 3 76 2 14 2 76 1 103 1 55 1 5 2 5 3 11 5 8 4 9 2 20 3 8 4 10 4 10 4 5 2 5 2 5 2 39 1 7 1 119 1 7 2 6 2 6 2 6 2 6 2 5 2 5 2 5 3 11 3 13 1 79 2 5 2 5 2 6 2 6 2 6 2 7 1 999999"/><use href="#S168x172" stroke="#08f" stroke-dasharray="0 128 1 9 3 72 2 625 3 10 3 57 3 10 3 266 1 359 3 9 2 46 3 9 3 10 2 255 2 11 1 347 1 24 1 32 3 10 3 9 3 267 3 9 3 10 2 381 2 9 4 37 2 190 1 6 1 6 1 20 2 37 4 9 2 67 2 19 1 20 1 147 2 47 2 60 1 52 2 26 1 6 1 13 2 124 1 22 1 6 2 5 2 5 2 25 1 45 2 53 2 25 2 5 2 5 2 5 2 13 2 7 1 117 2 6 2 5 2 5 1 6 1 6 1 6 1 19 2 99 2 19 1 6 1 6 1 5 2 6 1 5 2 126 1 7 1 6 2 5 2 5 2 4 3 4 2 6 1 46 1 66 2 10 2 14 2 5 2 4 3 4 2 5 2 5 2 5 2 6 2 7 2 85 1 7 2 7 2 6 2 5 2 5 2 5 2 5 1 5 2 5 2 4 2 8 2 9 3 17 1 49 1 17 3 9 2 8 2 4 2 5 2 5 2 4 2 5 2 4 3 5 2 6 1 17 1 77 1 9 1 7 2 5 2 5 3 4 3 4 2 4 3 4 2 5 2 4 2 8 2 10 2 78 1 6 2 3 3 8 2 4 2 5 2 4 2 4 3 4 2 4 3 4 2 5 3 5 3 6 2 77 1 9 1 7 3 6 2 5 3 5 2 5 2 4 2 4 3 4 2 4 2 4 3 4 2 8 3 11 2 50 1 18 3 10 3 8 3 4 2 4 2 4 3 4 2 4 2 4 2 4 3 5 2 6 2 6 3 6 2 9 2 58 1 9 2 7 2 7 2 5 3 4 3 4 2 4 2 4 2 4 3 4 1 6 1 4 3 4 1 3 3 10 3 18 1 30 2 18 3 11 1 3 2 4 3 16 3 4 2 4 2 4 2 4 3 4 3 5 2 6 3 7 2 50 1 9 1 9 2 7 2 7 3 6 3 5 2 5 2 4 2 4 2 4 2 4 2 17 2 4 3 15 3 17 3 30 2 17 3 4 2 9 3 8 1 8 2 4 2 4 2 3 3 3 3 4 2 4 3 5 3 6 3 6 2 8 2 9 1 9 1 21 1 9 1 9 2 8 3 6 3 6 2 5 3 4 3 3 3 3 3 3 2 4 2 4 2 7 2 8 3 9 3 3 3 16 3 31 3 22 3 4 1 5 2 8 2 7 2 4 2 4 2 3 3 3 2 4 3 4 2 5 3 6 3 6 3 8 2 9 1 43 1 8 2 7 3 7 3 5 3 5 3 4 2 4 2 3 3 3 2 4 2 3 3 7 2 4 2 2 2 5 2 3 3 12 1 9 3 31 2 9 3 12 1 4 3 8 3 4 1 7 3 3 2 4 2 3 3 3 2 4 2 4 3 5 2 6 3 6 4 6 3 8 2 8 2 23 2 8 3 7 3 7 3 6 3 6 3 5 2 4 2 4 2 3 3 3 2 4 2 3 2 4 2 7 3 8 3 17 3 9 2 31 1 10 4 16 3 9 2 7 2 4 2 3 2 4 2 3 3 3 2 4 2 3 3 5 3 5 3 7 3 7 3 8 2 8 2 8 1 5 1 8 2 8 2 8 3 7 3 7 3 6 3 4 3 3 2 4 2 15 2 3 2 3 3 7 2 4 2 2 4 16 4 53 4 4 1 12 2 3 2 5 1 2 2 3 2 4 2 26 2 3 2 5 3 5 4 6 4 6 4 7 3 8 3 7 1 13 3 8 4 7 3 7 4 6 3 6 3 4 2 3 2 19 1 7 1 4 2 3 2 7 3 16 3 3 4 17 2 14 3 18 3 3 3 3 2 11 3 7 3 2 2 37 2 4 3 5 4 6 3 8 3 7 3 9 3 21 4 8 3 7 4 7 3 7 4 5 2 4 2 37 1 4 2 3 1 3 3 10 3 3 3 4 2 18 3 13 3 18 2 4 3 3 4 10 2 2 3 2 2 5 1 18 1 18 1 4 2 5 4 6 4 7 4 7 3 8 3 14 1 8 3 7 4 7 4 7 5 6 4 4 2 19 1 2 2 2 1 3 1 10 2 5 2 2 3 9 2 3 4 4 2 24 3 13 3 30 4 3 3 9 2 3 1 13 1 3 2 2 1 3 1 2 1 3 1 2 1 12 2 4 3 7 4 7 4 8 4 7 3 8 1 5 1 8 3 7 4 8 4 8 4 6 4 3 2 12 1 2 1 13 1 3 1 12 2 4 2 9 4 2 4 18 2 9 4 13 4 9 2 19 3 3 4 3 1 4 2 3 3 2 2 4 1 24 1 3 1 6 1 1 2 3 3 7 4 7 4 9 4 7 3 8 1 5 1 8 3 7 5 8 4 7 5 7 2 3 1 9 1 27 1 6 1 3 1 5 1 3 3 2 4 4 2 19 3 8 4 13 4 8 4 25 3 2 3 3 1 26 1 20 1 10 2 6 5 8 4 8 4 8 3 8 1 5 1 8 4 7 4 8 5 8 4 6 2 10 1 34 1 3 1 2 2 8 2 4 2 25 4 8 3 15 3 8 4 31 2 4 2 1 3 1 3 2 1 7 1 34 1 2 2 5 5 7 5 9 3 8 4 8 1 5 2 7 4 8 4 8 5 8 5 4 2 6 1 33 1 8 1 3 1 3 2 3 2 18 2 11 4 8 3 15 3 8 4 11 2 18 2 33 1 2 1 1 1 2 1 13 1 7 1 4 4 9 4 8 5 7 4 8 2 5 3 7 4 7 5 8 5 9 3 26 1 4 1 4 1 2 1 15 2 2 1 7 1 1 1 4 1 6 2 4 4 4 1 5 4 8 3 15 3 9 3 5 1 4 4 4 3 4 3 3 1 5 2 1 2 2 2 12 1 15 1 4 1 21 3 8 6 8 4 8 4 7 3 5 3 7 4 8 5 8 5 9 2 4 1 3 2 11 1 19 1 21 2 1 2 1 1 3 3 3 5 3 4 4 1 4 4 9 3 15 4 8 4 4 1 4 4 3 5 3 3 4 3 13 1 7 1 22 1 2 1 8 1 9 2 8 6 8 4 8 4 8 3 5 3 8 4 8 4 9 5 8 2 27 1 1 1 1 1 1 1 9 1 3 1 8 1 2 1 7 2 4 3 3 4 4 4 9 4 8 4 15 4 8 4 9 4 4 4 3 3 2 1 6 2 1 2 12 1 29 1 16 2 7 6 8 5 8 4 7 4 5 4 7 5 7 5 8 6 7 2 16 1 45 3 1 2 5 3 4 2 5 4 8 4 9 4 16 3 9 4 9 3 6 1 4 3 5 2 15 2 27 1 7 1 7 1 5 2 6 6 9 5 7 5 7 4 5 3 8 5 7 6 8 7 5 2 5 1 7 2 4 1 9 1 18 1 10 1 6 2 2 1 2 3 11 3 9 4 9 3 17 4 8 4 11 2 10 2 2 2 7 1 31 1 2 1 2 1 24 2 4 7 9 6 7 5 8 3 5 3 8 5 7 6 9 8 3 1 18 1 6 1 2 1 5 1 1 1 1 1 14 1 9 1 2 2 3 2 2 2 10 2 11 4 8 4 17 4 8 4 12 1 10 2 7 2 6 1 5 3 10 1 2 1 1 1 12 1 9 1 12 1 3 7 10 6 8 4 8 3 5 3 8 4 8 6 10 7 3 1 12 1 26 1 6 1 12 1 9 2 4 2 10 1 12 4 8 4 17 4 9 3 13 4 6 2 4 2 6 1 20 1 19 1 25 7 10 6 8 4 8 3 5 3 8 4 8 6 11 6 23 1 20 1 24 2 3 1 4 2 5 5 13 3 9 4 17 4 9 3 13 5 6 1 8 2 16 1 4 1 47 6 11 6 8 5 7 3 5 3 8 4 8 6 12 5 18 1 2 2 16 1 5 2 12 1 11 2 5 2 5 7 12 3 10 3 17 3 11 4 10 7 5 3 4 2 10 3 58 5 12 6 8 4 8 3 5 3 8 4 9 5 12 5 58 3 10 1 5 3 5 7 10 4 11 3 17 3 11 4 10 8 4 3 16 3 9 2 5 1 41 4 12 6 9 4 8 3 5 3 8 4 9 6 12 4 20 1 25 3 28 3 4 7 11 4 11 3 17 4 10 2 14 6 4 3 56 1 20 4 12 6 8 5 7 4 5 4 7 5 9 5 12 4 20 1 56 3 4 6 14 3 9 4 17 4 9 3 14 6 4 3 56 1 20 4 12 5 9 4 8 4 5 4 8 4 9 5 12 4 20 1 56 3 4 6 14 2 10 4 17 3 11 4 11 7 4 3 28 3 25 1 20 4 12 5 9 4 8 4 5 5 7 5 8 5 12 4 41 1 5 2 9 3 16 3 4 8 10 4 11 3 17 3 11 4 10 7 5 3 5 1 10 3 58 5 11 5 8 5 7 5 5 5 7 5 8 5 11 5 58 3 10 2 4 3 5 7 10 4 11 3 17 3 10 3 12 7 5 2 5 2 11 1 12 2 5 1 16 2 2 1 18 5 11 5 9 4 7 5 5 4 8 4 9 5 10 6 47 1 4 1 16 2 8 1 6 5 13 3 9 4 17 4 9 3 13 5 5 2 4 1 3 2 24 1 20 1 23 6 11 4 9 4 8 4 5 4 8 4 8 5 10 7 25 1 19 1 20 1 6 2 4 2 6 4 13 3 9 4 17 4 8 4 12 1 10 2 4 2 9 1 12 1 6 1 26 1 12 1 3 7 10 5 8 5 8 3 5 3 8 4 8 6 10 7 3 1 12 1 9 1 12 1 1 1 2 1 10 3 5 1 6 2 7 2 10 1 12 4 8 4 17 4 8 4 11 2 10 2 2 2 3 2 2 1 9 1 14 1 1 1 1 1 5 1 2 1 6 1 18 1 3 8 10 5 8 5 7 3 5 3 7 5 8 5 10 7 4 2 24 1 2 1 2 1 31 1 7 2 2 2 10 2 11 4 8 4 17 3 9 4 9 3 11 3 2 1 2 2 6 1 10 1 18 1 9 1 4 2 7 1 5 2 5 7 9 6 7 5 7 3 5 3 7 4 8 5 10 6 6 2 5 1 7 1 7 1 27 2 15 2 5 3 4 1 6 3 9 4 9 3 16 4 9 4 8 4 5 2 4 3 5 2 1 3 45 1 16 2 7 6 9 5 8 4 7 3 5 2 8 4 8 4 10 6 7 2 16 1 29 1 12 2 1 2 6 1 2 3 3 4 4 4 9 4 8 4 15 4 8 4 9 4 4 4 3 3 4 2 7 1 2 1 8 1 3 1 9 1 1 1 1 1 1 1 27 2 8 5 10 4 8 4 8 2 5 2 8 4 7 5 9 6 8 2 9 1 8 1 2 1 22 1 7 1 13 3 4 3 3 5 3 4 4 1 4 4 8 4 15 3 9 4 4 1 4 4 3 5 3 3 3 1 1 2 1 2 21 1 19 1 11 2 3 1 4 2 9 5 9 5 7 4 8 2 5 2 8 4 7 5 8 6 8 3 21 1 4 1 15 1 12 2 2 2 1 2 5 1 3 3 4 3 4 4 4 1 5 3 9 3 15 3 8 4 5 1 4 4 4 2 6 1 4 1 1 1 7 1 2 2 15 1 2 1 4 1 4 1 26 3 9 5 8 5 7 4 8 2 5 2 8 4 7 5 8 4 9 4 4 1 7 1 13 1 2 1 1 1 2 1 33 2 18 2 11 4 8 3 15 3 8 4 11 2 18 2 3 2 3 1 3 1 8 1 33 1 6 2 4 5 8 5 7 5 7 4 8 2 5 2 8 4 7 4 8 5 7 5 5 2 2 1 34 1 7 1 2 3 1 3 1 2 4 2 31 4 8 3 15 3 8 4 25 2 4 2 8 2 2 1 3 1 34 1 10 2 6 4 8 5 7 4 7 4 8 2 5 2 8 4 7 4 7 4 8 5 6 2 10 1 20 1 26 1 3 3 2 3 25 4 8 4 13 4 8 3 19 2 4 4 2 3 3 1 5 1 3 1 6 1 27 1 9 1 3 2 7 5 7 4 7 4 8 3 8 2 5 2 7 4 8 4 7 4 7 4 7 3 3 2 1 1 6 1 3 1 24 1 4 2 2 3 3 2 4 1 3 4 3 3 19 2 9 4 13 4 9 2 18 4 2 4 9 2 4 2 12 1 3 1 13 1 2 1 12 2 3 4 6 4 8 3 8 4 7 4 7 2 5 2 7 3 8 4 7 4 7 4 7 3 4 2 12 1 2 1 3 1 2 1 3 1 2 2 3 1 13 1 3 2 9 3 3 4 30 3 13 3 24 2 4 4 3 2 9 3 2 2 5 2 10 1 3 1 2 2 2 1 19 2 4 4 6 5 7 3 8 3 8 3 8 1 14 3 8 3 7 4 7 4 6 4 5 2 4 1 18 1 18 1 5 2 2 3 2 2 10 4 3 3 4 2 18 3 13 3 18 2 4 3 3 3 10 3 3 1 3 2 4 1 37 2 4 2 5 4 7 3 7 4 7 3 8 4 21 2 9 3 8 3 8 3 6 4 5 3 4 2 37 2 2 3 7 3 11 2 3 3 3 3 18 3 14 2 17 4 3 3 16 3 7 2 3 2 4 1 7 1 19 2 3 2 4 3 6 3 6 4 7 4 8 3 8 2 21 2 8 3 8 3 7 4 6 4 5 3 5 2 3 2 26 2 4 2 3 2 2 1 5 2 3 2 12 1 4 4 53 4 16 4 2 2 4 2 7 3 3 2 3 2 15 2 4 2 3 3 4 3 6 3 7 3 7 3 8 3 8 2 21 2 8 3 8 3 7 3 7 3 5 3 5 3 3 2 4 2 3 3 3 2 4 2 3 2 4 2 7 2 9 3 16 4 10 1 31 2 9 3 17 3 8 3 7 2 4 2 3 2 4 2 3 3 3 2 4 2 4 2 5 3 6 3 6 3 7 3 8 3 8 1 33 1 9 2 7 4 6 3 6 2 5 3 4 2 4 2 3 3 3 2 4 2 3 3 7 1 4 3 8 3 4 1 12 3 9 2 31 3 9 1 12 3 3 2 5 2 2 2 4 2 7 3 3 2 4 2 3 3 3 2 4 2 4 3 5 3 5 3 7 3 7 3 9 1 10 1 19 1 9 2 9 2 8 3 6 3 6 3 5 2 4 3 4 2 3 3 3 2 4 2 4 2 7 2 8 2 5 1 4 3 22 3 31 3 16 3 3 3 9 3 8 2 7 2 4 2 4 2 3 3 3 3 3 3 4 3 5 2 6 3 6 3 8 2 9 2 8 2 20 1 9 1 9 2 8 2 6 3 6 3 5 3 4 2 4 3 3 3 3 2 4 2 4 2 8 1 8 3 9 2 4 3 17 2 30 3 17 3 15 3 4 2 17 2 4 2 4 2 4 2 4 2 5 2 5 3 6 3 7 2 7 2 8 2 9 1 50 2 7 3 6 2 5 3 4 3 4 2 4 2 4 2 4 3 16 3 4 2 3 1 11 3 18 2 30 1 18 3 10 3 3 1 4 3 4 1 6 1 4 3 4 2 4 2 4 2 4 3 4 3 5 2 7 2 7 2 69 1 9 2 6 3 6 2 6 2 5 3 4 2 4 2 4 2 4 3 4 2 4 2 4 3 8 3 10 3 18 1 50 2 11 3 8 2 4 3 4 2 4 2 4 3 4 2 4 2 5 2 5 3 5 2 6 3 7 1 8 2 59 1 17 2 6 3 5 3 5 2 4 3 4 2 4 3 4 2 4 2 5 2 4 2 8 3 3 2 6 1 78 2 10 2 8 2 4 2 5 2 4 3 4 2 4 3 4 3 5 2 5 2 7 1 9 1 77 1 17 1 6 2 5 3 4 2 5 2 4 2 5 2 5 2 4 2 8 2 9 3 17 2 48 1 17 3 9 2 8 2 4 2 5 2 5 1 5 2 5 2 5 2 5 2 6 2 7 2 7 1 85 2 7 2 6 2 5 2 5 2 5 2 4 3 4 2 5 2 14 2 10 2 17 1 48 1 46 1 6 2 4 3 4 2 5 2 5 2 6 1 7 1 126 2 5 1 6 2 5 1 6 1 6 1 19 2 99 2 19 1 6 1 6 1 6 1 5 2 5 2 6 2 117 1 7 2 13 2 5 2 5 2 5 2 25 2 66 1 33 1 25 2 5 2 5 2 6 1 22 1 124 2 13 1 6 1 26 2 113 2 47 2 147 1 20 1 19 2 67 2 9 4 10 2 25 2 20 1 6 1 6 1 190 2 25 2 10 4 8 3 393 3 9 3 267 3 8 4 58 2 9 1 360 2 254 3 9 3 10 3 46 1 11 2 10 2 360 1 253 3 24 1 58 3 266 1 345 1 13 3 70 2 13 1 999999"/><use href="#S168x172" stroke="#00f" stroke-dasharray="0 927 1 700 1 2744 1 156 1 155 2 5 1 6 1 155 2 5 1 5 2 5 2 13 1 127 1 7 1 5 2 19 1 5 2 15 1 10 2 85 2 20 2 4 2 12 1 19 1 143 1 6 1 5 2 5 1 5 2 5 1 5 2 20 2 91 1 15 2 5 1 5 2 5 1 5 2 5 1 13 1 7 1 105 1 7 1 7 2 5 2 5 2 4 2 5 1 5 2 5 1 5 2 4 2 9 1 84 1 12 2 8 2 5 1 12 1 5 1 5 2 4 2 5 2 6 1 130 1 6 1 5 2 4 2 4 2 5 1 17 3 9 1 11 2 70 3 16 1 5 2 17 1 5 2 4 2 4 2 5 1 5 2 6 2 107 2 6 2 6 2 5 2 4 2 4 2 4 2 4 2 18 1 4 3 15 3 70 2 15 3 23 2 4 2 4 1 5 1 5 2 5 2 6 1 7 2 91 1 16 2 6 1 5 2 5 1 5 1 4 2 4 2 14 1 8 2 11 1 58 1 23 3 10 2 8 2 8 1 4 2 4 2 4 1 4 2 4 2 5 2 6 2 6 1 9 2 91 2 6 3 5 2 5 2 4 2 4 1 4 2 4 2 4 1 8 2 4 1 10 2 4 1 24 1 44 1 18 3 8 2 14 2 3 2 4 2 4 1 4 2 4 2 4 2 6 2 6 3 73 1 9 1 9 2 7 1 7 3 5 2 5 1 4 2 4 1 4 2 4 2 3 2 4 1 8 3 8 3 17 2 55 2 17 3 9 2 7 2 4 2 3 2 4 2 4 1 4 2 4 1 5 2 5 2 7 1 8 2 9 1 9 1 55 1 9 2 8 2 6 2 6 2 4 1 4 2 15 2 3 2 4 1 8 2 9 3 17 2 55 3 17 2 3 2 9 1 4 1 4 1 27 1 4 2 5 2 7 2 8 2 77 1 9 1 7 3 6 2 5 2 4 1 27 1 4 1 4 2 8 2 17 1 5 2 55 2 5 1 17 3 8 1 4 1 37 2 4 2 6 3 7 3 8 2 9 1 47 1 9 2 8 3 7 3 6 2 4 2 42 1 8 2 11 3 4 2 4 2 19 1 15 1 26 1 4 3 11 2 3 1 4 1 43 1 4 2 5 3 8 3 8 2 9 2 35 1 9 2 9 2 9 3 8 2 5 2 48 1 4 1 15 4 31 2 13 2 31 4 3 2 10 1 53 2 4 3 7 3 9 1 11 2 9 1 24 2 9 2 11 2 8 3 8 2 4 2 47 1 5 1 9 3 3 3 32 2 14 2 31 2 4 3 9 1 5 2 2 1 43 2 4 2 7 4 8 3 11 1 9 2 14 1 8 2 11 1 9 3 9 3 8 1 4 1 54 1 3 2 3 4 26 1 10 2 15 2 10 2 26 2 3 3 3 1 59 1 7 3 10 3 8 3 10 2 8 1 5 1 8 2 10 3 9 4 8 4 6 1 54 1 8 2 32 2 9 3 15 2 10 3 31 2 4 2 2 2 2 1 50 1 5 4 9 3 10 3 11 1 8 1 5 1 10 2 8 3 10 3 10 3 5 1 58 2 4 1 31 3 10 2 15 2 10 3 11 2 18 1 64 1 4 4 10 3 10 3 8 2 10 1 5 1 10 2 9 4 8 4 10 3 59 1 9 1 11 1 6 2 11 3 10 2 15 2 10 3 11 3 4 3 5 1 4 1 5 1 2 2 59 2 10 4 9 3 10 2 9 2 6 2 8 2 10 3 9 5 9 2 63 2 2 1 6 2 4 3 4 4 10 3 10 2 28 2 10 4 4 3 4 2 5 2 67 2 9 4 10 3 10 2 8 2 7 2 8 3 10 2 11 3 9 2 67 1 6 2 4 3 4 4 10 2 41 1 12 3 5 2 5 1 10 2 2 1 59 2 8 4 11 2 9 4 8 2 6 3 8 4 9 3 10 5 7 2 63 1 10 1 5 2 6 2 22 2 19 2 22 2 13 1 6 2 66 2 7 5 9 4 9 3 9 3 5 3 9 3 9 4 10 5 6 2 67 1 2 1 3 1 37 2 19 2 37 1 3 1 7 1 62 2 5 5 11 4 9 3 9 3 5 3 9 3 9 4 11 6 4 1 71 1 3 1 37 2 19 2 11 1 25 1 7 2 66 1 4 6 11 4 9 3 9 3 5 3 9 3 9 4 12 5 4 1 70 1 4 1 25 1 11 2 19 2 11 1 25 1 4 2 74 5 12 3 10 3 10 2 5 2 10 3 10 3 13 4 70 1 4 1 4 1 25 1 11 2 19 2 11 1 25 1 9 1 70 4 13 3 10 3 10 2 5 2 10 3 10 3 14 3 73 1 6 1 37 2 19 1 38 2 79 3 14 3 10 3 10 2 5 2 10 3 10 3 15 2 78 3 38 1 19 1 38 3 78 2 15 3 10 3 10 2 5 2 10 3 10 3 15 2 78 3 38 1 19 1 38 3 78 2 14 4 10 3 9 3 5 3 9 3 10 4 15 1 78 3 38 1 19 1 38 3 78 1 15 4 10 3 9 3 5 4 8 3 10 5 13 2 78 3 38 1 19 1 38 3 78 2 13 5 10 3 8 4 5 4 8 3 10 5 13 2 78 3 38 1 19 1 38 3 78 2 14 4 9 4 8 4 5 4 8 4 9 4 13 3 79 2 38 1 19 2 37 1 6 1 73 3 13 4 10 3 8 4 5 3 9 3 10 4 12 4 70 1 9 1 25 1 11 2 19 2 11 1 25 1 4 1 4 1 70 4 12 4 10 3 9 3 5 3 9 3 10 4 11 5 74 2 4 1 25 1 11 2 19 2 11 1 25 1 4 1 70 1 4 5 12 3 10 3 9 3 5 3 9 3 9 4 11 6 4 1 66 2 7 1 25 1 11 2 19 2 37 1 3 1 71 1 4 6 11 5 8 4 8 3 5 2 9 4 8 5 11 5 5 2 62 1 7 1 3 1 37 2 19 2 37 1 3 1 2 1 67 2 6 5 11 4 9 4 8 2 5 2 8 3 10 3 11 5 7 2 66 2 6 1 13 2 22 2 19 2 22 2 6 2 5 1 10 1 63 2 7 5 11 3 10 3 8 2 5 2 8 3 10 3 11 4 8 2 59 1 2 2 10 1 5 2 5 3 12 1 41 2 10 4 4 3 4 2 6 1 67 2 9 3 11 3 10 3 8 2 5 2 8 3 10 3 10 4 9 2 67 2 5 2 4 3 4 4 10 2 28 2 10 3 10 4 4 3 4 2 6 1 2 2 63 2 9 5 9 3 10 3 9 1 5 1 10 2 9 4 9 4 10 2 59 2 2 1 5 1 4 1 5 3 4 3 11 3 10 2 15 2 10 3 11 2 6 1 11 1 9 1 59 3 10 4 9 3 9 2 10 1 5 1 10 2 9 2 10 3 10 4 4 1 64 1 18 2 11 3 10 2 15 2 10 3 31 1 4 2 58 1 5 3 10 3 10 2 9 2 10 1 5 1 11 1 9 2 10 3 9 4 5 1 50 1 2 2 2 2 4 2 31 3 10 2 15 3 9 2 32 2 8 1 54 1 6 4 8 4 9 2 9 1 11 1 5 1 21 2 9 2 10 3 7 1 59 1 3 3 3 2 26 2 10 2 15 2 10 1 26 4 3 2 3 1 54 1 4 1 8 3 9 3 8 2 11 1 9 1 5 1 9 2 10 2 9 2 8 4 7 2 4 2 43 1 2 2 5 1 9 3 4 2 31 2 14 2 32 3 3 3 9 1 5 1 47 2 4 2 8 3 8 2 21 2 9 1 15 2 9 1 11 1 9 3 7 3 4 2 53 1 10 2 3 4 31 2 13 2 31 4 15 1 4 1 48 2 5 2 8 3 9 2 9 2 8 2 35 2 9 2 8 3 8 3 5 2 4 1 43 1 4 1 3 2 11 3 4 1 26 1 15 1 19 2 4 2 4 3 11 2 8 1 42 2 4 2 6 3 7 3 8 2 9 1 57 2 8 3 7 3 6 2 4 2 37 1 4 1 8 3 17 1 5 2 55 2 5 1 17 2 8 2 4 1 4 1 27 1 4 2 5 2 6 3 7 1 66 1 20 2 8 2 7 2 5 2 4 1 27 1 4 1 4 1 9 2 3 2 17 3 55 2 17 3 9 2 8 1 4 2 3 2 15 2 4 1 4 2 6 2 6 2 8 2 9 2 9 1 43 1 9 2 9 2 8 1 7 2 5 2 5 1 4 2 4 1 4 2 4 2 3 2 4 2 7 2 9 3 17 2 55 2 17 3 8 3 8 1 4 2 3 2 4 2 4 1 4 2 4 1 5 2 5 3 7 1 7 2 9 1 83 3 6 2 6 2 4 2 4 2 4 1 4 2 4 2 3 2 14 2 8 3 18 1 44 1 24 1 4 2 10 1 4 2 8 1 4 2 4 2 4 1 4 2 4 2 5 2 5 3 6 2 91 2 9 1 6 2 6 2 5 2 4 2 4 1 4 2 4 2 4 1 8 2 8 2 10 3 23 1 58 1 11 2 8 1 14 2 4 2 4 1 5 1 5 2 5 1 6 2 16 1 91 2 7 1 6 2 5 2 5 1 5 1 4 2 4 2 23 3 15 2 70 3 15 3 4 1 18 2 4 2 4 2 4 2 4 2 5 2 6 2 6 2 107 2 6 2 5 1 5 2 4 2 4 2 5 1 17 2 5 1 16 3 70 2 11 1 9 3 17 1 5 2 4 2 4 2 5 1 6 1 130 1 6 2 5 2 4 2 5 1 5 1 12 1 5 2 8 2 12 1 84 1 9 2 4 2 5 1 5 2 5 1 5 2 4 2 5 2 5 2 7 1 7 1 105 1 7 1 13 1 5 2 5 1 5 2 5 1 5 2 15 1 91 2 20 2 5 1 5 2 5 1 5 2 5 1 6 1 143 1 19 1 12 2 4 2 20 2 85 2 10 1 15 2 5 1 19 2 5 1 7 1 127 1 13 2 5 2 5 1 5 2 155 1 6 1 5 2 155 1 156 1 999999"/><use href="#S168x172" stroke="#008" stroke-dasharray="0 5176 1 27 1 196 1 18 2 129 2 12 1 5 1 12 1 157 1 18 1 12 1 5 1 118 2 24 1 18 1 145 1 12 1 5 1 5 1 18 1 95 1 23 1 18 1 5 1 5 1 5 1 145 1 13 1 5 1 5 1 5 1 24 1 17 1 71 1 17 2 23 1 5 1 5 1 5 1 5 1 140 1 6 1 5 1 5 1 5 1 4 1 24 2 95 1 11 2 8 1 15 1 4 1 5 1 5 1 5 1 6 1 6 1 111 1 7 1 7 1 5 1 5 1 5 1 5 1 4 1 5 1 120 2 10 1 14 1 5 1 4 1 5 1 5 1 4 1 6 1 15 1 112 1 6 2 5 1 4 1 5 1 5 1 4 1 5 1 13 2 9 3 93 3 9 2 8 1 4 1 5 1 4 1 5 1 5 1 4 1 5 1 6 2 17 1 85 1 9 2 7 1 6 1 5 1 4 1 16 1 5 1 4 1 8 1 10 2 18 2 55 2 23 2 14 1 4 1 27 1 5 1 5 2 7 2 106 1 8 1 5 1 5 1 32 1 4 1 9 2 23 2 55 2 23 3 8 1 4 1 38 1 4 2 7 1 9 1 78 1 10 1 9 2 7 1 4 1 43 1 8 2 12 1 81 2 16 1 4 1 43 1 4 1 7 1 10 1 10 1 89 2 6 1 48 1 4 1 16 3 80 2 5 1 10 1 53 1 6 1 9 1 93 2 8 2 5 1 53 1 9 3 4 2 87 3 9 1 5 1 47 1 5 1 9 2 9 2 71 2 10 2 8 1 59 1 4 1 4 2 95 2 4 1 64 1 8 1 12 1 60 1 23 2 7 1 64 1 44 1 17 1 44 1 5 1 3 1 3 1 50 1 6 2 10 2 12 1 49 1 12 2 10 3 5 1 58 1 5 1 32 1 11 1 17 1 11 1 32 1 64 1 4 3 11 2 12 1 38 2 22 2 12 2 69 1 32 1 41 1 12 2 6 1 17 1 2 2 59 1 14 1 10 1 11 2 27 2 11 2 12 1 11 1 63 2 2 1 6 1 5 3 5 2 12 1 41 1 12 2 5 3 4 2 6 1 67 1 11 2 11 2 11 2 17 2 21 2 11 3 10 1 74 1 5 2 6 2 67 2 6 2 5 1 10 1 63 1 10 3 11 2 21 2 7 2 21 2 12 3 9 1 63 1 10 1 97 1 6 2 66 1 9 3 13 1 9 1 11 2 7 2 10 2 24 3 8 1 74 1 97 1 3 1 70 1 7 3 12 2 11 2 11 1 6 2 11 2 11 2 12 3 82 1 97 1 7 2 72 4 12 2 11 2 11 2 5 2 11 2 11 2 13 4 80 1 97 1 4 1 75 3 14 2 12 1 11 2 5 2 10 2 12 2 14 3 70 1 9 1 97 1 80 2 15 3 11 2 10 2 5 2 10 2 11 3 15 2 80 1 97 1 80 1 16 3 11 2 10 2 5 2 10 2 11 3 16 1 80 1 97 2 79 1 16 3 11 2 10 2 5 2 10 2 11 3 16 1 78 3 97 3 78 1 16 3 11 2 10 2 5 2 10 3 11 2 16 1 78 3 97 3 78 1 16 2 11 3 10 2 5 2 11 2 11 2 16 1 78 3 97 3 78 1 16 2 11 2 11 1 7 1 11 2 11 2 16 1 79 2 97 1 80 1 16 2 11 2 11 1 7 1 11 2 11 2 16 1 80 1 97 1 80 2 15 2 11 2 11 1 7 1 11 2 11 2 15 2 80 1 97 1 9 1 70 3 14 2 11 2 11 2 5 2 11 2 11 2 14 3 75 1 4 1 97 1 80 4 13 2 11 2 11 2 5 2 11 2 11 2 12 4 72 2 7 1 97 1 82 3 13 1 12 1 11 2 5 2 22 1 15 3 7 1 70 1 3 1 97 1 74 1 8 3 14 2 21 2 6 1 9 1 11 2 13 3 9 1 66 2 6 1 97 1 10 1 63 1 9 3 13 2 11 1 9 1 17 1 11 2 12 3 10 1 63 1 10 1 5 2 6 2 67 2 6 2 5 1 74 1 10 3 12 2 11 1 27 1 12 1 12 2 11 1 67 1 6 2 4 3 5 2 12 1 41 1 12 2 5 3 5 1 6 1 2 2 63 1 11 1 13 1 11 2 27 2 22 1 14 1 59 2 2 1 17 1 6 2 12 1 41 1 32 1 69 2 12 2 22 2 28 1 22 2 11 3 4 1 64 1 32 1 11 1 17 1 11 1 32 1 5 1 58 1 5 3 10 2 12 1 9 1 39 2 11 2 10 2 6 1 50 1 3 1 3 1 5 1 44 1 17 1 44 1 64 1 7 2 22 2 50 1 9 1 12 1 8 1 64 1 4 2 95 2 4 1 4 1 59 1 8 2 10 2 9 1 61 2 9 2 9 1 5 1 47 1 5 1 9 3 87 2 4 3 9 1 53 1 5 2 8 2 10 1 82 1 9 1 6 1 53 1 10 1 5 2 80 3 16 1 4 1 48 1 6 2 89 1 10 1 10 1 7 1 4 1 43 1 4 1 16 2 81 1 12 2 8 1 43 1 4 1 7 2 9 1 10 1 78 1 9 1 7 2 4 1 38 1 4 1 8 3 23 2 55 2 23 2 9 1 4 1 32 1 5 1 5 1 8 1 106 2 7 2 5 1 5 1 27 1 4 1 14 2 23 2 55 2 18 2 10 1 8 1 4 1 5 1 16 1 4 1 5 1 6 1 7 2 9 1 85 1 17 2 6 1 5 1 4 1 5 1 5 1 4 1 5 1 4 1 8 2 9 3 93 3 9 2 13 1 5 1 4 1 5 1 5 1 4 1 5 2 6 1 112 1 15 1 6 1 4 1 5 1 5 1 4 1 5 1 14 1 10 2 120 1 5 1 4 1 5 1 5 1 5 1 5 1 7 1 7 1 111 1 6 1 6 1 5 1 5 1 5 1 4 1 15 1 8 2 11 1 95 2 24 1 4 1 5 1 5 1 5 1 6 1 140 1 5 1 5 1 5 1 5 1 23 2 17 1 71 1 17 1 24 1 5 1 5 1 5 1 13 1 145 1 5 1 5 1 5 1 18 1 23 1 95 1 18 1 5 1 5 1 12 1 145 1 18 1 24 2 118 1 5 1 12 1 18 1 157 1 12 1 5 1 12 2 129 2 18 1 196 1 27 1 999999"/></g></g><clipPath id="cpa"><rect x="65.6" y="5.5" width="330.60" height="330.10"/></clipPath><clipPath id="cpb"><rect x="500.3" y="3.1" width="334.30" height="332.60"/></clipPath><clipPath id="cpc"><rect x="944.2" y="5.6" width="327.60" height="326.90"/></clipPath><clipPath id="cpd"><rect x="1388.4" y="4.0" width="332.60" height="331.70"/></clipPath><clipPath id="cpe"><rect x="61.6" y="381.8" width="334.20" height="329.80"/></clipPath><clipPath id="cpf"><rect x="501.3" y="381.0" width="334.50" height="331.40"/></clipPath><clipPath id="cpg"><rect x="941.8" y="381.0" width="331.50" height="330.60"/></clipPath><clipPath id="cph"><rect x="1388.2" y="381.8" width="335.10" height="331.20"/></clipPath><linearGradient id="cb" x1="0" y1="0" x2="0" y2="1"><stop offset="0.000" stop-color="#800000"/><stop offset="0.025" stop-color="#990000"/><stop offset="0.050" stop-color="#b30000"/><stop offset="0.075" stop-color="#cc0000"/><stop offset="0.100" stop-color="#e50000"/><stop offset="0.125" stop-color="#ff0000"/><stop offset="0.150" stop-color="#ff1a00"/><stop offset="0.175" stop-color="#ff3300"/><stop offset="0.200" stop-color="#ff4c00"/><stop offset="0.225" stop-color="#ff6600"/><stop offset="0.250" stop-color="#ff8000"/><stop offset="0.275" stop-color="#ff9900"/><stop offset="0.300" stop-color="#ffb300"/><stop offset="0.325" stop-color="#ffcc00"/><stop offset="0.350" stop-color="#ffe500"/><stop offset="0.375" stop-color="#ffff00"/><stop offset="0.400" stop-color="#e5ff1a"/><stop offset="0.425" stop-color="#ccff33"/><stop offset="0.450" stop-color="#b3ff4c"/><stop offset="0.475" stop-color="#99ff66"/><stop offset="0.500" stop-color="#80ff80"/><stop offset="0.525" stop-color="#66ff99"/><stop offset="0.550" stop-color="#4cffb3"/><stop offset="0.575" stop-color="#33ffcc"/><stop offset="0.600" stop-color="#1affe5"/><stop offset="0.625" stop-color="#00ffff"/><stop offset="0.650" stop-color="#00e5ff"/><stop offset="0.675" stop-color="#00ccff"/><stop offset="0.700" stop-color="#00b3ff"/><stop offset="0.725" stop-color="#0099ff"/><stop offset="0.750" stop-color="#0080ff"/><stop offset="0.775" stop-color="#0066ff"/><stop offset="0.800" stop-color="#004cff"/><stop offset="0.825" stop-color="#0033ff"/><stop offset="0.850" stop-color="#001aff"/><stop offset="0.875" stop-color="#0000ff"/><stop offset="0.900" stop-color="#0000e5"/><stop offset="0.925" stop-color="#0000cc"/><stop offset="0.950" stop-color="#0000b3"/><stop offset="0.975" stop-color="#000099"/><stop offset="1.000" stop-color="#000080"/></linearGradient></defs>
<rect width="1900" height="1128" fill="#fff"/>
<g clip-path="url(#cpa)"><g filter="url(#bla)">
<rect x="59.599999999999994" y="-0.5" width="342.6" height="342.1" fill="#80ff80"/>
<use href="#Fa" transform="translate(231.0 170)"/>
</g>
<circle cx="231.0" cy="170.4" r="19.40" fill="#1caaee" stroke="#ffff14" stroke-width="3.60"/>
</g>
<rect x="65.6" y="5.5" width="330.6" height="330.1" fill="none" stroke="#3d7a3d" stroke-opacity="0.85" stroke-width="0.9"/>
<text x="58.30" y="23.30" font-family="'Liberation Serif','DejaVu Serif',serif" font-weight="bold" font-size="28.6" text-anchor="end" fill="#000">8</text>
<text x="58.30" y="63.30" font-family="'Liberation Serif','DejaVu Serif',serif" font-weight="bold" font-size="28.6" text-anchor="end" fill="#000">6</text>
<text x="58.30" y="99.70" font-family="'Liberation Serif','DejaVu Serif',serif" font-weight="bold" font-size="28.6" text-anchor="end" fill="#000">4</text>
<text x="58.30" y="140.80" font-family="'Liberation Serif','DejaVu Serif',serif" font-weight="bold" font-size="28.6" text-anchor="end" fill="#000">2</text>
<text x="58.30" y="180.50" font-family="'Liberation Serif','DejaVu Serif',serif" font-weight="bold" font-size="28.6" text-anchor="end" fill="#000">0</text>
<text x="58.30" y="224.60" font-family="'Liberation Serif','DejaVu Serif',serif" font-weight="bold" font-size="28.6" text-anchor="end" fill="#000">-2</text>
<text x="58.30" y="261.40" font-family="'Liberation Serif','DejaVu Serif',serif" font-weight="bold" font-size="28.6" text-anchor="end" fill="#000">-4</text>
<text x="58.30" y="301.80" font-family="'Liberation Serif','DejaVu Serif',serif" font-weight="bold" font-size="28.6" text-anchor="end" fill="#000">-6</text>
<text x="58.30" y="338.50" font-family="'Liberation Serif','DejaVu Serif',serif" font-weight="bold" font-size="28.6" text-anchor="end" fill="#000">-8</text>
<text x="74.65" y="359.70" font-family="'Liberation Serif','DejaVu Serif',serif" font-weight="bold" font-size="28.6" text-anchor="end" fill="#000">-8</text>
<text x="115.15" y="359.70" font-family="'Liberation Serif','DejaVu Serif',serif" font-weight="bold" font-size="28.6" text-anchor="end" fill="#000">-6</text>
<text x="156.55" y="359.70" font-family="'Liberation Serif','DejaVu Serif',serif" font-weight="bold" font-size="28.6" text-anchor="end" fill="#000">-4</text>
<text x="196.35" y="359.70" font-family="'Liberation Serif','DejaVu Serif',serif" font-weight="bold" font-size="28.6" text-anchor="end" fill="#000">-2</text>
<text x="235.05" y="359.70" font-family="'Liberation Serif','DejaVu Serif',serif" font-weight="bold" font-size="28.6" text-anchor="end" fill="#000">0</text>
<text x="274.75" y="359.70" font-family="'Liberation Serif','DejaVu Serif',serif" font-weight="bold" font-size="28.6" text-anchor="end" fill="#000">2</text>
<text x="315.25" y="359.70" font-family="'Liberation Serif','DejaVu Serif',serif" font-weight="bold" font-size="28.6" text-anchor="end" fill="#000">4</text>
<text x="356.85" y="359.70" font-family="'Liberation Serif','DejaVu Serif',serif" font-weight="bold" font-size="28.6" text-anchor="end" fill="#000">6</text>
<text x="396.25" y="359.70" font-family="'Liberation Serif','DejaVu Serif',serif" font-weight="bold" font-size="28.6" text-anchor="end" fill="#000">8</text>
<path d="M77.5 320.1V245.5h-4.3l6.55 -11.9l6.55 11.9h-4.3V315.6H155.7v-4.1l12.1 6.35l-12.1 6.35v-4.1z" fill="#000"/>
<text x="92.90" y="251.00" font-family="'Liberation Serif','DejaVu Serif',serif" font-weight="bold" font-style="italic" font-size="45" text-anchor="start" fill="#000">y</text>
<text x="149.90" y="298.00" font-family="'Liberation Serif','DejaVu Serif',serif" font-weight="bold" font-style="italic" font-size="47" text-anchor="start" fill="#000">x</text>
<g clip-path="url(#cpb)"><g filter="url(#blb)">
<rect x="494.3" y="-2.9" width="346.3" height="344.6" fill="#80ff80"/>
<use href="#Fb" transform="translate(669.0 169.5)"/>
</g>
<g transform="translate(668.75 169.5)" fill="none" stroke="#e0ff40" stroke-opacity="0.16" stroke-width="1.6"><circle r="30"/><circle r="36"/><circle r="42"/><circle r="48"/><circle r="54"/><circle r="60"/><circle r="66"/><circle r="72"/><circle r="78"/><circle r="84"/><circle r="90"/><circle r="96"/><circle r="102"/><circle r="108"/><circle r="114"/><circle r="120"/><circle r="126"/><circle r="132"/><circle r="138"/><circle r="144"/><circle r="150"/><circle r="156"/><circle r="162"/><circle r="168"/><circle r="174"/><circle r="180"/><circle r="186"/><circle r="192"/><circle r="198"/><circle r="204"/><circle r="210"/><circle r="216"/><circle r="222"/><circle r="228"/><circle r="234"/><circle r="240"/><circle r="246"/><circle r="252"/><circle r="258"/><circle r="264"/><circle r="270"/><circle r="276"/><circle r="282"/><circle r="288"/><circle r="294"/><circle r="300"/><circle r="306"/><circle r="312"/><circle r="318"/><circle r="324"/></g>
<g transform="translate(668.75 169.5)" fill="none" stroke="#40ffd0" stroke-opacity="0.16" stroke-width="1.6"><circle r="33"/><circle r="39"/><circle r="45"/><circle r="51"/><circle r="57"/><circle r="63"/><circle r="69"/><circle r="75"/><circle r="81"/><circle r="87"/><circle r="93"/><circle r="99"/><circle r="105"/><circle r="111"/><circle r="117"/><circle r="123"/><circle r="129"/><circle r="135"/><circle r="141"/><circle r="147"/><circle r="153"/><circle r="159"/><circle r="165"/><circle r="171"/><circle r="177"/><circle r="183"/><circle r="189"/><circle r="195"/><circle r="201"/><circle r="207"/><circle r="213"/><circle r="219"/><circle r="225"/><circle r="231"/><circle r="237"/><circle r="243"/><circle r="249"/><circle r="255"/><circle r="261"/><circle r="267"/><circle r="273"/><circle r="279"/><circle r="285"/><circle r="291"/><circle r="297"/><circle r="303"/><circle r="309"/><circle r="315"/><circle r="321"/><circle r="327"/></g>
<circle cx="668.75" cy="169.5" r="19.60" fill="#1caaee" stroke="#ffff14" stroke-width="3.80"/>
</g>
<rect x="500.3" y="3.1" width="334.3" height="332.6" fill="none" stroke="#3d7a3d" stroke-opacity="0.85" stroke-width="0.9"/>
<text x="493.60" y="25.60" font-family="'Liberation Serif','DejaVu Serif',serif" font-weight="bold" font-size="28.6" text-anchor="end" fill="#000">8</text>
<text x="493.60" y="65.60" font-family="'Liberation Serif','DejaVu Serif',serif" font-weight="bold" font-size="28.6" text-anchor="end" fill="#000">6</text>
<text x="493.60" y="102.00" font-family="'Liberation Serif','DejaVu Serif',serif" font-weight="bold" font-size="28.6" text-anchor="end" fill="#000">4</text>
<text x="493.60" y="143.10" font-family="'Liberation Serif','DejaVu Serif',serif" font-weight="bold" font-size="28.6" text-anchor="end" fill="#000">2</text>
<text x="493.60" y="182.80" font-family="'Liberation Serif','DejaVu Serif',serif" font-weight="bold" font-size="28.6" text-anchor="end" fill="#000">0</text>
<text x="493.60" y="226.90" font-family="'Liberation Serif','DejaVu Serif',serif" font-weight="bold" font-size="28.6" text-anchor="end" fill="#000">-2</text>
<text x="493.60" y="263.70" font-family="'Liberation Serif','DejaVu Serif',serif" font-weight="bold" font-size="28.6" text-anchor="end" fill="#000">-4</text>
<text x="493.60" y="304.10" font-family="'Liberation Serif','DejaVu Serif',serif" font-weight="bold" font-size="28.6" text-anchor="end" fill="#000">-6</text>
<text x="493.60" y="340.80" font-family="'Liberation Serif','DejaVu Serif',serif" font-weight="bold" font-size="28.6" text-anchor="end" fill="#000">-8</text>
<text x="509.95" y="362.00" font-family="'Liberation Serif','DejaVu Serif',serif" font-weight="bold" font-size="28.6" text-anchor="end" fill="#000">-8</text>
<text x="550.45" y="362.00" font-family="'Liberation Serif','DejaVu Serif',serif" font-weight="bold" font-size="28.6" text-anchor="end" fill="#000">-6</text>
<text x="591.85" y="362.00" font-family="'Liberation Serif','DejaVu Serif',serif" font-weight="bold" font-size="28.6" text-anchor="end" fill="#000">-4</text>
<text x="631.65" y="362.00" font-family="'Liberation Serif','DejaVu Serif',serif" font-weight="bold" font-size="28.6" text-anchor="end" fill="#000">-2</text>
<text x="670.35" y="362.00" font-family="'Liberation Serif','DejaVu Serif',serif" font-weight="bold" font-size="28.6" text-anchor="end" fill="#000">0</text>
<text x="710.05" y="362.00" font-family="'Liberation Serif','DejaVu Serif',serif" font-weight="bold" font-size="28.6" text-anchor="end" fill="#000">2</text>
<text x="750.55" y="362.00" font-family="'Liberation Serif','DejaVu Serif',serif" font-weight="bold" font-size="28.6" text-anchor="end" fill="#000">4</text>
<text x="792.15" y="362.00" font-family="'Liberation Serif','DejaVu Serif',serif" font-weight="bold" font-size="28.6" text-anchor="end" fill="#000">6</text>
<text x="831.55" y="362.00" font-family="'Liberation Serif','DejaVu Serif',serif" font-weight="bold" font-size="28.6" text-anchor="end" fill="#000">8</text>
<path d="M512.8 322.4V247.8h-4.3l6.55 -11.9l6.55 11.9h-4.3V317.9H591.0v-4.1l12.1 6.35l-12.1 6.35v-4.1z" fill="#000"/>
<text x="528.20" y="253.30" font-family="'Liberation Serif','DejaVu Serif',serif" font-weight="bold" font-style="italic" font-size="45" text-anchor="start" fill="#000">y</text>
<text x="585.20" y="300.30" font-family="'Liberation Serif','DejaVu Serif',serif" font-weight="bold" font-style="italic" font-size="47" text-anchor="start" fill="#000">x</text>
<g clip-path="url(#cpc)"><g filter="url(#bla)">
<rect x="938.2" y="-0.40000000000000036" width="339.6" height="338.9" fill="#80ff80"/>
<use href="#Fa" transform="translate(1108.4 170)"/>
</g>
<circle cx="1108.4" cy="169.6" r="19.75" fill="#1caaee" stroke="#ffff14" stroke-width="4.10"/>
</g>
<rect x="944.2" y="5.6" width="327.6" height="326.9" fill="none" stroke="#3d7a3d" stroke-opacity="0.85" stroke-width="0.9"/>
<text x="937.80" y="23.30" font-family="'Liberation Serif','DejaVu Serif',serif" font-weight="bold" font-size="28.6" text-anchor="end" fill="#000">8</text>
<text x="937.80" y="63.30" font-family="'Liberation Serif','DejaVu Serif',serif" font-weight="bold" font-size="28.6" text-anchor="end" fill="#000">6</text>
<text x="937.80" y="99.70" font-family="'Liberation Serif','DejaVu Serif',serif" font-weight="bold" font-size="28.6" text-anchor="end" fill="#000">4</text>
<text x="937.80" y="140.80" font-family="'Liberation Serif','DejaVu Serif',serif" font-weight="bold" font-size="28.6" text-anchor="end" fill="#000">2</text>
<text x="937.80" y="180.50" font-family="'Liberation Serif','DejaVu Serif',serif" font-weight="bold" font-size="28.6" text-anchor="end" fill="#000">0</text>
<text x="937.80" y="224.60" font-family="'Liberation Serif','DejaVu Serif',serif" font-weight="bold" font-size="28.6" text-anchor="end" fill="#000">-2</text>
<text x="937.80" y="261.40" font-family="'Liberation Serif','DejaVu Serif',serif" font-weight="bold" font-size="28.6" text-anchor="end" fill="#000">-4</text>
<text x="937.80" y="301.80" font-family="'Liberation Serif','DejaVu Serif',serif" font-weight="bold" font-size="28.6" text-anchor="end" fill="#000">-6</text>
<text x="937.80" y="338.50" font-family="'Liberation Serif','DejaVu Serif',serif" font-weight="bold" font-size="28.6" text-anchor="end" fill="#000">-8</text>
<text x="954.15" y="359.70" font-family="'Liberation Serif','DejaVu Serif',serif" font-weight="bold" font-size="28.6" text-anchor="end" fill="#000">-8</text>
<text x="994.65" y="359.70" font-family="'Liberation Serif','DejaVu Serif',serif" font-weight="bold" font-size="28.6" text-anchor="end" fill="#000">-6</text>
<text x="1036.05" y="359.70" font-family="'Liberation Serif','DejaVu Serif',serif" font-weight="bold" font-size="28.6" text-anchor="end" fill="#000">-4</text>
<text x="1075.85" y="359.70" font-family="'Liberation Serif','DejaVu Serif',serif" font-weight="bold" font-size="28.6" text-anchor="end" fill="#000">-2</text>
<text x="1114.55" y="359.70" font-family="'Liberation Serif','DejaVu Serif',serif" font-weight="bold" font-size="28.6" text-anchor="end" fill="#000">0</text>
<text x="1154.25" y="359.70" font-family="'Liberation Serif','DejaVu Serif',serif" font-weight="bold" font-size="28.6" text-anchor="end" fill="#000">2</text>
<text x="1194.75" y="359.70" font-family="'Liberation Serif','DejaVu Serif',serif" font-weight="bold" font-size="28.6" text-anchor="end" fill="#000">4</text>
<text x="1236.35" y="359.70" font-family="'Liberation Serif','DejaVu Serif',serif" font-weight="bold" font-size="28.6" text-anchor="end" fill="#000">6</text>
<text x="1275.75" y="359.70" font-family="'Liberation Serif','DejaVu Serif',serif" font-weight="bold" font-size="28.6" text-anchor="end" fill="#000">8</text>
<path d="M957.0 320.1V245.5h-4.3l6.55 -11.9l6.55 11.9h-4.3V315.6H1035.2v-4.1l12.1 6.35l-12.1 6.35v-4.1z" fill="#000"/>
<text x="972.40" y="251.00" font-family="'Liberation Serif','DejaVu Serif',serif" font-weight="bold" font-style="italic" font-size="45" text-anchor="start" fill="#000">y</text>
<text x="1029.40" y="298.00" font-family="'Liberation Serif','DejaVu Serif',serif" font-weight="bold" font-style="italic" font-size="47" text-anchor="start" fill="#000">x</text>
<g clip-path="url(#cpd)"><g filter="url(#blb)">
<rect x="1382.4" y="-2.0" width="344.6" height="343.7" fill="#80ff80"/>
<use href="#Fd" transform="translate(1554.0 169.1)"/>
</g>
<g transform="translate(1553.6 169.1)" fill="none" stroke="#e0ff40" stroke-opacity="0.26" stroke-width="1.6"><circle r="30"/><circle r="36"/><circle r="42"/><circle r="48"/><circle r="54"/><circle r="60"/><circle r="66"/><circle r="72"/><circle r="78"/><circle r="84"/><circle r="90"/><circle r="96"/><circle r="102"/><circle r="108"/><circle r="114"/><circle r="120"/><circle r="126"/><circle r="132"/><circle r="138"/><circle r="144"/><circle r="150"/><circle r="156"/><circle r="162"/><circle r="168"/><circle r="174"/><circle r="180"/><circle r="186"/><circle r="192"/><circle r="198"/><circle r="204"/><circle r="210"/><circle r="216"/><circle r="222"/><circle r="228"/><circle r="234"/><circle r="240"/><circle r="246"/><circle r="252"/><circle r="258"/><circle r="264"/><circle r="270"/><circle r="276"/><circle r="282"/><circle r="288"/><circle r="294"/><circle r="300"/><circle r="306"/><circle r="312"/><circle r="318"/><circle r="324"/></g>
<g transform="translate(1553.6 169.1)" fill="none" stroke="#40ffd0" stroke-opacity="0.26" stroke-width="1.6"><circle r="33"/><circle r="39"/><circle r="45"/><circle r="51"/><circle r="57"/><circle r="63"/><circle r="69"/><circle r="75"/><circle r="81"/><circle r="87"/><circle r="93"/><circle r="99"/><circle r="105"/><circle r="111"/><circle r="117"/><circle r="123"/><circle r="129"/><circle r="135"/><circle r="141"/><circle r="147"/><circle r="153"/><circle r="159"/><circle r="165"/><circle r="171"/><circle r="177"/><circle r="183"/><circle r="189"/><circle r="195"/><circle r="201"/><circle r="207"/><circle r="213"/><circle r="219"/><circle r="225"/><circle r="231"/><circle r="237"/><circle r="243"/><circle r="249"/><circle r="255"/><circle r="261"/><circle r="267"/><circle r="273"/><circle r="279"/><circle r="285"/><circle r="291"/><circle r="297"/><circle r="303"/><circle r="309"/><circle r="315"/><circle r="321"/><circle r="327"/></g>
<circle cx="1553.6" cy="169.1" r="19.65" fill="#1caaee" stroke="#ffff14" stroke-width="3.90"/>
</g>
<rect x="1388.4" y="4.0" width="332.6" height="331.7" fill="none" stroke="#3d7a3d" stroke-opacity="0.85" stroke-width="0.9"/>
<text x="1381.00" y="25.70" font-family="'Liberation Serif','DejaVu Serif',serif" font-weight="bold" font-size="28.6" text-anchor="end" fill="#000">8</text>
<text x="1381.00" y="65.70" font-family="'Liberation Serif','DejaVu Serif',serif" font-weight="bold" font-size="28.6" text-anchor="end" fill="#000">6</text>
<text x="1381.00" y="102.10" font-family="'Liberation Serif','DejaVu Serif',serif" font-weight="bold" font-size="28.6" text-anchor="end" fill="#000">4</text>
<text x="1381.00" y="143.20" font-family="'Liberation Serif','DejaVu Serif',serif" font-weight="bold" font-size="28.6" text-anchor="end" fill="#000">2</text>
<text x="1381.00" y="182.90" font-family="'Liberation Serif','DejaVu Serif',serif" font-weight="bold" font-size="28.6" text-anchor="end" fill="#000">0</text>
<text x="1381.00" y="227.00" font-family="'Liberation Serif','DejaVu Serif',serif" font-weight="bold" font-size="28.6" text-anchor="end" fill="#000">-2</text>
<text x="1381.00" y="263.80" font-family="'Liberation Serif','DejaVu Serif',serif" font-weight="bold" font-size="28.6" text-anchor="end" fill="#000">-4</text>
<text x="1381.00" y="304.20" font-family="'Liberation Serif','DejaVu Serif',serif" font-weight="bold" font-size="28.6" text-anchor="end" fill="#000">-6</text>
<text x="1381.00" y="340.90" font-family="'Liberation Serif','DejaVu Serif',serif" font-weight="bold" font-size="28.6" text-anchor="end" fill="#000">-8</text>
<text x="1397.35" y="362.10" font-family="'Liberation Serif','DejaVu Serif',serif" font-weight="bold" font-size="28.6" text-anchor="end" fill="#000">-8</text>
<text x="1437.85" y="362.10" font-family="'Liberation Serif','DejaVu Serif',serif" font-weight="bold" font-size="28.6" text-anchor="end" fill="#000">-6</text>
<text x="1479.25" y="362.10" font-family="'Liberation Serif','DejaVu Serif',serif" font-weight="bold" font-size="28.6" text-anchor="end" fill="#000">-4</text>
<text x="1519.05" y="362.10" font-family="'Liberation Serif','DejaVu Serif',serif" font-weight="bold" font-size="28.6" text-anchor="end" fill="#000">-2</text>
<text x="1557.75" y="362.10" font-family="'Liberation Serif','DejaVu Serif',serif" font-weight="bold" font-size="28.6" text-anchor="end" fill="#000">0</text>
<text x="1597.45" y="362.10" font-family="'Liberation Serif','DejaVu Serif',serif" font-weight="bold" font-size="28.6" text-anchor="end" fill="#000">2</text>
<text x="1637.95" y="362.10" font-family="'Liberation Serif','DejaVu Serif',serif" font-weight="bold" font-size="28.6" text-anchor="end" fill="#000">4</text>
<text x="1679.55" y="362.10" font-family="'Liberation Serif','DejaVu Serif',serif" font-weight="bold" font-size="28.6" text-anchor="end" fill="#000">6</text>
<text x="1718.95" y="362.10" font-family="'Liberation Serif','DejaVu Serif',serif" font-weight="bold" font-size="28.6" text-anchor="end" fill="#000">8</text>
<path d="M1400.2 322.4V247.9h-4.3l6.55 -11.9l6.55 11.9h-4.3V317.9H1478.4v-4.1l12.1 6.35l-12.1 6.35v-4.1z" fill="#000"/>
<text x="1415.60" y="253.40" font-family="'Liberation Serif','DejaVu Serif',serif" font-weight="bold" font-style="italic" font-size="45" text-anchor="start" fill="#000">y</text>
<text x="1472.60" y="300.40" font-family="'Liberation Serif','DejaVu Serif',serif" font-weight="bold" font-style="italic" font-size="47" text-anchor="start" fill="#000">x</text>
<g clip-path="url(#cpe)"><g filter="url(#bl)">
<rect x="55.6" y="375.8" width="346.2" height="341.8" fill="#80ff80"/>
<use href="#Fe" transform="translate(230.2 550.8) scale(1.0000 1.0323)"/>
</g>
<ellipse cx="230.2" cy="550.8" rx="81.55" ry="84.05" fill="none" stroke="#ffff00" stroke-width="10.10"/>
<path transform="translate(230.2 547.2)" d="M-9.1 -22.5C-8.1 -24.4 -6.7 -29.4 -4.8 -32.0C-2.9 -34.6 -0.5 -36.6 2.5 -38.3C5.5 -40.0 9.8 -41.3 13.1 -42.0C16.4 -42.7 19.1 -42.7 22.6 -42.5C26.1 -42.3 30.5 -41.9 34.2 -41.0C37.9 -40.1 41.2 -39.0 44.7 -37.3C48.2 -35.6 52.1 -33.4 55.3 -30.9C58.5 -28.4 61.3 -25.6 63.7 -22.5C66.1 -19.4 68.2 -15.5 69.5 -12.0C70.8 -8.5 71.4 -3.7 71.6 -1.4C71.8 0.9 70.6 0.8 70.6 1.8C70.6 2.9 71.9 2.5 71.6 4.9C71.3 7.3 70.5 12.6 69.0 16.5C67.5 20.4 65.3 24.6 62.7 28.1C60.1 31.6 56.7 35.0 53.2 37.6C49.7 40.2 45.7 42.5 41.6 44.0C37.5 45.5 33.1 46.4 28.9 46.6C24.7 46.9 20.4 46.5 16.3 45.5C12.2 44.5 7.9 42.8 4.6 40.8C1.2 38.8 -1.4 36.0 -3.8 33.4C-6.2 30.8 -8.9 27.3 -10.1 25.0C-11.3 22.7 -10.5 21.1 -11.2 19.7C-11.9 18.3 -13.1 17.9 -14.3 16.5C-15.5 15.1 -17.6 13.1 -18.6 11.3C-19.6 9.6 -20.3 7.5 -20.1 6.0C-19.9 4.5 -17.5 3.4 -17.5 2.0C-17.5 0.6 -19.9 -0.7 -20.1 -2.5C-20.3 -4.3 -19.6 -7.1 -18.6 -8.8C-17.6 -10.6 -15.5 -11.9 -14.3 -13.0C-13.1 -14.1 -11.8 -14.4 -11.2 -15.6C-10.6 -16.8 -10.9 -19.2 -10.6 -20.4C-10.2 -21.5 -10.1 -20.6 -9.1 -22.5Z" fill="#fff" stroke="#222" stroke-width="0.9"/>
<circle cx="229.6" cy="548.2" r="25.3" fill="none" stroke="#333" stroke-width="0.8"/>
</g>
<path d="M61.6 383.3h2.5M395.8 383.3h-2.5M62.6 381.8v2.5M62.6 711.6v-2.5M61.6 424.3h2.5M395.8 424.3h-2.5M104.1 381.8v2.5M104.1 711.6v-2.5M61.6 465.2h2.5M395.8 465.2h-2.5M145.7 381.8v2.5M145.7 711.6v-2.5M61.6 506.2h2.5M395.8 506.2h-2.5M187.2 381.8v2.5M187.2 711.6v-2.5M61.6 547.2h2.5M395.8 547.2h-2.5M228.7 381.8v2.5M228.7 711.6v-2.5M61.6 588.2h2.5M395.8 588.2h-2.5M270.2 381.8v2.5M270.2 711.6v-2.5M61.6 629.2h2.5M395.8 629.2h-2.5M311.8 381.8v2.5M311.8 711.6v-2.5M61.6 670.1h2.5M395.8 670.1h-2.5M353.3 381.8v2.5M353.3 711.6v-2.5M61.6 711.1h2.5M395.8 711.1h-2.5M394.8 381.8v2.5M394.8 711.6v-2.5" stroke="#222" stroke-width="0.8" fill="none"/>
<text x="56.80" y="398.30" font-family="'Liberation Serif','DejaVu Serif',serif" font-weight="bold" font-size="27.8" text-anchor="end" fill="#000">2</text>
<text x="56.80" y="474.70" font-family="'Liberation Serif','DejaVu Serif',serif" font-weight="bold" font-size="27.8" text-anchor="end" fill="#000">1</text>
<text x="56.80" y="555.60" font-family="'Liberation Serif','DejaVu Serif',serif" font-weight="bold" font-size="27.8" text-anchor="end" fill="#000">0</text>
<text x="56.80" y="637.00" font-family="'Liberation Serif','DejaVu Serif',serif" font-weight="bold" font-size="27.8" text-anchor="end" fill="#000">-1</text>
<text x="56.80" y="714.50" font-family="'Liberation Serif','DejaVu Serif',serif" font-weight="bold" font-size="27.8" text-anchor="end" fill="#000">-2</text>
<text x="73.45" y="734.60" font-family="'Liberation Serif','DejaVu Serif',serif" font-weight="bold" font-size="27.8" text-anchor="end" fill="#000">-2</text>
<text x="155.35" y="734.60" font-family="'Liberation Serif','DejaVu Serif',serif" font-weight="bold" font-size="27.8" text-anchor="end" fill="#000">-1</text>
<text x="233.75" y="734.60" font-family="'Liberation Serif','DejaVu Serif',serif" font-weight="bold" font-size="27.8" text-anchor="end" fill="#000">0</text>
<text x="314.55" y="734.60" font-family="'Liberation Serif','DejaVu Serif',serif" font-weight="bold" font-size="27.8" text-anchor="end" fill="#000">1</text>
<text x="394.55" y="734.60" font-family="'Liberation Serif','DejaVu Serif',serif" font-weight="bold" font-size="27.8" text-anchor="end" fill="#000">2</text>
<path d="M76.3 695.5V620.9h-4.3l6.55 -11.9l6.55 11.9h-4.3V691.0H154.6v-4.1l12.1 6.35l-12.1 6.35v-4.1z" fill="#000"/>
<text x="91.80" y="626.40" font-family="'Liberation Serif','DejaVu Serif',serif" font-weight="bold" font-style="italic" font-size="45" text-anchor="start" fill="#000">y</text>
<text x="148.80" y="673.40" font-family="'Liberation Serif','DejaVu Serif',serif" font-weight="bold" font-style="italic" font-size="47" text-anchor="start" fill="#000">x</text>
<g clip-path="url(#cpf)"><g filter="url(#blf)">
<rect x="495.3" y="375.0" width="346.5" height="343.4" fill="#80ff80"/>
<use href="#Ff" transform="translate(672.4 544.7) scale(0.9997 1.0263)"/>
</g>
<ellipse cx="672.4" cy="544.7" rx="82.30" ry="84.70" fill="none" stroke="#ffff00" stroke-width="8.60"/>
<path transform="translate(672.4 546.0)" d="M-9.1 -22.5C-8.1 -24.4 -6.7 -29.4 -4.8 -32.0C-2.9 -34.6 -0.5 -36.6 2.5 -38.3C5.5 -40.0 9.8 -41.3 13.1 -42.0C16.4 -42.7 19.1 -42.7 22.6 -42.5C26.1 -42.3 30.5 -41.9 34.2 -41.0C37.9 -40.1 41.2 -39.0 44.7 -37.3C48.2 -35.6 52.1 -33.4 55.3 -30.9C58.5 -28.4 61.3 -25.6 63.7 -22.5C66.1 -19.4 68.2 -15.5 69.5 -12.0C70.8 -8.5 71.4 -3.7 71.6 -1.4C71.8 0.9 70.6 0.8 70.6 1.8C70.6 2.9 71.9 2.5 71.6 4.9C71.3 7.3 70.5 12.6 69.0 16.5C67.5 20.4 65.3 24.6 62.7 28.1C60.1 31.6 56.7 35.0 53.2 37.6C49.7 40.2 45.7 42.5 41.6 44.0C37.5 45.5 33.1 46.4 28.9 46.6C24.7 46.9 20.4 46.5 16.3 45.5C12.2 44.5 7.9 42.8 4.6 40.8C1.2 38.8 -1.4 36.0 -3.8 33.4C-6.2 30.8 -8.9 27.3 -10.1 25.0C-11.3 22.7 -10.5 21.1 -11.2 19.7C-11.9 18.3 -13.1 17.9 -14.3 16.5C-15.5 15.1 -17.6 13.1 -18.6 11.3C-19.6 9.6 -20.3 7.5 -20.1 6.0C-19.9 4.5 -17.5 3.4 -17.5 2.0C-17.5 0.6 -19.9 -0.7 -20.1 -2.5C-20.3 -4.3 -19.6 -7.1 -18.6 -8.8C-17.6 -10.6 -15.5 -11.9 -14.3 -13.0C-13.1 -14.1 -11.8 -14.4 -11.2 -15.6C-10.6 -16.8 -10.9 -19.2 -10.6 -20.4C-10.2 -21.5 -10.1 -20.6 -9.1 -22.5Z" fill="#fff" stroke="#222" stroke-width="0.9"/>
<circle cx="669.6" cy="547.0" r="25.3" fill="none" stroke="#333" stroke-width="0.8"/>
</g>
<path d="M501.3 382.5h2.5M835.8 382.5h-2.5M502.3 381.0v2.5M502.3 712.4v-2.5M501.3 423.7h2.5M835.8 423.7h-2.5M543.9 381.0v2.5M543.9 712.4v-2.5M501.3 464.9h2.5M835.8 464.9h-2.5M585.4 381.0v2.5M585.4 712.4v-2.5M501.3 506.0h2.5M835.8 506.0h-2.5M627.0 381.0v2.5M627.0 712.4v-2.5M501.3 547.2h2.5M835.8 547.2h-2.5M668.5 381.0v2.5M668.5 712.4v-2.5M501.3 588.4h2.5M835.8 588.4h-2.5M710.1 381.0v2.5M710.1 712.4v-2.5M501.3 629.5h2.5M835.8 629.5h-2.5M751.7 381.0v2.5M751.7 712.4v-2.5M501.3 670.7h2.5M835.8 670.7h-2.5M793.2 381.0v2.5M793.2 712.4v-2.5M501.3 711.9h2.5M835.8 711.9h-2.5M834.8 381.0v2.5M834.8 712.4v-2.5" stroke="#222" stroke-width="0.8" fill="none"/>
<text x="498.00" y="399.60" font-family="'Liberation Serif','DejaVu Serif',serif" font-weight="bold" font-size="27.8" text-anchor="end" fill="#000">2</text>
<text x="498.00" y="476.00" font-family="'Liberation Serif','DejaVu Serif',serif" font-weight="bold" font-size="27.8" text-anchor="end" fill="#000">1</text>
<text x="498.00" y="556.90" font-family="'Liberation Serif','DejaVu Serif',serif" font-weight="bold" font-size="27.8" text-anchor="end" fill="#000">0</text>
<text x="498.00" y="638.30" font-family="'Liberation Serif','DejaVu Serif',serif" font-weight="bold" font-size="27.8" text-anchor="end" fill="#000">-1</text>
<text x="498.00" y="715.80" font-family="'Liberation Serif','DejaVu Serif',serif" font-weight="bold" font-size="27.8" text-anchor="end" fill="#000">-2</text>
<text x="514.65" y="735.90" font-family="'Liberation Serif','DejaVu Serif',serif" font-weight="bold" font-size="27.8" text-anchor="end" fill="#000">-2</text>
<text x="596.55" y="735.90" font-family="'Liberation Serif','DejaVu Serif',serif" font-weight="bold" font-size="27.8" text-anchor="end" fill="#000">-1</text>
<text x="674.95" y="735.90" font-family="'Liberation Serif','DejaVu Serif',serif" font-weight="bold" font-size="27.8" text-anchor="end" fill="#000">0</text>
<text x="755.75" y="735.90" font-family="'Liberation Serif','DejaVu Serif',serif" font-weight="bold" font-size="27.8" text-anchor="end" fill="#000">1</text>
<text x="835.75" y="735.90" font-family="'Liberation Serif','DejaVu Serif',serif" font-weight="bold" font-size="27.8" text-anchor="end" fill="#000">2</text>
<path d="M517.5 696.8V622.2h-4.3l6.55 -11.9l6.55 11.9h-4.3V692.2H595.8v-4.1l12.1 6.35l-12.1 6.35v-4.1z" fill="#000"/>
<text x="533.00" y="627.70" font-family="'Liberation Serif','DejaVu Serif',serif" font-weight="bold" font-style="italic" font-size="45" text-anchor="start" fill="#000">y</text>
<text x="590.00" y="674.70" font-family="'Liberation Serif','DejaVu Serif',serif" font-weight="bold" font-style="italic" font-size="47" text-anchor="start" fill="#000">x</text>
<g clip-path="url(#cpg)"><g filter="url(#bl)">
<rect x="935.8" y="375.0" width="343.5" height="342.6" fill="#80ff80"/>
<use href="#Fe" transform="translate(1110.2 543.9) scale(1.0000 1.0381)"/>
</g>
<ellipse cx="1110.2" cy="543.9" rx="82.05" ry="85.15" fill="none" stroke="#ffff00" stroke-width="9.10"/>
<path transform="translate(1110.2 545.5)" d="M-9.1 -22.5C-8.1 -24.4 -6.7 -29.4 -4.8 -32.0C-2.9 -34.6 -0.5 -36.6 2.5 -38.3C5.5 -40.0 9.8 -41.3 13.1 -42.0C16.4 -42.7 19.1 -42.7 22.6 -42.5C26.1 -42.3 30.5 -41.9 34.2 -41.0C37.9 -40.1 41.2 -39.0 44.7 -37.3C48.2 -35.6 52.1 -33.4 55.3 -30.9C58.5 -28.4 61.3 -25.6 63.7 -22.5C66.1 -19.4 68.2 -15.5 69.5 -12.0C70.8 -8.5 71.4 -3.7 71.6 -1.4C71.8 0.9 70.6 0.8 70.6 1.8C70.6 2.9 71.9 2.5 71.6 4.9C71.3 7.3 70.5 12.6 69.0 16.5C67.5 20.4 65.3 24.6 62.7 28.1C60.1 31.6 56.7 35.0 53.2 37.6C49.7 40.2 45.7 42.5 41.6 44.0C37.5 45.5 33.1 46.4 28.9 46.6C24.7 46.9 20.4 46.5 16.3 45.5C12.2 44.5 7.9 42.8 4.6 40.8C1.2 38.8 -1.4 36.0 -3.8 33.4C-6.2 30.8 -8.9 27.3 -10.1 25.0C-11.3 22.7 -10.5 21.1 -11.2 19.7C-11.9 18.3 -13.1 17.9 -14.3 16.5C-15.5 15.1 -17.6 13.1 -18.6 11.3C-19.6 9.6 -20.3 7.5 -20.1 6.0C-19.9 4.5 -17.5 3.4 -17.5 2.0C-17.5 0.6 -19.9 -0.7 -20.1 -2.5C-20.3 -4.3 -19.6 -7.1 -18.6 -8.8C-17.6 -10.6 -15.5 -11.9 -14.3 -13.0C-13.1 -14.1 -11.8 -14.4 -11.2 -15.6C-10.6 -16.8 -10.9 -19.2 -10.6 -20.4C-10.2 -21.5 -10.1 -20.6 -9.1 -22.5Z" fill="#fff" stroke="#222" stroke-width="0.9"/>
<circle cx="1108.3" cy="546.5" r="25.3" fill="none" stroke="#333" stroke-width="0.8"/>
</g>
<path d="M941.8 382.5h2.5M1273.3 382.5h-2.5M942.8 381.0v2.5M942.8 711.6v-2.5M941.8 423.6h2.5M1273.3 423.6h-2.5M984.0 381.0v2.5M984.0 711.6v-2.5M941.8 464.6h2.5M1273.3 464.6h-2.5M1025.2 381.0v2.5M1025.2 711.6v-2.5M941.8 505.7h2.5M1273.3 505.7h-2.5M1066.4 381.0v2.5M1066.4 711.6v-2.5M941.8 546.8h2.5M1273.3 546.8h-2.5M1107.5 381.0v2.5M1107.5 711.6v-2.5M941.8 587.9h2.5M1273.3 587.9h-2.5M1148.7 381.0v2.5M1148.7 711.6v-2.5M941.8 629.0h2.5M1273.3 629.0h-2.5M1189.9 381.0v2.5M1189.9 711.6v-2.5M941.8 670.0h2.5M1273.3 670.0h-2.5M1231.1 381.0v2.5M1231.1 711.6v-2.5M941.8 711.1h2.5M1273.3 711.1h-2.5M1272.3 381.0v2.5M1272.3 711.6v-2.5" stroke="#222" stroke-width="0.8" fill="none"/>
<text x="936.90" y="399.80" font-family="'Liberation Serif','DejaVu Serif',serif" font-weight="bold" font-size="27.8" text-anchor="end" fill="#000">2</text>
<text x="936.90" y="476.20" font-family="'Liberation Serif','DejaVu Serif',serif" font-weight="bold" font-size="27.8" text-anchor="end" fill="#000">1</text>
<text x="936.90" y="557.10" font-family="'Liberation Serif','DejaVu Serif',serif" font-weight="bold" font-size="27.8" text-anchor="end" fill="#000">0</text>
<text x="936.90" y="638.50" font-family="'Liberation Serif','DejaVu Serif',serif" font-weight="bold" font-size="27.8" text-anchor="end" fill="#000">-1</text>
<text x="936.90" y="716.00" font-family="'Liberation Serif','DejaVu Serif',serif" font-weight="bold" font-size="27.8" text-anchor="end" fill="#000">-2</text>
<text x="953.55" y="736.10" font-family="'Liberation Serif','DejaVu Serif',serif" font-weight="bold" font-size="27.8" text-anchor="end" fill="#000">-2</text>
<text x="1035.45" y="736.10" font-family="'Liberation Serif','DejaVu Serif',serif" font-weight="bold" font-size="27.8" text-anchor="end" fill="#000">-1</text>
<text x="1113.85" y="736.10" font-family="'Liberation Serif','DejaVu Serif',serif" font-weight="bold" font-size="27.8" text-anchor="end" fill="#000">0</text>
<text x="1194.65" y="736.10" font-family="'Liberation Serif','DejaVu Serif',serif" font-weight="bold" font-size="27.8" text-anchor="end" fill="#000">1</text>
<text x="1274.65" y="736.10" font-family="'Liberation Serif','DejaVu Serif',serif" font-weight="bold" font-size="27.8" text-anchor="end" fill="#000">2</text>
<path d="M956.5 697.0V622.4h-4.3l6.55 -11.9l6.55 11.9h-4.3V692.5H1034.7v-4.1l12.1 6.35l-12.1 6.35v-4.1z" fill="#000"/>
<text x="971.90" y="627.90" font-family="'Liberation Serif','DejaVu Serif',serif" font-weight="bold" font-style="italic" font-size="45" text-anchor="start" fill="#000">y</text>
<text x="1028.90" y="674.90" font-family="'Liberation Serif','DejaVu Serif',serif" font-weight="bold" font-style="italic" font-size="47" text-anchor="start" fill="#000">x</text>
<g clip-path="url(#cph)"><g filter="url(#blf)">
<rect x="1382.2" y="375.8" width="347.1" height="343.2" fill="#80ff80"/>
<use href="#Fh" transform="translate(1556.5 544.4) scale(1.0078 1.0159)"/>
</g>
<ellipse cx="1556.5" cy="544.4" rx="82.65" ry="83.50" fill="none" stroke="#ffff00" stroke-width="9.30"/>
<path transform="translate(1556.5 547.1)" d="M-9.1 -22.5C-8.1 -24.4 -6.7 -29.4 -4.8 -32.0C-2.9 -34.6 -0.5 -36.6 2.5 -38.3C5.5 -40.0 9.8 -41.3 13.1 -42.0C16.4 -42.7 19.1 -42.7 22.6 -42.5C26.1 -42.3 30.5 -41.9 34.2 -41.0C37.9 -40.1 41.2 -39.0 44.7 -37.3C48.2 -35.6 52.1 -33.4 55.3 -30.9C58.5 -28.4 61.3 -25.6 63.7 -22.5C66.1 -19.4 68.2 -15.5 69.5 -12.0C70.8 -8.5 71.4 -3.7 71.6 -1.4C71.8 0.9 70.6 0.8 70.6 1.8C70.6 2.9 71.9 2.5 71.6 4.9C71.3 7.3 70.5 12.6 69.0 16.5C67.5 20.4 65.3 24.6 62.7 28.1C60.1 31.6 56.7 35.0 53.2 37.6C49.7 40.2 45.7 42.5 41.6 44.0C37.5 45.5 33.1 46.4 28.9 46.6C24.7 46.9 20.4 46.5 16.3 45.5C12.2 44.5 7.9 42.8 4.6 40.8C1.2 38.8 -1.4 36.0 -3.8 33.4C-6.2 30.8 -8.9 27.3 -10.1 25.0C-11.3 22.7 -10.5 21.1 -11.2 19.7C-11.9 18.3 -13.1 17.9 -14.3 16.5C-15.5 15.1 -17.6 13.1 -18.6 11.3C-19.6 9.6 -20.3 7.5 -20.1 6.0C-19.9 4.5 -17.5 3.4 -17.5 2.0C-17.5 0.6 -19.9 -0.7 -20.1 -2.5C-20.3 -4.3 -19.6 -7.1 -18.6 -8.8C-17.6 -10.6 -15.5 -11.9 -14.3 -13.0C-13.1 -14.1 -11.8 -14.4 -11.2 -15.6C-10.6 -16.8 -10.9 -19.2 -10.6 -20.4C-10.2 -21.5 -10.1 -20.6 -9.1 -22.5Z" fill="#fff" stroke="#222" stroke-width="0.9"/>
<circle cx="1555.2" cy="548.1" r="25.3" fill="none" stroke="#333" stroke-width="0.8"/>
</g>
<path d="M1388.2 383.3h2.5M1723.3 383.3h-2.5M1389.2 381.8v2.5M1389.2 713.0v-2.5M1388.2 424.4h2.5M1723.3 424.4h-2.5M1430.8 381.8v2.5M1430.8 713.0v-2.5M1388.2 465.6h2.5M1723.3 465.6h-2.5M1472.5 381.8v2.5M1472.5 713.0v-2.5M1388.2 506.8h2.5M1723.3 506.8h-2.5M1514.1 381.8v2.5M1514.1 713.0v-2.5M1388.2 547.9h2.5M1723.3 547.9h-2.5M1555.8 381.8v2.5M1555.8 713.0v-2.5M1388.2 589.0h2.5M1723.3 589.0h-2.5M1597.4 381.8v2.5M1597.4 713.0v-2.5M1388.2 630.2h2.5M1723.3 630.2h-2.5M1639.0 381.8v2.5M1639.0 713.0v-2.5M1388.2 671.4h2.5M1723.3 671.4h-2.5M1680.7 381.8v2.5M1680.7 713.0v-2.5M1388.2 712.5h2.5M1723.3 712.5h-2.5M1722.3 381.8v2.5M1722.3 713.0v-2.5" stroke="#222" stroke-width="0.8" fill="none"/>
<text x="1378.60" y="403.30" font-family="'Liberation Serif','DejaVu Serif',serif" font-weight="bold" font-size="27.8" text-anchor="end" fill="#000">2</text>
<text x="1378.60" y="479.70" font-family="'Liberation Serif','DejaVu Serif',serif" font-weight="bold" font-size="27.8" text-anchor="end" fill="#000">1</text>
<text x="1378.60" y="560.60" font-family="'Liberation Serif','DejaVu Serif',serif" font-weight="bold" font-size="27.8" text-anchor="end" fill="#000">0</text>
<text x="1378.60" y="642.00" font-family="'Liberation Serif','DejaVu Serif',serif" font-weight="bold" font-size="27.8" text-anchor="end" fill="#000">-1</text>
<text x="1378.60" y="719.50" font-family="'Liberation Serif','DejaVu Serif',serif" font-weight="bold" font-size="27.8" text-anchor="end" fill="#000">-2</text>
<text x="1395.25" y="739.60" font-family="'Liberation Serif','DejaVu Serif',serif" font-weight="bold" font-size="27.8" text-anchor="end" fill="#000">-2</text>
<text x="1477.15" y="739.60" font-family="'Liberation Serif','DejaVu Serif',serif" font-weight="bold" font-size="27.8" text-anchor="end" fill="#000">-1</text>
<text x="1555.55" y="739.60" font-family="'Liberation Serif','DejaVu Serif',serif" font-weight="bold" font-size="27.8" text-anchor="end" fill="#000">0</text>
<text x="1636.35" y="739.60" font-family="'Liberation Serif','DejaVu Serif',serif" font-weight="bold" font-size="27.8" text-anchor="end" fill="#000">1</text>
<text x="1716.35" y="739.60" font-family="'Liberation Serif','DejaVu Serif',serif" font-weight="bold" font-size="27.8" text-anchor="end" fill="#000">2</text>
<path d="M1398.1 700.5V625.9h-4.3l6.55 -11.9l6.55 11.9h-4.3V696.0H1476.4v-4.1l12.1 6.35l-12.1 6.35v-4.1z" fill="#000"/>
<text x="1413.60" y="631.40" font-family="'Liberation Serif','DejaVu Serif',serif" font-weight="bold" font-style="italic" font-size="45" text-anchor="start" fill="#000">y</text>
<text x="1470.60" y="678.40" font-family="'Liberation Serif','DejaVu Serif',serif" font-weight="bold" font-style="italic" font-size="47" text-anchor="start" fill="#000">x</text>
<text x="0" y="0" transform="translate(0.90 46.50) scale(0.9 1)" font-family="'Liberation Sans','DejaVu Sans',sans-serif" font-weight="bold" font-size="61" text-anchor="start" fill="#000">a</text>
<text x="434.00" y="46.60" font-family="'Liberation Sans','DejaVu Sans',sans-serif" font-weight="bold" font-size="61" text-anchor="start" fill="#000">b</text>
<text x="869.80" y="46.30" font-family="'Liberation Sans','DejaVu Sans',sans-serif" font-weight="bold" font-size="61" text-anchor="start" fill="#000">c</text>
<text x="1303.80" y="46.20" font-family="'Liberation Sans','DejaVu Sans',sans-serif" font-weight="bold" font-size="61" text-anchor="start" fill="#000">d</text>
<text x="0.30" y="422.10" font-family="'Liberation Sans','DejaVu Sans',sans-serif" font-weight="bold" font-size="61" text-anchor="start" fill="#000">e</text>
<text x="433.20" y="421.80" font-family="'Liberation Sans','DejaVu Sans',sans-serif" font-weight="bold" font-size="61" text-anchor="start" fill="#000">f</text>
<text x="870.50" y="422.00" font-family="'Liberation Sans','DejaVu Sans',sans-serif" font-weight="bold" font-size="61" text-anchor="start" fill="#000">g</text>
<text x="1307.20" y="421.80" font-family="'Liberation Sans','DejaVu Sans',sans-serif" font-weight="bold" font-size="61" text-anchor="start" fill="#000">h</text>
<text x="2.90" y="801.00" font-family="'Liberation Sans','DejaVu Sans',sans-serif" font-weight="bold" font-size="61" text-anchor="start" fill="#000">i</text>
<text x="434.40" y="801.00" font-family="'Liberation Sans','DejaVu Sans',sans-serif" font-weight="bold" font-size="61" text-anchor="start" fill="#000">j</text>
<text x="868.50" y="801.50" font-family="'Liberation Sans','DejaVu Sans',sans-serif" font-weight="bold" font-size="61" text-anchor="start" fill="#000">k</text>
<text x="1319.60" y="801.80" font-family="'Liberation Sans','DejaVu Sans',sans-serif" font-weight="bold" font-size="61" text-anchor="start" fill="#000">l</text>
<rect x="1765.6" y="63.9" width="51.0" height="652.6" fill="url(#cb)" stroke="#000" stroke-width="2"/>
<text x="1835.30" y="78.60" font-family="'Liberation Sans','DejaVu Sans',sans-serif" font-weight="bold" font-size="35.5" text-anchor="start" fill="#000">1</text>
<path d="M1765.6 129.2h9.5M1816.6 129.2h-9.5" stroke="#000" stroke-width="1.3"/>
<text x="1835.30" y="142.36" font-family="'Liberation Sans','DejaVu Sans',sans-serif" font-weight="bold" font-size="35.5" text-anchor="start" fill="#000">0.8</text>
<path d="M1765.6 194.4h9.5M1816.6 194.4h-9.5" stroke="#000" stroke-width="1.3"/>
<text x="1835.30" y="207.62" font-family="'Liberation Sans','DejaVu Sans',sans-serif" font-weight="bold" font-size="35.5" text-anchor="start" fill="#000">0.6</text>
<path d="M1765.6 259.7h9.5M1816.6 259.7h-9.5" stroke="#000" stroke-width="1.3"/>
<text x="1835.30" y="272.88" font-family="'Liberation Sans','DejaVu Sans',sans-serif" font-weight="bold" font-size="35.5" text-anchor="start" fill="#000">0.4</text>
<path d="M1765.6 324.9h9.5M1816.6 324.9h-9.5" stroke="#000" stroke-width="1.3"/>
<text x="1835.30" y="338.14" font-family="'Liberation Sans','DejaVu Sans',sans-serif" font-weight="bold" font-size="35.5" text-anchor="start" fill="#000">0.2</text>
<path d="M1765.6 390.2h9.5M1816.6 390.2h-9.5" stroke="#000" stroke-width="1.3"/>
<text x="1835.30" y="403.40" font-family="'Liberation Sans','DejaVu Sans',sans-serif" font-weight="bold" font-size="35.5" text-anchor="start" fill="#000">0</text>
<path d="M1765.6 455.5h9.5M1816.6 455.5h-9.5" stroke="#000" stroke-width="1.3"/>
<text x="1835.30" y="468.66" font-family="'Liberation Sans','DejaVu Sans',sans-serif" font-weight="bold" font-size="35.5" text-anchor="start" fill="#000">-0.2</text>
<path d="M1765.6 520.7h9.5M1816.6 520.7h-9.5" stroke="#000" stroke-width="1.3"/>
<text x="1835.30" y="533.92" font-family="'Liberation Sans','DejaVu Sans',sans-serif" font-weight="bold" font-size="35.5" text-anchor="start" fill="#000">-0.4</text>
<path d="M1765.6 586.0h9.5M1816.6 586.0h-9.5" stroke="#000" stroke-width="1.3"/>
<text x="1835.30" y="599.18" font-family="'Liberation Sans','DejaVu Sans',sans-serif" font-weight="bold" font-size="35.5" text-anchor="start" fill="#000">-0.6</text>
<path d="M1765.6 651.2h9.5M1816.6 651.2h-9.5" stroke="#000" stroke-width="1.3"/>
<text x="1835.30" y="664.44" font-family="'Liberation Sans','DejaVu Sans',sans-serif" font-weight="bold" font-size="35.5" text-anchor="start" fill="#000">-0.8</text>
<text x="1835.30" y="720.50" font-family="'Liberation Sans','DejaVu Sans',sans-serif" font-weight="bold" font-size="35.5" text-anchor="start" fill="#000">-1</text>
<text x="1761.50" y="29.10" font-family="'Liberation Sans','DejaVu Sans',sans-serif" font-weight="bold" font-size="36" text-anchor="start" fill="#000">E(V/m)</text>
<path d="M105.4 944.0L379.2 944.0M123.7 1012.5L360.9 875.5M173.8 1062.6L310.8 825.4M242.3 1080.9L242.3 807.1M310.8 1062.6L173.9 825.4M360.9 1012.5L123.7 875.5" stroke="#000" stroke-opacity="0.125" stroke-width="3.8" fill="none"/>
<circle cx="242.3" cy="944.0" r="45.6" stroke="#000" stroke-opacity="0.125" stroke-width="3.8" fill="none"/>
<circle cx="242.3" cy="944.0" r="91.3" stroke="#000" stroke-opacity="0.125" stroke-width="3.8" fill="none"/>
<circle cx="242.3" cy="944.0" r="136.9" stroke="#000" stroke-opacity="0.26" stroke-width="4.3" fill="none"/>
<text x="241.20" y="788.70" font-family="'Liberation Serif','DejaVu Serif',serif" font-weight="bold" font-size="30" text-anchor="middle" fill="#1c1c1c">90</text>
<text x="240.90" y="1120.60" font-family="'Liberation Serif','DejaVu Serif',serif" font-weight="bold" font-size="30" text-anchor="middle" fill="#1c1c1c">270</text>
<text x="315.05" y="809.50" font-family="'Liberation Serif','DejaVu Serif',serif" font-weight="bold" font-size="30" text-anchor="start" fill="#1c1c1c">60</text>
<text x="166.65" y="809.70" font-family="'Liberation Serif','DejaVu Serif',serif" font-weight="bold" font-size="30" text-anchor="end" fill="#1c1c1c">120</text>
<text x="368.65" y="863.60" font-family="'Liberation Serif','DejaVu Serif',serif" font-weight="bold" font-size="30" text-anchor="start" fill="#1c1c1c">30</text>
<text x="112.65" y="863.60" font-family="'Liberation Serif','DejaVu Serif',serif" font-weight="bold" font-size="30" text-anchor="end" fill="#1c1c1c">150</text>
<text x="388.85" y="954.90" font-family="'Liberation Serif','DejaVu Serif',serif" font-weight="bold" font-size="30" text-anchor="start" fill="#1c1c1c">0</text>
<text x="93.45" y="955.20" font-family="'Liberation Serif','DejaVu Serif',serif" font-weight="bold" font-size="30" text-anchor="end" fill="#1c1c1c">180</text>
<text x="368.05" y="1045.60" font-family="'Liberation Serif','DejaVu Serif',serif" font-weight="bold" font-size="30" text-anchor="start" fill="#1c1c1c">330</text>
<text x="112.15" y="1045.60" font-family="'Liberation Serif','DejaVu Serif',serif" font-weight="bold" font-size="30" text-anchor="end" fill="#1c1c1c">210</text>
<text x="315.25" y="1099.80" font-family="'Liberation Serif','DejaVu Serif',serif" font-weight="bold" font-size="30" text-anchor="start" fill="#1c1c1c">300</text>
<text x="165.75" y="1099.80" font-family="'Liberation Serif','DejaVu Serif',serif" font-weight="bold" font-size="30" text-anchor="end" fill="#1c1c1c">240</text>
<text x="240.70" y="954.30" font-family="'Liberation Serif','DejaVu Serif',serif" font-weight="bold" font-size="30" text-anchor="middle" fill="#1c1c1c">0</text>
<text x="248.62" y="909.36" font-family="'Liberation Serif','DejaVu Serif',serif" font-weight="bold" font-size="30" text-anchor="middle" fill="#1c1c1c">0.2</text>
<text x="256.55" y="864.42" font-family="'Liberation Serif','DejaVu Serif',serif" font-weight="bold" font-size="30" text-anchor="middle" fill="#1c1c1c">0.4</text>
<text x="264.47" y="819.48" font-family="'Liberation Serif','DejaVu Serif',serif" font-weight="bold" font-size="30" text-anchor="middle" fill="#1c1c1c">0.6</text>
<path d="M368.0 944.0L367.9 941.8L367.7 939.6L367.4 937.4L367.0 935.3L366.5 933.1L365.9 931.0L365.2 928.9L364.4 926.8L363.6 924.8L362.7 922.8L361.8 920.8L360.8 918.8L359.7 916.9L358.5 915.0L357.1 913.2L355.6 911.5L353.9 909.9L352.2 908.3L350.4 906.8L348.6 905.3L346.8 903.9L345.0 902.5L343.4 901.1L341.7 899.7L340.1 898.4L338.4 897.1L336.8 895.9L335.1 894.7L333.4 893.5L331.8 892.3L330.1 891.2L328.4 890.2L326.8 889.1L325.1 888.1L323.5 887.2L321.8 886.3L320.1 885.4L318.4 884.6L316.8 883.7L315.2 882.8L313.8 881.9L312.4 880.9L311.0 880.0L309.6 879.0L308.3 878.0L306.9 877.1L305.6 876.1L304.3 875.2L303.0 874.2L301.6 873.3L300.3 872.4L299.0 871.5L297.7 870.5L296.3 869.6L295.1 868.6L293.9 867.6L292.7 866.5L291.5 865.3L290.2 864.2L289.1 863.0L287.9 861.7L286.8 860.3L285.7 858.8L284.6 857.2L283.5 855.6L282.4 854.0L281.2 852.4L279.9 850.8L278.6 849.3L277.3 847.9L275.9 846.4L274.5 844.9L273.0 843.5L271.5 842.1L270.0 840.8L268.4 839.5L266.7 838.3L265.0 837.2L263.3 836.1L261.5 835.1L259.7 834.2L257.9 833.3L256.0 832.6L254.1 831.8L252.2 831.1L250.2 830.4L248.3 829.8L246.3 829.4L244.3 829.1L242.3 829.0L240.3 829.1L238.3 829.4L236.3 829.8L234.4 830.4L232.4 831.1L230.5 831.8L228.6 832.5L226.7 833.3L224.9 834.2L223.1 835.2L221.3 836.2L219.6 837.3L218.0 838.5L216.3 839.8L214.7 841.1L213.2 842.4L211.7 843.8L210.2 845.3L208.9 846.9L207.6 848.6L206.4 850.4L205.2 852.3L204.1 854.1L203.1 855.9L202.0 857.6L200.9 859.2L199.8 860.7L198.7 862.0L197.5 863.3L196.4 864.5L195.3 865.7L194.2 866.9L193.0 868.1L191.9 869.3L190.8 870.4L189.6 871.5L188.5 872.6L187.3 873.6L186.1 874.6L185.0 875.7L183.8 876.8L182.7 877.8L181.6 878.9L180.5 880.0L179.4 881.1L178.1 882.0L176.8 882.9L175.4 883.7L173.9 884.6L172.5 885.4L171.0 886.3L169.6 887.2L168.1 888.1L166.5 888.9L164.9 889.8L163.3 890.7L161.8 891.7L160.2 892.7L158.7 893.8L157.3 894.9L155.9 896.1L154.5 897.3L153.1 898.5L151.8 899.8L150.4 901.2L149.1 902.5L147.8 903.9L146.5 905.3L145.3 906.8L144.0 908.2L142.7 909.7L141.5 911.2L140.2 912.8L138.8 914.3L137.4 915.9L135.9 917.5L134.5 919.1L133.1 920.8L131.7 922.5L130.5 924.3L129.5 926.1L128.6 928.0L127.9 930.0L127.3 931.9L126.6 933.9L126.1 935.9L125.7 937.9L125.3 939.9L125.1 942.0L125.0 944.0L125.1 946.0L125.3 948.1L125.7 950.1L126.1 952.1L126.6 954.1L127.3 956.1L127.9 958.0L128.6 960.0L129.5 961.9L130.5 963.7L131.7 965.5L133.1 967.2L134.5 968.9L135.9 970.5L137.4 972.1L138.8 973.7L140.2 975.2L141.5 976.8L142.7 978.3L144.0 979.8L145.3 981.2L146.5 982.7L147.8 984.1L149.1 985.5L150.4 986.8L151.8 988.2L153.1 989.5L154.5 990.7L155.9 991.9L157.3 993.1L158.7 994.2L160.2 995.3L161.8 996.3L163.3 997.3L164.9 998.2L166.5 999.1L168.1 999.9L169.6 1000.8L171.0 1001.7L172.5 1002.6L173.9 1003.4L175.4 1004.3L176.8 1005.1L178.1 1006.0L179.4 1006.9L180.5 1008.0L181.6 1009.1L182.7 1010.2L183.8 1011.2L185.0 1012.3L186.1 1013.4L187.3 1014.4L188.5 1015.4L189.6 1016.5L190.8 1017.6L191.9 1018.7L193.0 1019.9L194.2 1021.1L195.3 1022.3L196.4 1023.5L197.5 1024.7L198.7 1026.0L199.8 1027.3L200.9 1028.8L202.0 1030.4L203.1 1032.1L204.1 1033.9L205.2 1035.7L206.4 1037.6L207.6 1039.4L208.9 1041.1L210.2 1042.7L211.7 1044.2L213.2 1045.6L214.7 1046.9L216.3 1048.2L218.0 1049.5L219.6 1050.7L221.3 1051.8L223.1 1052.8L224.9 1053.8L226.7 1054.7L228.6 1055.5L230.5 1056.2L232.4 1056.9L234.4 1057.6L236.3 1058.2L238.3 1058.6L240.3 1058.9L242.3 1059.0L244.3 1058.9L246.3 1058.6L248.3 1058.2L250.2 1057.6L252.2 1056.9L254.1 1056.2L256.0 1055.4L257.9 1054.7L259.7 1053.8L261.5 1052.9L263.3 1051.9L265.0 1050.8L266.7 1049.7L268.4 1048.5L270.0 1047.2L271.5 1045.9L273.0 1044.5L274.5 1043.1L275.9 1041.6L277.3 1040.1L278.6 1038.7L279.9 1037.2L281.2 1035.6L282.4 1034.0L283.5 1032.4L284.6 1030.8L285.7 1029.2L286.8 1027.7L287.9 1026.3L289.1 1025.0L290.2 1023.8L291.5 1022.7L292.7 1021.5L293.9 1020.4L295.1 1019.4L296.3 1018.4L297.7 1017.5L299.0 1016.5L300.3 1015.6L301.6 1014.7L303.0 1013.8L304.3 1012.8L305.6 1011.9L306.9 1010.9L308.3 1010.0L309.6 1009.0L311.0 1008.0L312.4 1007.1L313.8 1006.1L315.2 1005.2L316.8 1004.3L318.4 1003.4L320.1 1002.6L321.8 1001.7L323.5 1000.8L325.1 999.9L326.8 998.9L328.4 997.8L330.1 996.8L331.8 995.7L333.4 994.5L335.1 993.3L336.8 992.1L338.4 990.9L340.1 989.6L341.7 988.3L343.4 986.9L345.0 985.5L346.8 984.1L348.6 982.7L350.4 981.2L352.2 979.7L353.9 978.1L355.6 976.5L357.1 974.8L358.5 973.0L359.7 971.1L360.8 969.2L361.8 967.2L362.7 965.2L363.6 963.2L364.4 961.2L365.2 959.1L365.9 957.0L366.5 954.9L367.0 952.7L367.4 950.6L367.7 948.4L367.9 946.2L368.0 944.0Z" fill="none" stroke="#d95319" stroke-width="2.9" stroke-linejoin="round"/>
<path d="M285.9 944.0L285.8 943.2L285.6 942.5L285.3 941.7L285.0 941.0L284.7 940.3L284.2 939.6L283.8 938.9L283.3 938.2L282.8 937.6L282.2 937.0L281.5 936.4L280.7 935.8L279.8 935.3L278.8 934.9L277.4 934.6L275.0 934.6L272.0 934.9L268.8 935.4L265.8 935.9L263.2 936.4L260.7 936.9L258.4 937.5L256.2 938.1L254.2 938.7L252.3 939.3L250.4 940.0L249.0 940.6L248.3 940.8L248.4 940.6L248.5 940.4L248.7 940.1L249.1 939.8L250.1 938.9L252.1 937.4L254.6 935.4L257.1 933.3L259.7 930.9L262.6 928.2L265.3 925.4L267.5 922.9L269.1 920.7L270.6 918.5L271.8 916.5L272.6 914.7L273.0 913.3L273.0 912.2L272.9 911.1L272.7 910.2L272.2 909.6L271.4 909.3L270.3 909.4L268.9 909.9L267.4 910.7L265.8 911.6L264.2 912.7L262.4 914.2L260.4 916.2L258.2 918.6L255.8 921.5L252.8 925.8L249.8 930.5L247.7 933.9L246.3 936.2L245.2 938.1L244.7 938.8L244.6 938.7L244.6 938.5L244.7 938.1L244.8 937.6L246.1 933.7L248.8 925.0L251.8 914.9L255.3 901.4L258.2 888.5L259.2 881.0L259.5 874.9L259.5 869.6L259.2 864.7L258.7 859.4L258.1 854.1L257.3 849.0L256.3 844.3L255.0 840.2L253.6 836.8L252.0 833.6L250.2 830.6L248.4 828.2L246.4 826.7L244.4 826.3L242.3 827.2L240.3 828.9L238.4 831.3L236.5 834.2L234.8 837.4L233.4 842.2L232.3 848.4L231.4 855.4L230.9 862.8L230.7 870.8L231.0 880.2L232.0 890.8L233.9 904.3L236.1 917.3L238.9 930.5L240.5 937.4L240.4 937.4L240.3 937.5L240.2 937.5L240.1 937.5L240.0 937.6L239.1 935.7L237.0 930.9L234.0 924.6L230.4 917.3L225.0 906.8L218.7 895.6L211.6 883.7L207.8 879.1L205.2 877.1L203.0 876.0L201.2 875.5L199.4 875.4L197.8 875.5L196.3 875.8L194.9 876.3L193.9 877.3L193.1 878.7L192.6 880.4L192.3 882.3L192.2 884.3L192.2 886.4L192.2 888.4L192.3 890.4L192.6 892.5L193.1 894.8L193.7 897.0L194.4 899.3L195.2 901.6L196.1 903.8L197.0 906.0L197.9 908.1L199.2 910.4L200.8 912.7L202.3 914.9L203.5 916.8L204.2 918.3L204.0 919.1L203.3 919.6L202.1 919.8L200.6 919.9L198.9 919.9L197.0 919.9L195.1 920.0L193.3 920.1L191.4 920.3L189.3 920.4L186.9 920.5L184.5 920.7L182.1 920.9L179.8 921.2L177.6 921.7L175.7 922.4L174.2 923.2L172.8 924.1L171.5 925.0L170.2 926.0L169.0 927.1L167.9 928.2L166.9 929.4L166.0 930.6L165.2 931.8L164.5 933.1L163.9 934.4L163.2 935.7L162.7 937.0L162.1 938.4L161.7 939.8L161.4 941.2L161.1 942.6L161.1 944.0L161.1 945.4L161.4 946.8L161.7 948.2L162.1 949.6L162.7 951.0L163.2 952.3L163.9 953.6L164.5 954.9L165.2 956.2L166.0 957.4L166.9 958.6L167.9 959.8L169.0 960.9L170.2 962.0L171.5 963.0L172.8 963.9L174.2 964.8L175.7 965.6L177.6 966.3L179.8 966.8L182.1 967.1L184.5 967.3L186.9 967.5L189.3 967.6L191.4 967.7L193.3 967.9L195.1 968.0L197.0 968.1L198.9 968.1L200.6 968.1L202.1 968.2L203.3 968.4L204.0 968.9L204.2 969.7L203.5 971.2L202.3 973.1L200.8 975.3L199.2 977.6L197.9 979.9L197.0 982.0L196.1 984.2L195.2 986.4L194.4 988.7L193.7 991.0L193.1 993.2L192.6 995.5L192.3 997.6L192.2 999.6L192.2 1001.6L192.2 1003.7L192.3 1005.7L192.6 1007.6L193.1 1009.3L193.9 1010.7L194.9 1011.7L196.3 1012.2L197.8 1012.5L199.4 1012.6L201.2 1012.5L203.0 1012.0L205.2 1010.9L207.8 1008.9L211.6 1004.3L218.7 992.4L225.0 981.2L230.4 970.7L234.0 963.4L237.0 957.1L239.1 952.3L240.0 950.4L240.1 950.5L240.2 950.5L240.3 950.5L240.4 950.6L240.5 950.6L238.9 957.5L236.1 970.7L233.9 983.7L232.0 997.2L231.0 1007.8L230.7 1017.2L230.9 1025.2L231.4 1032.6L232.3 1039.6L233.4 1045.8L234.8 1050.6L236.5 1053.8L238.4 1056.7L240.3 1059.1L242.3 1060.8L244.4 1061.7L246.4 1061.3L248.4 1059.8L250.2 1057.4L252.0 1054.4L253.6 1051.2L255.0 1047.8L256.3 1043.7L257.3 1039.0L258.1 1033.9L258.7 1028.6L259.2 1023.3L259.5 1018.4L259.5 1013.1L259.2 1007.0L258.2 999.5L255.3 986.6L251.8 973.1L248.8 963.0L246.1 954.3L244.8 950.4L244.7 949.9L244.6 949.5L244.6 949.3L244.7 949.2L245.2 949.9L246.3 951.8L247.7 954.1L249.8 957.5L252.8 962.2L255.8 966.5L258.2 969.4L260.4 971.8L262.4 973.8L264.2 975.3L265.8 976.4L267.4 977.3L268.9 978.1L270.3 978.6L271.4 978.7L272.2 978.4L272.7 977.8L272.9 976.9L273.0 975.8L273.0 974.7L272.6 973.3L271.8 971.5L270.6 969.5L269.1 967.3L267.5 965.1L265.3 962.6L262.6 959.8L259.7 957.1L257.1 954.7L254.6 952.6L252.1 950.6L250.1 949.1L249.1 948.2L248.7 947.9L248.5 947.6L248.4 947.4L248.3 947.2L249.0 947.4L250.4 948.0L252.3 948.7L254.2 949.3L256.2 949.9L258.4 950.5L260.7 951.1L263.2 951.6L265.8 952.1L268.8 952.6L272.0 953.1L275.0 953.4L277.4 953.4L278.8 953.1L279.8 952.7L280.7 952.2L281.5 951.6L282.2 951.0L282.8 950.4L283.3 949.8L283.8 949.1L284.2 948.4L284.7 947.7L285.0 947.0L285.3 946.3L285.6 945.5L285.8 944.8L285.9 944.0Z" fill="none" stroke="#0072bd" stroke-width="2.9" stroke-linejoin="round"/>
<path d="M536.3 944.0L814.3 944.0M554.9 1013.5L795.7 874.5M605.8 1064.4L744.8 823.6M675.3 1083.0L675.3 805.0M744.8 1064.4L605.8 823.6M795.7 1013.5L554.9 874.5" stroke="#000" stroke-opacity="0.125" stroke-width="3.8" fill="none"/>
<circle cx="675.3" cy="944.0" r="34.8" stroke="#000" stroke-opacity="0.125" stroke-width="3.8" fill="none"/>
<circle cx="675.3" cy="944.0" r="69.5" stroke="#000" stroke-opacity="0.125" stroke-width="3.8" fill="none"/>
<circle cx="675.3" cy="944.0" r="104.2" stroke="#000" stroke-opacity="0.125" stroke-width="3.8" fill="none"/>
<circle cx="675.3" cy="944.0" r="139.0" stroke="#000" stroke-opacity="0.26" stroke-width="4.3" fill="none"/>
<text x="674.20" y="788.70" font-family="'Liberation Serif','DejaVu Serif',serif" font-weight="bold" font-size="30" text-anchor="middle" fill="#1c1c1c">90</text>
<text x="673.90" y="1120.60" font-family="'Liberation Serif','DejaVu Serif',serif" font-weight="bold" font-size="30" text-anchor="middle" fill="#1c1c1c">270</text>
<text x="748.05" y="809.50" font-family="'Liberation Serif','DejaVu Serif',serif" font-weight="bold" font-size="30" text-anchor="start" fill="#1c1c1c">60</text>
<text x="599.65" y="809.70" font-family="'Liberation Serif','DejaVu Serif',serif" font-weight="bold" font-size="30" text-anchor="end" fill="#1c1c1c">120</text>
<text x="801.65" y="863.60" font-family="'Liberation Serif','DejaVu Serif',serif" font-weight="bold" font-size="30" text-anchor="start" fill="#1c1c1c">30</text>
<text x="545.65" y="863.60" font-family="'Liberation Serif','DejaVu Serif',serif" font-weight="bold" font-size="30" text-anchor="end" fill="#1c1c1c">150</text>
<text x="821.85" y="954.90" font-family="'Liberation Serif','DejaVu Serif',serif" font-weight="bold" font-size="30" text-anchor="start" fill="#1c1c1c">0</text>
<text x="526.45" y="955.20" font-family="'Liberation Serif','DejaVu Serif',serif" font-weight="bold" font-size="30" text-anchor="end" fill="#1c1c1c">180</text>
<text x="801.05" y="1045.60" font-family="'Liberation Serif','DejaVu Serif',serif" font-weight="bold" font-size="30" text-anchor="start" fill="#1c1c1c">330</text>
<text x="545.15" y="1045.60" font-family="'Liberation Serif','DejaVu Serif',serif" font-weight="bold" font-size="30" text-anchor="end" fill="#1c1c1c">210</text>
<text x="748.25" y="1099.80" font-family="'Liberation Serif','DejaVu Serif',serif" font-weight="bold" font-size="30" text-anchor="start" fill="#1c1c1c">300</text>
<text x="598.75" y="1099.80" font-family="'Liberation Serif','DejaVu Serif',serif" font-weight="bold" font-size="30" text-anchor="end" fill="#1c1c1c">240</text>
<text x="673.70" y="954.30" font-family="'Liberation Serif','DejaVu Serif',serif" font-weight="bold" font-size="30" text-anchor="middle" fill="#1c1c1c">0</text>
<text x="679.73" y="920.08" font-family="'Liberation Serif','DejaVu Serif',serif" font-weight="bold" font-size="30" text-anchor="middle" fill="#1c1c1c">0.2</text>
<text x="685.77" y="885.86" font-family="'Liberation Serif','DejaVu Serif',serif" font-weight="bold" font-size="30" text-anchor="middle" fill="#1c1c1c">0.4</text>
<text x="691.80" y="851.63" font-family="'Liberation Serif','DejaVu Serif',serif" font-weight="bold" font-size="30" text-anchor="middle" fill="#1c1c1c">0.6</text>
<text x="697.84" y="817.41" font-family="'Liberation Serif','DejaVu Serif',serif" font-weight="bold" font-size="30" text-anchor="middle" fill="#1c1c1c">0.8</text>
<path d="M783.5 944.0L784.5 942.1L785.4 940.2L786.3 938.2L787.1 936.2L787.8 934.2L788.6 932.1L789.5 930.0L790.3 927.8L790.9 925.7L791.1 923.6L790.8 921.6L790.2 919.6L789.6 917.6L788.9 915.7L788.1 913.8L787.2 911.9L786.1 910.1L784.9 908.4L783.6 906.7L782.1 905.1L780.5 903.6L778.7 902.2L776.4 901.1L774.0 900.1L771.4 899.2L768.7 898.4L766.1 897.7L763.6 897.0L761.1 896.4L758.6 895.9L756.0 895.5L753.5 895.1L751.1 894.8L748.7 894.5L746.5 894.2L744.2 893.9L742.0 893.7L739.7 893.7L737.4 893.7L735.0 893.9L732.6 894.2L730.2 894.6L727.7 895.1L725.3 895.7L722.9 896.4L720.5 897.2L718.2 898.0L715.9 899.0L713.7 899.9L711.5 900.8L709.4 901.9L707.3 903.0L705.1 904.4L702.8 906.1L700.4 908.1L697.8 910.7L694.8 914.0L691.7 917.8L688.4 922.2L684.5 928.0L681.2 933.4L678.5 938.0L676.2 942.2L675.3 944.0L675.3 944.0L675.3 944.0L675.3 944.0L675.3 944.0L675.3 944.0L675.3 944.0L675.3 944.0L675.3 944.0L675.3 944.0L675.3 944.0L675.3 944.0L675.3 944.0L675.3 944.0L675.3 944.0L675.3 944.0L675.3 944.0L675.3 944.0L675.3 944.0L675.3 944.0L675.3 944.0L675.3 944.0L675.3 944.0L675.4 942.1L675.5 937.3L675.5 930.5L675.3 923.1L674.7 912.2L673.8 901.3L672.7 894.8L671.5 889.6L670.2 885.8L668.9 883.0L667.5 880.7L666.1 878.7L664.7 877.1L663.3 875.7L661.8 874.4L660.3 873.3L658.8 872.4L657.2 871.5L655.7 870.8L654.1 870.2L652.5 869.6L650.9 869.0L649.3 868.5L647.6 868.0L645.9 867.4L644.2 866.9L642.4 866.5L640.6 866.1L638.8 865.7L637.0 865.4L635.1 865.1L633.2 864.8L631.3 864.6L629.3 864.4L627.3 864.2L625.3 864.0L623.2 863.8L621.1 863.7L619.0 863.6L616.8 863.5L614.6 863.5L612.4 863.6L610.2 863.7L608.0 863.8L605.8 864.1L603.6 864.3L601.3 864.7L599.1 865.1L596.8 865.5L594.5 866.0L592.3 866.6L590.0 867.2L587.8 867.9L585.6 868.7L583.4 869.6L581.4 870.6L579.3 871.7L577.3 872.8L575.3 874.0L573.3 875.2L571.4 876.5L569.5 877.9L567.7 879.4L566.0 880.9L564.4 882.5L562.8 884.2L561.2 885.9L559.7 887.6L558.3 889.4L556.9 891.3L555.6 893.2L554.4 895.1L553.2 897.1L552.1 899.2L551.1 901.2L550.1 903.3L549.1 905.4L548.2 907.6L547.4 909.7L546.6 911.9L545.9 914.1L545.2 916.4L544.7 918.6L544.2 920.9L543.9 923.2L543.5 925.5L543.2 927.8L543.0 930.1L542.8 932.4L542.6 934.7L542.5 937.0L542.4 939.4L542.4 941.7L542.4 944.0L542.4 946.3L542.4 948.6L542.5 951.0L542.6 953.3L542.8 955.6L543.0 957.9L543.2 960.2L543.5 962.5L543.9 964.8L544.2 967.1L544.7 969.4L545.2 971.6L545.9 973.9L546.6 976.1L547.4 978.3L548.2 980.4L549.1 982.6L550.1 984.7L551.1 986.8L552.1 988.8L553.2 990.9L554.4 992.9L555.6 994.8L556.9 996.7L558.3 998.6L559.7 1000.4L561.2 1002.1L562.8 1003.8L564.4 1005.5L566.0 1007.1L567.7 1008.6L569.5 1010.1L571.4 1011.5L573.3 1012.8L575.3 1014.0L577.3 1015.2L579.3 1016.3L581.4 1017.4L583.4 1018.4L585.6 1019.3L587.8 1020.1L590.0 1020.8L592.3 1021.4L594.5 1022.0L596.8 1022.5L599.1 1022.9L601.3 1023.3L603.6 1023.7L605.8 1023.9L608.0 1024.2L610.2 1024.3L612.4 1024.4L614.6 1024.5L616.8 1024.5L619.0 1024.4L621.1 1024.3L623.2 1024.2L625.3 1024.0L627.3 1023.8L629.3 1023.6L631.3 1023.4L633.2 1023.2L635.1 1022.9L637.0 1022.6L638.8 1022.3L640.6 1021.9L642.4 1021.5L644.2 1021.1L645.9 1020.6L647.6 1020.0L649.3 1019.5L650.9 1019.0L652.5 1018.4L654.1 1017.8L655.7 1017.2L657.2 1016.5L658.8 1015.6L660.3 1014.7L661.8 1013.6L663.3 1012.3L664.7 1010.9L666.1 1009.3L667.5 1007.3L668.9 1005.0L670.2 1002.2L671.5 998.4L672.7 993.2L673.8 986.7L674.7 975.8L675.3 964.9L675.5 957.5L675.5 950.7L675.4 945.9L675.3 944.0L675.3 944.0L675.3 944.0L675.3 944.0L675.3 944.0L675.3 944.0L675.3 944.0L675.3 944.0L675.3 944.0L675.3 944.0L675.3 944.0L675.3 944.0L675.3 944.0L675.3 944.0L675.3 944.0L675.3 944.0L675.3 944.0L675.3 944.0L675.3 944.0L675.3 944.0L675.3 944.0L675.3 944.0L675.3 944.0L676.2 945.8L678.5 950.0L681.2 954.6L684.5 960.0L688.4 965.8L691.7 970.2L694.8 974.0L697.8 977.3L700.4 979.9L702.8 981.9L705.1 983.6L707.3 985.0L709.4 986.1L711.5 987.2L713.7 988.1L715.9 989.0L718.2 990.0L720.5 990.8L722.9 991.6L725.3 992.3L727.7 992.9L730.2 993.4L732.6 993.8L735.0 994.1L737.4 994.3L739.7 994.3L742.0 994.3L744.2 994.1L746.5 993.8L748.7 993.5L751.1 993.2L753.5 992.9L756.0 992.5L758.6 992.1L761.1 991.6L763.6 991.0L766.1 990.3L768.7 989.6L771.4 988.8L774.0 987.9L776.4 986.9L778.7 985.8L780.5 984.4L782.1 982.9L783.6 981.3L784.9 979.6L786.1 977.9L787.2 976.1L788.1 974.2L788.9 972.3L789.6 970.4L790.2 968.4L790.8 966.4L791.1 964.4L790.9 962.3L790.3 960.2L789.5 958.0L788.6 955.9L787.8 953.8L787.1 951.8L786.3 949.8L785.4 947.8L784.5 945.9L783.5 944.0Z" fill="none" stroke="#d95319" stroke-width="2.9" stroke-linejoin="round"/>
<path d="M731.4 944.0L732.9 943.0L734.3 941.9L735.6 940.8L736.8 939.7L737.9 938.5L738.9 937.3L739.8 936.1L740.7 934.8L741.5 933.5L742.4 932.2L743.1 930.8L743.5 929.5L743.5 928.2L743.1 927.1L742.2 926.1L741.2 925.1L739.9 924.2L738.5 923.5L737.1 922.7L735.7 922.0L734.3 921.4L732.7 920.8L731.0 920.4L729.2 920.0L727.3 919.8L725.3 919.6L723.1 919.6L720.9 919.8L718.5 920.0L716.1 920.4L713.8 920.9L711.4 921.4L709.1 922.0L707.0 922.6L704.8 923.3L702.6 924.2L700.2 925.3L697.5 926.7L694.3 928.7L688.8 932.6L683.3 937.1L680.5 939.3L680.1 939.6L679.7 939.7L679.4 939.9L679.2 940.0L679.0 940.0L678.8 940.1L678.7 940.0L678.7 940.0L679.0 939.4L680.2 937.7L681.8 935.4L683.5 932.6L685.3 929.8L687.3 926.2L689.5 922.1L691.4 918.2L693.1 914.4L694.0 911.6L694.3 909.8L694.3 908.3L693.7 907.8L693.0 907.8L692.1 908.0L691.1 908.4L690.2 908.9L689.3 909.4L688.4 909.9L687.5 910.6L686.6 911.3L685.7 911.9L685.0 912.3L684.4 912.3L683.9 911.8L683.5 911.1L683.1 910.1L682.7 909.0L682.3 907.7L681.9 906.4L681.5 904.6L681.2 902.1L680.8 899.1L680.4 895.9L679.8 892.7L679.1 889.7L678.3 886.3L677.4 882.6L676.4 879.1L675.3 876.3L674.1 874.5L672.8 873.5L671.6 872.7L670.3 871.9L668.9 871.4L667.6 871.0L666.3 870.8L665.0 870.9L663.8 871.3L662.6 872.2L661.6 873.5L660.6 874.9L659.7 876.3L658.8 877.8L658.1 879.6L657.4 881.7L656.9 883.8L656.5 886.1L656.2 888.6L656.1 891.2L656.1 894.0L656.3 896.9L656.6 900.0L657.2 903.3L657.9 906.7L659.0 910.6L660.6 915.2L662.5 919.9L664.4 924.3L666.0 927.9L667.5 931.1L669.2 934.3L670.8 937.0L671.9 939.0L672.3 939.7L672.2 939.8L672.2 939.8L672.1 939.9L672.0 939.9L671.9 940.0L671.9 940.1L671.8 940.1L671.7 940.2L671.7 940.3L671.6 940.3L671.2 940.0L670.2 939.2L668.6 938.0L666.7 936.6L664.7 935.1L661.7 933.0L658.0 930.5L654.0 928.0L649.5 925.3L645.3 923.0L641.9 921.5L639.3 920.6L637.0 920.1L634.9 919.7L633.0 919.6L631.2 919.5L629.4 919.6L627.7 919.7L626.0 919.9L624.2 920.2L622.4 920.4L620.7 920.8L619.1 921.3L617.7 921.9L616.5 922.6L615.5 923.4L614.5 924.2L613.6 925.1L612.8 926.1L612.1 927.1L611.5 928.1L611.1 929.2L611.1 930.4L611.4 931.6L612.0 932.8L612.7 934.1L613.4 935.3L614.2 936.5L615.4 937.7L616.8 938.9L618.2 940.0L619.6 941.1L620.7 942.1L621.5 943.1L621.8 944.0L621.5 944.9L620.7 945.9L619.6 946.9L618.2 948.0L616.8 949.1L615.4 950.3L614.2 951.5L613.4 952.7L612.7 953.9L612.0 955.2L611.4 956.4L611.1 957.6L611.1 958.8L611.5 959.9L612.1 960.9L612.8 961.9L613.6 962.9L614.5 963.8L615.5 964.6L616.5 965.4L617.7 966.1L619.1 966.7L620.7 967.2L622.4 967.6L624.2 967.8L626.0 968.1L627.7 968.3L629.4 968.4L631.2 968.5L633.0 968.4L634.9 968.3L637.0 967.9L639.3 967.4L641.9 966.5L645.3 965.0L649.5 962.7L654.0 960.0L658.0 957.5L661.7 955.0L664.7 952.9L666.7 951.4L668.6 950.0L670.2 948.8L671.2 948.0L671.6 947.7L671.7 947.7L671.7 947.8L671.8 947.9L671.9 947.9L671.9 948.0L672.0 948.1L672.1 948.1L672.2 948.2L672.2 948.2L672.3 948.3L671.9 949.0L670.8 951.0L669.2 953.7L667.5 956.9L666.0 960.1L664.4 963.7L662.5 968.1L660.6 972.8L659.0 977.4L657.9 981.3L657.2 984.7L656.6 988.0L656.3 991.1L656.1 994.0L656.1 996.8L656.2 999.4L656.5 1001.9L656.9 1004.2L657.4 1006.3L658.1 1008.4L658.8 1010.2L659.7 1011.7L660.6 1013.1L661.6 1014.5L662.6 1015.8L663.8 1016.7L665.0 1017.1L666.3 1017.2L667.6 1017.0L668.9 1016.6L670.3 1016.1L671.6 1015.3L672.8 1014.5L674.1 1013.5L675.3 1011.7L676.4 1008.9L677.4 1005.4L678.3 1001.7L679.1 998.3L679.8 995.3L680.4 992.1L680.8 988.9L681.2 985.9L681.5 983.4L681.9 981.6L682.3 980.3L682.7 979.0L683.1 977.9L683.5 976.9L683.9 976.2L684.4 975.7L685.0 975.7L685.7 976.1L686.6 976.7L687.5 977.4L688.4 978.1L689.3 978.6L690.2 979.1L691.1 979.6L692.1 980.0L693.0 980.2L693.7 980.2L694.3 979.7L694.3 978.2L694.0 976.4L693.1 973.6L691.4 969.8L689.5 965.9L687.3 961.8L685.3 958.2L683.5 955.4L681.8 952.6L680.2 950.3L679.0 948.6L678.7 948.0L678.7 948.0L678.8 947.9L679.0 948.0L679.2 948.0L679.4 948.1L679.7 948.3L680.1 948.4L680.5 948.7L683.3 950.9L688.8 955.4L694.3 959.3L697.5 961.3L700.2 962.7L702.6 963.8L704.8 964.7L707.0 965.4L709.1 966.0L711.4 966.6L713.8 967.1L716.1 967.6L718.5 968.0L720.9 968.2L723.1 968.4L725.3 968.4L727.3 968.2L729.2 968.0L731.0 967.6L732.7 967.2L734.3 966.6L735.7 966.0L737.1 965.3L738.5 964.5L739.9 963.8L741.2 962.9L742.2 961.9L743.1 960.9L743.5 959.8L743.5 958.5L743.1 957.2L742.4 955.8L741.5 954.5L740.7 953.2L739.8 951.9L738.9 950.7L737.9 949.5L736.8 948.3L735.6 947.2L734.3 946.1L732.9 945.0L731.4 944.0Z" fill="none" stroke="#0072bd" stroke-width="2.9" stroke-linejoin="round"/>
<path d="M966.3 947.3L1242.3 947.3M984.8 1016.3L1223.8 878.3M1035.3 1066.8L1173.3 827.8M1104.3 1085.3L1104.3 809.3M1173.3 1066.8L1035.3 827.8M1223.8 1016.3L984.8 878.3" stroke="#000" stroke-opacity="0.125" stroke-width="3.8" fill="none"/>
<circle cx="1104.3" cy="947.3" r="39.4" stroke="#000" stroke-opacity="0.125" stroke-width="3.8" fill="none"/>
<circle cx="1104.3" cy="947.3" r="78.9" stroke="#000" stroke-opacity="0.125" stroke-width="3.8" fill="none"/>
<circle cx="1104.3" cy="947.3" r="118.3" stroke="#000" stroke-opacity="0.125" stroke-width="3.8" fill="none"/>
<circle cx="1104.3" cy="947.3" r="138.0" stroke="#000" stroke-opacity="0.14" stroke-width="4.3" fill="none"/>
<text x="1103.20" y="792.00" font-family="'Liberation Serif','DejaVu Serif',serif" font-weight="bold" font-size="30" text-anchor="middle" fill="#1c1c1c">90</text>
<text x="1102.90" y="1123.90" font-family="'Liberation Serif','DejaVu Serif',serif" font-weight="bold" font-size="30" text-anchor="middle" fill="#1c1c1c">270</text>
<text x="1177.05" y="812.80" font-family="'Liberation Serif','DejaVu Serif',serif" font-weight="bold" font-size="30" text-anchor="start" fill="#1c1c1c">60</text>
<text x="1028.65" y="813.00" font-family="'Liberation Serif','DejaVu Serif',serif" font-weight="bold" font-size="30" text-anchor="end" fill="#1c1c1c">120</text>
<text x="1230.65" y="866.90" font-family="'Liberation Serif','DejaVu Serif',serif" font-weight="bold" font-size="30" text-anchor="start" fill="#1c1c1c">30</text>
<text x="974.65" y="866.90" font-family="'Liberation Serif','DejaVu Serif',serif" font-weight="bold" font-size="30" text-anchor="end" fill="#1c1c1c">150</text>
<text x="1250.85" y="958.20" font-family="'Liberation Serif','DejaVu Serif',serif" font-weight="bold" font-size="30" text-anchor="start" fill="#1c1c1c">0</text>
<text x="955.45" y="958.50" font-family="'Liberation Serif','DejaVu Serif',serif" font-weight="bold" font-size="30" text-anchor="end" fill="#1c1c1c">180</text>
<text x="1230.05" y="1048.90" font-family="'Liberation Serif','DejaVu Serif',serif" font-weight="bold" font-size="30" text-anchor="start" fill="#1c1c1c">330</text>
<text x="974.15" y="1048.90" font-family="'Liberation Serif','DejaVu Serif',serif" font-weight="bold" font-size="30" text-anchor="end" fill="#1c1c1c">210</text>
<text x="1177.25" y="1103.10" font-family="'Liberation Serif','DejaVu Serif',serif" font-weight="bold" font-size="30" text-anchor="start" fill="#1c1c1c">300</text>
<text x="1027.75" y="1103.10" font-family="'Liberation Serif','DejaVu Serif',serif" font-weight="bold" font-size="30" text-anchor="end" fill="#1c1c1c">240</text>
<text x="1102.70" y="957.60" font-family="'Liberation Serif','DejaVu Serif',serif" font-weight="bold" font-size="30" text-anchor="middle" fill="#1c1c1c">0</text>
<text x="1109.55" y="918.77" font-family="'Liberation Serif','DejaVu Serif',serif" font-weight="bold" font-size="30" text-anchor="middle" fill="#1c1c1c">0.2</text>
<text x="1116.39" y="879.94" font-family="'Liberation Serif','DejaVu Serif',serif" font-weight="bold" font-size="30" text-anchor="middle" fill="#1c1c1c">0.4</text>
<text x="1123.24" y="841.11" font-family="'Liberation Serif','DejaVu Serif',serif" font-weight="bold" font-size="30" text-anchor="middle" fill="#1c1c1c">0.6</text>
<path d="M1212.9 947.3L1212.9 945.4L1212.7 943.5L1212.4 941.6L1212.0 939.8L1211.6 937.9L1211.1 936.1L1210.5 934.3L1209.8 932.5L1209.1 930.7L1208.3 929.0L1207.5 927.2L1206.7 925.5L1205.8 923.9L1204.7 922.3L1203.5 920.7L1202.2 919.2L1200.7 917.8L1199.2 916.5L1197.7 915.1L1196.1 913.9L1194.6 912.6L1193.1 911.4L1191.6 910.2L1190.2 909.0L1188.8 907.9L1187.4 906.8L1185.9 905.7L1184.5 904.7L1183.0 903.7L1181.6 902.7L1180.2 901.7L1178.7 900.8L1177.3 899.9L1175.9 899.0L1174.4 898.2L1172.9 897.4L1171.5 896.7L1170.0 895.9L1168.6 895.2L1167.3 894.4L1166.0 893.6L1164.8 892.8L1163.6 892.0L1162.5 891.1L1161.3 890.3L1160.1 889.5L1159.0 888.7L1157.8 887.8L1156.7 887.0L1155.6 886.2L1154.4 885.4L1153.3 884.6L1152.1 883.8L1151.0 883.0L1149.9 882.2L1148.8 881.3L1147.8 880.3L1146.8 879.3L1145.7 878.4L1144.7 877.3L1143.7 876.2L1142.8 875.0L1141.8 873.7L1140.9 872.3L1139.9 870.9L1138.9 869.5L1137.9 868.2L1136.8 866.8L1135.7 865.5L1134.5 864.2L1133.3 863.0L1132.1 861.7L1130.8 860.5L1129.5 859.2L1128.2 858.1L1126.8 857.0L1125.4 856.0L1123.9 855.0L1122.4 854.1L1120.9 853.2L1119.3 852.4L1117.7 851.7L1116.1 851.0L1114.5 850.4L1112.8 849.7L1111.2 849.2L1109.5 848.7L1107.8 848.3L1106.0 848.0L1104.3 847.9L1102.6 848.0L1100.8 848.3L1099.1 848.7L1097.4 849.1L1095.8 849.7L1094.1 850.3L1092.5 851.0L1090.9 851.7L1089.3 852.4L1087.7 853.3L1086.2 854.2L1084.7 855.1L1083.3 856.2L1081.8 857.3L1080.5 858.4L1079.1 859.5L1077.8 860.7L1076.6 862.0L1075.4 863.4L1074.3 864.9L1073.3 866.5L1072.3 868.0L1071.3 869.6L1070.4 871.1L1069.5 872.6L1068.6 874.0L1067.6 875.3L1066.6 876.5L1065.6 877.5L1064.6 878.6L1063.7 879.7L1062.7 880.7L1061.7 881.8L1060.8 882.8L1059.8 883.7L1058.8 884.7L1057.8 885.6L1056.8 886.5L1055.8 887.4L1054.8 888.3L1053.8 889.2L1052.8 890.1L1051.9 891.1L1050.9 892.0L1049.9 892.9L1048.8 893.7L1047.7 894.5L1046.5 895.2L1045.2 895.9L1044.0 896.7L1042.7 897.4L1041.5 898.2L1040.2 899.0L1038.8 899.7L1037.5 900.5L1036.1 901.3L1034.7 902.1L1033.4 903.0L1032.1 903.9L1030.8 904.9L1029.6 905.9L1028.4 906.9L1027.2 908.0L1026.1 909.1L1024.9 910.3L1023.8 911.5L1022.7 912.7L1021.6 913.9L1020.5 915.1L1019.4 916.4L1018.3 917.7L1017.2 919.0L1016.1 920.3L1014.9 921.7L1013.7 923.0L1012.4 924.4L1011.1 925.8L1009.9 927.2L1008.8 928.7L1007.7 930.3L1006.8 931.9L1006.1 933.5L1005.5 935.2L1004.9 936.9L1004.4 938.6L1003.9 940.3L1003.5 942.0L1003.2 943.8L1003.0 945.5L1003.0 947.3L1003.0 949.1L1003.2 950.8L1003.5 952.6L1003.9 954.3L1004.4 956.0L1004.9 957.7L1005.5 959.4L1006.1 961.1L1006.8 962.7L1007.7 964.3L1008.8 965.9L1009.9 967.4L1011.1 968.8L1012.4 970.2L1013.7 971.6L1014.9 972.9L1016.1 974.3L1017.2 975.6L1018.3 976.9L1019.4 978.2L1020.5 979.5L1021.6 980.7L1022.7 981.9L1023.8 983.1L1024.9 984.3L1026.1 985.5L1027.2 986.6L1028.4 987.7L1029.6 988.7L1030.8 989.7L1032.1 990.7L1033.4 991.6L1034.7 992.5L1036.1 993.3L1037.5 994.1L1038.8 994.9L1040.2 995.6L1041.5 996.4L1042.7 997.2L1044.0 997.9L1045.2 998.7L1046.5 999.4L1047.7 1000.1L1048.8 1000.9L1049.9 1001.7L1050.9 1002.6L1051.9 1003.5L1052.8 1004.5L1053.8 1005.4L1054.8 1006.3L1055.8 1007.2L1056.8 1008.1L1057.8 1009.0L1058.8 1009.9L1059.8 1010.9L1060.8 1011.8L1061.7 1012.8L1062.7 1013.9L1063.7 1014.9L1064.6 1016.0L1065.6 1017.1L1066.6 1018.1L1067.6 1019.3L1068.6 1020.6L1069.5 1022.0L1070.4 1023.5L1071.3 1025.0L1072.3 1026.6L1073.3 1028.1L1074.3 1029.7L1075.4 1031.2L1076.6 1032.6L1077.8 1033.9L1079.1 1035.1L1080.5 1036.2L1081.8 1037.3L1083.3 1038.4L1084.7 1039.5L1086.2 1040.4L1087.7 1041.3L1089.3 1042.2L1090.9 1042.9L1092.5 1043.6L1094.1 1044.3L1095.8 1044.9L1097.4 1045.5L1099.1 1045.9L1100.8 1046.3L1102.6 1046.6L1104.3 1046.7L1106.0 1046.6L1107.8 1046.3L1109.5 1045.9L1111.2 1045.4L1112.8 1044.9L1114.5 1044.2L1116.1 1043.6L1117.7 1042.9L1119.3 1042.2L1120.9 1041.4L1122.4 1040.5L1123.9 1039.6L1125.4 1038.6L1126.8 1037.6L1128.2 1036.5L1129.5 1035.4L1130.8 1034.1L1132.1 1032.9L1133.3 1031.6L1134.5 1030.4L1135.7 1029.1L1136.8 1027.8L1137.9 1026.4L1138.9 1025.1L1139.9 1023.7L1140.9 1022.3L1141.8 1020.9L1142.8 1019.6L1143.7 1018.4L1144.7 1017.3L1145.7 1016.2L1146.8 1015.3L1147.8 1014.3L1148.8 1013.3L1149.9 1012.4L1151.0 1011.6L1152.1 1010.8L1153.3 1010.0L1154.4 1009.2L1155.6 1008.4L1156.7 1007.6L1157.8 1006.8L1159.0 1005.9L1160.1 1005.1L1161.3 1004.3L1162.5 1003.5L1163.6 1002.6L1164.8 1001.8L1166.0 1001.0L1167.3 1000.2L1168.6 999.4L1170.0 998.7L1171.5 997.9L1172.9 997.2L1174.4 996.4L1175.9 995.6L1177.3 994.7L1178.7 993.8L1180.2 992.9L1181.6 991.9L1183.0 990.9L1184.5 989.9L1185.9 988.9L1187.4 987.8L1188.8 986.7L1190.2 985.6L1191.6 984.4L1193.1 983.2L1194.6 982.0L1196.1 980.7L1197.7 979.5L1199.2 978.1L1200.7 976.8L1202.2 975.4L1203.5 973.9L1204.7 972.3L1205.8 970.7L1206.7 969.1L1207.5 967.4L1208.3 965.6L1209.1 963.9L1209.8 962.1L1210.5 960.3L1211.1 958.5L1211.6 956.7L1212.0 954.8L1212.4 953.0L1212.7 951.1L1212.9 949.2L1212.9 947.3Z" fill="none" stroke="#d95319" stroke-width="2.9" stroke-linejoin="round"/>
<path d="M1154.0 947.3L1153.9 946.4L1153.7 945.6L1153.4 944.7L1153.0 943.9L1152.6 943.1L1152.1 942.3L1151.6 941.5L1151.0 940.7L1150.4 940.0L1149.8 939.3L1149.0 938.6L1148.1 938.0L1147.1 937.4L1145.9 936.9L1144.3 936.6L1141.6 936.6L1138.2 936.9L1134.5 937.5L1131.0 938.1L1128.2 938.6L1125.4 939.2L1122.8 939.8L1120.3 940.5L1117.9 941.2L1115.3 942.2L1112.6 943.3L1110.4 944.2L1109.5 944.5L1109.5 944.4L1109.7 944.2L1109.9 944.0L1110.2 943.6L1111.4 942.7L1113.8 940.9L1116.8 938.6L1119.6 936.2L1122.4 933.7L1125.4 930.8L1128.2 927.9L1130.4 925.4L1132.1 923.1L1133.6 920.9L1134.9 918.8L1135.7 917.0L1136.1 915.5L1136.1 914.3L1136.1 913.2L1135.8 912.3L1135.3 911.6L1134.5 911.3L1133.3 911.5L1131.9 912.0L1130.3 912.8L1128.7 913.7L1127.0 914.8L1125.2 916.4L1123.0 918.5L1120.7 921.0L1118.3 924.0L1115.2 928.4L1112.1 933.2L1109.9 936.9L1108.2 939.6L1106.9 941.9L1106.4 942.8L1106.3 942.7L1106.3 942.5L1106.4 942.2L1106.4 941.8L1107.9 937.5L1111.0 928.0L1114.2 916.9L1117.9 902.8L1120.9 889.4L1121.9 881.6L1122.3 875.2L1122.2 869.7L1121.9 864.5L1121.4 859.1L1120.8 853.6L1120.0 848.2L1118.9 843.3L1117.6 839.0L1116.0 835.5L1114.4 832.2L1112.6 829.0L1110.6 826.5L1108.6 824.9L1106.4 824.6L1104.3 825.4L1102.2 827.2L1100.2 829.8L1098.3 832.7L1096.5 836.1L1095.0 841.1L1093.8 847.6L1093.0 854.9L1092.4 862.6L1092.2 871.0L1092.6 880.7L1093.5 891.8L1095.5 905.8L1097.9 919.5L1101.0 934.0L1102.8 941.6L1102.7 941.6L1102.6 941.6L1102.5 941.7L1102.4 941.7L1102.3 941.7L1101.5 939.9L1099.5 935.3L1096.7 929.3L1093.3 922.5L1088.2 912.8L1082.4 902.4L1075.8 891.3L1072.2 887.0L1069.8 885.1L1067.8 884.1L1066.1 883.7L1064.5 883.6L1063.0 883.7L1061.6 883.9L1060.3 884.5L1059.3 885.4L1058.6 886.7L1058.2 888.3L1057.9 890.0L1057.8 891.9L1057.8 893.8L1057.8 895.7L1057.9 897.5L1058.2 899.5L1058.6 901.6L1059.2 903.7L1059.8 905.8L1060.6 907.9L1061.4 910.0L1062.2 912.0L1063.1 913.9L1064.3 916.1L1065.7 918.2L1067.1 920.3L1068.3 922.1L1068.9 923.4L1068.8 924.2L1068.0 924.6L1066.9 924.8L1065.4 924.8L1063.7 924.8L1061.9 924.8L1060.1 924.8L1058.3 924.9L1056.5 925.0L1054.4 925.1L1052.2 925.2L1050.0 925.3L1047.7 925.6L1045.5 925.9L1043.5 926.4L1041.8 927.0L1040.3 927.7L1039.0 928.6L1037.8 929.5L1036.6 930.4L1035.5 931.4L1034.5 932.5L1033.5 933.5L1032.7 934.7L1031.9 935.8L1031.2 937.0L1030.6 938.3L1030.0 939.5L1029.5 940.8L1029.0 942.0L1028.6 943.3L1028.3 944.6L1028.1 946.0L1028.0 947.3L1028.1 948.6L1028.3 950.0L1028.6 951.3L1029.0 952.6L1029.5 953.8L1030.0 955.1L1030.6 956.3L1031.2 957.6L1031.9 958.8L1032.7 959.9L1033.5 961.1L1034.5 962.1L1035.5 963.2L1036.6 964.2L1037.8 965.1L1039.0 966.0L1040.3 966.9L1041.8 967.6L1043.5 968.2L1045.5 968.7L1047.7 969.0L1050.0 969.3L1052.2 969.4L1054.4 969.5L1056.5 969.6L1058.3 969.7L1060.1 969.8L1061.9 969.8L1063.7 969.8L1065.4 969.8L1066.9 969.8L1068.0 970.0L1068.8 970.4L1068.9 971.2L1068.3 972.5L1067.1 974.3L1065.7 976.4L1064.3 978.5L1063.1 980.7L1062.2 982.6L1061.4 984.6L1060.6 986.7L1059.8 988.8L1059.2 990.9L1058.6 993.0L1058.2 995.1L1057.9 997.1L1057.8 998.9L1057.8 1000.8L1057.8 1002.7L1057.9 1004.6L1058.2 1006.3L1058.6 1007.9L1059.3 1009.2L1060.3 1010.1L1061.6 1010.7L1063.0 1010.9L1064.5 1011.0L1066.1 1010.9L1067.8 1010.5L1069.8 1009.5L1072.2 1007.6L1075.8 1003.3L1082.4 992.2L1088.2 981.8L1093.3 972.1L1096.7 965.3L1099.5 959.3L1101.5 954.7L1102.3 952.9L1102.4 952.9L1102.5 952.9L1102.6 953.0L1102.7 953.0L1102.8 953.0L1101.0 960.6L1097.9 975.1L1095.5 988.8L1093.5 1002.8L1092.6 1013.9L1092.2 1023.6L1092.4 1032.0L1093.0 1039.7L1093.8 1047.0L1095.0 1053.5L1096.5 1058.5L1098.3 1061.9L1100.2 1064.8L1102.2 1067.4L1104.3 1069.2L1106.4 1070.0L1108.6 1069.7L1110.6 1068.1L1112.6 1065.6L1114.4 1062.4L1116.0 1059.1L1117.6 1055.6L1118.9 1051.3L1120.0 1046.4L1120.8 1041.0L1121.4 1035.5L1121.9 1030.1L1122.2 1024.9L1122.3 1019.4L1121.9 1013.0L1120.9 1005.2L1117.9 991.8L1114.2 977.7L1111.0 966.6L1107.9 957.1L1106.4 952.8L1106.4 952.4L1106.3 952.1L1106.3 951.9L1106.4 951.8L1106.9 952.7L1108.2 955.0L1109.9 957.7L1112.1 961.4L1115.2 966.2L1118.3 970.6L1120.7 973.6L1123.0 976.1L1125.2 978.2L1127.0 979.8L1128.7 980.9L1130.3 981.8L1131.9 982.6L1133.3 983.1L1134.5 983.3L1135.3 983.0L1135.8 982.3L1136.1 981.4L1136.1 980.3L1136.1 979.1L1135.7 977.6L1134.9 975.8L1133.6 973.7L1132.1 971.5L1130.4 969.2L1128.2 966.7L1125.4 963.8L1122.4 960.9L1119.6 958.4L1116.8 956.0L1113.8 953.7L1111.4 951.9L1110.2 951.0L1109.9 950.6L1109.7 950.4L1109.5 950.2L1109.5 950.1L1110.4 950.4L1112.6 951.3L1115.3 952.4L1117.9 953.4L1120.3 954.1L1122.8 954.8L1125.4 955.4L1128.2 956.0L1131.0 956.5L1134.5 957.1L1138.2 957.7L1141.6 958.0L1144.3 958.0L1145.9 957.7L1147.1 957.2L1148.1 956.6L1149.0 956.0L1149.8 955.3L1150.4 954.6L1151.0 953.9L1151.6 953.1L1152.1 952.3L1152.6 951.5L1153.0 950.7L1153.4 949.9L1153.7 949.0L1153.9 948.2L1154.0 947.3Z" fill="none" stroke="#0072bd" stroke-width="2.9" stroke-linejoin="round"/>
<path d="M1424.3 947.3L1702.3 947.3M1442.9 1016.8L1683.7 877.8M1493.8 1067.7L1632.8 826.9M1563.3 1086.3L1563.3 808.3M1632.8 1067.7L1493.8 826.9M1683.7 1016.8L1442.9 877.8" stroke="#000" stroke-opacity="0.125" stroke-width="3.8" fill="none"/>
<circle cx="1563.3" cy="947.3" r="34.8" stroke="#000" stroke-opacity="0.125" stroke-width="3.8" fill="none"/>
<circle cx="1563.3" cy="947.3" r="69.5" stroke="#000" stroke-opacity="0.125" stroke-width="3.8" fill="none"/>
<circle cx="1563.3" cy="947.3" r="104.2" stroke="#000" stroke-opacity="0.125" stroke-width="3.8" fill="none"/>
<circle cx="1563.3" cy="947.3" r="139.0" stroke="#000" stroke-opacity="0.26" stroke-width="4.3" fill="none"/>
<text x="1562.20" y="792.00" font-family="'Liberation Serif','DejaVu Serif',serif" font-weight="bold" font-size="30" text-anchor="middle" fill="#1c1c1c">90</text>
<text x="1561.90" y="1123.90" font-family="'Liberation Serif','DejaVu Serif',serif" font-weight="bold" font-size="30" text-anchor="middle" fill="#1c1c1c">270</text>
<text x="1636.05" y="812.80" font-family="'Liberation Serif','DejaVu Serif',serif" font-weight="bold" font-size="30" text-anchor="start" fill="#1c1c1c">60</text>
<text x="1487.65" y="813.00" font-family="'Liberation Serif','DejaVu Serif',serif" font-weight="bold" font-size="30" text-anchor="end" fill="#1c1c1c">120</text>
<text x="1689.65" y="866.90" font-family="'Liberation Serif','DejaVu Serif',serif" font-weight="bold" font-size="30" text-anchor="start" fill="#1c1c1c">30</text>
<text x="1433.65" y="866.90" font-family="'Liberation Serif','DejaVu Serif',serif" font-weight="bold" font-size="30" text-anchor="end" fill="#1c1c1c">150</text>
<text x="1709.85" y="958.20" font-family="'Liberation Serif','DejaVu Serif',serif" font-weight="bold" font-size="30" text-anchor="start" fill="#1c1c1c">0</text>
<text x="1414.45" y="958.50" font-family="'Liberation Serif','DejaVu Serif',serif" font-weight="bold" font-size="30" text-anchor="end" fill="#1c1c1c">180</text>
<text x="1689.05" y="1048.90" font-family="'Liberation Serif','DejaVu Serif',serif" font-weight="bold" font-size="30" text-anchor="start" fill="#1c1c1c">330</text>
<text x="1433.15" y="1048.90" font-family="'Liberation Serif','DejaVu Serif',serif" font-weight="bold" font-size="30" text-anchor="end" fill="#1c1c1c">210</text>
<text x="1636.25" y="1103.10" font-family="'Liberation Serif','DejaVu Serif',serif" font-weight="bold" font-size="30" text-anchor="start" fill="#1c1c1c">300</text>
<text x="1486.75" y="1103.10" font-family="'Liberation Serif','DejaVu Serif',serif" font-weight="bold" font-size="30" text-anchor="end" fill="#1c1c1c">240</text>
<text x="1561.70" y="957.60" font-family="'Liberation Serif','DejaVu Serif',serif" font-weight="bold" font-size="30" text-anchor="middle" fill="#1c1c1c">0</text>
<text x="1567.73" y="923.38" font-family="'Liberation Serif','DejaVu Serif',serif" font-weight="bold" font-size="30" text-anchor="middle" fill="#1c1c1c">0.2</text>
<text x="1573.77" y="889.16" font-family="'Liberation Serif','DejaVu Serif',serif" font-weight="bold" font-size="30" text-anchor="middle" fill="#1c1c1c">0.4</text>
<text x="1579.80" y="854.93" font-family="'Liberation Serif','DejaVu Serif',serif" font-weight="bold" font-size="30" text-anchor="middle" fill="#1c1c1c">0.6</text>
<text x="1585.84" y="820.71" font-family="'Liberation Serif','DejaVu Serif',serif" font-weight="bold" font-size="30" text-anchor="middle" fill="#1c1c1c">0.8</text>
<path d="M1671.5 947.3L1672.5 945.4L1673.4 943.5L1674.3 941.5L1675.1 939.5L1675.8 937.5L1676.6 935.4L1677.5 933.3L1678.3 931.1L1678.9 929.0L1679.1 926.9L1678.8 924.9L1678.2 922.9L1677.6 920.9L1676.9 919.0L1676.1 917.1L1675.2 915.2L1674.1 913.4L1672.9 911.7L1671.6 910.0L1670.1 908.4L1668.5 906.9L1666.7 905.5L1664.4 904.4L1662.0 903.4L1659.4 902.5L1656.7 901.7L1654.1 901.0L1651.6 900.3L1649.1 899.7L1646.6 899.2L1644.0 898.8L1641.5 898.4L1639.1 898.1L1636.7 897.8L1634.5 897.5L1632.2 897.2L1630.0 897.0L1627.7 897.0L1625.4 897.0L1623.0 897.2L1620.6 897.5L1618.2 897.9L1615.7 898.4L1613.3 899.0L1610.9 899.7L1608.5 900.5L1606.2 901.3L1603.9 902.3L1601.7 903.2L1599.5 904.1L1597.4 905.2L1595.3 906.3L1593.1 907.7L1590.8 909.4L1588.4 911.4L1585.8 914.0L1582.8 917.3L1579.7 921.1L1576.4 925.5L1572.5 931.3L1569.2 936.7L1566.5 941.3L1564.2 945.5L1563.3 947.3L1563.3 947.3L1563.3 947.3L1563.3 947.3L1563.3 947.3L1563.3 947.3L1563.3 947.3L1563.3 947.3L1563.3 947.3L1563.3 947.3L1563.3 947.3L1563.3 947.3L1563.3 947.3L1563.3 947.3L1563.3 947.3L1563.3 947.3L1563.3 947.3L1563.3 947.3L1563.3 947.3L1563.3 947.3L1563.3 947.3L1563.3 947.3L1563.3 947.3L1563.4 945.4L1563.5 940.6L1563.5 933.8L1563.3 926.4L1562.7 915.5L1561.8 904.6L1560.7 898.1L1559.5 892.9L1558.2 889.1L1556.9 886.3L1555.5 884.0L1554.1 882.0L1552.7 880.4L1551.3 879.0L1549.8 877.7L1548.3 876.6L1546.8 875.7L1545.2 874.8L1543.7 874.1L1542.1 873.5L1540.5 872.9L1538.9 872.3L1537.3 871.8L1535.6 871.3L1533.9 870.7L1532.2 870.2L1530.4 869.8L1528.6 869.4L1526.8 869.0L1525.0 868.7L1523.1 868.4L1521.2 868.1L1519.3 867.9L1517.3 867.7L1515.3 867.5L1513.3 867.3L1511.2 867.1L1509.1 867.0L1507.0 866.9L1504.8 866.8L1502.6 866.8L1500.4 866.9L1498.2 867.0L1496.0 867.1L1493.8 867.4L1491.6 867.6L1489.3 868.0L1487.1 868.4L1484.8 868.8L1482.5 869.3L1480.3 869.9L1478.0 870.5L1475.8 871.2L1473.6 872.0L1471.4 872.9L1469.4 873.9L1467.3 875.0L1465.3 876.1L1463.3 877.3L1461.3 878.5L1459.4 879.8L1457.5 881.2L1455.7 882.7L1454.0 884.2L1452.4 885.8L1450.8 887.5L1449.2 889.2L1447.7 890.9L1446.3 892.7L1444.9 894.6L1443.6 896.5L1442.4 898.4L1441.2 900.4L1440.1 902.5L1439.1 904.5L1438.1 906.6L1437.1 908.7L1436.2 910.9L1435.4 913.0L1434.6 915.2L1433.9 917.4L1433.2 919.7L1432.7 921.9L1432.2 924.2L1431.9 926.5L1431.5 928.8L1431.2 931.1L1431.0 933.4L1430.8 935.7L1430.6 938.0L1430.5 940.3L1430.4 942.7L1430.4 945.0L1430.4 947.3L1430.4 949.6L1430.4 951.9L1430.5 954.3L1430.6 956.6L1430.8 958.9L1431.0 961.2L1431.2 963.5L1431.5 965.8L1431.9 968.1L1432.2 970.4L1432.7 972.7L1433.2 974.9L1433.9 977.2L1434.6 979.4L1435.4 981.6L1436.2 983.7L1437.1 985.9L1438.1 988.0L1439.1 990.1L1440.1 992.1L1441.2 994.2L1442.4 996.2L1443.6 998.1L1444.9 1000.0L1446.3 1001.9L1447.7 1003.7L1449.2 1005.4L1450.8 1007.1L1452.4 1008.8L1454.0 1010.4L1455.7 1011.9L1457.5 1013.4L1459.4 1014.8L1461.3 1016.1L1463.3 1017.3L1465.3 1018.5L1467.3 1019.6L1469.4 1020.7L1471.4 1021.7L1473.6 1022.6L1475.8 1023.4L1478.0 1024.1L1480.3 1024.7L1482.5 1025.3L1484.8 1025.8L1487.1 1026.2L1489.3 1026.6L1491.6 1027.0L1493.8 1027.2L1496.0 1027.5L1498.2 1027.6L1500.4 1027.7L1502.6 1027.8L1504.8 1027.8L1507.0 1027.7L1509.1 1027.6L1511.2 1027.5L1513.3 1027.3L1515.3 1027.1L1517.3 1026.9L1519.3 1026.7L1521.2 1026.5L1523.1 1026.2L1525.0 1025.9L1526.8 1025.6L1528.6 1025.2L1530.4 1024.8L1532.2 1024.4L1533.9 1023.9L1535.6 1023.3L1537.3 1022.8L1538.9 1022.3L1540.5 1021.7L1542.1 1021.1L1543.7 1020.5L1545.2 1019.8L1546.8 1018.9L1548.3 1018.0L1549.8 1016.9L1551.3 1015.6L1552.7 1014.2L1554.1 1012.6L1555.5 1010.6L1556.9 1008.3L1558.2 1005.5L1559.5 1001.7L1560.7 996.5L1561.8 990.0L1562.7 979.1L1563.3 968.1L1563.5 960.8L1563.5 954.0L1563.4 949.2L1563.3 947.3L1563.3 947.3L1563.3 947.3L1563.3 947.3L1563.3 947.3L1563.3 947.3L1563.3 947.3L1563.3 947.3L1563.3 947.3L1563.3 947.3L1563.3 947.3L1563.3 947.3L1563.3 947.3L1563.3 947.3L1563.3 947.3L1563.3 947.3L1563.3 947.3L1563.3 947.3L1563.3 947.3L1563.3 947.3L1563.3 947.3L1563.3 947.3L1563.3 947.3L1564.2 949.1L1566.5 953.3L1569.2 957.9L1572.5 963.3L1576.4 969.1L1579.7 973.5L1582.8 977.3L1585.8 980.6L1588.4 983.2L1590.8 985.2L1593.1 986.9L1595.3 988.3L1597.4 989.4L1599.5 990.5L1601.7 991.4L1603.9 992.3L1606.2 993.3L1608.5 994.1L1610.9 994.9L1613.3 995.6L1615.7 996.2L1618.2 996.7L1620.6 997.1L1623.0 997.4L1625.4 997.6L1627.7 997.6L1630.0 997.6L1632.2 997.4L1634.5 997.1L1636.7 996.8L1639.1 996.5L1641.5 996.2L1644.0 995.8L1646.6 995.4L1649.1 994.9L1651.6 994.3L1654.1 993.6L1656.7 992.9L1659.4 992.1L1662.0 991.2L1664.4 990.2L1666.7 989.1L1668.5 987.7L1670.1 986.2L1671.6 984.6L1672.9 982.9L1674.1 981.2L1675.2 979.4L1676.1 977.5L1676.9 975.6L1677.6 973.7L1678.2 971.7L1678.8 969.7L1679.1 967.7L1678.9 965.6L1678.3 963.5L1677.5 961.3L1676.6 959.2L1675.8 957.1L1675.1 955.1L1674.3 953.1L1673.4 951.1L1672.5 949.2L1671.5 947.3Z" fill="none" stroke="#d95319" stroke-width="2.9" stroke-linejoin="round"/>
<path d="M1617.2 947.3L1618.6 946.3L1619.9 945.3L1621.2 944.3L1622.3 943.2L1623.4 942.0L1624.4 940.9L1625.3 939.7L1626.1 938.5L1626.9 937.2L1627.7 935.9L1628.4 934.6L1628.8 933.4L1628.8 932.2L1628.3 931.1L1627.6 930.1L1626.5 929.2L1625.3 928.3L1624.0 927.6L1622.6 926.9L1621.3 926.2L1619.9 925.6L1618.4 925.0L1616.7 924.6L1615.0 924.3L1613.2 924.0L1611.3 923.9L1609.2 923.9L1607.0 924.0L1604.8 924.3L1602.5 924.7L1600.2 925.1L1598.0 925.6L1595.8 926.2L1593.7 926.8L1591.7 927.4L1589.5 928.3L1587.2 929.3L1584.6 930.7L1581.5 932.6L1576.3 936.4L1570.9 940.7L1568.3 942.8L1567.9 943.0L1567.5 943.2L1567.3 943.3L1567.0 943.4L1566.9 943.5L1566.7 943.5L1566.6 943.5L1566.5 943.5L1566.9 942.9L1568.0 941.3L1569.5 939.1L1571.2 936.4L1572.9 933.6L1574.9 930.2L1576.9 926.3L1578.8 922.6L1580.4 918.9L1581.2 916.2L1581.5 914.4L1581.5 913.0L1581.0 912.6L1580.3 912.5L1579.4 912.8L1578.5 913.2L1577.6 913.6L1576.7 914.0L1575.9 914.6L1575.0 915.2L1574.1 915.9L1573.3 916.5L1572.6 916.9L1572.0 916.8L1571.6 916.4L1571.2 915.7L1570.8 914.8L1570.4 913.7L1570.1 912.5L1569.7 911.2L1569.3 909.4L1569.0 907.0L1568.6 904.2L1568.2 901.1L1567.6 898.1L1566.9 895.2L1566.2 891.9L1565.4 888.4L1564.4 885.0L1563.3 882.3L1562.1 880.6L1560.9 879.6L1559.7 878.8L1558.5 878.1L1557.2 877.6L1555.9 877.2L1554.7 877.0L1553.4 877.1L1552.3 877.5L1551.2 878.4L1550.1 879.6L1549.2 880.9L1548.3 882.3L1547.5 883.8L1546.7 885.5L1546.1 887.5L1545.6 889.5L1545.3 891.8L1545.0 894.1L1544.9 896.6L1544.9 899.3L1545.0 902.1L1545.4 905.1L1545.9 908.2L1546.6 911.5L1547.7 915.3L1549.2 919.6L1551.0 924.2L1552.8 928.4L1554.4 931.8L1555.9 934.9L1557.5 938.0L1559.0 940.6L1560.0 942.5L1560.4 943.2L1560.4 943.3L1560.3 943.3L1560.2 943.4L1560.2 943.4L1560.1 943.5L1560.0 943.5L1560.0 943.6L1559.9 943.6L1559.8 943.7L1559.8 943.8L1559.4 943.5L1558.4 942.7L1556.9 941.5L1555.1 940.1L1553.1 938.7L1550.3 936.7L1546.7 934.4L1542.9 931.9L1538.6 929.3L1534.5 927.1L1531.2 925.7L1528.8 924.9L1526.6 924.3L1524.5 924.0L1522.7 923.8L1520.9 923.8L1519.2 923.9L1517.6 924.0L1515.9 924.2L1514.2 924.4L1512.5 924.7L1510.9 925.0L1509.4 925.5L1508.0 926.1L1506.9 926.8L1505.9 927.5L1504.9 928.3L1504.1 929.2L1503.3 930.1L1502.6 931.0L1502.1 932.0L1501.7 933.1L1501.7 934.2L1502.0 935.4L1502.5 936.6L1503.2 937.8L1503.8 938.9L1504.7 940.1L1505.8 941.3L1507.1 942.4L1508.5 943.5L1509.8 944.5L1510.9 945.5L1511.6 946.4L1511.9 947.3L1511.6 948.2L1510.9 949.1L1509.8 950.1L1508.5 951.1L1507.1 952.2L1505.8 953.3L1504.7 954.5L1503.8 955.7L1503.2 956.8L1502.5 958.0L1502.0 959.2L1501.7 960.4L1501.7 961.5L1502.1 962.6L1502.6 963.6L1503.3 964.5L1504.1 965.4L1504.9 966.3L1505.9 967.1L1506.9 967.8L1508.0 968.5L1509.4 969.1L1510.9 969.6L1512.5 969.9L1514.2 970.2L1515.9 970.4L1517.6 970.6L1519.2 970.7L1520.9 970.8L1522.7 970.8L1524.5 970.6L1526.6 970.3L1528.8 969.7L1531.2 968.9L1534.5 967.5L1538.6 965.3L1542.9 962.7L1546.7 960.2L1550.3 957.9L1553.1 955.9L1555.1 954.5L1556.9 953.1L1558.4 951.9L1559.4 951.1L1559.8 950.8L1559.8 950.9L1559.9 951.0L1560.0 951.0L1560.0 951.1L1560.1 951.1L1560.2 951.2L1560.2 951.2L1560.3 951.3L1560.4 951.3L1560.4 951.4L1560.0 952.1L1559.0 954.0L1557.5 956.6L1555.9 959.7L1554.4 962.8L1552.8 966.2L1551.0 970.4L1549.2 975.0L1547.7 979.3L1546.6 983.1L1545.9 986.4L1545.4 989.5L1545.0 992.5L1544.9 995.3L1544.9 998.0L1545.0 1000.5L1545.3 1002.8L1545.6 1005.1L1546.1 1007.1L1546.7 1009.1L1547.5 1010.8L1548.3 1012.3L1549.2 1013.7L1550.1 1015.0L1551.2 1016.2L1552.3 1017.1L1553.4 1017.5L1554.7 1017.6L1555.9 1017.4L1557.2 1017.0L1558.5 1016.5L1559.7 1015.8L1560.9 1015.0L1562.1 1014.0L1563.3 1012.3L1564.4 1009.6L1565.4 1006.2L1566.2 1002.7L1566.9 999.4L1567.6 996.5L1568.2 993.5L1568.6 990.4L1569.0 987.6L1569.3 985.2L1569.7 983.4L1570.1 982.1L1570.4 980.9L1570.8 979.8L1571.2 978.9L1571.6 978.2L1572.0 977.8L1572.6 977.7L1573.3 978.1L1574.1 978.7L1575.0 979.4L1575.9 980.0L1576.7 980.6L1577.6 981.0L1578.5 981.4L1579.4 981.8L1580.3 982.1L1581.0 982.0L1581.5 981.6L1581.5 980.2L1581.2 978.4L1580.4 975.7L1578.8 972.0L1576.9 968.3L1574.9 964.4L1572.9 961.0L1571.2 958.2L1569.5 955.5L1568.0 953.3L1566.9 951.7L1566.5 951.1L1566.6 951.1L1566.7 951.1L1566.9 951.1L1567.0 951.2L1567.3 951.3L1567.5 951.4L1567.9 951.6L1568.3 951.8L1570.9 953.9L1576.3 958.2L1581.5 962.0L1584.6 963.9L1587.2 965.3L1589.5 966.3L1591.7 967.2L1593.7 967.8L1595.8 968.4L1598.0 969.0L1600.2 969.5L1602.5 969.9L1604.8 970.3L1607.0 970.6L1609.2 970.7L1611.3 970.7L1613.2 970.6L1615.0 970.3L1616.7 970.0L1618.4 969.6L1619.9 969.0L1621.3 968.4L1622.6 967.7L1624.0 967.0L1625.3 966.3L1626.5 965.4L1627.6 964.5L1628.3 963.5L1628.8 962.4L1628.8 961.2L1628.4 960.0L1627.7 958.7L1626.9 957.4L1626.1 956.1L1625.3 954.9L1624.4 953.7L1623.4 952.6L1622.3 951.4L1621.2 950.3L1619.9 949.3L1618.6 948.3L1617.2 947.3Z" fill="none" stroke="#0072bd" stroke-width="2.9" stroke-linejoin="round"/>
</svg></body></html>
